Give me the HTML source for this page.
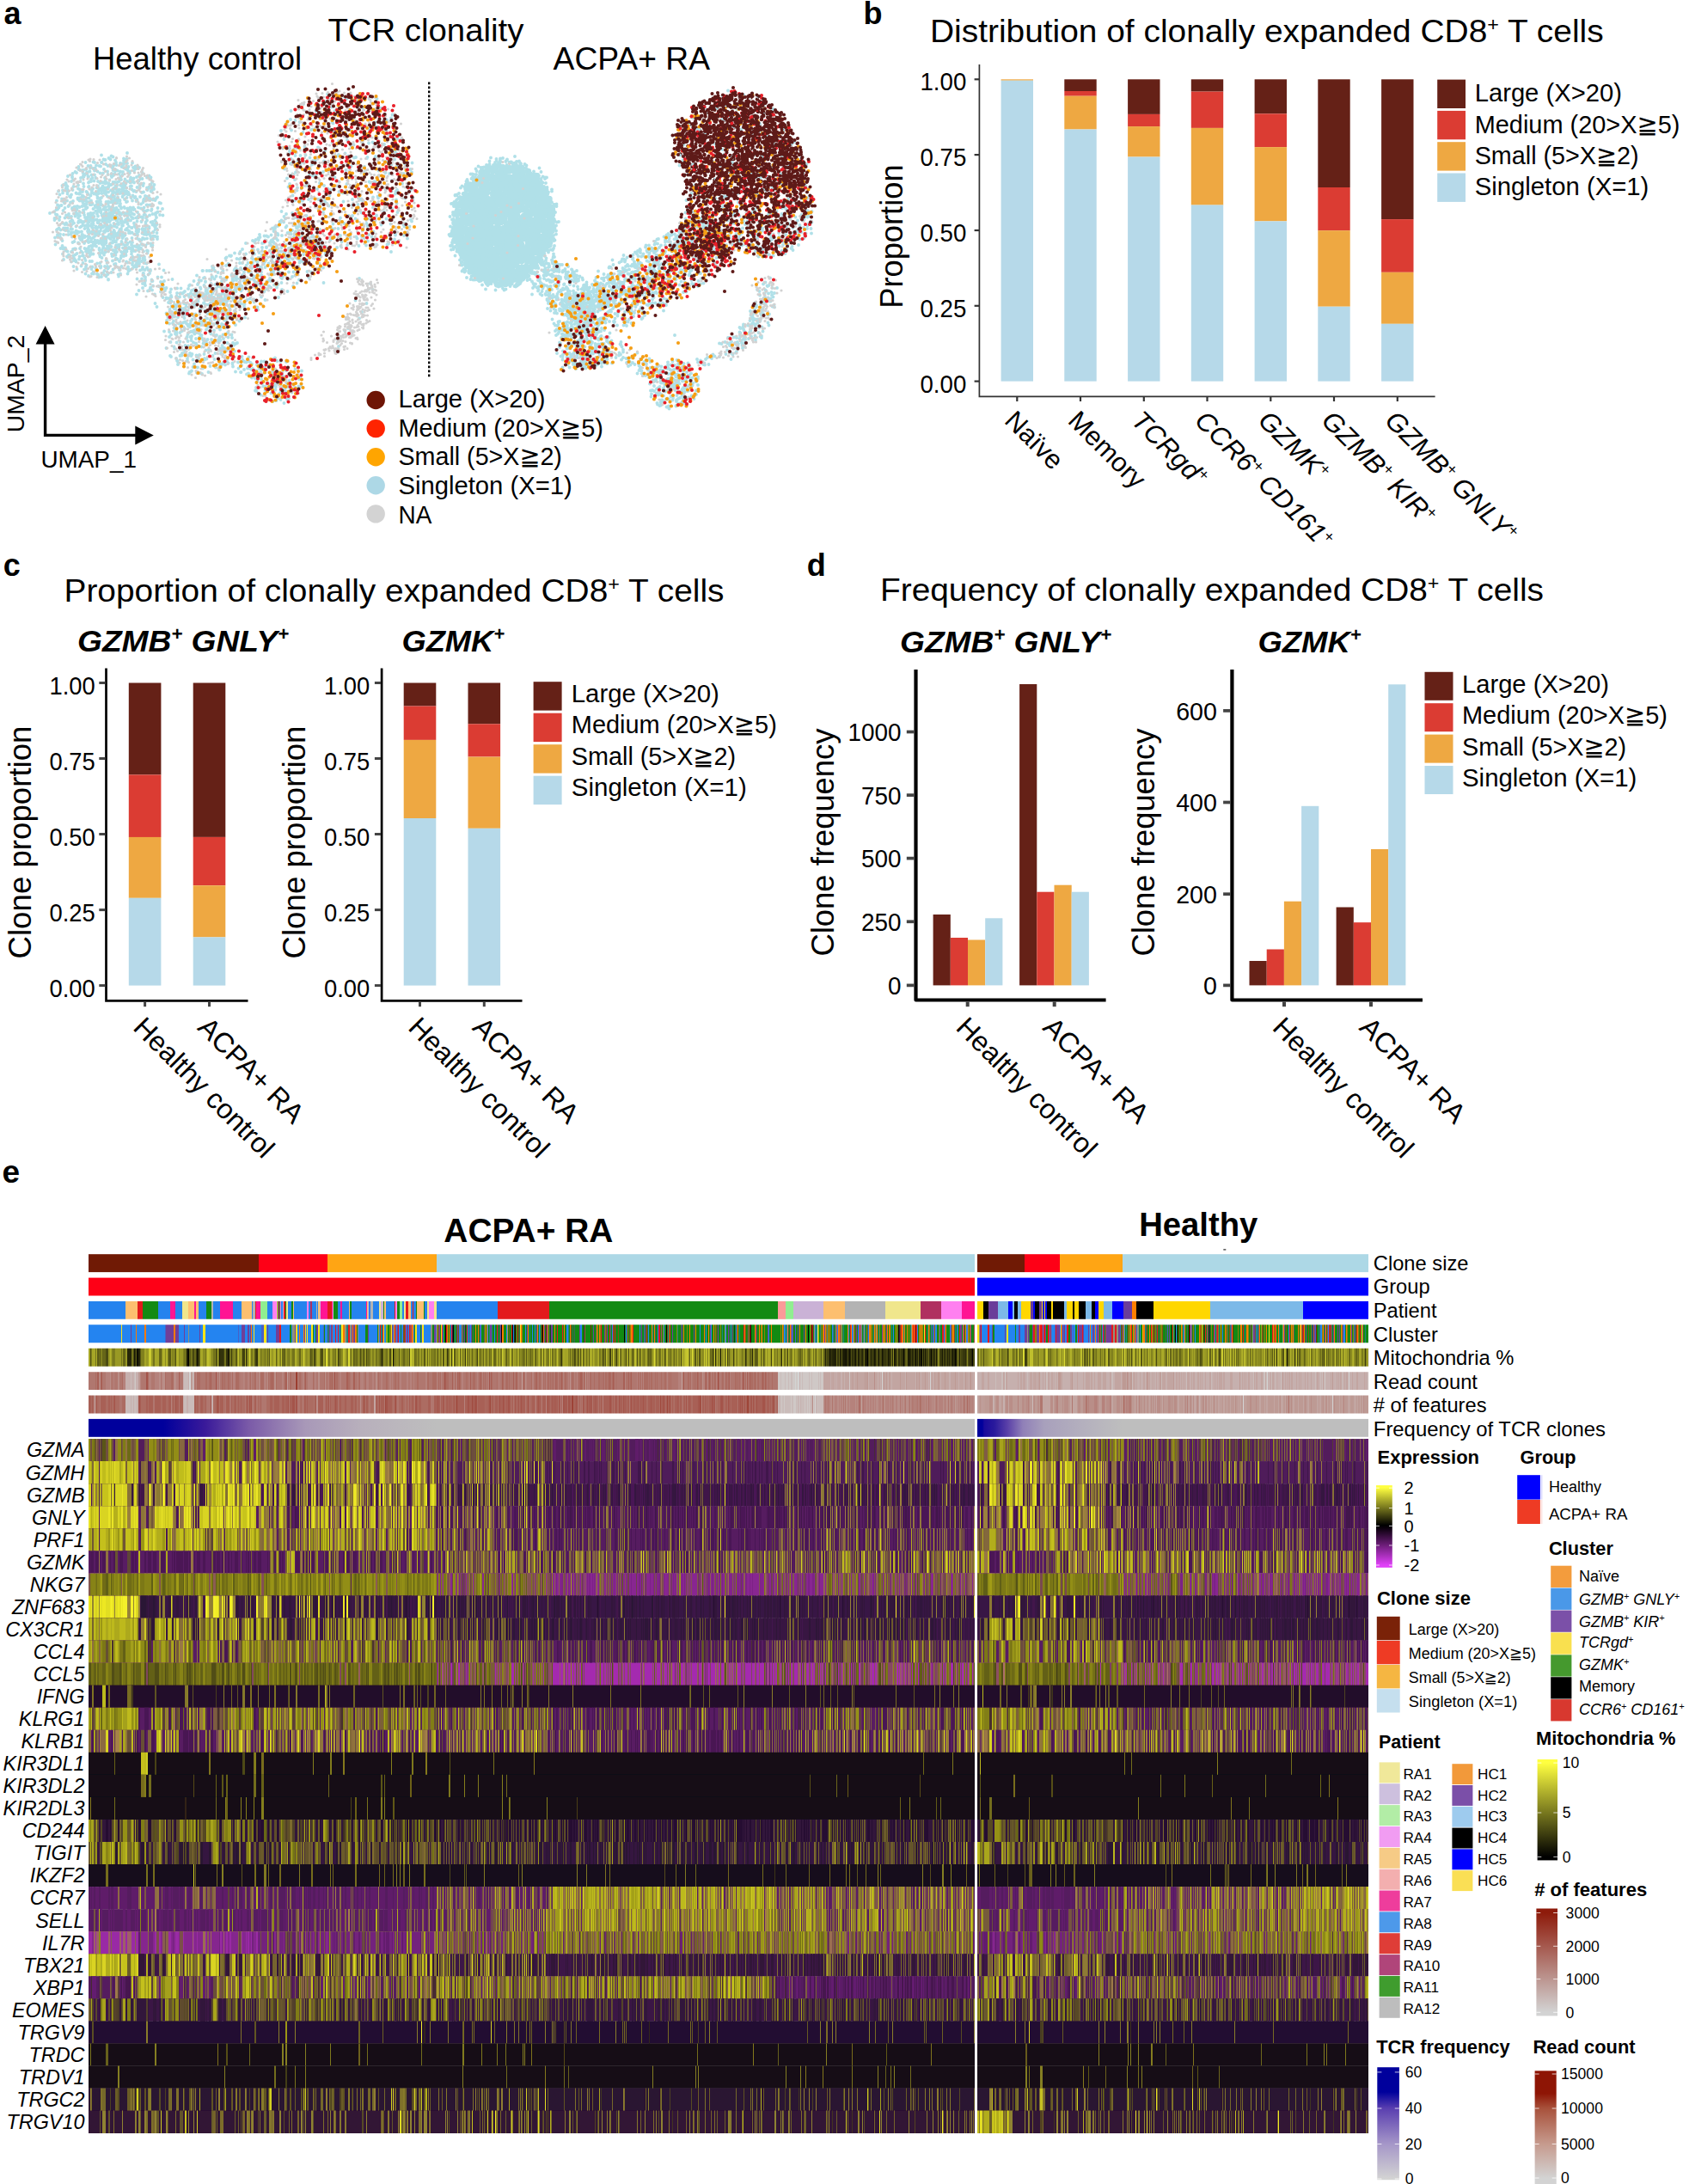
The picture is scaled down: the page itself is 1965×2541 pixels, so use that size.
<!DOCTYPE html>
<html><head><meta charset="utf-8"><title>Figure</title><style>html,body{margin:0;padding:0;background:#fff}svg{display:block}</style></head><body>
<svg width="1965" height="2541" viewBox="0 0 1965 2541" font-family="'Liberation Sans', 'DejaVu Sans', sans-serif" fill="#000">
<text x="4.5" y="28" font-size="36" font-weight="bold" textLength="20" lengthAdjust="spacingAndGlyphs">a</text>
<text x="381.4" y="48.2" font-size="36.6" textLength="228" lengthAdjust="spacingAndGlyphs">TCR clonality</text>
<text x="108" y="81.4" font-size="36.4" textLength="243" lengthAdjust="spacingAndGlyphs">Healthy control</text>
<text x="643.6" y="81.4" font-size="36.4" textLength="182.4" lengthAdjust="spacingAndGlyphs">ACPA+ RA</text>
<path d="M499.2 95.6V439" stroke="#000" stroke-width="2.4" stroke-dasharray="2.7 2.3" fill="none"/>
<path d="M52.6 398V506.4H160" stroke="#000" stroke-width="3.4" fill="none"/>
<path d="M52.6 379L41.6 400.5H63.6Z M178.8 506.4L157.3 495.4V517.4Z" fill="#000"/>
<text x="47.4" y="543.5" font-size="28" textLength="111.6" lengthAdjust="spacingAndGlyphs">UMAP_1</text>
<text transform="translate(28.4 503.3) rotate(-90)" font-size="28" textLength="113.7" lengthAdjust="spacingAndGlyphs">UMAP_2</text>
<circle cx="437.2" cy="465.5" r="10.7" fill="#6e1505"/>
<text x="463.5" y="474.2" font-size="29" textLength="171" lengthAdjust="spacingAndGlyphs">Large (X&gt;20)</text>
<circle cx="437.2" cy="498.6" r="10.7" fill="#ff2400"/>
<text x="463.5" y="507.8" font-size="29" textLength="238.5" lengthAdjust="spacingAndGlyphs">Medium (20&gt;X≧5)</text>
<circle cx="437.2" cy="531.7" r="10.7" fill="#ffa500"/>
<text x="463.5" y="541.4" font-size="29" textLength="190.4" lengthAdjust="spacingAndGlyphs">Small (5&gt;X≧2)</text>
<circle cx="437.2" cy="564.8" r="10.7" fill="#add8e6"/>
<text x="463.5" y="575" font-size="29" textLength="202.2" lengthAdjust="spacingAndGlyphs">Singleton (X=1)</text>
<circle cx="437.2" cy="597.9" r="10.7" fill="#d3d3d3"/>
<text x="463.5" y="608.6" font-size="29" textLength="38.8" lengthAdjust="spacingAndGlyphs">NA</text>
<g transform="scale(.5)" fill="none" stroke-linecap="round">
<path d="M1198 383h0m-74 17h0m10-2h0m2-8h0m7 2h0m4 5h0m10-10h0m1 14h0m8-1h0m2-11h0m6 13h0m1-10h0m9 6h0m5-6h0m5 1h0m2 5h0m8 4h0m2-11h0m8 0h0m2 9h0m13-1h0m27 32h0m-9-22h0m0 11h0m0 7h0m-8 4h0m-3-22h0m-3 10h0m-7-1h0m-3-6h0m-5 19h0m-2-20h0m-2 12h0m-6 5h0m-4-18h0m-1 9h0m-4-10h0m-1 12h0m-2 10h0m-8-18h0m-4 7h0m0 10h0m-8-8h0m0 6h0m-1-16h0m-8 0h0m0 8h0m-2 8h0m-8-17h0m-2 20h0m-1-8h0m-7 8h0m-1-12h0m-1-8h0m-7 20h0m-1-21h0m-3 8h0m-7 12h0m-1-7h0m-1-10h0m-6-2h0m-5 6h0m0 11h0m-8-9h0m0 9h0m-11 2h0m-8 1h0m-4 21h0m3-13h0m10 13h0m1-12h0m6 2h0m2 11h0m10-1h0m4-11h0m7 0h0m1 10h0m6-4h0m3-9h0m9-1h0m3 11h0m9-6h0m1 9h0m5 1h0m6-14h0m7 10h0m2-11h0m9 4h0m0 11h0m9-10h0m0 8h0m11 1h0m1-13h0m5 12h0m3-10h0m8 12h0m4-20h0m0 11h0m10-4h0m0 9h0m7-9h0m3 12h0m8-8h0m0 5h0m11 2h0m1-8h0m10 21h0m-1 16h0m-2-11h0m-9 4h0m-2-11h0m-7 7h0m-3-5h0m-9-1h0m0 6h0m-6-7h0m-2 9h0m-2 9h0m-6-1h0m-1-16h0m-5 5h0m-9 2h0m-1-9h0m-5 18h0m-3-15h0m0 4h0m-7-7h0m-3 19h0m-2-10h0m-6-6h0m0 9h0m-8-9h0m-3 6h0m-3 10h0m-5 0h0m-4-21h0m0 13h0m-8-10h0m0 12h0m0 5h0m-8-17h0m-2 8h0m-2 9h0m-9-15h0m0 16h0m-1-6h0m-8-4h0m-1-6h0m-6 14h0m-2-5h0m-1-13h0m-7 1h0m-2 18h0m-3-8h0m-7-2h0m-3-7h0m-6 11h0m-3-13h0m-2 20h0m-6-7h0m-3-9h0m-10 14h0m0 21h0m2-6h0m10-1h0m1-11h0m1 20h0m5-8h0m3 11h0m8-22h0m3 10h0m2 7h0m7-11h0m3 14h0m7-2h0m1-8h0m8 7h0m1-10h0m1-7h0m9 18h0m1-6h0m11-4h0m1 11h0m10-9h0m0 8h0m6 3h0m2-12h0m8-1h0m3 9h0m6 1h0m2-18h0m3 7h0m4 9h0m6-8h0m4 9h0m5-9h0m7-7h0m3 6h0m1 15h0m5-13h0m4 9h0m6 0h0m1-6h0m9-12h0m2 10h0m2 10h0m7-19h0m2 6h0m0 10h0m6 5h0m1-12h0m2-8h0m9 4h0m0 11h0m10-10h0m0 11h0m1 13h0m-2 6h0m-6-7h0m-1 8h0m-9 2h0m-5-10h0m-5 2h0m-4 5h0m-6-7h0m-5 10h0m-9-9h0m0 9h0m-10-2h0m-1-11h0m0 19h0m-8-16h0m-2 11h0m-6-10h0m-3 6h0m-7 2h0m-1-8h0m-7-2h0m-5 12h0m-5-2h0m-5-12h0m-6 2h0m-2 7h0m-8 4h0m-4-8h0m-10-6h0m0 10h0m-7-10h0m-2 15h0m-7-14h0m-3 14h0m-6-12h0m-3 13h0m-8-13h0m-4 8h0m-6-9h0m-2 12h0m-7-8h0m-3 5h0m-11-6h0m-2 7h0m-5 2h0m-2-9h0m-8 7h0m-2 19h0m1-6h0m1 15h0m8-15h0m0 18h0m1-10h0m7 11h0m3-20h0m1 6h0m5-5h0m3 8h0m2 11h0m5-1h0m1-12h0m2-5h0m10-1h0m0 11h0m8 7h0m1-12h0m3-9h0m7 3h0m2 11h0m8 8h0m1-8h0m1-10h0m8-2h0m1 11h0m3 5h0m4-15h0m3 8h0m3 11h0m5-9h0m2-9h0m8-2h0m0 17h0m2-8h0m8-9h0m1 8h0m1 9h0m8-20h0m4 22h0m1-10h0m4 11h0m3-23h0m1 10h0m7 4h0m3-12h0m8 13h0m0 8h0m11 0h0m1-13h0m1-7h0m6 20h0m2-11h0m1-8h0m6 5h0m2-9h0m3 23h0m9-12h0m2-11h0m5 12h0m1-8h0m1 17h0m8-12h0m1-8h0m-7 41h0m-2-10h0m-8-8h0m-3 17h0m-1-6h0m-8-2h0m-2 12h0m-6-3h0m-4-10h0m-6 3h0m0 5h0m-10 4h0m-1-15h0m-8-5h0m-6 6h0m0 11h0m-4-2h0m-5-7h0m-10 1h0m-1 8h0m-4-12h0m-2 13h0m-9 1h0m-3-11h0m-8 0h0m-1 9h0m-1-17h0m-8 18h0m-4-12h0m-7 5h0m-2 4h0m-9-6h0m0 10h0m-8-10h0m0 11h0m-2-19h0m-8 9h0m-1 6h0m-8-16h0m-3 6h0m-1 15h0m-10-11h0m0 6h0m-6-6h0m-3 6h0m-9-10h0m0 14h0m-9-4h0m-2-8h0m-6-2h0m9 23h0m6 9h0m1-13h0m2 20h0m6-9h0m1-9h0m2 20h0m8-11h0m3-9h0m1 20h0m8-10h0m3-7h0m7-2h0m1 12h0m7-4h0m4-9h0m9 4h0m2 10h0m6-5h0m3-7h0m1 16h0m8-16h0m0 8h0m7-2h0m2-6h0m7 10h0m1-9h0m3 16h0m8-17h0m3 10h0m7 6h0m2-20h0m1 12h0m6 10h0m2-19h0m1 11h0m8 0h0m3-12h0m5 10h0m3-6h0m9 0h0m1 16h0m1-6h0m7-13h0m4 7h0m6-8h0m0 10h0m2 8h0m7-8h0m4-10h0m-9 28h0m-11-4h0m0 17h0m-2-10h0m-7 3h0m-1 7h0m-8-13h0m-5 14h0m-1-21h0m-6 3h0m-1 20h0m-2-16h0m-8 16h0m-2-14h0m-7 0h0m-4 8h0m-9-15h0m0 8h0m-1 10h0m-9-8h0m0 6h0m-5-16h0m-1 9h0m-4 10h0m-5-20h0m0 11h0m-4 6h0m-9-9h0m-1 10h0m-6-2h0m-2-16h0m-2 6h0m-8-7h0m0 13h0m-1 8h0m-7-20h0m-1 11h0m-4 10h0m-6-21h0m-2 10h0m-3 6h0m-4-8h0m0 12h0m-12-12h0m0 9h0m7 14h0m11 0h0m2 9h0m10-9h0m1 10h0m5 0h0m5-14h0m6 11h0m2-7h0m9 8h0m1-9h0m7-3h0m4 14h0m6-4h0m2-10h0m9 1h0m4 12h0m7-14h0m2 12h0m7-7h0m4 7h0m6-7h0m4 7h0m8-10h0m3 12h0m5-12h0m1 13h0m9-15h0m-19 21h0m-8 4h0m-10-2h0m-9 8h0m-1-9h0m-11 12h0m-3-9h0m-5 0h0m-3 10h0m-8 0h0m-4-12h0m-7 1h0m-8-1h0m-3 8h0m-6-10h0m-12 2h0" stroke="#b0e0e8" stroke-width="15"/>
<path d="M1782 237h0m-12 1h0m-8-7h0m-10 6h0m-5-10h0m-5 3h0m-5 6h0m-11-6h0m-4-3h0m-21 4h0m-11 8h0m-1-8h0m-6-2h0m-9 4h0m-16 0h0m-38 19h0m0 11h0m8-21h0m6 10h0m4-4h0m5-8h0m1 21h0m2-5h0m4-16h0m3 12h0m4 2h0m7-11h0m4 7h0m4 10h0m6-19h0m5 7h0m7-1h0m3 16h0m9-13h0m2 13h0m8 0h0m2-21h0m4 1h0m11-2h0m3 8h0m1 10h0m7-12h0m2 15h0m5-9h0m6 5h0m4-10h0m1-8h0m6 20h0m4-12h0m9 3h0m0 11h0m10 1h0m10-3h0m19 17h0m-2 4h0m-4-7h0m-6-1h0m-12-1h0m-19 0h0m-1 6h0m-12-7h0m0 6h0m-7-6h0m-1 11h0m-14 0h0m-1-8h0m-9-5h0m-11 9h0m-6-1h0m-5-10h0m-6 1h0m0 15h0m-6-15h0m-6 11h0m-7-5h0m-1-10h0m-10 7h0m-7 11h0m-5-9h0m-6-3h0m-11 1h0m-3 8h0m-7-8h0m-12-3h0m0 19h0m-1-4h0m-8-12h0m-7 13h0m-14 9h0m0 15h0m3-5h0m6-2h0m1 10h0m9-22h0m6 15h0m5-7h0m4 14h0m4-9h0m14 2h0m5 7h0m1-19h0m1 7h0m13-7h0m8 5h0m3-4h0m2 14h0m4-16h0m0 10h0m0 10h0m9-14h0m4 10h0m9-14h0m0 15h0m2-11h0m4-5h0m1 5h0m3 14h0m8-18h0m0 9h0m14-10h0m2 5h0m0 13h0m4-9h0m2 8h0m2-16h0m10-5h0m1 14h0m14-9h0m3 9h0m11 6h0m1-17h0m5 18h0m2-6h0m2-11h0m8 17h0m3-7h0m12-9h0m7 15h0m2-19h0m0 10h0m14 22h0m-1 5h0m-4-10h0m-8 14h0m-1-9h0m-14 6h0m-1-10h0m-6 10h0m-2-7h0m-7 8h0m-4-5h0m-5-7h0m-4 13h0m-6 2h0m-3-19h0m-4 10h0m-4 1h0m-5-10h0m0 15h0m-6 3h0m-9-12h0m-3 14h0m-8-11h0m0 6h0m-14 0h0m-4-7h0m-16 2h0m-8 1h0m-4 6h0m-4-3h0m-2-3h0m-10 8h0m-3-9h0m-5-10h0m-5 18h0m-7 2h0m-10-20h0m-1 4h0m-1 10h0m-4 4h0m-5-18h0m-10 11h0m-9-2h0m0 12h0m-2-21h0m-10 15h0m-1-12h0m-3 14h0m-11-3h0m-4 23h0m4-14h0m0 23h0m10-5h0m1 3h0m7-17h0m1 19h0m5-8h0m4-10h0m0 16h0m6-16h0m12 18h0m5-12h0m2 4h0m4-9h0m7 5h0m6-3h0m6 5h0m13-1h0m0 9h0m1-21h0m8 1h0m10 12h0m21 4h0m1-17h0m7 15h0m7 0h0m13 3h0m2-17h0m5 0h0m4 9h0m18-5h0m1 13h0m10-18h0m7 4h0m0 10h0m4 9h0m7-3h0m13-19h0m5 11h0m2-4h0m0 12h0m8-16h0m1 6h0m0 12h0m12-19h0m1 17h0m4-4h0m4-6h0m13 13h0m8 18h0m-15-3h0m-1 5h0m-11-5h0m-5 7h0m-4-13h0m-1 12h0m-14 0h0m-7-6h0m-1 2h0m-2-13h0m-6 20h0m-2-15h0m-10 15h0m-3-16h0m-5 15h0m-1-22h0m0 7h0m-8-6h0m0 22h0m-1-11h0m-10 10h0m-3-10h0m-9 6h0m-7 3h0m-2-19h0m-3 10h0m-11-10h0m0 7h0m-1 13h0m-8-10h0m-1-12h0m-9 1h0m0 21h0m-1-12h0m-8-8h0m-2 16h0m-6 3h0m-10-18h0m0 20h0m-8-4h0m-5-6h0m-8-9h0m-4 12h0m-9 1h0m-5 0h0m-2-8h0m-1-9h0m-7 7h0m-9 6h0m-5 9h0m-1-19h0m-11 8h0m-6 6h0m-13 1h0m12 20h0m4-4h0m8-10h0m0 4h0m1 10h0m4-5h0m2 6h0m12 4h0m4-15h0m8 11h0m1-9h0m4 7h0m13-7h0m1 7h0m6-8h0m3 8h0m7 4h0m2-7h0m10 8h0m1-13h0m8 10h0m3-7h0m8 9h0m2-14h0m6 10h0m4-11h0m6 0h0m3 12h0m10-1h0m2-6h0m8 10h0m1-10h0m12 12h0m9-10h0m1 7h0m10-3h0m1-5h0m13-1h0m10 2h0m2 14h0m3-8h0m11-7h0m3-3h0m1 10h0m16-6h0m4-6h0m1 12h0m22-2h0m1 17h0m-3 8h0m-10-14h0m-8 19h0m-1-17h0m-1 14h0m-8 5h0m-1-18h0m-8 0h0m-3 12h0m0 6h0m-6 1h0m-5-12h0m-1-10h0m-18 22h0m-11-18h0m0 18h0m-5-19h0m0 19h0m-2-7h0m-9-1h0m-1-13h0m-6 10h0m-1 11h0m-6-18h0m-4 2h0m0 5h0m-5 11h0m-7-19h0m-2 18h0m-8-6h0m-2-10h0m-8 5h0m-3 10h0m-2-14h0m-4 8h0m-9-3h0m-2 9h0m-8-18h0m-12 19h0m-4-21h0m-3 2h0m-11 9h0m-5 12h0m-1-23h0m-15 13h0m-1-13h0m-8 13h0m-4 6h0m-12-16h0m0 6h0m-10 3h0m0 9h0m1 13h0m8 1h0m3 8h0m10-14h0m8 3h0m3 8h0m3-14h0m7 10h0m7-4h0m11-8h0m2 10h0m1 9h0m8-12h0m4 9h0m6-2h0m1-10h0m2-3h0m22 5h0m4 4h0m2 6h0m7-14h0m6 9h0m3 0h0m5 6h0m5-3h0m11-5h0m5 7h0m12-7h0m5-1h0m8 0h0m11 2h0m10-5h0m1-5h0m1 15h0m39-4h0m4 5h0m15-7h0m4-9h0" stroke="#5e1a18" stroke-width="9.2"/>
<path d="M1694 211h0m70 14h0m-34-4h0m-8 5h0m-28 7h0m-13-11h0m-804 8h0m-18 0h0m-36 3h0m-16-3h0m-6-5h0m-39-6h0m-3 17h0m-15-5h0m-67 27h0m29-16h0m29 16h0m6 2h0m9-14h0m13 13h0m9-10h0m7 9h0m27 5h0m29-12h0m9 0h0m1-1h0m39 1h0m5 1h0m724 5h0m0-1h0m27-4h0m8 11h0m19-11h0m20-4h0m8 12h0m20-6h0m23 6h0m39-11h0m1-7h0m11 5h0m10 7h0m9 24h0m-15-9h0m-5 9h0m-11-12h0m-33-2h0m-42 8h0m-2 2h0m-14 4h0m-5-1h0m-45 5h0m-24-8h0m-699-7h0m-3 8h0m-10 4h0m-4-13h0m-11 19h0m-12 0h0m-51-10h0m-25 2h0m-1 3h0m-1-6h0m-20 13h0m-2-3h0m-26-17h0m-9-2h0m-10 1h0m-26 5h0m-5 13h0m-10-4h0m-11-2h0m-9 9h0m-13 17h0m24-1h0m27 5h0m19-6h0m3-1h0m39-4h0m12 8h0m1-1h0m3 7h0m22-1h0m6-9h0m4-1h0m42 11h0m3-10h0m18-6h0m8 5h0m14 4h0m19-1h0m685-12h0m9 4h0m10 7h0m5-1h0m1 9h0m12 1h0m3-18h0m4-4h0m1 10h0m6-1h0m50 12h0m2-13h0m10 3h0m0 1h0m9 0h0m25 9h0m3-5h0m9-1h0m5 3h0m1-19h0m15 7h0m19-5h0m21 12h0m25 28h0m-5 4h0m-24 0h0m-3-7h0m-32-13h0m-44 20h0m-39 1h0m-2-23h0m-30 20h0m-5 3h0m-23-18h0m-38 7h0m-38-9h0m-632 10h0m-8-2h0m-7 0h0m0 7h0m-15-17h0m-21 16h0m-7-10h0m-5 14h0m-3-2h0m-6-13h0m-3 15h0m-15-2h0m-18-19h0m-11 3h0m-6 11h0m-3-8h0m-17 10h0m-15 4h0m-78-7h0m-33-6h0m-1 5h0m-365 32h0m376-11h0m2 12h0m0-5h0m15 2h0m1-10h0m19-3h0m31 2h0m3 2h0m13 7h0m47 5h0m14-18h0m6-2h0m71-1h0m25 16h0m3 4h0m25-2h0m637-12h0m7-5h0m6 10h0m69 12h0m15-11h0m4 11h0m71-8h0m28-4h0m19-11h0m16 0h0m7 2h0m5 7h0m30 13h0m16 24h0m-13-14h0m-44-6h0m-34 3h0m-13 0h0m-18-5h0m-41 2h0m-10 16h0m0-10h0m0-3h0m-34 0h0m-2 1h0m-9 11h0m-47 6h0m-19-6h0m-4-4h0m-7-12h0m-361 21h0m-9-1h0m-2-2h0m-2-4h0m-6 1h0m-3 7h0m-1-19h0m0 18h0m-4 1h0m-4-6h0m-2 0h0m0 2h0m-3-1h0m-5-7h0m0 1h0m-3 4h0m0-1h0m-7-7h0m-5 8h0m-1-7h0m-1 5h0m0 5h0m-2 0h0m-1 1h0m-2 3h0m-3-13h0m0 5h0m-3 7h0m0-4h0m-10-11h0m-3 15h0m0-7h0m-180 4h0m-17 2h0m-24-10h0m-7 12h0m-13-7h0m-24-12h0m-1 2h0m-18 0h0m-1 2h0m-26-2h0m-4 1h0m-14-4h0m-15 17h0m-7-20h0m-3 3h0m-31 12h0m-20-2h0m-6 1h0m-2 9h0m-5-16h0m-10-6h0m-5 18h0m-7-17h0m-1 21h0m-5-8h0m-6-13h0m-8 18h0m-2-10h0m-1 11h0m-368-2h0m-12 1h0m-1-10h0m-4 8h0m-2-7h0m-1 3h0m0-5h0m0 13h0m-4-1h0m-4-1h0m-10-2h0m-1 5h0m-1-10h0m-3 9h0m-2-17h0m-4-2h0m-2 8h0m-4-3h0m-7 14h0m-1-10h0m-1 0h0m-3-1h0m-4 7h0m-1 0h0m0-17h0m-16 17h0m-3-1h0m-18 1h0m-30 26h0m6-4h0m3 2h0m5-8h0m0-6h0m4 8h0m6 0h0m0 6h0m1-6h0m2 11h0m0 0h0m1 0h0m1-1h0m2-12h0m1-1h0m1 8h0m1 4h0m2-19h0m3 13h0m1 0h0m1-8h0m1-5h0m1 4h0m1 17h0m5-15h0m2 5h0m0 10h0m1-16h0m1 2h0m2-8h0m3 14h0m4-13h0m2 17h0m1-16h0m6 16h0m2-9h0m8 5h0m1 7h0m0-20h0m9 18h0m1-14h0m2 6h0m0-9h0m1-2h0m3 19h0m1-10h0m0 4h0m0-1h0m3-13h0m2 13h0m4 8h0m3-5h0m0-1h0m3-11h0m2 19h0m1-7h0m2-10h0m2 1h0m2 1h0m0 1h0m4-1h0m1 4h0m0-5h0m2-3h0m1 13h0m1 2h0m0 0h0m1-4h0m0 3h0m8-12h0m2 8h0m3-5h0m0-6h0m6 1h0m1 4h0m0 0h0m2-2h0m6 10h0m1 2h0m331-9h0m18 12h0m3 2h0m3-20h0m2 14h0m22-7h0m26 12h0m16-6h0m13-2h0m24-8h0m15 13h0m1-7h0m12-9h0m30 13h0m1-12h0m33 9h0m16 5h0m9 2h0m17-17h0m1 0h0m15 17h0m10 1h0m6-11h0m3 7h0m137 4h0m4 0h0m1 1h0m2 0h0m5-13h0m1 13h0m1-8h0m4-11h0m3 15h0m1 5h0m0-6h0m0-2h0m2-9h0m1 5h0m2 1h0m0 2h0m1 8h0m0-16h0m1 12h0m1 5h0m1-18h0m3 12h0m1-11h0m1 14h0m1 1h0m0-21h0m3 9h0m6 1h0m2 13h0m1-3h0m0-13h0m3 6h0m1-13h0m1 10h0m2-4h0m1 9h0m1-6h0m3-6h0m2-3h0m0 19h0m5-14h0m0-3h0m1 9h0m1 6h0m2-8h0m1 6h0m0-1h0m3-12h0m2 4h0m2 3h0m2 13h0m0-17h0m2-5h0m0 5h0m6-2h0m1 5h0m0 9h0m1-11h0m5 2h0m0 2h0m2 4h0m1-1h0m1-4h0m1 13h0m3-1h0m0-16h0m1 2h0m1 3h0m2 11h0m1-16h0m1 0h0m0 10h0m3-13h0m6 15h0m0-2h0m1-8h0m1 8h0m0-10h0m1 14h0m0-5h0m5-7h0m1 0h0m1-6h0m1 9h0m4 6h0m4 4h0m1-1h0m7-4h0m0 5h0m10 2h0m3-15h0m4 9h0m322-15h0m16-1h0m3 22h0m22-4h0m5-7h0m50-10h0m20 13h0m5-10h0m5 19h0m15-19h0m22 18h0m3-4h0m0 1h0m17-7h0m2 10h0m15-8h0m9-14h0m3 9h0m2-1h0m21 13h0m4-12h0m15-6h0m0 16h0m34 1h0m4 7h0m-48 3h0m-7 12h0m-9-17h0m-20 13h0m-3-9h0m-16 0h0m-3 18h0m-6-19h0m-2 18h0m-43-10h0m-24 11h0m-24-5h0m-3-9h0m-48 14h0m-6-13h0m-8 9h0m-331-14h0m-2 13h0m-2-10h0m0-3h0m-5 12h0m0-14h0m0 14h0m-3-3h0m0 9h0m-1-15h0m-2 6h0m-3-13h0m-1 6h0m0 14h0m-1 1h0m0-5h0m-1 1h0m-1-8h0m-3-6h0m-1 10h0m-2-2h0m-1-10h0m-2 18h0m0-15h0m-1 5h0m0-10h0m0 14h0m-6 6h0m-3-12h0m-4 10h0m0-12h0m-2 8h0m0-2h0m-1-10h0m-1 12h0m-1 1h0m-2-11h0m-2 14h0m0-10h0m-1 11h0m-1 3h0m-2-7h0m0 5h0m0-11h0m-1 2h0m0 4h0m-5-14h0m-1 9h0m-1-6h0m-1 17h0m-1-1h0m-1-5h0m-1 1h0m-2 0h0m-1-16h0m-2 22h0m0-14h0m-1 8h0m-2-2h0m-5 2h0m-1-2h0m0-4h0m0-1h0m-2 5h0m-2 8h0m-2-16h0m0-5h0m-1 8h0m-5-9h0m-1 2h0m0 0h0m0 8h0m-4-9h0m0 11h0m-3-7h0m-2 5h0m0-2h0m0 4h0m-5 10h0m-3-9h0m0-2h0m-2 6h0m-2-8h0m-3 5h0m0 8h0m-1-6h0m0-13h0m-1 14h0m-1-17h0m-2 4h0m-3 16h0m-2 3h0m-3-4h0m-2-1h0m-2-18h0m-3 7h0m0 13h0m-1-11h0m0-1h0m-4-2h0m-1 14h0m0-5h0m-2-6h0m-4-1h0m-4-6h0m-4 7h0m-5 10h0m0 2h0m0-16h0m-4 11h0m0-7h0m0 4h0m-2-9h0m-1 17h0m-1-14h0m-1 1h0m-9 6h0m-1-4h0m-2 4h0m0 7h0m-149-2h0m-5-17h0m-19 10h0m-39 3h0m-3 0h0m-8 2h0m-3-2h0m-24-8h0m-28 13h0m-18-5h0m-10-10h0m-9 3h0m-26 10h0m-15-17h0m-7 1h0m-2-2h0m-34 10h0m-12 10h0m-6-13h0m-309 15h0m-5-6h0m-3 5h0m0-16h0m-4-4h0m-5 4h0m-8 14h0m-3-11h0m-3 12h0m-1-12h0m-2 15h0m-1-23h0m-1 13h0m-5-9h0m-6 13h0m-1-10h0m-1 7h0m-1-5h0m-4 7h0m-1-11h0m-1 12h0m0-7h0m-1 5h0m-6-1h0m-3 5h0m-2-10h0m0 14h0m-2 0h0m-2-4h0m-5-9h0m-1-7h0m-1 20h0m-2-16h0m-1 7h0m-4 2h0m-1 7h0m0-6h0m-5-1h0m-3-16h0m0 19h0m-1-3h0m-3-12h0m-1 18h0m0-21h0m-1 21h0m-3-11h0m-2 10h0m0-2h0m-3-1h0m0 0h0m-3-2h0m-1 1h0m-1 2h0m0-6h0m-1-7h0m-3 11h0m-4-1h0m-2 1h0m-2 1h0m-5-4h0m-5-8h0m-4 7h0m-4-7h0m-3 3h0m0 5h0m-4 1h0m-2 2h0m0-14h0m-1 0h0m-10 0h0m-1 1h0m0-3h0m0 18h0m-1-15h0m-5 2h0m-1 8h0m-5 9h0m-12-12h0m-2-6h0m0-2h0m-2 11h0m-8-12h0m-4 21h0m0-1h0m-1-4h0m-5 4h0m-12 15h0m3 8h0m6-21h0m1 17h0m0-6h0m7-5h0m4 3h0m0 4h0m0-3h0m0 5h0m0 4h0m0-17h0m2 10h0m7 9h0m3-11h0m2-8h0m6 15h0m1 1h0m4-11h0m2 12h0m2-3h0m0-7h0m0 10h0m6 4h0m0-9h0m3-12h0m6 12h0m2 2h0m2 4h0m1-17h0m1-1h0m4 21h0m2-12h0m0 6h0m1-10h0m0 4h0m2 6h0m0-10h0m3 12h0m4-2h0m2 4h0m0-16h0m2 9h0m0 1h0m1-14h0m2 17h0m0-7h0m1-4h0m1 3h0m3-2h0m1 4h0m1 6h0m0-13h0m2-4h0m2 6h0m1 2h0m1 7h0m0-3h0m1-7h0m0 9h0m0 3h0m0-13h0m2 0h0m0 15h0m0-11h0m2-3h0m1 9h0m3-13h0m0 3h0m0 10h0m1-13h0m5 9h0m2 1h0m1 8h0m3-6h0m0 2h0m0-9h0m1-1h0m0 10h0m4-15h0m0 0h0m1 7h0m0 8h0m1 3h0m0-16h0m1 15h0m2-7h0m0 6h0m3-7h0m0-1h0m2 9h0m3-3h0m0 2h0m2-1h0m0-14h0m0 6h0m3 2h0m1-8h0m1 15h0m1 3h0m0-4h0m0-11h0m1-3h0m1 11h0m2-8h0m1 8h0m2 7h0m0-2h0m2-2h0m2 5h0m2-19h0m3-1h0m1 8h0m2 14h0m2-10h0m2-1h0m4 2h0m2-10h0m6 2h0m5 10h0m3-16h0m1 15h0m8-10h0m1 5h0m3-4h0m1-3h0m3-2h0m1 12h0m1-7h0m1 8h0m0-1h0m2-10h0m2 2h0m1 3h0m313-5h0m10 20h0m10-12h0m1-6h0m17 15h0m4-20h0m25 8h0m16-8h0m9 7h0m4 16h0m2-13h0m7-9h0m10 0h0m3 13h0m3 2h0m6 1h0m1-2h0m19-7h0m14-3h0m29 11h0m24 6h0m12-13h0m14 4h0m9 6h0m1-5h0m3-4h0m31 1h0m104 11h0m0 1h0m4-1h0m0-1h0m5-3h0m4-13h0m3-4h0m2 18h0m1-1h0m1 4h0m2-19h0m2 3h0m1 6h0m0-1h0m1-11h0m0 3h0m0 14h0m2-9h0m0 4h0m3-2h0m0 1h0m1 0h0m3 5h0m1 6h0m4-13h0m1-1h0m0-1h0m4 6h0m0-9h0m0-1h0m3 18h0m1-3h0m1-12h0m0-4h0m2 15h0m0 1h0m1-5h0m4 4h0m2-16h0m0 22h0m3-6h0m1 1h0m0-7h0m5-4h0m0 16h0m1-2h0m1-4h0m0-10h0m4-3h0m1-3h0m1 18h0m0-12h0m0 2h0m0 4h0m4 4h0m2-13h0m3 17h0m0 2h0m2-14h0m1-8h0m7 11h0m2-5h0m3-5h0m3 19h0m0-4h0m1-4h0m0-11h0m1 10h0m1-5h0m2 9h0m0-9h0m4 15h0m2-3h0m1 4h0m0 0h0m3-19h0m1 5h0m1-6h0m0 14h0m3 3h0m3-4h0m1 0h0m0-9h0m1 5h0m0-9h0m2 1h0m0-1h0m3 11h0m1 6h0m6-18h0m1 5h0m5 4h0m0-8h0m1 4h0m1-4h0m1 16h0m2-12h0m1-3h0m0 12h0m1 1h0m0-7h0m1-10h0m3 5h0m1 5h0m8 9h0m1-10h0m1 1h0m0-10h0m1 6h0m1 7h0m1-3h0m2 11h0m0-3h0m4-1h0m2-10h0m1 16h0m1-10h0m0-5h0m1 5h0m1 1h0m0-4h0m0-1h0m0 1h0m3-8h0m1 13h0m1-13h0m2 9h0m0 10h0m1-19h0m1 21h0m0-17h0m0 5h0m0-3h0m1 9h0m3 2h0m0-15h0m1 6h0m1 5h0m0 3h0m1 3h0m1-15h0m2 2h0m1-3h0m4 13h0m0-16h0m0 20h0m0-8h0m4 7h0m2 2h0m1-10h0m0-9h0m0 8h0m0-3h0m1 12h0m1-3h0m1-3h0m8-2h0m0-4h0m325 9h0m15 2h0m30-3h0m20 3h0m1 0h0m19-3h0m4-16h0m6 16h0m12 1h0m11-6h0m32 8h0m8-1h0m6 0h0m3-11h0m7 3h0m10 2h0m1-1h0m3-8h0m11 11h0m34-10h0m33-4h0m12 25h0m-2 17h0m-2-18h0m-5 21h0m0-16h0m0 0h0m-8 14h0m-6-14h0m-17 6h0m-13-5h0m-13 13h0m0-5h0m-10-1h0m-1-14h0m-2 1h0m-1 20h0m-65-21h0m-13 16h0m-2 6h0m-2-8h0m-2 7h0m-5-6h0m-8-12h0m-19-2h0m-2 4h0m-5-4h0m-3 16h0m-5-13h0m-11 2h0m-1 4h0m-6 3h0m-11-10h0m-7 5h0m-1-5h0m0 4h0m-31-5h0m-11 8h0m-302 9h0m-3 4h0m-1-3h0m-2 0h0m-5-5h0m-1-1h0m-7-7h0m0 6h0m-3-13h0m-1 14h0m0-4h0m-1 0h0m0 5h0m-1-2h0m0-6h0m-2 9h0m-1-11h0m0 13h0m-3 2h0m-1-20h0m-2 5h0m-1 10h0m-1 2h0m-5 4h0m0-15h0m0 12h0m-2-11h0m0 5h0m-2-7h0m-1 16h0m0 1h0m-3-16h0m0 13h0m-3-6h0m0-1h0m-2 10h0m-4-17h0m0 0h0m-2 0h0m0 2h0m0 10h0m0-17h0m-5 10h0m-1 6h0m-3-10h0m-1 0h0m-2-6h0m-2 14h0m0-8h0m-2 12h0m0-10h0m-1-4h0m-2 10h0m0 4h0m0-4h0m-5 0h0m-2 9h0m-1-13h0m-2 6h0m-1 1h0m0 4h0m0 0h0m0-2h0m-2-6h0m0-6h0m0 13h0m-1 0h0m0-6h0m0 1h0m-7-3h0m-3 1h0m0 5h0m0-6h0m-1 2h0m-1 1h0m-2 0h0m-2-2h0m-1-9h0m-1 6h0m-2-3h0m-1 7h0m-3 0h0m0 8h0m-1-10h0m0-1h0m0 8h0m0-14h0m0 17h0m-1-21h0m-5 9h0m0-6h0m-1 4h0m0 11h0m-1-7h0m0 2h0m-2-2h0m-4-10h0m-2 9h0m-4 5h0m0-10h0m-1 16h0m0-15h0m-2 7h0m-4-11h0m-5 10h0m-1-8h0m-5 5h0m0 0h0m-2 12h0m-3 0h0m0-22h0m-1 20h0m-2-7h0m-3 3h0m-3-9h0m0 1h0m-3 8h0m0 6h0m-1-6h0m-1 5h0m0-17h0m-4 7h0m-1 1h0m-2-11h0m-1 13h0m-1 5h0m-2-14h0m0-2h0m-3 10h0m0-12h0m-2 7h0m0 0h0m-1 0h0m-2 3h0m-1 7h0m0-13h0m0 9h0m-1 2h0m0-1h0m-2 5h0m-2 3h0m0-10h0m-1-1h0m0-6h0m-2 16h0m-1-6h0m-1 1h0m-3 4h0m-1-11h0m0 2h0m-2 1h0m0-7h0m0 12h0m-1 0h0m0-12h0m0 17h0m-3 0h0m-2-9h0m-1-1h0m-1 9h0m-5-18h0m0 12h0m0-2h0m-1-12h0m-1 16h0m0-3h0m-2-11h0m-3 13h0m0-9h0m-2 14h0m0-12h0m0 13h0m-4-6h0m-1-3h0m0 0h0m-1 9h0m-2-6h0m-4 1h0m-89-14h0m0 6h0m-19-5h0m-19 12h0m-1-8h0m-25 8h0m-5-3h0m0-1h0m-12-8h0m-1-4h0m-11 2h0m-24 8h0m-3-4h0m-2 2h0m-5-5h0m-1 16h0m-13-12h0m0 13h0m-21-8h0m-34 10h0m-4-5h0m-4-3h0m-2-5h0m-6 1h0m-2 6h0m-6-9h0m-16-3h0m-7 3h0m-13-4h0m-1 7h0m-7 4h0m0-3h0m-10-2h0m-2 1h0m-311 6h0m-3-1h0m-5-13h0m-3 3h0m-2 4h0m-5 12h0m0-13h0m-5-1h0m-2 13h0m-1-16h0m-2-1h0m-2 3h0m-1-5h0m0 19h0m-2 0h0m-3-21h0m-1 9h0m-2-2h0m-1 3h0m-1 5h0m-5 4h0m-2-17h0m-7 9h0m0-3h0m-2 4h0m-2-10h0m-2 2h0m-5 7h0m-3-7h0m-9 9h0m-1-9h0m-1 10h0m-4-6h0m-4-8h0m-1 2h0m-5 16h0m-1-7h0m0-1h0m-1 13h0m-3-15h0m-1-3h0m0-2h0m-1 13h0m-1-2h0m-2-4h0m0 7h0m-2-9h0m-1 6h0m-1-10h0m0 9h0m0-12h0m-2 16h0m-1 0h0m-2-6h0m-2-9h0m0-2h0m0 6h0m0 0h0m-1 8h0m-1-12h0m0 1h0m-1 0h0m-1 12h0m0 0h0m-3-2h0m-1 5h0m-1-17h0m-3 13h0m-10 7h0m-1 0h0m0-17h0m-2 9h0m0 4h0m-1-7h0m-1-4h0m0 5h0m-1 9h0m0-4h0m0 5h0m-2-8h0m-2-8h0m0-3h0m-2 11h0m0 7h0m-3 3h0m-1 0h0m-6-5h0m-2 2h0m-1-9h0m-1 9h0m0-3h0m0-2h0m-2 5h0m-1-6h0m-1-9h0m-5 0h0m0 8h0m-1 6h0m-1-1h0m-1-8h0m-2 0h0m-1 10h0m-1-18h0m-2 10h0m0 3h0m0 1h0m-3-5h0m-1-7h0m-4 1h0m0 6h0m-3-3h0m-1-1h0m0-2h0m-11 7h0m-5 3h0m-1 0h0m0-14h0m0 2h0m-2-2h0m-1 21h0m-5-11h0m-6-3h0m0 9h0m-1-4h0m-1-4h0m-1 3h0m-3-5h0m-1 15h0m-1 0h0m-6 1h0m-2-2h0m-2-10h0m-16 29h0m10-3h0m4 6h0m1-11h0m0 0h0m2 12h0m1-13h0m3-4h0m10 7h0m4-6h0m3 17h0m5-21h0m1 18h0m8-14h0m0 2h0m1 2h0m3 9h0m1-16h0m0 0h0m1 16h0m1 1h0m0-17h0m0 6h0m0 16h0m2-15h0m0 3h0m2-4h0m0 10h0m1-17h0m1 20h0m4-18h0m1 12h0m0 8h0m5-22h0m3 9h0m1 5h0m1 6h0m2-20h0m1 0h0m1 6h0m0-1h0m3-2h0m2 15h0m5-1h0m0 4h0m1-3h0m0-2h0m3 7h0m1-6h0m2-11h0m1 10h0m4-14h0m1 9h0m3 7h0m1-15h0m0 7h0m1 2h0m0 11h0m1-18h0m0-1h0m1-4h0m1 10h0m1 2h0m1-7h0m2 10h0m0-5h0m2 11h0m1 1h0m1 1h0m1-2h0m1-14h0m1-6h0m1 16h0m0 2h0m0-1h0m2 2h0m1-10h0m0-8h0m1 7h0m2 10h0m0-1h0m1 3h0m3-21h0m0 8h0m0 15h0m1-7h0m0 6h0m3-19h0m1 3h0m1 11h0m0 0h0m0-3h0m1-5h0m1 12h0m1-20h0m0 19h0m0-4h0m2-2h0m1 1h0m1-9h0m0 3h0m1 3h0m1-6h0m2-2h0m1 0h0m1 13h0m1-9h0m1 8h0m1-7h0m3 5h0m0 0h0m0 5h0m1 2h0m1-21h0m2 5h0m0 0h0m0-2h0m0 16h0m4-4h0m3-13h0m0 14h0m1 0h0m0-12h0m0 17h0m1-3h0m5-1h0m0 3h0m1-15h0m0 13h0m0-11h0m0 8h0m1-9h0m1 6h0m0 8h0m2-7h0m1 7h0m1-17h0m1 3h0m0 6h0m0-5h0m4 10h0m0-10h0m2-4h0m1 5h0m1 11h0m1-12h0m7 7h0m2-11h0m1 18h0m5-16h0m6 5h0m0 0h0m1 10h0m0-17h0m3 17h0m2-9h0m4-2h0m4 12h0m4-11h0m1-3h0m2 11h0m7 2h0m0-4h0m1 0h0m3-2h0m1-10h0m0 9h0m5 7h0m6-14h0m1 15h0m276-9h0m11 6h0m14-2h0m12-5h0m3 5h0m2 7h0m16-1h0m32-17h0m7 9h0m18 7h0m41 1h0m9 0h0m15-18h0m1 6h0m5 5h0m27-12h0m7 4h0m1 14h0m0 1h0m17-10h0m19-7h0m13 9h0m21 3h0m108 2h0m0-5h0m2-14h0m0 22h0m1-1h0m0-6h0m2 2h0m1-5h0m1 6h0m0 1h0m1-17h0m0 5h0m0 12h0m1-3h0m5-14h0m0-2h0m5 1h0m0 17h0m0 3h0m0-12h0m2 9h0m1-17h0m1 12h0m0-12h0m2 22h0m0-2h0m0-17h0m2 14h0m0-17h0m3 10h0m1 9h0m0-14h0m1-6h0m0 13h0m2-3h0m10 2h0m3-3h0m1 14h0m1-14h0m1-7h0m1-1h0m0 17h0m2-1h0m1-15h0m3-1h0m2 7h0m1-6h0m0 0h0m1 1h0m0 0h0m1 8h0m0 5h0m1-2h0m1-13h0m1 0h0m1 16h0m1-2h0m2-13h0m0 10h0m2-12h0m1 13h0m0-2h0m0 5h0m1 7h0m3-14h0m8-4h0m2 11h0m2-12h0m1 12h0m1-6h0m1-4h0m1 16h0m3-6h0m0 2h0m1-2h0m3-4h0m1-11h0m0 9h0m1-1h0m1-3h0m7 13h0m3-1h0m3-17h0m0 22h0m8-7h0m1-11h0m1 12h0m0 2h0m1-12h0m0-6h0m11 14h0m3-4h0m3 9h0m1 0h0m0 2h0m1-9h0m0-7h0m0 17h0m1-8h0m1-5h0m2 9h0m2 2h0m4-20h0m3 9h0m10-2h0m0 7h0m4-2h0m1-10h0m2 11h0m0 5h0m1 1h0m2-10h0m2-9h0m1 12h0m1-1h0m3-5h0m1-4h0m2 12h0m1 0h0m4-9h0m1 6h0m0 7h0m1-2h0m0-8h0m1-7h0m0 21h0m2-12h0m1 7h0m0-5h0m1-2h0m1-6h0m1 16h0m3-14h0m0 8h0m4 6h0m2-7h0m1-5h0m2 13h0m1-10h0m4-3h0m3-4h0m1 13h0m2-7h0m1 1h0m0-6h0m0 15h0m4-20h0m1-1h0m3 18h0m2-18h0m2 14h0m3-14h0m300 15h0m5-12h0m1 13h0m6-3h0m7 0h0m1 10h0m6-4h0m13-5h0m2 8h0m11-1h0m10-1h0m9 1h0m7-15h0m7 3h0m2-8h0m19 20h0m6-2h0m1-4h0m8-4h0m5 12h0m16-8h0m14-1h0m6-5h0m4-6h0m3 14h0m24 2h0m7-1h0m11-5h0m1-2h0m6 12h0m5-19h0m1 14h0m1-14h0m7-1h0m2 4h0m3 4h0m6-9h0m1 14h0m1 0h0m4-8h0m21 12h0m10-7h0m1 10h0m0-13h0m1 12h0m3-11h0m1 3h0m0 9h0m5-7h0m3-4h0m0 25h0m-2-2h0m-2 7h0m-3-2h0m-3-16h0m0 21h0m0-20h0m-8 6h0m-3 2h0m-7 11h0m-5-11h0m-3 7h0m-2-15h0m-13 4h0m-2 12h0m-11-9h0m-4-6h0m-1 18h0m-8-5h0m-22 1h0m-4-15h0m-10 15h0m-2-10h0m-8 8h0m-16-5h0m-11 2h0m-5-9h0m0 16h0m-4-7h0m-21 5h0m-5-1h0m-1 0h0m-10-6h0m-11 8h0m-6-3h0m-2 4h0m-15-4h0m-3-2h0m-1 11h0m0-18h0m-1 1h0m-5 13h0m-1-13h0m0 15h0m-2-8h0m-4-12h0m-1 0h0m0 14h0m-1-9h0m-2 17h0m0-22h0m-2 7h0m0 14h0m-1-7h0m-2-6h0m-3-5h0m-1 8h0m-3 8h0m-1-9h0m-1-9h0m-9 11h0m-3-13h0m-4 11h0m-1 3h0m-3 7h0m-1-1h0m-6 1h0m-2-16h0m0 18h0m-5 0h0m-1-3h0m-2-1h0m-287-7h0m-4 1h0m-2 8h0m-3-10h0m-1 10h0m-3-9h0m-1-10h0m-1-2h0m0 15h0m-1-3h0m0 3h0m-2-2h0m-3-6h0m-2-4h0m-1-1h0m-1 15h0m0-2h0m-4-15h0m0 10h0m-2 9h0m-1 2h0m-1-20h0m-3 21h0m0-21h0m-1 9h0m-7-10h0m-4 11h0m-2-4h0m0-5h0m-1 3h0m-2-1h0m0 9h0m-1-11h0m-5 4h0m-1 11h0m-1-12h0m-2 15h0m0-5h0m-4 1h0m0 0h0m-1-11h0m-2 16h0m-2-15h0m-2-1h0m0 10h0m-2 0h0m-2 3h0m-3 0h0m0 3h0m-1-8h0m-3 7h0m0-11h0m-1-8h0m-2 7h0m-1-3h0m-1-5h0m-3 13h0m-3 8h0m-1 0h0m-1-16h0m-3 0h0m0 13h0m-1-12h0m-3 17h0m0-18h0m-2-2h0m-1 16h0m-2 2h0m0-12h0m-2 10h0m-2-5h0m-2-3h0m0 4h0m-1 8h0m-1-5h0m-2 3h0m-2-5h0m-2 2h0m-2-15h0m-2 0h0m-1 9h0m-2-4h0m0-6h0m-3 1h0m0 0h0m-3 6h0m-1-6h0m-1 14h0m-3-13h0m-1 14h0m-1 5h0m-1-2h0m-3-14h0m0 0h0m-1-6h0m-2-1h0m0 10h0m-2-9h0m-5 6h0m-2 12h0m0-14h0m-3 12h0m-3 2h0m0-5h0m0-14h0m-1 8h0m-1 10h0m0 5h0m-1-14h0m0 12h0m-1-1h0m-2-11h0m0 10h0m-1 3h0m0-14h0m-1 12h0m-1 1h0m-2-21h0m-2 15h0m-3-5h0m-2-1h0m0 12h0m-1-13h0m-2 4h0m0-11h0m-2 6h0m0 11h0m-1-8h0m-4-3h0m0-2h0m-1 4h0m0 2h0m-1 5h0m-1-14h0m-1 14h0m-1-7h0m-2 8h0m-1 5h0m0-5h0m-1-10h0m-2 10h0m-2 2h0m-2-15h0m-4 16h0m-1-19h0m-1 10h0m-1-9h0m0 13h0m-2-7h0m0 9h0m-2-7h0m-1-7h0m0 0h0m-1 13h0m-1-2h0m0-8h0m-2 0h0m-2-3h0m0 13h0m0-2h0m-10-12h0m-1 20h0m-7-8h0m0-8h0m-3 1h0m-4 16h0m-1-23h0m-89 11h0m-2-4h0m-3 16h0m-10-7h0m-2 7h0m-2-4h0m-2-16h0m-4 11h0m-24 3h0m-10-12h0m-8 7h0m-4 7h0m-15-7h0m-15-7h0m-2 17h0m-2-6h0m-26-11h0m-8 7h0m-18 4h0m-9-13h0m0 8h0m-17 6h0m-27-4h0m-21-2h0m-4-3h0m-2-1h0m-3 7h0m-3-5h0m-3 2h0m0 3h0m-3 3h0m-10 6h0m-2-5h0m0-6h0m-1 1h0m0 9h0m-2-15h0m0-5h0m-6 0h0m0 19h0m-4-4h0m-1-13h0m-16 18h0m-3-17h0m-3-5h0m-1 13h0m-5-4h0m-3 6h0m-1-3h0m-5 10h0m-281-4h0m-1-16h0m-1 11h0m-1 9h0m-1-13h0m-1 11h0m0 3h0m-2-5h0m-3 1h0m0-7h0m-4 1h0m-9-4h0m0 13h0m0-21h0m-2 2h0m-1 14h0m0-4h0m-7-11h0m0 1h0m-3-2h0m0 11h0m0-1h0m-8-11h0m0 3h0m-2 8h0m-2-8h0m-4 19h0m-1-7h0m0 1h0m-2-12h0m-4-3h0m-2 8h0m-3 0h0m-1 14h0m-2-18h0m-1-2h0m0 14h0m-1-6h0m0-1h0m-3-3h0m-1 1h0m-2 5h0m-3 1h0m-1 7h0m-2 0h0m0-11h0m-1 5h0m-1-3h0m0-6h0m0-2h0m-1 6h0m-5 8h0m-1-13h0m0 10h0m-2-5h0m0 7h0m-1-16h0m0 5h0m-1 3h0m-1-8h0m-1-1h0m-2 22h0m-1-1h0m0-16h0m0-4h0m0-1h0m-1 22h0m0-6h0m-3-10h0m-3-4h0m-1 20h0m-1-2h0m-1-10h0m-1 1h0m0 1h0m-1-1h0m0 12h0m0-19h0m-2-4h0m-1 4h0m0 3h0m-1 1h0m0 15h0m0-11h0m-1 8h0m-1-8h0m0-10h0m0 3h0m0-2h0m0 16h0m-1-5h0m0 2h0m-2 3h0m0-9h0m-1-4h0m0-1h0m0 16h0m-1-15h0m-2-4h0m-2 9h0m0-5h0m0-6h0m-1 22h0m-3-4h0m-3-1h0m0-8h0m-1 14h0m-2-11h0m-2 2h0m-2-7h0m-2 16h0m-3-15h0m-1-8h0m-2 19h0m0-3h0m-1-4h0m-1-7h0m-1-2h0m0 13h0m-1 3h0m0 3h0m-1-21h0m-1 7h0m-1 13h0m-1-19h0m-2 11h0m-1-13h0m-1 10h0m-1 8h0m0-5h0m0-5h0m0-7h0m-1 2h0m-2 3h0m-1 2h0m-2-6h0m0 19h0m-2-9h0m-3 8h0m-1-6h0m-2-3h0m-1 12h0m-1-11h0m-1-3h0m-4 4h0m0-2h0m-1-8h0m0 11h0m-5 9h0m-5-8h0m-2 1h0m-1-6h0m-2-2h0m-1-8h0m0 20h0m-3-8h0m-2-11h0m-1 2h0m-3-3h0m-1 18h0m-2-3h0m-3-12h0m0 15h0m-5-3h0m-7-14h0m-1 7h0m-9-3h0m-2-1h0m0 4h0m5 23h0m1-1h0m1 16h0m0-1h0m0 1h0m0-4h0m3-15h0m3 14h0m1-10h0m7 11h0m0-15h0m1 3h0m3 2h0m0-5h0m1 2h0m4-2h0m2 7h0m0 8h0m6-1h0m0-12h0m1 8h0m2-8h0m0 18h0m3-10h0m5 2h0m1-6h0m2 7h0m2-5h0m3 1h0m1 11h0m1-22h0m4 10h0m1 7h0m1 5h0m0-5h0m3 5h0m2-19h0m0 17h0m7-11h0m0 12h0m0-20h0m0-2h0m1 7h0m0 6h0m0-8h0m1 6h0m1-3h0m1 15h0m3-10h0m1 0h0m2 1h0m0-13h0m0 14h0m1-13h0m1 7h0m4 13h0m0-7h0m2-13h0m1 8h0m0 0h0m0 0h0m1 9h0m0-4h0m2 0h0m0-12h0m0 10h0m1-3h0m1 6h0m0-15h0m0 14h0m3 2h0m0-5h0m3-3h0m1-6h0m4 15h0m1-17h0m2 10h0m0-1h0m2 2h0m0-2h0m2-3h0m2-4h0m2 20h0m0-14h0m1 0h0m2-9h0m1 18h0m1-14h0m4 9h0m0 6h0m2 4h0m1-8h0m1 5h0m2 2h0m0-14h0m1 2h0m1 4h0m3 7h0m1-2h0m1-18h0m1 21h0m0-1h0m1-6h0m1-1h0m3-5h0m1 0h0m0 7h0m0-10h0m0 14h0m2-10h0m1-2h0m0-4h0m2 11h0m1 6h0m3 1h0m2-6h0m1 3h0m1-12h0m2-1h0m1-2h0m3 4h0m2 2h0m0 4h0m1-4h0m3 4h0m2-12h0m1 0h0m0 11h0m5 4h0m3 1h0m1-16h0m1 8h0m1-5h0m1 12h0m1 1h0m1-10h0m1 3h0m1-5h0m8-1h0m0 10h0m1-7h0m0-4h0m3 13h0m0-7h0m1-2h0m1 9h0m1-12h0m2-5h0m1 18h0m0-6h0m2 5h0m3-6h0m0 5h0m1-16h0m0 3h0m1 13h0m2 5h0m6-9h0m1 9h0m0-9h0m4 10h0m0-16h0m4 8h0m0-9h0m1 18h0m238-5h0m11 3h0m5 0h0m4 2h0m7-4h0m3-16h0m3 7h0m3-6h0m0-4h0m1 12h0m5 4h0m1 3h0m9 1h0m9-19h0m4 13h0m2 0h0m5-3h0m1 6h0m3-9h0m4 15h0m1-7h0m2-2h0m1-3h0m2-9h0m1 13h0m1-13h0m3 14h0m8-3h0m0 9h0m3-20h0m7 2h0m1 1h0m6-1h0m3-1h0m1-2h0m2 22h0m1-4h0m3 4h0m1-19h0m3-1h0m3 1h0m7 2h0m26-5h0m6 4h0m11-1h0m0 14h0m5 2h0m16 0h0m7 3h0m14 0h0m13-1h0m2-14h0m14 10h0m7 5h0m4-12h0m38 10h0m13-4h0m0 2h0m20 1h0m5-4h0m100 2h0m2 3h0m3-6h0m1 6h0m1-11h0m1 1h0m2-3h0m1 7h0m1 5h0m2 1h0m0-18h0m3 4h0m1 15h0m4-9h0m3 5h0m3-3h0m3-3h0m1 4h0m1-16h0m0 18h0m0-18h0m1 9h0m2 5h0m3 0h0m1 8h0m3-3h0m1 2h0m1-3h0m1-12h0m0 8h0m1 2h0m2-6h0m1 9h0m3-10h0m0 8h0m1-8h0m0 14h0m1-7h0m2-10h0m1 2h0m0 8h0m1-3h0m0 6h0m2-15h0m3 2h0m2 1h0m5 16h0m2-5h0m1 3h0m0-16h0m1-5h0m0 18h0m2 4h0m1 0h0m1-5h0m3-6h0m1 4h0m2 1h0m0-2h0m1 1h0m0-12h0m0 2h0m3 6h0m2 9h0m0-15h0m2 9h0m1 4h0m5-13h0m7 10h0m1 0h0m1 4h0m2 4h0m2-3h0m2-8h0m2 8h0m0-5h0m0-2h0m3-12h0m1 22h0m1-3h0m0-2h0m2 4h0m3-10h0m0-12h0m1 18h0m3 4h0m1-19h0m4 0h0m1 11h0m0-10h0m1 18h0m1-18h0m1 15h0m1-10h0m2-2h0m2 8h0m1 0h0m0-2h0m4-11h0m1 8h0m1 7h0m2-13h0m1 3h0m1-3h0m7 17h0m3 1h0m4-11h0m1-10h0m1 14h0m3-13h0m1-2h0m2 14h0m0-7h0m1 6h0m0 7h0m0-9h0m1 11h0m1-9h0m1-4h0m1 13h0m1-21h0m0 22h0m0-13h0m1-6h0m1 13h0m3-9h0m2 4h0m2 3h0m0-13h0m1-2h0m1 10h0m1-1h0m1-6h0m0 7h0m1-1h0m1 13h0m0-2h0m2 3h0m3-7h0m0-9h0m2 12h0m2-10h0m2 2h0m2 8h0m4 3h0m2-18h0m0 6h0m3 7h0m2-12h0m2 12h0m0-9h0m1-1h0m5 13h0m4-9h0m3 6h0m0-6h0m1 1h0m1 9h0m3-14h0m1 13h0m3-17h0m3 6h0m0 8h0m251 6h0m0 0h0m6-4h0m4-3h0m2 7h0m5-4h0m1-7h0m0 6h0m7-1h0m3 6h0m4-2h0m2-11h0m2-10h0m0 13h0m5 6h0m0-6h0m7-6h0m1 4h0m1-1h0m3 10h0m4-18h0m1 9h0m1-10h0m6 2h0m0 18h0m3 1h0m1-1h0m1-8h0m3 0h0m1 4h0m1 0h0m2-17h0m1 12h0m0 5h0m1-4h0m2 3h0m0 7h0m0-11h0m2 7h0m8-16h0m1 15h0m0-4h0m1-4h0m0 4h0m1-12h0m2-2h0m1 21h0m1-11h0m0 3h0m1 3h0m4-4h0m2 7h0m0 3h0m1-22h0m0 17h0m5-13h0m0 16h0m1 0h0m1-9h0m3 12h0m2-1h0m0-12h0m3-8h0m1 4h0m0 9h0m1-11h0m0 8h0m1 7h0m1-9h0m0 12h0m2-1h0m0-6h0m3-5h0m5-2h0m10 3h0m7 11h0m1-4h0m15-2h0m8 3h0m1-11h0m2 8h0m4-13h0m11 1h0m1 0h0m4 14h0m6-2h0m5 3h0m4-6h0m3-4h0m2 9h0m3-18h0m4 23h0m3-20h0m0 6h0m16 10h0m2-19h0m1 14h0m3 8h0m16-8h0m1 9h0m15-5h0m2-18h0m4 11h0m11-9h0m1 12h0m7-4h0m4 12h0m2-7h0m0-3h0m1 1h0m1-12h0m4 11h0m5-10h0m5 13h0m3-11h0m9 0h0m1 11h0m-17 11h0m-10 3h0m-3 13h0m-6-18h0m-9 22h0m-10-5h0m-11-7h0m0 8h0m-3-14h0m-4 4h0m-2 13h0m-7-3h0m-8-14h0m-3-3h0m-2 7h0m-2-3h0m-11 4h0m-2 6h0m-15 4h0m-1-18h0m-13 21h0m0-6h0m-4 6h0m-6-1h0m-7-5h0m-1-8h0m-5 11h0m-3-12h0m-4-6h0m-1 11h0m-1-6h0m-3 11h0m-1 4h0m-4 0h0m-3-21h0m-2 17h0m-9-12h0m-5 13h0m-4-11h0m0 1h0m-3 14h0m-1-2h0m-2-11h0m-1 9h0m-1-18h0m0 5h0m-2 5h0m0 13h0m-7-6h0m0 1h0m-1-15h0m0 10h0m-1-5h0m0 11h0m-1-8h0m-4-1h0m-2 13h0m-1-10h0m-1 6h0m-2-8h0m-2 12h0m-2-4h0m-5 2h0m-6-20h0m-3 21h0m-2-13h0m-2 9h0m-1 5h0m0-13h0m0-4h0m-1 11h0m-8-9h0m-3-5h0m-4 3h0m-2 5h0m-1-4h0m-2 3h0m0-9h0m-2 18h0m0-5h0m0 1h0m-1-7h0m-2 7h0m0 6h0m-6-14h0m-3 5h0m0-8h0m-4 2h0m0 15h0m-1-10h0m0 7h0m-1-15h0m-1 5h0m-1 9h0m0-1h0m-1-6h0m-2 10h0m-1-15h0m-3 10h0m-2 0h0m-1-3h0m0 11h0m-2-11h0m-1 7h0m0-8h0m-2-7h0m-1 12h0m-1 7h0m0-3h0m-2 1h0m-1-6h0m-1-10h0m-7 13h0m0 3h0m-2-10h0m-3-8h0m-2 7h0m-6-2h0m-1 11h0m0-12h0m0 4h0m-10 8h0m-6-15h0m-2 11h0m-1-10h0m-5 5h0m-1 7h0m-13 2h0m-7 0h0m-1 4h0m-211-16h0m-1 13h0m-1-12h0m0-4h0m-4-2h0m-1 4h0m-1 7h0m0-13h0m-6 20h0m0-13h0m-1 16h0m-1-2h0m0-11h0m-2-8h0m0 11h0m0-1h0m-2 10h0m-4-22h0m-2 1h0m-1 20h0m-1-10h0m-3-7h0m-5 7h0m-1-7h0m-7 13h0m-3-4h0m-3-6h0m0-1h0m-4 13h0m-1-1h0m0-7h0m-1 4h0m-1-1h0m0-4h0m0 9h0m-1-15h0m-1 10h0m-1 4h0m-1-16h0m-1 20h0m0-22h0m-3 15h0m0-14h0m0 12h0m-1-1h0m-4-6h0m-1 17h0m-1-1h0m0 0h0m-5-5h0m0-11h0m-2 12h0m-1 2h0m-5-6h0m0 2h0m-1-16h0m-1 21h0m0-6h0m0-7h0m0 0h0m0 1h0m-1 8h0m-3-16h0m0 6h0m0 4h0m-1 12h0m0-12h0m-5-3h0m-5-3h0m0-2h0m-2 18h0m0-11h0m-1-4h0m-3 7h0m0-2h0m-2-7h0m-3 17h0m0-14h0m-1-5h0m0-1h0m0 17h0m-2-18h0m-4 11h0m-1-6h0m0-5h0m-1 11h0m0-6h0m-2-5h0m-1 19h0m-3 1h0m-2-19h0m-1 15h0m-1-6h0m0 3h0m-3-10h0m-2 4h0m0-1h0m-1 10h0m-3-7h0m-1 3h0m-1-9h0m-3 1h0m-1 0h0m0-3h0m-2 20h0m-4-19h0m0 9h0m0-8h0m-1 7h0m-2 2h0m-1-4h0m-1-4h0m-2 17h0m-1-7h0m-3-3h0m-3 2h0m-1 5h0m0 2h0m0-8h0m0-6h0m-2 17h0m-2-16h0m0 0h0m-2 8h0m-3 8h0m0-3h0m-1-18h0m-1 10h0m-1 5h0m0 5h0m-2-10h0m0 0h0m0 2h0m0-3h0m-3 12h0m-2-11h0m-1 1h0m-1 1h0m0-6h0m-2 7h0m0-8h0m-5 10h0m-1-8h0m-1-2h0m-1 10h0m-3-14h0m-1 6h0m-5 10h0m-1-1h0m-1 4h0m-1-20h0m-1 6h0m-2 0h0m-2 1h0m-3-8h0m0 7h0m-6-4h0m-3 5h0m-1-3h0m-1-6h0m-2 22h0m-1-10h0m-2-6h0m-1 17h0m-1-16h0m-1 3h0m-1 10h0m0-7h0m0 5h0m-4 2h0m-100-17h0m-20 6h0m-7 3h0m-3-7h0m-14 10h0m-3 2h0m-25 0h0m-20-8h0m-4 10h0m-5-17h0m-12 18h0m-4-17h0m-23 15h0m-13-7h0m-2 10h0m-24-15h0m-11 16h0m-1 0h0m-3-1h0m-6-11h0m-1 10h0m-5-18h0m0 13h0m-1 5h0m-1-20h0m-1 1h0m-1 7h0m-2 10h0m0-12h0m-1 5h0m0-10h0m-2 9h0m-1 8h0m-2-10h0m-1 0h0m-4 4h0m-3-5h0m-2 0h0m-2 4h0m-4 8h0m0-18h0m0-1h0m-1 18h0m-4-15h0m-2-1h0m-3 7h0m0 7h0m-7-16h0m-4 5h0m-1 17h0m0-7h0m-7-11h0m-1 6h0m-7 5h0m0-1h0m-12 4h0m-19-11h0m-2 13h0m-1-17h0m-3-1h0m-2 12h0m-2-3h0m-2-5h0m-1 15h0m-2-13h0m-1 3h0m0 7h0m-2-5h0m-8 10h0m-3-16h0m-3 6h0m-4 1h0m-5-14h0m-3 6h0m-1-4h0m-6 4h0m-2 6h0m-5-4h0m0 14h0m-16-8h0m-206-10h0m-10 1h0m-1-5h0m0 4h0m0 15h0m-3 1h0m-1-5h0m0-12h0m-7 11h0m-2-11h0m-3 16h0m-3-15h0m-3 14h0m-1-16h0m0 15h0m-3-1h0m0-9h0m-5-2h0m0 1h0m0-1h0m-1 15h0m-1 1h0m-1 1h0m-2-3h0m0-16h0m-1 20h0m-4-2h0m-4 0h0m-2-9h0m0 0h0m-1-10h0m-1 16h0m-3-7h0m-6 3h0m-1 3h0m-1-13h0m-2 1h0m0 5h0m-1 13h0m-1-4h0m-5-3h0m-1-14h0m-2 8h0m-3 7h0m-5 1h0m-2-14h0m-3 15h0m0-8h0m-2-1h0m-2-1h0m0-1h0m-1-7h0m-1 10h0m-1-3h0m0-8h0m-1 13h0m-3 9h0m-1-9h0m-1-9h0m-1 15h0m-1 0h0m0-17h0m-5 19h0m-3-8h0m0-5h0m0-4h0m-2 8h0m-1-12h0m0 16h0m0-1h0m-1-7h0m0-8h0m-2 16h0m0 7h0m0-12h0m-1 5h0m0-16h0m0 14h0m-1 4h0m0-11h0m-1-4h0m-1 13h0m-2-12h0m-1 7h0m0-3h0m-4 6h0m0-4h0m-1 1h0m-2-3h0m-3 13h0m-1-10h0m0 2h0m-2-6h0m-1 9h0m-1-5h0m-2-10h0m0 13h0m0 6h0m-3 0h0m-1-17h0m0 7h0m-1 10h0m-2-10h0m-3 12h0m-1-10h0m0-9h0m-3 5h0m-6-8h0m0 12h0m-1 2h0m-4-12h0m-1 5h0m-3-1h0m-3-4h0m-1 13h0m-2-2h0m-9-3h0m-4 2h0m-23 11h0m-1-15h0m0 12h0m-5-20h0m-11 17h0m-1-16h0m13 25h0m5 13h0m1-12h0m5-2h0m1 6h0m3 14h0m1 1h0m0-13h0m1 11h0m2-2h0m0-1h0m6-7h0m2 0h0m2-6h0m1 15h0m2-16h0m2 14h0m1-14h0m3 11h0m6 7h0m1-19h0m3 7h0m3 3h0m0 7h0m2 0h0m3-17h0m3 7h0m3 3h0m0-9h0m1 9h0m1-6h0m1-3h0m2 17h0m2-3h0m0-9h0m1 6h0m0-5h0m3-4h0m0-2h0m2 12h0m1 0h0m14-10h0m0-3h0m1 15h0m0-5h0m1 9h0m5-9h0m0-2h0m0-4h0m2-5h0m2 16h0m3-6h0m2-8h0m5 6h0m2-9h0m0 4h0m0 0h0m6 11h0m1 5h0m1-2h0m1-12h0m1 1h0m0 12h0m3-5h0m2 3h0m0-9h0m0-8h0m1 2h0m2 8h0m1-9h0m3 0h0m1-1h0m5 19h0m0 2h0m0-11h0m3 6h0m1-3h0m0-12h0m2 19h0m1-11h0m2-4h0m1 8h0m0 1h0m1 4h0m2-9h0m1-6h0m4-3h0m2 2h0m2 1h0m1-1h0m1 7h0m0 6h0m1-14h0m2 21h0m0-18h0m3 4h0m3 0h0m6 10h0m1 1h0m0-18h0m0 5h0m3 13h0m3-18h0m0 2h0m6 6h0m2 13h0m6-15h0m1 6h0m1-5h0m183 15h0m7-4h0m3 1h0m1-1h0m8-6h0m11 1h0m2-4h0m5-6h0m8 11h0m16-12h0m0 7h0m2 1h0m2 4h0m8-10h0m3 7h0m7-4h0m0-8h0m0 17h0m6 0h0m0 3h0m4-4h0m0-16h0m8 7h0m4 7h0m2 1h0m6-11h0m4-2h0m1 17h0m1-13h0m7 3h0m0 11h0m1-11h0m1-9h0m6 12h0m2-2h0m0 1h0m0 2h0m0 9h0m1-13h0m3 12h0m5-19h0m3 21h0m1-8h0m1 0h0m1-7h0m4-7h0m5 20h0m3-18h0m1 2h0m15 11h0m4-9h0m8 15h0m7-11h0m4-10h0m7 19h0m2-13h0m9 14h0m10-5h0m1-4h0m12-2h0m14-10h0m126 10h0m140-5h0m5-1h0m4 15h0m4-10h0m0-6h0m1 2h0m3-4h0m1 10h0m0-3h0m3-6h0m1 1h0m0 15h0m2-12h0m1 4h0m0 7h0m1 0h0m0 3h0m1-9h0m1 7h0m4-18h0m2 11h0m0 3h0m4 0h0m1-6h0m3 7h0m0-6h0m7 9h0m4-12h0m0 17h0m1-18h0m0-3h0m2 14h0m2 7h0m6-4h0m0-2h0m3-10h0m1 4h0m0-6h0m1-5h0m6 8h0m2-4h0m3 11h0m1-8h0m1 13h0m1-4h0m2 2h0m6-7h0m0 7h0m2 4h0m1-17h0m0 8h0m0-11h0m2 10h0m4 8h0m1-2h0m0-11h0m0 10h0m1 3h0m1-18h0m4 17h0m2-7h0m0 0h0m4-3h0m3 6h0m1 5h0m0-3h0m2-1h0m0-6h0m3-4h0m0-2h0m1 17h0m2-19h0m1 2h0m1 5h0m2 8h0m1 0h0m1-10h0m1-3h0m3 9h0m0-12h0m0 21h0m0-5h0m2-6h0m3-4h0m1 15h0m3 1h0m5-13h0m0 7h0m0-3h0m2 9h0m6-13h0m6-9h0m1 14h0m1-8h0m1-6h0m0 10h0m2-3h0m1-5h0m2 5h0m1 2h0m5-9h0m2 20h0m2-17h0m3 2h0m0-3h0m0 6h0m1 12h0m0-6h0m0-3h0m4-10h0m1-1h0m0 22h0m1-19h0m0 13h0m5 6h0m7-2h0m2-2h0m1-1h0m1 1h0m0-9h0m0-8h0m1 7h0m3 8h0m3 0h0m2-1h0m0 0h0m0 1h0m1 2h0m0-16h0m1 17h0m4-14h0m2 0h0m2 3h0m0-2h0m0 4h0m6-6h0m4 1h0m1 17h0m1-21h0m0 18h0m0-5h0m2 7h0m161-4h0m8 5h0m14-6h0m5-6h0m4 4h0m2-7h0m1 12h0m4-16h0m1 2h0m0 6h0m2 9h0m4-2h0m1-4h0m5 8h0m3-16h0m1 3h0m0-1h0m1-4h0m1 15h0m3 2h0m0-8h0m1 9h0m2-16h0m2-6h0m0 6h0m0-1h0m1 15h0m3-16h0m2-2h0m0 9h0m4-3h0m1 9h0m2-12h0m0 12h0m5-18h0m6 12h0m0-5h0m3 1h0m4 5h0m1-4h0m7 12h0m0-2h0m7-15h0m1 5h0m0 11h0m1 2h0m2 0h0m2-16h0m1 11h0m2-15h0m3 2h0m1 9h0m1 9h0m0 1h0m2-19h0m5 18h0m11-22h0m2 12h0m1-7h0m1 3h0m1-8h0m6 9h0m6-4h0m2-3h0m0 3h0m1 9h0m1-9h0m1-1h0m4 4h0m7 13h0m2-4h0m1-16h0m1 0h0m1 0h0m2 20h0m2-6h0m2-8h0m6 4h0m9-9h0m2 20h0m2-12h0m0 4h0m2 4h0m1-17h0m2 6h0m13-2h0m2 17h0m1-4h0m6 1h0m1-16h0m6 0h0m0 11h0m0-9h0m0 6h0m10-7h0m35 5h0m3 2h0m19-3h0m5 1h0m2 12h0m2-18h0m5-2h0m1 9h0m2-4h0m0-5h0m1 20h0m1-21h0m3 17h0m8-1h0m2 1h0m9 2h0m1-14h0m1 5h0m16 1h0m2-3h0m8 6h0m2-10h0m1 0h0m11-2h0m4 4h0m-144 30h0m-22-9h0m-12-3h0m-3 13h0m-20-3h0m-10-1h0m-1-2h0m-3 4h0m-7-3h0m0-2h0m-4 9h0m-1-12h0m-4-3h0m-6 18h0m-10-15h0m-12 16h0m-2-10h0m0 6h0m0-3h0m-1-10h0m-1 7h0m-1-4h0m-1-4h0m-1 1h0m-2 17h0m-1-13h0m-2-5h0m-1 18h0m-4 4h0m0-4h0m-14-4h0m-4-7h0m-6 8h0m-5-2h0m0-14h0m-6 17h0m-1-9h0m0 8h0m-1-12h0m0 13h0m-1-12h0m-1-1h0m-1-3h0m0 13h0m-1-13h0m-1 10h0m-1-11h0m0 12h0m0-5h0m-4 4h0m-1 11h0m-1-21h0m-1 15h0m-3-12h0m-3 18h0m-1-22h0m-1 22h0m-1-13h0m-5-2h0m-8 15h0m-5-9h0m-2 2h0m-1-4h0m0 12h0m-4-12h0m-2 7h0m-1 5h0m-4-1h0m0-7h0m-2-6h0m0 3h0m-2 7h0m-1-18h0m-1 2h0m-1 13h0m-2 3h0m-7 0h0m-1-1h0m-1-2h0m-4 4h0m-1-15h0m-1 4h0m-3-6h0m-3 0h0m-2 5h0m-5 3h0m-14 5h0m-2-11h0m-4 17h0m-3-1h0m-1 2h0m-95-3h0m-2-5h0m-12 1h0m-4 0h0m-4 6h0m0-6h0m-5-5h0m-2 7h0m-2-2h0m-2 5h0m-1-9h0m-1-4h0m-1 5h0m-1-3h0m-1-5h0m-6 16h0m0-3h0m-1-4h0m-1 8h0m-3-9h0m-2-12h0m0 12h0m-1-7h0m-4 12h0m-2-8h0m0 5h0m-4 1h0m-1-8h0m0 1h0m-1 4h0m-6-11h0m-1 0h0m-3 3h0m0 11h0m-3 0h0m-2-2h0m-2 7h0m-1-21h0m0 19h0m-5 1h0m0-15h0m-1 2h0m0 12h0m-5 1h0m-1-1h0m0-9h0m0 1h0m-1-1h0m-2-10h0m-1 14h0m0-4h0m0 5h0m-2-10h0m0-5h0m-5 5h0m0 16h0m-3-3h0m0 5h0m0-13h0m-1-4h0m0 14h0m0 2h0m-2-22h0m-1 8h0m-2 12h0m-1-16h0m-6 12h0m-1 4h0m0-10h0m-2-10h0m-3 5h0m-1-1h0m-1 11h0m-2 8h0m-3-19h0m0 10h0m0 4h0m-2 2h0m-2-1h0m0 0h0m-1-16h0m-1 17h0m-1-10h0m0 5h0m0 1h0m-1-4h0m-1 3h0m-1-1h0m0 7h0m-3 1h0m0-19h0m-2 4h0m-1 3h0m0 10h0m0-19h0m-1 12h0m-4-8h0m-2 4h0m-1 5h0m-1 6h0m0-13h0m0-6h0m-4 21h0m0-12h0m0 4h0m0 1h0m-6-4h0m-1-3h0m0 12h0m0-5h0m0-5h0m0 3h0m0-5h0m0 13h0m-3 1h0m0-21h0m-5 3h0m0 12h0m-3 7h0m-1-18h0m-6-2h0m-4 9h0m0 0h0m-2-10h0m-5 16h0m0-7h0m0-9h0m-1 13h0m-1 8h0m-4-12h0m-4 0h0m0-11h0m-1 16h0m0 4h0m-2-5h0m-2-11h0m0 15h0m-3-14h0m-1 5h0m-3-6h0m-1 15h0m-1-10h0m-1-4h0m-2 15h0m-1-4h0m-1-14h0m-1-1h0m0 7h0m-3-5h0m-1 20h0m-3-8h0m-1 8h0m-1-12h0m-3 2h0m-1-8h0m-2-3h0m-2 15h0m-1-8h0m-2-9h0m0 12h0m0 5h0m-3-12h0m-318 18h0m-8 0h0m-1-10h0m-5-13h0m-21 7h0m-11 3h0m-1-6h0m-4 3h0m-4 4h0m-1-7h0m-2 16h0m-4 1h0m-9-18h0m-8 5h0m0 8h0m-4-1h0m0-12h0m-16 4h0m-1 1h0m-3 0h0m-5-3h0m-1 13h0m-1-7h0m-2 7h0m-6-9h0m-1-8h0m-1 22h0m-7-10h0m-6-8h0m-2 17h0m-1-13h0m-2 5h0m-6 8h0m-2-22h0m-1 21h0m-4-21h0m-2 10h0m-2 11h0m-1-14h0m-7-4h0m-1 8h0m-2-10h0m0 14h0m-9-3h0m-4 6h0m-1 5h0m-8-11h0m-4-11h0m-2 11h0m-1-9h0m-6-1h0m-20 12h0m-5 4h0m-1-17h0m-8 12h0m-20 10h0m-3-3h0m-124-5h0m-28 8h0m-1-10h0m-4-8h0m0-1h0m0 0h0m-1 8h0m-3-12h0m0 2h0m-1 20h0m-2-14h0m-1 0h0m-4-7h0m-1 13h0m-1-6h0m-1 10h0m0-15h0m0 1h0m-2 3h0m0 9h0m-1-6h0m-1 11h0m0-8h0m-2 8h0m0-5h0m-2-9h0m-2 14h0m-3-13h0m-1 8h0m0-3h0m0-10h0m-5 1h0m-5 17h0m0 2h0m-1-12h0m-3-2h0m-11 11h0m-2-19h0m-1 22h0m-2-15h0m-5-5h0m-1 18h0m-2-20h0m-1 3h0m0 15h0m0-5h0m-3 1h0m-4-8h0m-9 15h0m-3-2h0m-1-12h0m0 4h0m-2-6h0m-1 15h0m-2-1h0m-7-20h0m-2 20h0m-1 3h0m-1-11h0m-7 1h0m-11 8h0m-1-13h0m-3 13h0m-2-13h0m-8 9h0m-1 4h0m-1-15h0m-2-5h0m-4 11h0m-4 7h0m-5-16h0m-7 6h0m-1-3h0m-3-4h0m-1 4h0m-1-5h0m0 19h0m0-20h0m-5 9h0m-18-5h0m31 22h0m17 1h0m3 10h0m1-12h0m6 17h0m7-16h0m1 11h0m3-4h0m1 4h0m5-13h0m1 4h0m2 10h0m0-1h0m3 3h0m1 5h0m6-1h0m1-7h0m3-2h0m3-5h0m1 10h0m3 3h0m2-10h0m2-8h0m0 13h0m8-4h0m4-7h0m12 12h0m1 4h0m2-4h0m0-11h0m2 9h0m17-11h0m0 11h0m2-6h0m4-3h0m5-3h0m18 4h0m5-2h0m2 9h0m1 0h0m1 6h0m2-14h0m1 17h0m7-17h0m0 11h0m3-3h0m2-8h0m0 2h0m17 15h0m9 0h0m5-16h0m77 12h0m13-11h0m1 0h0m2 17h0m2-1h0m5-16h0m6 0h0m5 0h0m1 14h0m1 0h0m1-19h0m5 5h0m3 13h0m4-9h0m6 11h0m2-21h0m3 8h0m1-2h0m20 10h0m1 2h0m5-13h0m1 11h0m0-13h0m1 19h0m1-22h0m2 18h0m2-15h0m8-3h0m2 3h0m2 13h0m3 7h0m1-14h0m2-9h0m8 9h0m6 2h0m2-11h0m3 18h0m2 1h0m8-8h0m4-3h0m3 10h0m2-9h0m0 8h0m1 0h0m22-8h0m2-1h0m2-4h0m1 6h0m1-5h0m0 9h0m9-14h0m2 8h0m4 3h0m1 10h0m4-5h0m1 3h0m14-10h0m8 11h0m3-11h0m4 8h0m4-13h0m2 0h0m22 4h0m4 14h0m5-13h0m351-2h0m1-1h0m2-2h0m1-2h0m2 7h0m2-3h0m3 16h0m5-22h0m3 7h0m1 0h0m2 13h0m0-1h0m1-19h0m0 4h0m3 10h0m1-10h0m2 10h0m0-3h0m0-9h0m3 1h0m5 16h0m2-6h0m1-6h0m2 16h0m0-4h0m2 1h0m1-16h0m0-2h0m2 11h0m2 0h0m0 5h0m0-7h0m2-6h0m5 4h0m0-5h0m3 19h0m0-14h0m0-7h0m3 3h0m6 11h0m3-12h0m1-1h0m0 8h0m1 4h0m1-12h0m3 3h0m1-6h0m1 11h0m0-4h0m14-3h0m0 18h0m1-14h0m1 6h0m1-11h0m0 17h0m1 0h0m2-4h0m3-11h0m3 4h0m0 9h0m0-6h0m2 6h0m2-2h0m1-15h0m2 10h0m2-1h0m2-3h0m1 3h0m0-10h0m1 19h0m1-13h0m0 9h0m1-13h0m1 16h0m4-2h0m1 3h0m2-11h0m2-3h0m2-1h0m1 7h0m3 1h0m2-10h0m3 14h0m2-3h0m1-5h0m0-4h0m3-2h0m0 19h0m1-14h0m0 13h0m2-14h0m1 13h0m1-6h0m0-5h0m4 10h0m0-18h0m1 7h0m2 3h0m1-2h0m0 3h0m1 0h0m2 1h0m4-1h0m1-1h0m1 3h0m4 3h0m2-7h0m3-9h0m1 18h0m1 2h0m6-15h0m4 12h0m0-12h0m1 4h0m2 0h0m1-9h0m0 7h0m1 4h0m1 4h0m0 2h0m2-10h0m2 7h0m1 0h0m1-8h0m4 10h0m3-12h0m0 10h0m1 6h0m3-2h0m1-10h0m0-3h0m4 1h0m1 13h0m0-16h0m2 4h0m3 13h0m1-1h0m1-15h0m0 4h0m3 14h0m0-1h0m5-12h0m0-1h0m1-2h0m1 1h0m0 0h0m4-5h0m0 5h0m1 15h0m0-2h0m1-6h0m3 2h0m2 5h0m0-12h0m1 12h0m1-1h0m6-17h0m0 14h0m0-2h0m1-11h0m1 7h0m1 7h0m2-2h0m1-3h0m0-4h0m0 13h0m5-5h0m1 0h0m0-11h0m7 13h0m6 4h0m32-1h0m5-15h0m13 16h0m0-9h0m7 7h0m3-5h0m3 7h0m0-8h0m7 4h0m2-5h0m12 2h0m0 4h0m0-13h0m0 15h0m5-14h0m0 3h0m2 4h0m2-6h0m1-9h0m1 2h0m1 8h0m1-7h0m1 16h0m1-15h0m1 3h0m3-2h0m3 8h0m3-10h0m1 11h0m3 9h0m2-13h0m2-1h0m0 10h0m1 3h0m3-2h0m1-7h0m1-5h0m1 0h0m4-1h0m1-6h0m1 2h0m5 18h0m3 2h0m1-3h0m8-11h0m1 0h0m1-1h0m0 14h0m2-16h0m1 14h0m0-9h0m3-5h0m1 2h0m3-4h0m5 2h0m0 10h0m3-12h0m1 18h0m0-5h0m0 3h0m1-9h0m0-4h0m3 2h0m3 4h0m2 7h0m1 1h0m0-20h0m1-1h0m0 21h0m1-20h0m3 13h0m8-10h0m4 11h0m1-7h0m3 3h0m3 0h0m2-7h0m2 3h0m3-7h0m1 0h0m5 20h0m2-15h0m9 5h0m3-6h0m0 17h0m1-2h0m6-15h0m3 6h0m3-10h0m5 1h0m1 15h0m1-15h0m1 13h0m0-5h0m2 8h0m2-12h0m2-4h0m13 10h0m6 1h0m11 5h0m10-11h0m141 17h0m16 23h0m-11 0h0m-8-6h0m-3 2h0m-1-1h0m-4-8h0m-2 0h0m0 0h0m-3 4h0m-4-11h0m-135 9h0m-5-11h0m-2 13h0m-5-7h0m-1 12h0m-7-5h0m-3 1h0m-4-2h0m-1-8h0m-6 17h0m-1-6h0m-9-6h0m-8-2h0m-4 8h0m-8-13h0m-1 9h0m-7 6h0m-3 1h0m-3-6h0m-1-12h0m-1 14h0m-2-12h0m0 0h0m-1 6h0m-1 13h0m-4-10h0m-1-1h0m-1 0h0m-1-9h0m-1 19h0m-2-1h0m0-7h0m-12 11h0m-6-1h0m-2-8h0m-3-13h0m-1 5h0m-3 6h0m-1-3h0m0 5h0m-1-14h0m-2 0h0m-2 8h0m-1 0h0m-1 6h0m-1-13h0m0 20h0m0 2h0m-1-18h0m-2-2h0m-1 6h0m-1 0h0m-4-9h0m-2 0h0m-2 7h0m-1-1h0m-1 12h0m-7-3h0m-2 2h0m-5-16h0m0 21h0m-2-4h0m-3-17h0m-1 19h0m-1-5h0m0-5h0m-1 9h0m-7 2h0m-6-16h0m-1-4h0m-2 1h0m-3 10h0m0 3h0m0-6h0m-2 6h0m0 4h0m-2-4h0m-2-6h0m-1 2h0m-1 1h0m-1 9h0m0-2h0m-2-13h0m-2 5h0m-3 4h0m0 5h0m-5-10h0m0-6h0m-1 11h0m-1-11h0m-1 9h0m-2 9h0m0-15h0m0 5h0m0 10h0m-1-11h0m-3-3h0m0 0h0m-3-2h0m0 12h0m-1-8h0m-2-10h0m-3 12h0m-4 5h0m-1 3h0m-2-15h0m-2 9h0m-3-14h0m-2 11h0m-3 11h0m0-7h0m-5 4h0m0-9h0m-1 6h0m-3-8h0m-2-3h0m-4 11h0m-2-2h0m-6 7h0m-7-7h0m0 5h0m0-10h0m-1 6h0m-1 6h0m-1 0h0m-1-4h0m-1-2h0m-1 1h0m-1 0h0m-2-13h0m0 19h0m-10-21h0m0 4h0m-1 0h0m-1 14h0m-1-13h0m-1-6h0m-4 2h0m-2 5h0m-1 0h0m0 10h0m-5-13h0m-4 10h0m0-4h0m0 4h0m-1-10h0m-1 0h0m-6 19h0m0-3h0m-1-20h0m-4 13h0m-1 1h0m-2 9h0m-6-22h0m-3 5h0m0 2h0m-1-7h0m0 13h0m-1 3h0m-1-6h0m-1 12h0m0-5h0m-5-4h0m-2 2h0m-3-10h0m-2 1h0m-2 1h0m-2 14h0m0-4h0m-1-13h0m0 15h0m0-1h0m0-11h0m-1 11h0m-3 4h0m0-20h0m-4 1h0m0 13h0m-6-2h0m0-15h0m-2 19h0m-1 4h0m-1-9h0m-2-2h0m-2-1h0m-1-11h0m0 8h0m-3 11h0m-2-15h0m-3 17h0m-3-8h0m-3 5h0m-2-6h0m-1 10h0m-2-15h0m-5-5h0m-6 2h0m-12-1h0m-3 5h0m-1-7h0m-1 9h0m0 2h0m-1-4h0m0-1h0m-3 8h0m-3 2h0m-1-4h0m0-8h0m-2 11h0m0 3h0m-1-17h0m-1 15h0m-1 1h0m-10 0h0m-3-4h0m-3-8h0m-1-5h0m-5 4h0m0 7h0m0 1h0m-2-4h0m0-3h0m-1 3h0m-2 14h0m-4-19h0m-3 7h0m0-6h0m-3 14h0m-2-6h0m-2-3h0m-4 1h0m-4-10h0m0 5h0m-5 6h0m-5-7h0m-1 7h0m-1-8h0m-1 12h0m0-14h0m-4 7h0m-1-7h0m-1 6h0m-1-8h0m-6 15h0m-7-9h0m-4-3h0m-6 0h0m-4 0h0m-6-1h0m-233 10h0m-26-12h0m-83 10h0m-57-7h0m-5 8h0m-9 7h0m-12-16h0m-14-2h0m-1 10h0m-8 4h0m-3 7h0m-6-6h0m-8-9h0m0-5h0m0 20h0m-2-21h0m-2 18h0m-1-13h0m-12 10h0m-8-1h0m-6-1h0m0-4h0m-4 2h0m-1-3h0m-1 3h0m-2 8h0m0-15h0m-2-3h0m-7 1h0m-7 7h0m0-9h0m0 12h0m-1-9h0m-7 3h0m-4 12h0m-2 2h0m-1 2h0m-1-7h0m-1-6h0m0-8h0m-3 20h0m-4-21h0m-1 4h0m-2 14h0m0 4h0m-5-17h0m-2-4h0m0 5h0m-4 14h0m-1-4h0m-7 0h0m-1 1h0m-2-14h0m-3-3h0m-1 1h0m-6 5h0m-4 13h0m-3-5h0m-1 4h0m-5 5h0m-2-9h0m-2-13h0m-8 1h0m0 10h0m-2 5h0m-2 4h0m-9-13h0m0-1h0m-2 11h0m-1-2h0m-7-11h0m-2 16h0m-3-17h0m-2 8h0m-1 2h0m-9-8h0m-9 9h0m-2 2h0m-19 6h0m-9 0h0m-11-21h0m-14 20h0m-1 1h0m-4-17h0m-2 16h0m0 0h0m0-7h0m-2 1h0m0-4h0m-2-3h0m-1 1h0m-1-2h0m-1 11h0m-4-1h0m-13-1h0m-1-11h0m-2-3h0m0 3h0m-3 15h0m-12-19h0m0 14h0m0-11h0m-1 2h0m0 3h0m-5 2h0m0 10h0m-2-21h0m-11 0h0m-67 1h0m0 1h0m66 34h0m5-9h0m21 1h0m5-4h0m5 2h0m6 10h0m14-6h0m5 13h0m5-16h0m3 17h0m0 2h0m6-1h0m3-14h0m2-7h0m0 15h0m1 3h0m12-2h0m1-7h0m6 9h0m1-8h0m1-1h0m4 1h0m1-1h0m3-2h0m1 10h0m1-12h0m7 8h0m1-14h0m1 14h0m1 4h0m4 4h0m0-12h0m2-6h0m4 9h0m1-11h0m1 13h0m0 0h0m2-9h0m1-4h0m1 2h0m2 8h0m1-6h0m0 10h0m6 2h0m1-7h0m1-11h0m3 13h0m0 4h0m2-5h0m1 7h0m0-7h0m3 5h0m2 1h0m1-18h0m0 6h0m1 14h0m0-16h0m0 9h0m2-10h0m0 19h0m2-12h0m1 10h0m1 1h0m4-2h0m1 1h0m0 3h0m2-11h0m1 8h0m1-10h0m2 12h0m0-17h0m1 15h0m5-19h0m3 21h0m1-7h0m5 2h0m1 5h0m1-1h0m2 2h0m0-11h0m1-12h0m1 9h0m5 5h0m0 5h0m1-19h0m0 21h0m0-17h0m3 19h0m0 0h0m2-2h0m0-20h0m2 0h0m3 16h0m2-16h0m1 6h0m3 14h0m3-12h0m0 12h0m1-8h0m1-9h0m0 18h0m2-17h0m2-4h0m0 5h0m11 12h0m1-14h0m0 1h0m4-5h0m1 19h0m13-13h0m2 17h0m3-16h0m24 12h0m5-16h0m2 3h0m0-2h0m7-3h0m26 19h0m8-18h0m13 4h0m188-5h0m10 1h0m263-1h0m23 2h0m20 0h0m4-2h0m61 12h0m14-8h0m1-3h0m4 10h0m4 3h0m0-9h0m8 6h0m1 2h0m2-8h0m4 9h0m1-4h0m1-3h0m0 10h0m1-9h0m0-8h0m0 22h0m1-6h0m0-1h0m4-14h0m1 19h0m2-7h0m5 5h0m4-2h0m1-5h0m1 10h0m2-15h0m5-4h0m0 3h0m2 6h0m2-10h0m1 0h0m3-1h0m2 19h0m1-7h0m0-1h0m0 9h0m3-3h0m0 5h0m1-12h0m1-7h0m0-4h0m0 19h0m3-14h0m0 9h0m2-8h0m0 7h0m2 5h0m6-13h0m1 6h0m0 11h0m0-7h0m1 4h0m0 4h0m2-10h0m1 4h0m0 3h0m0-8h0m1-2h0m0 5h0m0 2h0m0 5h0m1-4h0m3 4h0m1-21h0m1 17h0m1-5h0m1 6h0m0 2h0m2-3h0m1-3h0m2-14h0m0 21h0m0-12h0m1 10h0m0-8h0m1 10h0m1 1h0m3-19h0m0 2h0m2 13h0m0 3h0m1-10h0m1 11h0m2-23h0m2 20h0m0-16h0m0 12h0m0-5h0m0 11h0m1-2h0m1 1h0m1-2h0m0-18h0m1 17h0m2-3h0m0-7h0m1 8h0m0 5h0m0-7h0m1 2h0m2 4h0m0-14h0m0 17h0m1-2h0m2-14h0m1-7h0m0 8h0m0 2h0m1-6h0m1 13h0m0-11h0m2 10h0m2-1h0m0 4h0m1-12h0m1-6h0m1 16h0m0-17h0m1 15h0m1 8h0m1-8h0m1 0h0m1-12h0m1 0h0m1-3h0m0 22h0m1 0h0m1-1h0m1 0h0m1-14h0m0-7h0m1 12h0m1 6h0m1-3h0m0-1h0m1 8h0m0-8h0m2 7h0m1-11h0m1 3h0m0 7h0m2 3h0m1-4h0m0 1h0m1-5h0m1-11h0m0 10h0m1-4h0m0-3h0m1 6h0m0 6h0m3 0h0m1-2h0m2-15h0m1 15h0m1-1h0m1 5h0m1-16h0m0 17h0m3-16h0m3 2h0m1-4h0m2 10h0m1 5h0m2-5h0m0 1h0m3-15h0m0 13h0m1 4h0m1 2h0m1-17h0m3-2h0m1 6h0m0 6h0m3-2h0m1-5h0m3 3h0m1-4h0m2 13h0m1-3h0m2 4h0m0-6h0m0 0h0m2-6h0m0 7h0m0 4h0m3 0h0m2-8h0m4 13h0m1 1h0m0-12h0m1-6h0m1 4h0m1-7h0m2 2h0m3 12h0m2-15h0m4 19h0m1-8h0m6 1h0m3-10h0m2 5h0m2 10h0m1 2h0m1-10h0m7-9h0m2 12h0m1-1h0m2-10h0m4 7h0m2 11h0m0-9h0m5-4h0m2 3h0m9-5h0m1 1h0m1-6h0m4 5h0m2 17h0m13-12h0m23 7h0m9-9h0m7-1h0m165-5h0m5 4h0m1 9h0m9 7h0m2-11h0m1 9h0m1-17h0m2 2h0m4 16h0m1-10h0m5 12h0m2-15h0m1 7h0m3 4h0m3-9h0m0 33h0m0 0h0m-1-5h0m-4 3h0m-4-12h0m-2-2h0m0 2h0m-4-5h0m-5 14h0m-1-9h0m-2-2h0m0 7h0m-2-9h0m-1 19h0m-1-11h0m-1-6h0m-4 9h0m-10 3h0m0 3h0m-2-10h0m-4 8h0m-203-15h0m-1 13h0m-1-2h0m-7-3h0m-2 2h0m-6-2h0m-9 0h0m-7-8h0m0 8h0m-7 2h0m-3 3h0m-3-1h0m-6-12h0m-7 6h0m0 12h0m-9-7h0m-1-8h0m-3 14h0m0-2h0m-7-6h0m-2 7h0m-1 6h0m-6-5h0m-4 4h0m-2-22h0m-10 8h0m-1-2h0m-1 17h0m-3-11h0m-1-3h0m-5 4h0m-3-1h0m-1-9h0m-1 9h0m-3-7h0m0 3h0m0 11h0m-2 3h0m-2-21h0m-5 4h0m0-1h0m-2 12h0m0-12h0m0 5h0m-1-6h0m0-3h0m-3 17h0m-1-5h0m-1-11h0m0 11h0m0-5h0m-2 5h0m-1-9h0m-1-1h0m-2 0h0m-1 6h0m0-1h0m-1 16h0m0-12h0m-1 4h0m0-10h0m-1-2h0m0 10h0m0 10h0m0-11h0m0-3h0m-2 6h0m-1-11h0m0 10h0m-1 4h0m0-15h0m0 13h0m-1-14h0m0 20h0m-1-14h0m0 0h0m-1 9h0m0-14h0m-1 8h0m-1 2h0m-2 5h0m0-2h0m-1-12h0m-1 0h0m-1-3h0m-1 16h0m-1-13h0m0-2h0m-1 14h0m-1-10h0m-1 2h0m0 14h0m-1-16h0m0 17h0m0-14h0m-2 2h0m-1-9h0m-1 4h0m0 10h0m-2-15h0m0 21h0m0 0h0m-1-5h0m0-17h0m-1 17h0m0-4h0m0-5h0m0 10h0m-2-1h0m-1 1h0m-1-13h0m0 17h0m0-2h0m-1-11h0m-2 12h0m-1-12h0m0 8h0m-1-6h0m0 8h0m0 0h0m-2-18h0m0 20h0m-1-12h0m-1 10h0m-1 1h0m0-15h0m-1 8h0m0-4h0m-2 1h0m-1 6h0m-1-14h0m0 16h0m-2-14h0m0-4h0m0 4h0m-1 8h0m0-11h0m0 14h0m-1-14h0m-1-1h0m0 23h0m0-16h0m-1 7h0m-2-7h0m-2-2h0m0-4h0m-1 5h0m-1 9h0m-1-12h0m0 8h0m0-4h0m0 13h0m-1-2h0m0 0h0m-1 2h0m0-15h0m0 4h0m-1-7h0m0 0h0m0 0h0m0 1h0m-1 12h0m-1-4h0m-1-2h0m0 9h0m0 0h0m-1 3h0m-1-10h0m0 5h0m-1-13h0m0 10h0m0 8h0m-1-2h0m0-17h0m-3 21h0m-1-15h0m0 11h0m0-4h0m0-6h0m-4-7h0m-1 3h0m-1-1h0m0 7h0m-1 3h0m0 6h0m-1-1h0m-1-10h0m0-9h0m-1 0h0m0 23h0m-1-7h0m-1 0h0m0-11h0m-1-4h0m-1 16h0m0 0h0m-1 4h0m-1-8h0m-1-10h0m-1 7h0m-1 2h0m0 4h0m-1-15h0m-1 7h0m-1 3h0m-1-1h0m-2 13h0m-5-22h0m-2 0h0m-2 11h0m0 1h0m-1 3h0m-2 1h0m-1-10h0m0 16h0m0-7h0m-1 1h0m-3-8h0m0-1h0m-2 2h0m0 7h0m-5-10h0m-2 3h0m-1-6h0m-1 18h0m-1-20h0m0-2h0m-420 10h0m-26-7h0m-210-1h0m-18 17h0m-8-18h0m0 6h0m-3-5h0m-13 0h0m-6 10h0m0 11h0m-1-6h0m-6-6h0m-3-8h0m-3 8h0m-8-10h0m-4 15h0m0-13h0m-1-2h0m-8 22h0m0-9h0m-1 6h0m-3-20h0m-2 4h0m-3 6h0m-1 1h0m0 2h0m-1-2h0m0-11h0m0 2h0m-1 11h0m-1-12h0m-2 3h0m-2 0h0m0 1h0m0 1h0m-2-1h0m-2 18h0m0-12h0m-2 1h0m-1-7h0m-7 6h0m0-6h0m-1 7h0m-1 11h0m-1 0h0m-2-1h0m-3-18h0m-2 10h0m-2 4h0m-1-8h0m-1-1h0m-1-8h0m-4 12h0m-6 0h0m-2-1h0m0-9h0m-1-2h0m-2 8h0m-6 6h0m-3 8h0m-4-18h0m0-4h0m-3 2h0m-1 11h0m-2-2h0m-1-5h0m-2 1h0m0 7h0m-4-6h0m-1-9h0m-1 1h0m-3 15h0m0 4h0m-3 0h0m-7-9h0m0 6h0m-3-7h0m-2 0h0m0 12h0m-6 0h0m-1-1h0m-4-13h0m-2 8h0m-1-3h0m-1-11h0m0 10h0m-4 7h0m-1-2h0m-1 6h0m-1-10h0m-1 9h0m-6-5h0m0-12h0m-3 4h0m-1-6h0m-3 5h0m-27 10h0m-4-8h0m26 23h0m2 4h0m2 6h0m3-5h0m1-14h0m3 20h0m1-1h0m1-13h0m1 8h0m2 2h0m3 1h0m2-9h0m4-5h0m2 15h0m1-8h0m6-10h0m2 9h0m1-4h0m0 3h0m0 5h0m2-3h0m0-8h0m0 7h0m1 6h0m2 5h0m0-16h0m1 5h0m4 3h0m0-9h0m1 0h0m0 5h0m12 15h0m2-9h0m4-2h0m1 4h0m0-1h0m1-4h0m10-4h0m2-6h0m10 2h0m5 18h0m1-11h0m5-5h0m4-3h0m4 2h0m3 19h0m1-11h0m2-6h0m0 13h0m3 0h0m0-6h0m2-8h0m1 6h0m2 12h0m4-20h0m3 4h0m0 13h0m0-18h0m1 17h0m0-4h0m1-6h0m2-4h0m3 1h0m3 8h0m1 7h0m0-12h0m3 7h0m3-10h0m2 13h0m2 0h0m3 4h0m1-10h0m1 1h0m3-4h0m0-7h0m24 16h0m30-18h0m208 21h0m0-2h0m28 1h0m6-15h0m439-3h0m4 20h0m5-15h0m3-6h0m3 7h0m6-7h0m1 1h0m2-3h0m2 3h0m1 8h0m2-8h0m2 10h0m3-1h0m3 1h0m2 2h0m0-9h0m0-4h0m1 9h0m1-6h0m0 3h0m1 13h0m0-9h0m1-3h0m0 1h0m0-2h0m0 3h0m1-8h0m1 3h0m1 15h0m1-10h0m0 7h0m0-4h0m1-10h0m0 16h0m0-19h0m2 2h0m0 9h0m3-6h0m1 16h0m1-12h0m0-9h0m1 16h0m0-7h0m0-4h0m0 0h0m2 1h0m1-3h0m0 19h0m1-6h0m2-5h0m0 9h0m1-19h0m0 11h0m1 10h0m1-7h0m0 7h0m1-21h0m0 1h0m1 17h0m0-2h0m1-9h0m0 2h0m0 4h0m0-10h0m1 2h0m3-7h0m0 7h0m1-3h0m0 6h0m0 7h0m1-1h0m1-9h0m0 13h0m0-9h0m1-7h0m0-1h0m2 16h0m0-6h0m1-13h0m0 17h0m1 2h0m0-17h0m4 17h0m0-7h0m1 6h0m1 3h0m0-4h0m0-2h0m1-10h0m0 17h0m0-11h0m2-8h0m0 15h0m1-7h0m0-5h0m1-5h0m0 15h0m1-3h0m0-8h0m0 8h0m2 8h0m1-12h0m1 11h0m2 2h0m1-12h0m0-5h0m0 9h0m1-11h0m1 10h0m1-6h0m1-7h0m1 15h0m1 2h0m5-12h0m4 18h0m2-2h0m0-20h0m5 19h0m6-6h0m1 9h0m2-13h0m0 13h0m2-15h0m3 7h0m0-10h0m4-3h0m2 3h0m9 16h0m0-11h0m6 5h0m1-7h0m1-6h0m8 18h0m7 0h0m0-14h0m9 0h0m1 17h0m4-15h0m4-2h0m2 10h0m2-8h0m13-8h0m4 22h0m2-2h0m1-15h0m4 9h0m44-11h0m202 18h0m0-17h0m1 9h0m1-6h0m0 14h0m3-5h0m1-6h0m1 11h0m3-20h0m2 22h0m1-15h0m5 15h0m6-1h0m0-12h0m1-4h0m1 8h0m0-10h0m0-1h0m1 5h0m1-7h0m0 1h0m1 0h0m0 12h0m1-4h0m11 3h0m3-2h0m-1 26h0m-2-6h0m-14 10h0m-4-15h0m-3 15h0m0 2h0m-1-16h0m-1 1h0m-1 3h0m-5 4h0m-1 3h0m-3-5h0m-1-8h0m-2 7h0m-3 3h0m-1 9h0m-2-6h0m0-12h0m-4 11h0m-1 0h0m-9 1h0m-1 8h0m0-11h0m0 3h0m-1 2h0m-6 4h0m-2-2h0m-252-10h0m-8-3h0m-3 9h0m-2-11h0m-2 8h0m0-4h0m-2-3h0m-1 9h0m-15 0h0m-6-8h0m-1 1h0m-1-2h0m-10 0h0m-9 3h0m-2-3h0m-4 1h0m-1-4h0m-2 2h0m0 17h0m-2-15h0m-2 4h0m-3-4h0m-1 8h0m-1-13h0m-1 19h0m-4-8h0m-1 12h0m-5-17h0m0 12h0m-4-15h0m-3 1h0m0 5h0m0-1h0m-3 6h0m-1 0h0m-1-6h0m0-1h0m0 1h0m-2 7h0m0-4h0m-1-9h0m-1 2h0m0 12h0m-2-9h0m0 14h0m0-7h0m0-9h0m-1 18h0m-1-15h0m-2 4h0m0-2h0m-3 8h0m-1-16h0m0 20h0m-1-4h0m0-4h0m-3 9h0m-1-19h0m-1 19h0m0-11h0m0 8h0m-1-12h0m-1 11h0m0-7h0m0 9h0m0-3h0m-3-10h0m0-2h0m0 10h0m0-11h0m-1 2h0m-3-4h0m0 20h0m-2-13h0m-2 9h0m0-19h0m-2 0h0m-2 3h0m-1 14h0m0-5h0m0-7h0m-1 13h0m-3-11h0m-4 13h0m-2-7h0m0-8h0m-3 3h0m0 11h0m-3-6h0m-1-6h0m0 13h0m-3-4h0m-5 7h0m-3-19h0m-2 19h0m-1-18h0m0 6h0m-2 3h0m-2 9h0m-3-10h0m-3-4h0m-479 11h0m-253-17h0m-9 9h0m-23-10h0m0 12h0m0 5h0m-3-18h0m-3 11h0m-3-2h0m-2 7h0m-2 6h0m-1-6h0m-3-16h0m-1 17h0m-5-9h0m-11-1h0m-2-7h0m-2 16h0m-3 0h0m-1-9h0m-2 0h0m-1 15h0m-3-19h0m0 9h0m-1-13h0m-6 4h0m0 7h0m-2 1h0m-2-1h0m-1-8h0m-2 17h0m-4 1h0m-2-8h0m0 8h0m-5-11h0m-8-7h0m0 10h0m-1-4h0m-1 8h0m-4-2h0m-2-4h0m-2-2h0m-3-4h0m-1 0h0m0 16h0m-3-4h0m-1-10h0m-4 9h0m-1-5h0m-1 6h0m-4-8h0m-8 4h0m-3 6h0m-1-16h0m-1 7h0m-1-2h0m-8 1h0m-6-7h0m-6 25h0m12 1h0m0 12h0m4-5h0m9-9h0m1 7h0m2-7h0m1 10h0m0-3h0m0-3h0m8 0h0m5-4h0m10 17h0m1-2h0m0-1h0m2-6h0m4-5h0m2 11h0m2-13h0m0 15h0m1-14h0m0 10h0m5-11h0m0-2h0m1 6h0m1-6h0m0 8h0m3 11h0m1-14h0m5 1h0m2 10h0m0-9h0m4 4h0m1 0h0m1 7h0m13 3h0m6-16h0m0 0h0m2 3h0m1 13h0m6-21h0m0 11h0m6 0h0m6 6h0m0 3h0m1-1h0m1-5h0m7-4h0m1 9h0m4-10h0m6-4h0m1 11h0m0-11h0m7 5h0m1 0h0m1 7h0m262-17h0m490 1h0m2 10h0m4-3h0m2-3h0m1-3h0m5 15h0m2-8h0m0-10h0m0 9h0m2 3h0m3-1h0m0 2h0m1-11h0m0 10h0m1 4h0m1-15h0m0 16h0m2 6h0m1-18h0m1 10h0m0-4h0m0 0h0m3 2h0m0-5h0m1-4h0m1-1h0m0 4h0m2-6h0m2 13h0m0-5h0m1 10h0m8-12h0m3-3h0m1 6h0m1-10h0m3 8h0m1-1h0m2 15h0m1-10h0m0-6h0m1 5h0m0-10h0m1 21h0m1 0h0m1 0h0m0-18h0m1-2h0m0 17h0m1-3h0m4-11h0m4 5h0m1 5h0m1 6h0m2-17h0m3 6h0m1 2h0m3-3h0m1 8h0m0-16h0m1 6h0m0 9h0m0-5h0m1-6h0m1 7h0m2-9h0m1-2h0m2 18h0m2 1h0m0-14h0m0 6h0m1 0h0m2-4h0m2 12h0m1-20h0m1 4h0m0 19h0m4-6h0m0-1h0m1-13h0m1 11h0m7-14h0m6 22h0m3-6h0m1 1h0m3-10h0m151 5h0m124 6h0m4 0h0m9-1h0m5-1h0m2 2h0m7-13h0m0 15h0m1-7h0m1-6h0m7 14h0m1-20h0m0 13h0m2 1h0m1-10h0m0 17h0m8-2h0m2-14h0m2-3h0m1-3h0m1 15h0m9-2h0m1 10h0m7-17h0m4 9h0m1-1h0m2 4h0m0-4h0m3-11h0m-41 25h0m0 1h0m-1 9h0m-4-2h0m-1 6h0m-1-6h0m0-4h0m-1-2h0m-1-4h0m0-1h0m-7 7h0m-1 6h0m-1-10h0m-4 5h0m-1-3h0m-4 13h0m-5-16h0m-1 8h0m0 1h0m-2-2h0m0-4h0m-1 6h0m-5-5h0m-1 16h0m-5-19h0m-8 4h0m-5-1h0m-224 15h0m-3-7h0m-2-11h0m0 7h0m-2-2h0m-20-8h0m-1 8h0m0 1h0m-3-6h0m-2 2h0m-1-1h0m-3 17h0m-1-20h0m-1 15h0m-5-5h0m-1 9h0m0-13h0m-3 8h0m-1-8h0m-1 0h0m-3 1h0m0 0h0m-1 1h0m-4-1h0m0 1h0m-2 4h0m-3 7h0m0-8h0m-1 0h0m0 5h0m0 5h0m-1-15h0m-5 12h0m-2-16h0m-1 2h0m-1 11h0m-1-15h0m0 17h0m0-7h0m-2-4h0m0 10h0m0-17h0m-1 2h0m0 20h0m-4-17h0m-1-4h0m-6 13h0m-2-13h0m-3 9h0m0 9h0m-2-11h0m-1 1h0m-1-10h0m-1 12h0m0-11h0m-1 6h0m-1-1h0m0 11h0m-1-2h0m0-11h0m0 1h0m-1 17h0m0-10h0m-2 8h0m-1-19h0m0 21h0m-2-4h0m-1-3h0m-3-6h0m-8 1h0m-2 6h0m-1-9h0m-1 12h0m-3-2h0m-1-3h0m-2 5h0m-1 0h0m-15-12h0m-2-2h0m0 11h0m-514-2h0m-2-10h0m-234 2h0m-4 2h0m-4 3h0m-2-5h0m-3 15h0m-4-8h0m-1 8h0m-5-15h0m-3 15h0m-4-3h0m-5 1h0m0-7h0m-4 7h0m0-19h0m-2 23h0m-2-18h0m-3-5h0m-7 4h0m-10 19h0m-3-2h0m-6-16h0m-1 18h0m-1-22h0m-2 7h0m-3-1h0m0-7h0m-4 15h0m-11-4h0m-2-4h0m-6-2h0m-5-5h0m-7 13h0m-1-11h0m-6 10h0m-1 11h0m-11-20h0m0 18h0m-8-16h0m-5 14h0m-1-4h0m-8-11h0m-10 14h0m9 18h0m2 2h0m12 4h0m2 5h0m7-11h0m1-1h0m3 0h0m1-5h0m6-2h0m5 7h0m1 8h0m2-7h0m4-6h0m2 3h0m1 3h0m2-4h0m2 13h0m8-10h0m2 5h0m3 6h0m2-12h0m11-2h0m1 13h0m0-3h0m5 1h0m6-19h0m8 12h0m4 8h0m2-14h0m13 1h0m2-7h0m2 9h0m9-9h0m0 23h0m13-9h0m6-13h0m15 14h0m2-1h0m2 8h0m14-7h0m58 4h0m3-2h0m656-11h0m9 7h0m0 0h0m4 8h0m0-7h0m1-5h0m0-8h0m7 5h0m2 9h0m4-8h0m0 11h0m0-1h0m2-11h0m0 17h0m3-8h0m0-6h0m4 0h0m0 8h0m0 0h0m1-9h0m2-1h0m1 9h0m0-12h0m2-4h0m0 2h0m2-1h0m3 9h0m0 6h0m1-15h0m2 6h0m3-6h0m2 13h0m0-13h0m1 3h0m2-3h0m0 19h0m3 0h0m1-8h0m1-11h0m2 17h0m3-6h0m1 9h0m1-12h0m0-2h0m2 1h0m0 12h0m1 2h0m3-3h0m0-8h0m3 11h0m0-18h0m1 2h0m0-4h0m2 21h0m2-16h0m3 12h0m0-15h0m4 12h0m2-12h0m0 16h0m3-5h0m3-4h0m2-7h0m7-4h0m2 20h0m1 1h0m1-4h0m0-14h0m1 3h0m0 12h0m1-2h0m2 0h0m1-3h0m0 7h0m5-17h0m5 2h0m10 11h0m7-5h0m1-6h0m3 4h0m2 12h0m4-18h0m0 13h0m7 2h0m3 1h0m4-2h0m7-1h0m3-3h0m9-8h0m8 16h0m4-5h0m16 3h0m64 3h0m47-2h0m8 3h0m12-3h0m4-4h0m8-2h0m2 4h0m1-5h0m2-4h0m4 4h0m11 1h0m15-6h0m12 12h0m1-14h0m3 3h0m7-4h0m2-3h0m-65 30h0m-9 1h0m-1-4h0m-2 3h0m-4-3h0m-9-2h0m-19 10h0m-1 1h0m-1-4h0m-1 4h0m0 3h0m-1-12h0m-10 1h0m-1 6h0m-4 5h0m-6-15h0m0 0h0m-2 10h0m0 10h0m0-16h0m-1 12h0m-7 1h0m0-9h0m-4 11h0m0-11h0m-1-9h0m-4 8h0m-2 11h0m-4-4h0m-1-13h0m0 12h0m0-12h0m0 6h0m-2 9h0m-2-4h0m-7 8h0m-3 0h0m-1-9h0m-3 8h0m-3-10h0m-3 2h0m-1-1h0m-6 9h0m-1-5h0m-9 0h0m0-14h0m-5 19h0m-4-14h0m-5-5h0m-6 21h0m-2-8h0m-1 1h0m-1 3h0m-2 3h0m0-11h0m-1-5h0m-9 2h0m-5-4h0m-5 5h0m-2-8h0m-3 11h0m-4-8h0m-34 1h0m-11 1h0m-6-1h0m-7 8h0m0-8h0m-1-5h0m-3 2h0m-2-1h0m-1 5h0m-3 2h0m-3 2h0m-1-1h0m-1-1h0m-1-7h0m-2 1h0m-4 3h0m-1 3h0m0 2h0m0 4h0m-2-4h0m-1-3h0m-2-2h0m-4 4h0m-4-2h0m-1 10h0m-1-7h0m0-1h0m0-7h0m0 2h0m-1 1h0m-2 2h0m-1 9h0m-1-12h0m-2 10h0m-1-9h0m-2 8h0m0-2h0m0-11h0m-6 10h0m0-4h0m-5 0h0m-1 12h0m0-3h0m-2-7h0m-4-3h0m0 3h0m-3-8h0m-6 15h0m-2-11h0m-1 2h0m-1 2h0m-3-5h0m-9 12h0m-607 8h0m-15-4h0m-21-17h0m0 20h0m-13-21h0m-8-1h0m-17 9h0m-2 3h0m-1 2h0m-5-8h0m-2 14h0m-2-5h0m-1-14h0m-6 19h0m-1-19h0m-1 4h0m-3 10h0m0-6h0m-1 8h0m-5-8h0m-1 14h0m-5-1h0m-4-4h0m-2-11h0m-1 13h0m-2-16h0m-3 13h0m-1-16h0m-3 16h0m-3-14h0m-4-1h0m-1 18h0m-5-20h0m-1 10h0m-7 7h0m-1-14h0m-12 10h0m-1-6h0m0-2h0m-10 0h0m-3-4h0m-4 8h0m-4-5h0m-4 3h0m0 1h0m-3 3h0m-1 4h0m0-7h0m-2 13h0m-8-6h0m-13-3h0m-17 5h0m-9-17h0m-3 15h0m-6-1h0m-2-1h0m0-6h0m-3 7h0m-3 9h0m-10-23h0m-22 8h0m-1-7h0m27 28h0m1-3h0m3-1h0m14 2h0m8 1h0m4 2h0m15-4h0m63-1h0m12 1h0m1 0h0m13 5h0m4-2h0m8 10h0m8 1h0m1-16h0m2 2h0m2 21h0m3-14h0m4-7h0m2 16h0m0-12h0m3 1h0m21 1h0m3-7h0m1 2h0m4 18h0m0-1h0m1 3h0m0-21h0m2 7h0m9 9h0m4-10h0m1 2h0m3 2h0m13 10h0m2-12h0m21 8h0m2-5h0m785-8h0m10 0h0m3 5h0m6 0h0m8 4h0m3-12h0m3 6h0m2 5h0m1 9h0m1-19h0m2 2h0m1 16h0m0-20h0m4 22h0m0-6h0m3-16h0m2 0h0m3 5h0m1 10h0m1 7h0m0-10h0m0-9h0m0 11h0m2-12h0m2 17h0m3-18h0m8 17h0m3-13h0m1 11h0m5-11h0m1 8h0m0 8h0m1-19h0m4 16h0m0-14h0m3 2h0m1 2h0m0 13h0m2-9h0m0 9h0m3-15h0m2 2h0m1 13h0m0-5h0m1-8h0m0 1h0m1 8h0m2-5h0m5 10h0m2-23h0m3 22h0m1-9h0m2-1h0m1 3h0m0 7h0m1-20h0m3 8h0m3-1h0m0 6h0m4-10h0m0 15h0m3-5h0m13 2h0m0-4h0m0 19h0m-5-8h0m0 21h0m-7-17h0m-1 5h0m-2 1h0m-2 4h0m-2-5h0m-3 12h0m-2 1h0m-1-12h0m-4 3h0m-1 3h0m-2-2h0m-2 0h0m-2 3h0m-1 2h0m-1 3h0m-5-17h0m-4-2h0m0 5h0m0-6h0m-1 0h0m-1 6h0m-1 5h0m0-6h0m-1-7h0m-1 6h0m-1 14h0m-1-10h0m-1 1h0m-1-5h0m0 8h0m-3-4h0m-4-5h0m0-4h0m0 1h0m-1 6h0m0 8h0m0 1h0m-1 4h0m0-17h0m-1 14h0m-4 3h0m-2-15h0m0 0h0m-3 2h0m-1 15h0m-1-14h0m0-2h0m-3 8h0m-1 3h0m0-15h0m-5 0h0m-3 9h0m-4 3h0m-3 2h0m-6-7h0m0 12h0m-2-21h0m-1-1h0m-1 20h0m-4 1h0m-2-16h0m-811 6h0m-6 0h0m-3 10h0m-6-8h0m-7 7h0m-2-14h0m-2 8h0m-5-2h0m-3-8h0m-4 14h0m-4-4h0m-2-2h0m-3 11h0m0-20h0m-1 2h0m-6 0h0m-4 0h0m-1 7h0m-1 7h0m-1-13h0m-2 1h0m-2 4h0m0 10h0m-1-10h0m-6 5h0m-2-6h0m-1 3h0m-3-9h0m0-1h0m-5 8h0m-1 9h0m-4-9h0m-3-6h0m-13 17h0m-1-8h0m-2 7h0m13 10h0m24-4h0m4 19h0m3-12h0m5 10h0m2-8h0m2 2h0m4-11h0m2 15h0m1-16h0m3 0h0m8-2h0m3 17h0m4-2h0m7-14h0m836 10h0m1-6h0m12-2h0m3 4h0m2-6h0m2 1h0m1 3h0m3 14h0m0-13h0m2 13h0m2 3h0m1-13h0m6 8h0m3-2h0m0 2h0m4 0h0m4-7h0m4 9h0m1-5h0m8 8h0m0-3h0m1-11h0m3 8h0m2-16h0m1 2h0m1 12h0m5 9h0m0-14h0m1-5h0m0-3h0m2 14h0m3-15h0m3 16h0m2-2h0m4-1h0m7-4h0m6 7h0m5-10h0m-28 21h0m-12 0h0m-7 6h0m0-1h0m-16 7h0m-1-6h0m-5 2h0m-13-4h0m0-1h0m-1-6h0m-2 8h0m-5-3h0m-1-3h0m-868 0h0" stroke="#b0e0e8" stroke-width="7.8"/>
<path d="M763 215h0m10-20h0m12 19h0m5-2h0m955 18h0m-87-3h0m-785 0h0m-10 11h0m-1-5h0m-3-5h0m-7-2h0m-10 10h0m-2-6h0m-3-13h0m-3 7h0m-3 7h0m-1 4h0m-4-5h0m-1-6h0m-8-4h0m-1 9h0m0-13h0m-15 0h0m-5 18h0m-3-7h0m-1-3h0m-1 14h0m-1-7h0m-2-10h0m0 2h0m-6-7h0m-3 20h0m0-15h0m-5 13h0m-2-14h0m-5 12h0m-2-3h0m-5-3h0m-7 0h0m-2 12h0m-1-21h0m-8 15h0m-2-5h0m-2-3h0m-2-6h0m-7 17h0m-21 3h0m-14-5h0m-9 21h0m10 0h0m4-11h0m4-3h0m2 14h0m1-12h0m0 14h0m4 2h0m10-3h0m0 5h0m1 2h0m1-15h0m2 1h0m12-4h0m9 9h0m2 7h0m2-18h0m0 7h0m3-7h0m14 15h0m3 5h0m1-18h0m0-4h0m5 2h0m8 10h0m11-4h0m10 9h0m4-6h0m3 1h0m5 3h0m16 3h0m1-13h0m0 18h0m3-13h0m1-9h0m0 6h0m6 16h0m2-6h0m2-1h0m17 1h0m1-14h0m8 10h0m3-8h0m0-3h0m19 14h0m8-2h0m771 0h0m32-1h0m46 10h0m49 9h0m-70 3h0m-40 8h0m-15-8h0m-38 2h0m-720-12h0m-7 15h0m-2 2h0m0-1h0m-5 3h0m-2-1h0m-5-13h0m0-3h0m-6 4h0m0 10h0m-15-14h0m-1 3h0m-12 4h0m-4 11h0m-25-5h0m-7 0h0m-4-11h0m-15 3h0m0 9h0m-2 6h0m-2-2h0m-2-16h0m-5 11h0m-9 4h0m-8-8h0m-1-6h0m-11 6h0m-8 7h0m-4-4h0m-1-5h0m-4-4h0m-1 7h0m-6-1h0m-3-9h0m-1 19h0m-3-18h0m-16 9h0m-3-5h0m-2 6h0m-9-11h0m-3 18h0m0-14h0m-5 12h0m-4-8h0m-3-9h0m-37 45h0m6-17h0m1 8h0m4 4h0m0-9h0m5-5h0m4 7h0m1-7h0m2-3h0m9 16h0m8-14h0m1 7h0m14-10h0m3 12h0m6-3h0m2-9h0m5 4h0m7 5h0m6 3h0m1 3h0m2 1h0m3-11h0m1 1h0m3 14h0m6-14h0m1 7h0m6 9h0m5-9h0m0-13h0m10 21h0m20-3h0m6-11h0m4 9h0m10-7h0m3 8h0m9-15h0m3 7h0m2-6h0m2 9h0m2-7h0m3 3h0m9-8h0m3 5h0m15 4h0m0-4h0m1-5h0m12 10h0m3-1h0m9 3h0m1 6h0m3-14h0m16 2h0m2-4h0m18-2h0m900 8h0m-4 31h0m-894-7h0m-9-5h0m-6 12h0m-4 1h0m-5 4h0m-5-20h0m-5 18h0m-12 4h0m-7-3h0m-4-11h0m-12 0h0m-9 6h0m-12 1h0m-1-4h0m0 6h0m-2-10h0m-2 11h0m0-3h0m-18 4h0m-5-17h0m-1 20h0m-15-16h0m-10 15h0m-1 0h0m-3 1h0m-12-3h0m-2-2h0m-5-9h0m-20-6h0m-5 17h0m-14-3h0m-11-1h0m-8-9h0m-15 6h0m-14-1h0m-2 7h0m-12-13h0m-4 0h0m-2 3h0m-9 15h0m-3-20h0m-3 15h0m7 12h0m5 4h0m1-4h0m10 15h0m5-17h0m1 5h0m7 4h0m2-3h0m5-10h0m1 19h0m8-8h0m1 3h0m10-13h0m1 21h0m6-22h0m7 23h0m19-13h0m18-10h0m7 2h0m6 21h0m2-6h0m1-8h0m1-5h0m2 18h0m0-3h0m4-16h0m14 9h0m5 10h0m11-12h0m3 8h0m4-16h0m9 7h0m10-4h0m21 7h0m6 8h0m3-11h0m1-4h0m3 1h0m3-6h0m4 8h0m2 7h0m4 3h0m1-12h0m2 14h0m1-18h0m2 12h0m12-6h0m9 13h0m2-9h0m2 9h0m1-10h0m11 3h0m5 0h0m775-13h0m44 13h0m6 2h0m83-11h0m3 15h0m-166 16h0m-74-10h0m-420 19h0m-15-4h0m-219-8h0m-6-4h0m-7 1h0m-1 1h0m-9 13h0m-7 0h0m-6-8h0m-1-1h0m-1-7h0m0 14h0m-1 2h0m-4-8h0m-3 9h0m-1-14h0m-5-1h0m-4 15h0m-4-8h0m-9-3h0m-2-3h0m-1 7h0m-12 7h0m-16-12h0m-11 1h0m-10 12h0m-19-7h0m-4 5h0m-15-11h0m-17 4h0m-11 1h0m0 3h0m-8-16h0m-3 20h0m-3-3h0m-6 1h0m-4-9h0m-2-3h0m-2-2h0m-4 17h0m-4-6h0m-4-1h0m-9-3h0m-3 5h0m-3-2h0m0-8h0m-1 13h0m-5-8h0m-7 5h0m0 5h0m-14-10h0m0 1h0m-3 10h0m-8-9h0m-4 7h0m-2-2h0m-2-4h0m-1 8h0m-7-6h0m0-2h0m-347 0h0m-7-7h0m-5 5h0m-1-9h0m-2 13h0m-11 5h0m-11-15h0m0 1h0m-6 13h0m-10 2h0m-14-1h0m-9-10h0m-5 7h0m-9-8h0m-8-1h0m-1 5h0m-3-3h0m-14 5h0m-3 6h0m-2-1h0m-24 25h0m15-17h0m8 6h0m6-9h0m0 12h0m8-6h0m1-2h0m1 12h0m8-14h0m7 4h0m0 13h0m7-10h0m14 11h0m7-8h0m1-1h0m6 8h0m5-18h0m1-4h0m1 20h0m6-10h0m1-1h0m2 13h0m1-11h0m4 11h0m4-21h0m11 6h0m2 14h0m3-16h0m1-4h0m3 18h0m3 4h0m6-23h0m1 13h0m6 5h0m7-16h0m0-2h0m1 9h0m1 9h0m7-2h0m1 6h0m1-11h0m2-4h0m2 13h0m332-12h0m1 5h0m3 9h0m1 0h0m9-2h0m9-9h0m2 5h0m0-1h0m0 8h0m1-16h0m2 10h0m2-13h0m15 12h0m5-9h0m5-3h0m1 6h0m23-7h0m11 3h0m5 7h0m2 2h0m0 6h0m1-21h0m1 5h0m5 6h0m4 5h0m0 1h0m4 1h0m7-11h0m25 0h0m1 7h0m2-1h0m1-3h0m14 4h0m5 0h0m6 5h0m2-12h0m3 8h0m7-3h0m1 11h0m3-12h0m4 7h0m4 4h0m7 1h0m4-15h0m1-1h0m6 2h0m0 14h0m2-17h0m9 10h0m5-3h0m12 8h0m3 2h0m0-3h0m10-8h0m4 5h0m0-12h0m2 11h0m3 3h0m2-1h0m0 4h0m7-17h0m1 2h0m1-5h0m3 14h0m1-9h0m12 2h0m902 11h0m-19 14h0m-32 8h0m0-5h0m-30 10h0m-52-22h0m-603 6h0m-3 10h0m-168-17h0m-8 19h0m-2-16h0m-22 9h0m-5-3h0m-3 3h0m-11 9h0m-1-19h0m-2 4h0m0 7h0m-1 9h0m-5-21h0m-1 9h0m-7-10h0m0 20h0m-5-17h0m-2-2h0m-5 22h0m-2-3h0m-7-5h0m-14 0h0m-9-10h0m-2 12h0m-11-1h0m-1-7h0m-1-7h0m0 20h0m-8-13h0m0-8h0m-4 2h0m0 20h0m-3-19h0m-2 15h0m0-6h0m-1-3h0m-1 2h0m-3-7h0m-15 11h0m-6-5h0m-15-8h0m-10-3h0m-5 7h0m-2-7h0m-8 11h0m-3-4h0m-5-1h0m-1 9h0m-2-9h0m-15 1h0m0 13h0m-27 2h0m-1-2h0m0-12h0m-2 0h0m-4-7h0m-2 1h0m-19 11h0m-307 1h0m0 0h0m-4-3h0m-4 10h0m0-11h0m-3-4h0m-2-6h0m-6 1h0m-8 17h0m-1-17h0m-1 20h0m-2-17h0m-4 14h0m0-7h0m-3 3h0m-15 0h0m-6-11h0m-4 15h0m-4-4h0m-5-12h0m-2 17h0m-4-10h0m-3-3h0m-3 16h0m-2-13h0m-7 11h0m-8-8h0m-7-4h0m-2-5h0m-11 1h0m-1 9h0m-8-6h0m-1 16h0m-7 0h0m-14-15h0m-10 2h0m-9 5h0m-4 3h0m0-3h0m-2 2h0m-1-1h0m-3-8h0m-3 4h0m0 8h0m-12-6h0m-4-4h0m-9 12h0m-15 21h0m5-8h0m8-7h0m4 7h0m3 1h0m9 0h0m6-6h0m0 3h0m10-7h0m14 7h0m3 0h0m9 12h0m5-13h0m6-4h0m9 9h0m4-9h0m24 4h0m11 0h0m1 14h0m7-16h0m4 14h0m12-2h0m9-13h0m7 3h0m16 4h0m5-2h0m3-6h0m1 10h0m14-5h0m6 14h0m5-17h0m1-3h0m3 14h0m10-2h0m8 5h0m312-4h0m0-5h0m1-1h0m4-3h0m10 1h0m7-8h0m1 1h0m8 14h0m25 0h0m4-15h0m8 13h0m24-11h0m5-2h0m7 17h0m2-7h0m0 0h0m14 0h0m2 11h0m5-17h0m12 15h0m3-10h0m1-7h0m3 11h0m8 7h0m2-7h0m13-9h0m6 4h0m16-3h0m4 11h0m14-11h0m1 11h0m2-4h0m6 11h0m3-2h0m14-17h0m17-2h0m5 2h0m5 13h0m1 2h0m12-13h0m2 3h0m254-2h0m391 5h0m56 2h0m124-8h0m11 15h0m9-3h0m4-18h0m13 18h0m42 5h0m11-17h0m-14 21h0m-25 18h0m-6-8h0m-11-4h0m-67 8h0m-22-1h0m-8-5h0m-5-4h0m-46 8h0m-6 7h0m-13-8h0m-1-1h0m-7 9h0m-38 0h0m-402-5h0m-27 5h0m-216-6h0m-3-7h0m0-1h0m-8 15h0m-6-3h0m-4-6h0m-6-9h0m-1 17h0m-2-19h0m-12 18h0m-8-13h0m-10 11h0m-2 4h0m-2-7h0m-8-3h0m-7-12h0m-4 12h0m-5 3h0m-5 5h0m-3-12h0m-1-3h0m-4 6h0m-13 8h0m-3-8h0m-4-4h0m-8 3h0m-2-6h0m-3 9h0m-1-13h0m-7 15h0m-12-4h0m-33 10h0m-2-15h0m-12 16h0m0-18h0m0 1h0m-3 12h0m-9-6h0m-1 5h0m-3-9h0m0-3h0m-10 1h0m-1 16h0m-5-20h0m-5 1h0m-2-3h0m-1 13h0m-19 6h0m-11-14h0m-11 16h0m-1-2h0m-3-10h0m-2-8h0m-5 3h0m-1 3h0m-1 8h0m0 8h0m-4-13h0m-308 11h0m0-15h0m-3 12h0m-5-7h0m-5-1h0m-3-5h0m-2 7h0m-17 7h0m0-4h0m-5-5h0m-13-8h0m-12 4h0m-18-2h0m-6 12h0m-5 4h0m-5-13h0m-5-3h0m-7 14h0m0 1h0m-6 3h0m0-22h0m-12 20h0m-14-5h0m-6 1h0m-8-13h0m-5 5h0m-7-1h0m-19 10h0m-7 3h0m-7-17h0m-2 6h0m-1 7h0m-3-10h0m-2 4h0m-4 2h0m-7-9h0m-6 12h0m-8 23h0m4-2h0m5-9h0m14 14h0m6-3h0m18-4h0m3 7h0m1-11h0m2 4h0m9 1h0m8 4h0m48 8h0m7-9h0m0 8h0m12-13h0m0-3h0m3-6h0m9 15h0m8 7h0m8-8h0m3 8h0m6-10h0m0 10h0m21-10h0m7 7h0m7-12h0m5 7h0m8-13h0m8-1h0m3 0h0m18 12h0m285-10h0m29 16h0m1 5h0m1-14h0m10-4h0m11 16h0m8-8h0m2-2h0m2-9h0m7 20h0m4-20h0m1 0h0m6 4h0m1-3h0m11 3h0m1 13h0m1-12h0m1 13h0m1-15h0m16-2h0m0 8h0m4 7h0m0-1h0m6-17h0m4 2h0m9 11h0m8 0h0m11 10h0m5-20h0m4 10h0m2 0h0m8 5h0m2-7h0m4-2h0m9 3h0m0 10h0m23-19h0m15 7h0m6-2h0m3-4h0m0-4h0m1 17h0m0-13h0m4 5h0m0-8h0m22 19h0m4-12h0m1-4h0m2 6h0m19-5h0m1-2h0m10 5h0m4 12h0m1-16h0m0 19h0m2-12h0m119 6h0m68 4h0m13-8h0m23-11h0m430 16h0m19 2h0m57-9h0m7-3h0m34 4h0m69-2h0m56 13h0m7-11h0m0 9h0m20-7h0m1 21h0m-16 8h0m-3-8h0m-7-7h0m-12 13h0m0 6h0m-5-12h0m-6-4h0m-13 6h0m-14-13h0m-4 23h0m-13-15h0m-33 1h0m-23 13h0m-11-17h0m-25-3h0m-12 3h0m-17 6h0m-4 5h0m-6 4h0m-5-3h0m-5 5h0m-10-14h0m-27-1h0m-14 4h0m-21 2h0m-2 2h0m-361-11h0m-118 18h0m-132-17h0m-9-1h0m-12 5h0m-6 9h0m-4-3h0m-2-7h0m-5 7h0m-5 1h0m-9-3h0m-7 4h0m-6-9h0m-20 6h0m-11-6h0m-2 11h0m0-13h0m-5 5h0m0-4h0m-15 2h0m-5 13h0m0-2h0m-2-4h0m-8-3h0m-5-6h0m-2 16h0m-16-11h0m-2 10h0m0-8h0m-3 6h0m-15-1h0m-3-6h0m-2-5h0m-17 3h0m-7-10h0m-15 15h0m-3-2h0m-5-4h0m-2 1h0m-10 7h0m-4-3h0m-3-14h0m-2 0h0m-1 22h0m-5-12h0m0 4h0m-2-7h0m-1 11h0m-5-1h0m-2-18h0m-3 21h0m-1-4h0m-2-11h0m-2-1h0m-1-3h0m-1 14h0m-10 1h0m-1-16h0m0 13h0m-2 7h0m-1-16h0m-3 10h0m-5 0h0m-1-12h0m-4 0h0m-3 1h0m-5 6h0m-18 10h0m-21-7h0m-249 6h0m-7-4h0m-22 6h0m-1-21h0m-5 21h0m-4 1h0m-1-14h0m-8 14h0m-1-20h0m-4 20h0m-2-4h0m-19-10h0m-17-3h0m-14 12h0m-18 2h0m-6-4h0m-8 4h0m-2-1h0m-17-16h0m-16 8h0m-21 11h0m-14-18h0m0 20h0m-1-6h0m-4 3h0m-3-18h0m-12 11h0m-4 4h0m-2 3h0m-3 0h0m-3-16h0m0 11h0m-2-14h0m-8 35h0m9-1h0m4 3h0m10-8h0m8 12h0m0-10h0m0 0h0m14 14h0m16-1h0m23-4h0m8 0h0m2-10h0m7 3h0m5 11h0m11-4h0m17-9h0m2 8h0m1-14h0m19 16h0m1-7h0m6 1h0m6 3h0m21 2h0m6-15h0m1 19h0m11-8h0m13-8h0m1 7h0m8 2h0m14-7h0m5-7h0m246 9h0m12-4h0m11 11h0m0 4h0m0-9h0m15-2h0m9 10h0m8-2h0m12-1h0m9-8h0m5-1h0m0 8h0m2-15h0m0 14h0m0-13h0m9 5h0m0-5h0m3 22h0m9-15h0m1-7h0m0 9h0m16 9h0m3-10h0m9 7h0m4 4h0m2-15h0m10 18h0m3-8h0m2 7h0m7-4h0m1-15h0m16-2h0m1 4h0m4 12h0m5 3h0m7-13h0m4 6h0m7 10h0m7-12h0m2-7h0m7 15h0m3-9h0m2 10h0m1-18h0m2 21h0m6-16h0m19 15h0m2-6h0m12-4h0m5-6h0m13 14h0m0-5h0m3 6h0m12-21h0m1 6h0m4 6h0m1-11h0m9 4h0m13 6h0m2 4h0m3-9h0m253 15h0m372-16h0m5 11h0m8-2h0m0-5h0m5-1h0m13-2h0m22-3h0m30 20h0m5-2h0m5 2h0m9-15h0m23 0h0m50 3h0m47 5h0m23 1h0m9 6h0m25-4h0m14 0h0m-18 10h0m-29-1h0m-4 18h0m-7-15h0m-50-1h0m-6 3h0m-7-3h0m-9 8h0m-9 1h0m-5-7h0m-22-5h0m-5 12h0m-1 0h0m-1-15h0m-8 19h0m-16-1h0m-10-15h0m-10-2h0m-13 17h0m-17-10h0m-26 14h0m-8-4h0m-17-4h0m-15-4h0m-37-1h0m-316 10h0m-105-17h0m-12 13h0m-159 1h0m0-9h0m-12 6h0m-4 5h0m-8-7h0m-3-1h0m-15-4h0m-9 12h0m-3 4h0m-2-22h0m-1 23h0m-1-20h0m-1 15h0m0-2h0m-22-1h0m-7-10h0m-11 11h0m0-5h0m-5 9h0m-5-1h0m-4-16h0m-7 10h0m-15 5h0m-7-18h0m-9 14h0m-11-4h0m-1 1h0m-8 1h0m-6 5h0m-9-9h0m0-5h0m0 13h0m-7-10h0m-2-5h0m-1 21h0m-3-22h0m-4 19h0m0 0h0m-5-12h0m-1-6h0m-3 15h0m-3-6h0m0-3h0m-2 8h0m-2 4h0m-3-4h0m0-12h0m-3 9h0m0-6h0m-2 8h0m-2 2h0m-1-2h0m-6 5h0m0-3h0m-6-8h0m-1 14h0m-2-18h0m-7-3h0m0 19h0m-5-20h0m-2 15h0m-9-4h0m-9 7h0m-1-1h0m-6 1h0m-3-3h0m-2-15h0m-2 23h0m-1-21h0m-11 17h0m-6-12h0m0 3h0m-19 3h0m-6 1h0m-3 8h0m-16-8h0m-220-1h0m-1-10h0m-3 3h0m-6 8h0m-2-1h0m-5 10h0m-3-5h0m-5-2h0m-5-6h0m-7 6h0m-3-13h0m-8 4h0m-12-2h0m-4 7h0m-10 4h0m-4-15h0m-4 0h0m-6 22h0m-13-8h0m-10-12h0m-9-1h0m-37 7h0m-7 2h0m-4 11h0m-4-7h0m-2 0h0m-7-12h0m-31 0h0m-2 2h0m-1-2h0m-6-2h0m0 11h0m0 1h0m-3-2h0m-4-2h0m19 30h0m1-5h0m0 10h0m6-16h0m6 18h0m3 0h0m2-3h0m3-8h0m1 1h0m6-7h0m11 7h0m15 7h0m1-4h0m3 7h0m13-16h0m11 7h0m16-7h0m7 3h0m6-4h0m7 12h0m12-13h0m1 2h0m11 9h0m1-13h0m3-1h0m12 22h0m8 0h0m0 0h0m3-17h0m0 16h0m3 0h0m5-12h0m5 9h0m3-8h0m0-6h0m2 13h0m7-4h0m7 8h0m7-16h0m0-6h0m171 4h0m32 10h0m9 1h0m2 3h0m12-7h0m6 9h0m4-14h0m10 3h0m8-1h0m8 5h0m2 6h0m1-7h0m4 11h0m3-14h0m1 12h0m3 1h0m4-4h0m11-2h0m1-3h0m1-11h0m1 7h0m9-1h0m3 15h0m3-5h0m7-13h0m1 6h0m1 10h0m2-4h0m1-15h0m6 15h0m12 4h0m3-9h0m0 1h0m5-13h0m2 4h0m3 7h0m14-9h0m3 9h0m1-6h0m1 11h0m10-15h0m2 6h0m6 4h0m1-8h0m1 3h0m1 16h0m3-13h0m4-5h0m0-4h0m1 3h0m6-2h0m6 14h0m2 0h0m26-15h0m15 4h0m136-4h0m234 12h0m88 7h0m258-16h0m60 14h0m21-11h0m5 16h0m28-20h0m18 21h0m10-17h0m6 16h0m9-15h0m25-1h0m13-3h0m23 0h0m18 16h0m15 1h0m5-4h0m-114 26h0m-1-7h0m-88 11h0m-48-6h0m-240-6h0m-222 7h0m-324-1h0m-2-11h0m-11-3h0m-3-1h0m-11 5h0m-22-6h0m-1 21h0m-4-19h0m-2-2h0m-7 2h0m-17 21h0m-4-2h0m0-7h0m-2-5h0m-5 2h0m-5 6h0m-1 6h0m-2-1h0m-7-6h0m-2-5h0m-4 1h0m-1-7h0m-2 2h0m-14-2h0m-2 4h0m-3 2h0m0 5h0m-19 5h0m-8 0h0m0-9h0m-2 7h0m-7-15h0m-3 0h0m-5 1h0m-2 6h0m-3-11h0m-12 12h0m0 7h0m-11-13h0m-13 0h0m-8 13h0m-2-2h0m-1 6h0m-7-3h0m-12-2h0m-14-15h0m-135 8h0m-4 0h0m-9 1h0m-10 7h0m-8-13h0m-5-1h0m-9 7h0m-2-2h0m-8 3h0m-2 5h0m-3-12h0m-1 2h0m-8 14h0m-3 1h0m-2-2h0m-3 0h0m-2-17h0m0 14h0m-11 1h0m-5-8h0m-3 0h0m-1-9h0m-1-1h0m-11 8h0m-5 10h0m-8 0h0m-2-4h0m-11 6h0m-11-7h0m-8-9h0m-1 11h0m-8-4h0m-4 9h0m-10-20h0m-2 8h0m-3-5h0m-18 2h0m27 24h0m19 3h0m11-2h0m3-6h0m4 19h0m3-1h0m8-11h0m5-6h0m1 19h0m10-10h0m6 5h0m1 0h0m3-16h0m3 8h0m5 3h0m10-1h0m3-10h0m13 4h0m1 12h0m6-16h0m6 1h0m14 1h0m10 1h0m2 7h0m13 6h0m13-1h0m3-9h0m13-4h0m10-1h0m14 10h0m8-1h0m71 11h0m28-6h0m1-11h0m8 4h0m13 5h0m1-3h0m4-8h0m1 9h0m8-7h0m12 8h0m0 7h0m3 0h0m1-2h0m1 0h0m7-3h0m4-9h0m1 6h0m2-8h0m0 18h0m3 0h0m7-6h0m4 5h0m1 1h0m3-21h0m2 4h0m2-4h0m3 7h0m15 2h0m6-5h0m5-2h0m13 11h0m3 3h0m2-2h0m12 0h0m13 0h0m13 6h0m22-2h0m2-7h0m4 5h0m23 2h0m2-12h0m4 12h0m0 1h0m7-10h0m7-9h0m2 1h0m6 4h0m2 0h0m358 18h0m146-14h0m9-5h0m15 0h0m13-3h0m6 19h0m130-19h0m6 12h0m19-4h0m4 7h0m29 0h0m4-15h0m19 21h0m275 1h0m8-3h0m17 8h0m-2 19h0m-4-9h0m0-2h0m-3 10h0m0-6h0m0-6h0m-3-2h0m-2 3h0m-1-11h0m-11 9h0m-1 14h0m-5-21h0m-5 20h0m-4-13h0m-1 14h0m-3-5h0m0 2h0m-10-4h0m-118-10h0m-23-5h0m-4 16h0m-53-16h0m-30 8h0m-7 8h0m-16 5h0m-21-16h0m-39 5h0m-24-8h0m-12 14h0m-6 2h0m-57-8h0m-169-11h0m-292 10h0m-2-7h0m-4 16h0m-1-5h0m-6 4h0m0 4h0m-2-7h0m-1-7h0m0 5h0m-1 9h0m0-13h0m-5 13h0m-1-10h0m-1 5h0m-3-5h0m-7-5h0m0 9h0m-2-4h0m-1-9h0m-1 4h0m-2 7h0m-3-1h0m-1-9h0m-1 2h0m-1 2h0m-2-7h0m-110 1h0m-19 3h0m-19 5h0m-7-9h0m-8 10h0m-23-3h0m-14 14h0m-6 0h0m-3-7h0m-2-9h0m-2 16h0m-6 0h0m-5-16h0m-1 12h0m-8-9h0m-6-9h0m-6 20h0m-3 1h0m-2 1h0m0-10h0m-2-11h0m-4 13h0m0-6h0m-3 8h0m0-11h0m-1-2h0m-1 18h0m-7 1h0m0 0h0m-4-17h0m-2 8h0m-1-5h0m-1 3h0m-7 11h0m-5-10h0m-8 2h0m-8-14h0m0 22h0m-4-2h0m-1-13h0m0-3h0m-2-1h0m-4 18h0m0-21h0m-1 19h0m-4-8h0m-6-2h0m-7 14h0m-4-8h0m-1 7h0m-3-9h0m0-9h0m-3-3h0m-7 21h0m-2-22h0m-2 19h0m-13-10h0m-8 14h0m-8-7h0m-33-4h0m-7 10h0m-15-19h0m-16 19h0m-4-2h0m-3-3h0m-2-17h0m-2 18h0m-8 0h0m-3-14h0m-4 9h0m-14-8h0m-6 1h0m-1 0h0m-4 0h0m-1 1h0m-6 7h0m16 15h0m6 13h0m8-13h0m7 7h0m4 2h0m3 3h0m12-17h0m2 8h0m0 6h0m0 3h0m2-8h0m3-2h0m2 6h0m2 0h0m23-13h0m1 19h0m1 1h0m0 2h0m4 1h0m5-11h0m13 3h0m2 0h0m8 7h0m3-5h0m8-6h0m1 8h0m6 3h0m2-10h0m1 10h0m1-15h0m5 2h0m0 1h0m1 3h0m2-3h0m1 12h0m5 0h0m0-4h0m2-1h0m7-2h0m0 4h0m7 4h0m0-3h0m2-15h0m5 18h0m1-10h0m2-4h0m0-4h0m0 2h0m3 13h0m3-8h0m3 8h0m2-2h0m1-15h0m1 2h0m3 1h0m6 9h0m1-2h0m1-1h0m1 4h0m2 0h0m3-4h0m0 3h0m1-7h0m1 4h0m2-7h0m7 10h0m1 3h0m5 1h0m5 1h0m3-2h0m15 0h0m6-5h0m4 6h0m21-5h0m6 2h0m1-6h0m4-9h0m9 3h0m16 15h0m1 1h0m11-8h0m7-6h0m0-3h0m1 8h0m163 0h0m4-5h0m0 7h0m1 7h0m2-7h0m2 0h0m0 4h0m3 1h0m2-9h0m0 11h0m4-14h0m1 8h0m1 4h0m2 4h0m2-16h0m1 13h0m0-3h0m1-13h0m0 14h0m0-12h0m0 9h0m2 1h0m1-9h0m1 17h0m0-20h0m1 0h0m0 1h0m5 4h0m0-8h0m4 20h0m3-16h0m0 4h0m4 2h0m1-8h0m3 2h0m0 0h0m1 10h0m403 8h0m51-5h0m28-5h0m2 10h0m33-7h0m6-10h0m29 11h0m106 1h0m229-13h0m1 9h0m4 0h0m6-11h0m3 9h0m0 11h0m0-12h0m1 4h0m2 1h0m3-9h0m3 16h0m22-12h0m10-6h0m-16 32h0m0 7h0m-4-16h0m-1 12h0m-4-11h0m0 11h0m-8 2h0m-2 5h0m0 0h0m-3-7h0m0-12h0m-1 10h0m-2-13h0m-1 19h0m-2-19h0m-1 11h0m-1-8h0m-3-3h0m-10 6h0m-219 9h0m-90 7h0m-18-9h0m-28 8h0m-11 2h0m-1-17h0m-26 12h0m-19 2h0m-7 2h0m-5-10h0m-12-6h0m-20 6h0m-3-11h0m-19 19h0m-408-18h0m-3 20h0m-3-11h0m-3 4h0m-8 5h0m-1-18h0m0 0h0m-3 18h0m-3-18h0m-1 9h0m0-10h0m-1 0h0m-2 12h0m0-1h0m-2 1h0m0-3h0m-3 8h0m-2 1h0m-1-16h0m0 18h0m0-10h0m0-7h0m-2 13h0m-1 4h0m-1-1h0m-1 1h0m0-1h0m-1-3h0m-8 1h0m-1-4h0m-4 7h0m-4-11h0m-192-8h0m-12 11h0m-15-7h0m-1 10h0m-4-13h0m-1-3h0m-18 3h0m-11 17h0m-1-14h0m-4 8h0m-1-8h0m0 7h0m-2 2h0m0-1h0m-3 8h0m0-8h0m-2 0h0m-10-9h0m-6 10h0m-1 1h0m-1-16h0m-1 12h0m-3-10h0m-11 19h0m0-17h0m-4 2h0m0-2h0m-1 1h0m0 4h0m-1 0h0m-1-6h0m-3 12h0m-3-8h0m-4 9h0m-3-6h0m-2 4h0m-1-12h0m-1 12h0m0 3h0m-1-4h0m0 2h0m-3 6h0m-1-19h0m-2 1h0m-5 12h0m0-12h0m-1 15h0m-5 1h0m-1 2h0m-14-17h0m-4 2h0m-1 13h0m-3-9h0m-1 8h0m-4-3h0m-2-1h0m-2-2h0m-1 6h0m-3-10h0m-3 1h0m-1 13h0m-1-21h0m-3 6h0m-1-3h0m-1 3h0m-6 4h0m0-1h0m-5 7h0m0-4h0m-10-6h0m-8-7h0m0 8h0m-6 10h0m-8-15h0m7 36h0m4-10h0m2 5h0m1-6h0m3 17h0m1-12h0m3 3h0m3 3h0m0 0h0m6-12h0m2 9h0m4-8h0m3 7h0m2 6h0m5-10h0m9-5h0m2 8h0m9 0h0m4 6h0m0 2h0m1 4h0m11-10h0m13 4h0m4-13h0m3 0h0m5 17h0m2-11h0m3 7h0m4-14h0m4 10h0m3 0h0m0 11h0m2-5h0m4-12h0m0 1h0m6 0h0m3 14h0m2-14h0m1 2h0m0 13h0m4-19h0m0-2h0m7-1h0m1 8h0m0-7h0m10 2h0m3 2h0m3 16h0m6-20h0m1 22h0m18-2h0m227-3h0m1 5h0m3-3h0m1-3h0m0-6h0m2 12h0m1-2h0m0-1h0m3-10h0m1 1h0m1 1h0m5-12h0m1 13h0m4 1h0m2-8h0m0 6h0m1-2h0m1 6h0m0-15h0m0 8h0m0 5h0m1 0h0m1 0h0m1 9h0m0-23h0m0 13h0m5-8h0m2 5h0m1 8h0m1-2h0m1-16h0m1 12h0m0 5h0m3-11h0m1-4h0m0 12h0m6-11h0m0 11h0m4-13h0m512 7h0m107-6h0m7 9h0m260 10h0m2-11h0m1 2h0m2-4h0m1-3h0m1 2h0m1-2h0m6 2h0m0 4h0m3-7h0m1 11h0m4 7h0m2-16h0m1 17h0m0-22h0m2 18h0m3-6h0m1 2h0m1 3h0m0-16h0m4 1h0m2 17h0m4-15h0m1 15h0m3 3h0m-11 4h0m-1 17h0m-4 1h0m-5-4h0m-2-12h0m0-5h0m-3 13h0m-4 6h0m-1-17h0m-10 17h0m0-5h0m-3 5h0m-2-4h0m0 7h0m-4-13h0m-7 6h0m0 1h0m0-5h0m-368-2h0m-37-8h0m-469 2h0m-4 2h0m-3-4h0m-1 7h0m-6 2h0m0 2h0m-1 8h0m0-3h0m-2 1h0m0 0h0m-1-7h0m-3-6h0m-2 3h0m-1 15h0m-1-16h0m0 1h0m-1 8h0m-1-16h0m-1 13h0m-2 4h0m-2-13h0m-3 14h0m-4-11h0m-1-7h0m0 1h0m-2 13h0m0 2h0m-1-2h0m0-1h0m-2 10h0m0-4h0m0 0h0m0-4h0m-1 6h0m0-17h0m-2 6h0m0 6h0m-2 0h0m0-9h0m-1 2h0m0 10h0m-3-9h0m-3 1h0m0 0h0m0 5h0m-3 7h0m-8-7h0m-2 4h0m0-5h0m-4 3h0m-1 5h0m-234-23h0m-9 5h0m-19 12h0m-16-6h0m-3 8h0m-7-9h0m0-1h0m0 4h0m-5-10h0m-8 8h0m-8-4h0m-3 6h0m-5 10h0m-11-9h0m-2-14h0m-2 14h0m-16 8h0m-1-20h0m0 0h0m-7 17h0m-7-5h0m-1 5h0m-1-14h0m-7 3h0m-1 11h0m-1-1h0m-1-18h0m0 5h0m-4 9h0m-2-3h0m-9-11h0m-2 23h0m-8 24h0m1-9h0m14 6h0m2 1h0m1-19h0m6 17h0m3-4h0m2 1h0m3 2h0m4-5h0m1-13h0m7 1h0m3 19h0m5-14h0m3-1h0m16-1h0m5 0h0m3-1h0m3 0h0m0-2h0m9 19h0m11-18h0m9 10h0m2-7h0m3 11h0m16 0h0m9-1h0m6-13h0m2 9h0m8-7h0m4 1h0m1 18h0m201-11h0m4 8h0m1-16h0m18 10h0m9 7h0m0-1h0m1 1h0m3-10h0m1-3h0m0 4h0m1 10h0m1-8h0m1 6h0m0-16h0m2 10h0m1-11h0m0 0h0m2 17h0m1-3h0m1-3h0m4 3h0m0-6h0m0 6h0m4-12h0m1-5h0m0 8h0m0 8h0m1-1h0m0-5h0m1 4h0m5-3h0m1-3h0m1 9h0m0-11h0m1 0h0m1 0h0m1-1h0m0-4h0m0 7h0m0 9h0m1-7h0m0 5h0m0-12h0m2 11h0m1-7h0m0 7h0m1-1h0m0-12h0m0 4h0m3 7h0m0-9h0m0 1h0m4 15h0m3-1h0m1 3h0m0-20h0m446 5h0m72-3h0m10 18h0m47-4h0m27-17h0m259 20h0m7 3h0m14-9h0m7-4h0m1 13h0m0 0h0m3-8h0m2-2h0m1 0h0m3-1h0m1-1h0m3 6h0m4-7h0m6 1h0m0 6h0m1-9h0m0 11h0m4-12h0m1 13h0m3-15h0m1 13h0m6-1h0m7-10h0m2 4h0m-11 17h0m-6 0h0m-2-4h0m-16 17h0m-2-5h0m-4 0h0m0 11h0m-7-22h0m-5 20h0m-1-10h0m0 4h0m-1-4h0m0-1h0m-2 8h0m-4-12h0m0 12h0m-5-1h0m-1 0h0m0-1h0m-11-12h0m-1 12h0m-2-3h0m-6 2h0m-1-11h0m-217 18h0m-94 0h0m0-8h0m-26-1h0m-4 2h0m-522-7h0m0-1h0m-4-1h0m-7 13h0m-4-16h0m-1 11h0m-2 1h0m0 6h0m-1-6h0m-2-14h0m0 0h0m-3 6h0m-2-6h0m-1 10h0m-1-10h0m-2 2h0m-1-1h0m0 18h0m-2-16h0m0 15h0m-1-13h0m-1 1h0m-2 15h0m-1-3h0m-2 1h0m-1 3h0m0 0h0m-2-23h0m0 3h0m-1 14h0m0 0h0m-1-4h0m-3 5h0m-3-3h0m-3 4h0m-4-14h0m-3 16h0m-3 2h0m-1-1h0m-1-22h0m-1 2h0m-217 20h0m-1-13h0m-6 13h0m-9 0h0m-9-16h0m-2 7h0m-4-13h0m-3 12h0m0-8h0m-6 1h0m-1-2h0m0 4h0m-5 4h0m-1-6h0m-2 12h0m-8-5h0m-2-11h0m-2 15h0m-11-13h0m-11 9h0m-3 1h0m-4-3h0m-6 11h0m-12-17h0m-2 18h0m-2-8h0m0 5h0m-5-10h0m-2-9h0m0 10h0m-6 10h0m-10-7h0m-6-9h0m-5 14h0m16 9h0m5 15h0m3-17h0m6 20h0m6 2h0m6-17h0m3-4h0m0 6h0m4 4h0m18 11h0m1-9h0m6 3h0m3-6h0m10-9h0m7 12h0m2-9h0m0-2h0m6-2h0m3 13h0m12-8h0m1 1h0m1-7h0m7 0h0m1 9h0m2 5h0m5 3h0m1 1h0m1-6h0m0 9h0m5-2h0m8-17h0m8 13h0m33 7h0m8-5h0m137 4h0m0-4h0m9-7h0m9 0h0m0-4h0m4 3h0m9-3h0m0 7h0m11-13h0m13 2h0m1 4h0m2 1h0m5-3h0m2-4h0m533 19h0m13-2h0m2-5h0m3-11h0m7 16h0m15-9h0m18 13h0m11-19h0m4 12h0m28 2h0m1-13h0m6 2h0m4 4h0m25-4h0m24-3h0m6 17h0m156-10h0m6 6h0m3-1h0m1-4h0m13 7h0m5-3h0m1-8h0m3 4h0m1-3h0m0-5h0m5 14h0m4-13h0m8 9h0m2-6h0m9 0h0m0 8h0m8-8h0m3 8h0m-79 15h0m-3-4h0m-2 3h0m0-3h0m-7 9h0m-39 4h0m-8 7h0m-49-10h0m-21 8h0m-5-7h0m-9-7h0m0 11h0m-36-9h0m-797 12h0m-5 4h0m-16-5h0m-4-2h0m-15-11h0m-45 8h0m-31-12h0m-16 6h0m-20-5h0m-2 15h0m-13-14h0m-5 1h0m-5 1h0m-12-2h0m-5 15h0m-12 5h0m-3-10h0m-14-10h0m-2 12h0m-5-14h0m-3 6h0m-11-3h0m28 28h0m9 7h0m4-10h0m1-5h0m6 3h0m5 5h0m6 2h0m13-7h0m1 2h0m100 7h0m18-6h0m22-5h0m5 12h0m4 6h0m14-17h0m4 1h0m8 20h0m0-5h0m28-13h0m801 6h0m44-9h0m23 11h0m3-13h0m9 22h0m27 14h0m-26-4h0m-6 10h0m-14 1h0m-7 2h0m-15 1h0m-1 1h0m-2-22h0m-9-1h0m-832 23h0m-5-13h0m-19-9h0m0 0h0m-12 11h0m0-12h0m-1 19h0m-1-7h0m-3-5h0m-12-2h0m-9 0h0m-21 8h0m-6-5h0m-3 6h0m15 19h0m6 1h0m5 7h0m31-2h0m17-5h0m8-10h0m16 3h0m839 15h0m4-10h0m54-2h0m2 17h0m7-9h0m-2 16h0m-18-2h0m-39 1h0" stroke="#d2d2d2" stroke-width="6.4"/>
<path d="M1751 221h0m-23 5h0m-838 11h0m-15-13h0m-26 8h0m-6-5h0m-1-3h0m-4-6h0m-2 16h0m-11 0h0m-7-6h0m-1 10h0m-21-3h0m-6-11h0m-5 2h0m-3-5h0m-66 7h0m-14 22h0m33-6h0m20 11h0m8 3h0m24-13h0m2 9h0m1 2h0m4 6h0m21-6h0m14-14h0m6 1h0m14 5h0m4 1h0m15-8h0m0 14h0m1 1h0m1 5h0m15-3h0m767 5h0m35-11h0m22-7h0m10 9h0m4-10h0m8 7h0m1 9h0m47-7h0m10 10h0m0-4h0m0 4h0m31 14h0m-57 5h0m-15-7h0m-13 4h0m-4-13h0m-5 14h0m-1-1h0m-13-13h0m-35 3h0m-18-3h0m-7 18h0m-17 0h0m-11-14h0m-9 1h0m-5-1h0m-13 10h0m-699 5h0m-29-9h0m-5 2h0m-8 1h0m-11-4h0m-1 4h0m-23 2h0m-14-9h0m-20-3h0m-10-3h0m-4 14h0m-11-10h0m-8-3h0m-8 8h0m-17 8h0m-6-14h0m-22 7h0m-32 7h0m-4 7h0m41 1h0m8 5h0m18 7h0m22-15h0m2 17h0m28 1h0m5-3h0m2 6h0m11 0h0m4-19h0m13 16h0m23-15h0m12 7h0m5 12h0m8-8h0m1-8h0m10 14h0m5-4h0m8 4h0m5 3h0m19-17h0m2 10h0m661-2h0m2 1h0m21-10h0m1 6h0m12-7h0m13 3h0m52 12h0m14-8h0m30-11h0m11 22h0m7-16h0m2 8h0m1 5h0m5-16h0m9 11h0m16 8h0m46-2h0m12-2h0m2-10h0m6 27h0m-6 12h0m-21-23h0m-30 21h0m-21-6h0m-43-11h0m-9 17h0m-3-14h0m-2 2h0m-14 13h0m-15-10h0m-3-3h0m-73 3h0m-16-7h0m-9 4h0m-656 7h0m-23-2h0m-21-9h0m-24-5h0m-8 13h0m-23-9h0m-6-2h0m-23 16h0m0 0h0m-7 4h0m-4-17h0m-2-5h0m-1 1h0m-6 7h0m-70-8h0m-9 17h0m-28 14h0m18 8h0m5 2h0m5-16h0m4 7h0m59 14h0m16-4h0m6-3h0m43-7h0m25 5h0m23 7h0m38 0h0m1-14h0m5-2h0m7 7h0m6-9h0m12 13h0m7-6h0m3 2h0m2 12h0m621-1h0m2-4h0m13-11h0m3 8h0m14-10h0m49 13h0m6-6h0m33-1h0m34-8h0m46 4h0m10 0h0m39 6h0m3-10h0m5 2h0m18 13h0m13-13h0m4 40h0m-6-10h0m-4 4h0m-14-4h0m-1-6h0m-1 5h0m-26 1h0m-14-11h0m-18 13h0m-9 0h0m-3 10h0m-8-5h0m-2-2h0m-1 1h0m-64-10h0m-22-2h0m-7 14h0m-3-17h0m-64 11h0m-649-1h0m-19-10h0m-23 19h0m-8-4h0m-5 6h0m-9-4h0m-48 0h0m0-2h0m-21-1h0m-1 3h0m-20-15h0m-12 1h0m-8 8h0m-29-8h0m-10 2h0m-40 14h0m-35 9h0m4-4h0m25-2h0m1 3h0m16 7h0m8 1h0m7-3h0m21-1h0m19 5h0m6-2h0m7-6h0m11-2h0m12 4h0m19 12h0m0 1h0m6 0h0m28 3h0m0-15h0m27 2h0m11 4h0m35-6h0m11-1h0m1-5h0m12 11h0m12 9h0m645-14h0m4 9h0m24-15h0m7 13h0m1-4h0m7-6h0m33 8h0m2 6h0m9-14h0m5 5h0m4 3h0m5-1h0m2 8h0m14-11h0m3 1h0m7-3h0m7 6h0m2 7h0m4-3h0m5-13h0m1 11h0m21 2h0m30-16h0m9 5h0m44 2h0m19-2h0m10 9h0m-11 25h0m-49 0h0m-11-7h0m-41 7h0m-8 6h0m-41-16h0m-1 7h0m-16 4h0m-3-16h0m-13 5h0m-12 8h0m0 2h0m-34 4h0m-17-11h0m-515 3h0m-157 7h0m-6-16h0m-5 4h0m-1-5h0m-9 19h0m-1-20h0m-36 18h0m-2-15h0m-4-2h0m-9 9h0m-2-4h0m-33 4h0m-11 12h0m-20-17h0m-17 3h0m-48 12h0m-39-8h0m-34 14h0m2 11h0m4 0h0m21-8h0m17 6h0m24-9h0m31-2h0m4 0h0m10 22h0m8-8h0m8-11h0m4 12h0m21-12h0m8 20h0m15-22h0m6 8h0m6 6h0m2-12h0m7 1h0m11 18h0m46-4h0m40-4h0m643-10h0m4 5h0m1 1h0m3 2h0m2 5h0m12-14h0m5 0h0m24 18h0m14-7h0m21 5h0m2-18h0m39 14h0m13 8h0m0-2h0m16-4h0m5 0h0m12-10h0m26 1h0m4-5h0m13 1h0m5 0h0m5 5h0m0 11h0m27-18h0m15 7h0m9 27h0m-5 4h0m-6 1h0m-4-13h0m-3 9h0m-1-13h0m0 8h0m-4-4h0m-38 7h0m-19 2h0m-16-12h0m-13 17h0m-6 0h0m-4 5h0m-12-23h0m-5 2h0m-2 6h0m-16-5h0m-10 19h0m-34-4h0m-12-3h0m0-5h0m-24 3h0m-1-9h0m-5-2h0m-6 11h0m-5-11h0m-4 19h0m-7 2h0m-19-10h0m-661 8h0m-26-8h0m-22-5h0m-7 7h0m-2 3h0m-2-6h0m-18 3h0m-19 4h0m-1-3h0m-73 5h0m-6-2h0m-7-13h0m-4 0h0m-28 1h0m-29-3h0m-8 9h0m-3 18h0m3 8h0m3 5h0m2-2h0m41-7h0m2-10h0m10 5h0m16 12h0m30-12h0m4 15h0m21-6h0m5-11h0m3-1h0m48 4h0m0-7h0m53 23h0m23-23h0m661 20h0m0-9h0m3 9h0m2-2h0m15-9h0m3 8h0m3 3h0m7-5h0m17 2h0m3-10h0m14 6h0m0-5h0m17 6h0m12-13h0m21 3h0m1 18h0m6-5h0m6 5h0m5 0h0m13-16h0m2 5h0m22-3h0m2 15h0m8-6h0m4-15h0m6 1h0m25 13h0m11 5h0m14-20h0m5 5h0m1 2h0m8 10h0m7-2h0m6-2h0m-81 19h0m-11 2h0m-22-10h0m-2 19h0m-45-13h0m0 7h0m-13 1h0m-22 6h0m-5-13h0m-3-4h0m-6 14h0m-3 1h0m-16-18h0m-11 2h0m-3 1h0m-17 18h0m-2-19h0m-1 16h0m-4-17h0m-4 19h0m-3-13h0m0 10h0m-2-5h0m-8-2h0m-5-1h0m-3 6h0m-9 0h0m-677-13h0m-27 2h0m-10 14h0m-2-5h0m-2-10h0m-5 17h0m-10-16h0m-3 0h0m-9 14h0m-10-8h0m-10 4h0m-14 4h0m-2 4h0m-9-11h0m-8 4h0m-28-3h0m-2-13h0m-4 11h0m-30 12h0m-2-20h0m-5 12h0m-6 8h0m-6-1h0m-2-5h0m-9-6h0m-8 6h0m-36 2h0m-382-16h0m-95 43h0m503-15h0m15 11h0m4 0h0m19-11h0m10-2h0m13 18h0m1-19h0m23 0h0m7-4h0m4 8h0m30 5h0m9 6h0m4-2h0m29 3h0m0-14h0m21 6h0m22 11h0m24-16h0m4-7h0m13 1h0m5 15h0m9-3h0m5-11h0m17-2h0m632 10h0m3 6h0m6 7h0m1-6h0m6 2h0m11 0h0m2-10h0m0 2h0m3 4h0m10 4h0m1-11h0m0 7h0m2-7h0m3 6h0m10-10h0m3 13h0m9-14h0m2 9h0m3 1h0m7 2h0m14-5h0m2 11h0m7-8h0m15-5h0m4 7h0m7-3h0m20-1h0m7 1h0m5-2h0m10 4h0m32-10h0m3-2h0m9 2h0m23 18h0m23-2h0m13-14h0m-43 32h0m-2-6h0m-13 4h0m-2-10h0m-33 3h0m-25 0h0m-2 13h0m-19-9h0m-25-1h0m-16-7h0m-2 20h0m-7-21h0m-1 10h0m-1 4h0m-4 4h0m-2 3h0m-1-21h0m-7 4h0m-15 16h0m-3-13h0m0 2h0m-2 5h0m-3-3h0m-1-4h0m-4 5h0m-1-7h0m-4 15h0m-4 1h0m-6-13h0m-3-2h0m-11 15h0m-7-3h0m-1-5h0m0 7h0m-1-1h0m-3-14h0m-6 15h0m-1-2h0m-1-1h0m-5 6h0m-3-1h0m-32-21h0m-630 12h0m-22-12h0m-2-1h0m-5 23h0m-41-12h0m-42-7h0m-5 4h0m-26-8h0m-3 2h0m-41 8h0m-3-1h0m-3 5h0m-1-2h0m-1 0h0m-2 1h0m0 7h0m-3-3h0m-5-7h0m-6-10h0m-3 9h0m-7 11h0m-9-2h0m-5 2h0m-1-16h0m-17 2h0m-4 15h0m-26 2h0m-285 19h0m234-10h0m28 10h0m3-8h0m17-7h0m8 4h0m9 11h0m8-1h0m1 2h0m12 1h0m5-12h0m13-2h0m1 9h0m6 3h0m2-12h0m7 2h0m8 3h0m0 6h0m2-6h0m5 12h0m0-10h0m1-10h0m7-3h0m1 19h0m1-3h0m8-3h0m2 3h0m2-8h0m2 5h0m1-7h0m3 0h0m2 0h0m6 1h0m22-2h0m83-3h0m641 20h0m7-19h0m15-1h0m10 17h0m7-3h0m2-7h0m13-4h0m7 3h0m4 12h0m3-12h0m3 6h0m3 6h0m5 0h0m6-20h0m4 5h0m2 0h0m9-4h0m5 16h0m9-12h0m10 3h0m7 5h0m6 10h0m3-9h0m6-13h0m8 15h0m3 0h0m11 0h0m1-10h0m3 16h0m0 0h0m2-20h0m2 20h0m1-3h0m5-5h0m1-5h0m1 8h0m8-7h0m11-10h0m13 6h0m15 5h0m5 1h0m4-12h0m21 12h0m5 4h0m6 5h0m24-9h0m27-9h0m-125 30h0m-19 8h0m-25-13h0m-8 4h0m-1 0h0m-10 13h0m0-15h0m-8-4h0m-1 16h0m-9 4h0m-3-8h0m-2 6h0m-15-9h0m-1 11h0m-4-6h0m-9-6h0m-4-10h0m-3 13h0m-4-5h0m-2-6h0m-2 14h0m-5 2h0m-3-2h0m-2 6h0m-3-7h0m-12 8h0m-33-7h0m-19 2h0m-10-13h0m-144-3h0m-21 14h0m-26-7h0m-520-1h0m-11 3h0m-2 4h0m-1-10h0m-2 6h0m-2 4h0m-9 4h0m-3-15h0m-5 6h0m0 2h0m-10 8h0m-17-6h0m-16-14h0m-12 22h0m-8-9h0m-6 0h0m-7-5h0m-6 7h0m-4 8h0m-1-2h0m-6-1h0m-10-2h0m-12 0h0m-10-12h0m-9-3h0m-8 0h0m-12 8h0m-67 2h0m-291 16h0m302 16h0m47-18h0m4 3h0m19 16h0m1-5h0m16 4h0m15-18h0m2 12h0m31-1h0m1-13h0m24 1h0m3 12h0m5-12h0m34 11h0m12-10h0m42 5h0m543 10h0m64 2h0m31-8h0m3 10h0m11-2h0m41-4h0m12-5h0m7 8h0m9-6h0m10 0h0m12 8h0m1-7h0m0 9h0m7-15h0m3 11h0m5-4h0m4-15h0m8 18h0m2-2h0m2 3h0m10-14h0m3 9h0m10 8h0m3-12h0m6 7h0m5-11h0m25 8h0m16-7h0m2-3h0m1 12h0m120 22h0m-2-13h0m-120-1h0m-11 16h0m-24 7h0m-8-12h0m-3 9h0m-20-7h0m-3-12h0m-4 20h0m-9-14h0m0 2h0m-5 5h0m-7-5h0m0 0h0m-1 13h0m-1-5h0m-7 6h0m-3-22h0m-1 12h0m-9-1h0m-3-9h0m-7 10h0m-21 1h0m-4-12h0m-1 7h0m-2 13h0m-5-1h0m-18-16h0m-24-4h0m-17 1h0m-32 11h0m-4 2h0m-90 3h0m-1-16h0m-33 16h0m-548-9h0m-28 12h0m-41-8h0m-22-4h0m-3 4h0m-15-9h0m-6 18h0m-4-6h0m-13-7h0m-4-4h0m-6 6h0m-20 3h0m-10 0h0m-1 6h0m-2-9h0m-25 2h0m-134 1h0m-2 11h0m89 14h0m26-9h0m41 16h0m10-13h0m15-8h0m4 21h0m19-21h0m1 9h0m31-10h0m667 2h0m28 12h0m19 8h0m28 1h0m1 0h0m1-11h0m0 6h0m13 5h0m26-5h0m1-12h0m1 5h0m7-11h0m12 6h0m16 12h0m2-13h0m11 2h0m12 7h0m2 1h0m5 3h0m0-17h0m0 4h0m13 10h0m4 7h0m3-15h0m13-5h0m8 18h0m2-10h0m12-10h0m16 16h0m1-7h0m1-1h0m0-2h0m0-2h0m3-4h0m2 2h0m8 0h0m1 9h0m7 0h0m1 11h0m3-21h0m15 1h0m5 12h0m4 7h0m18-21h0m177 25h0m-13 18h0m-17 0h0m-212-4h0m-3 3h0m-23 3h0m-15-12h0m-2-6h0m-9 2h0m-10 5h0m-1-5h0m-7 10h0m-15-9h0m-8-5h0m-5 11h0m-2 3h0m-5 2h0m-12-3h0m-16-5h0m-3 13h0m-4-18h0m-3 1h0m-46-2h0m-7 16h0m-9-2h0m-41-1h0m-7-11h0m-2 12h0m-2-6h0m-474 5h0m-195 1h0m-7-6h0m-14 8h0m-10-11h0m-4 15h0m-9-17h0m-22 0h0m0-2h0m-7 12h0m-18 5h0m-2-9h0m-7 10h0m-7-12h0m-3-4h0m-5 6h0m-6 4h0m-74 1h0m-4-11h0m-12 11h0m-13 18h0m19-3h0m38 3h0m11 3h0m32-3h0m4 0h0m8 8h0m4-18h0m5 2h0m9 18h0m6-20h0m6 9h0m13 7h0m2 1h0m1-7h0m89-1h0m162 6h0m510-5h0m13-7h0m4 3h0m3 3h0m2 6h0m7 3h0m1-11h0m1 12h0m14-3h0m6-10h0m3 15h0m5-7h0m11 2h0m6 5h0m21-1h0m8-7h0m7 0h0m3 3h0m27-4h0m3 8h0m10-17h0m5 6h0m18-5h0m9 4h0m12-1h0m253-2h0m5-3h0m21 7h0m-312 22h0m-1 5h0m-20-7h0m-45 13h0m-7-12h0m-12 1h0m-8 14h0m-40 1h0m-1-2h0m-28-6h0m-2-6h0m-8 11h0m-692-12h0m-66-1h0m-11 9h0m-12 2h0m-11-2h0m-23-7h0m-2-1h0m-6 5h0m-4-11h0m-13 7h0m0 0h0m-2 14h0m-4-16h0m-7 7h0m-27 1h0m-11 6h0m-23-14h0m75 17h0m1 20h0m61-10h0m783 12h0m5 1h0m1-23h0m3 21h0m3-16h0m2 17h0m6 1h0m13-20h0m13 0h0m26 2h0m19 16h0m46-19h0m19 15h0m272-9h0m-32 27h0m-126-5h0m-110 12h0m-35 2h0m-8-4h0m-4-11h0m-5 15h0m-10 1h0m-4-12h0m-24 9h0m-5-1h0m-2-13h0m-3 2h0m-12 14h0m0-7h0m-15 7h0m-3 3h0m-1-20h0m-7 11h0m-3 4h0m-11-5h0m-774 8h0m-11-3h0m-31-18h0m-4 5h0m-15 5h0m-18 4h0m-6 3h0m-14 0h0m-12 18h0m39 10h0m53-18h0m7 13h0m12-6h0m0-2h0m34 12h0m54 0h0m37 3h0m652-15h0m13 14h0m19-15h0m3 0h0m2 2h0m4-1h0m0-2h0m9 15h0m1-20h0m18 21h0m2-6h0m11 4h0m2-15h0m9 4h0m7 1h0m44 7h0m8-4h0m2 4h0m4-7h0m15 10h0m4-6h0m8 8h0m0-10h0m1 11h0m59-3h0m15 3h0m74-9h0m1-1h0m-49 30h0m-12-5h0m-1 6h0m-9-14h0m-3 10h0m-51-9h0m-2 12h0m-6 2h0m0 2h0m-3-8h0m-1-15h0m-11 17h0m-9-9h0m-11-6h0m0 2h0m-23-2h0m-37 1h0m-13 1h0m-34 1h0m-6 12h0m-3-3h0m-5-7h0m-26 10h0m-2-2h0m-14-11h0m-7-3h0m-10 19h0m-621-17h0m0 8h0m-16-11h0m-10 20h0m-24-5h0m0 4h0m0-10h0m-6 0h0m-15 11h0m-6-4h0m-7-4h0m-17-2h0m-23-8h0m-1 10h0m-47 2h0m-3-13h0m-7 8h0m-5 2h0m-21 3h0m-1-1h0m-5-1h0m-5-11h0m-13 13h0m-25-8h0m0 7h0m33 15h0m119 7h0m4 0h0m8-4h0m2 1h0m3-7h0m4 11h0m15-9h0m2 14h0m3 2h0m6-6h0m0-10h0m4 6h0m2 14h0m6-9h0m2-9h0m2-3h0m5 5h0m1 14h0m2-18h0m0 10h0m1 8h0m8-1h0m1-3h0m16-16h0m4 18h0m2-7h0m1-10h0m7 7h0m3 5h0m0-14h0m8 19h0m797-14h0m9 2h0m4 7h0m7-4h0m0 1h0m1-8h0m9 7h0m33 9h0m1-3h0m1-10h0m4-3h0m12 7h0m1 5h0m11-7h0m24 1h0m3 9h0m1-11h0m1 15h0m4 24h0m0-4h0m-17-3h0m-1-9h0m-7 13h0m-3-18h0m-19 12h0m-2-3h0m-13-9h0m-2 21h0m-6-12h0m-4-4h0m0 1h0m0-1h0m-846 8h0m-4-9h0m-13-1h0m0 12h0m-5-10h0m-4 11h0m-7 6h0m-1-18h0m-6 7h0m-4-2h0m-8-5h0m-19-2h0m0 16h0m-8-7h0m-4 11h0m-4-7h0m-5-16h0m-16 2h0m19 26h0m11 14h0m6 4h0m5-18h0m1 6h0m2 9h0m1-10h0m6-2h0m0 2h0m9 3h0m2-6h0m11-3h0m16 10h0m2-9h0m0 0h0m834 13h0m2-4h0m17-4h0m11 7h0m4-15h0m3 22h0m7-15h0m19-5h0m6 18h0m16 0h0m6-9h0m2-3h0m2-4h0m-20 28h0m-11-3h0m-1 1h0m-1-2h0m-7 2h0m-15 2h0" stroke="#f59e14" stroke-width="8.2"/>
<path d="M1702 213h0m7-1h0m63 16h0m0-6h0m-52-4h0m-14 1h0m-19 10h0m-2-6h0m-13 8h0m-7-4h0m-1 4h0m-784 8h0m-24-21h0m-6 8h0m-6-8h0m-4 6h0m0 10h0m-12-7h0m-3 8h0m-8-11h0m-7 1h0m-8 9h0m-6 3h0m-7-6h0m-6-1h0m-10-1h0m-2 7h0m-9-9h0m-10 8h0m-65 20h0m15-5h0m16-6h0m5-4h0m14 1h0m12 4h0m16 4h0m19 7h0m4-14h0m4 19h0m10 2h0m5-1h0m6 0h0m4-21h0m2 17h0m5-11h0m30 15h0m14 0h0m12-16h0m1 13h0m10-6h0m4-3h0m1 6h0m17 1h0m3-11h0m694 4h0m6 5h0m23-6h0m20-1h0m10-5h0m57 20h0m35-7h0m5-14h0m5-2h0m1 0h0m16 9h0m32 29h0m-20-11h0m-3 0h0m-16 14h0m-32-2h0m0-7h0m-3 2h0m-6-9h0m-3 17h0m-2-17h0m-15 9h0m-8-10h0m-9 23h0m-11-17h0m-1-5h0m-13 5h0m-10-4h0m-16 20h0m-43-15h0m-717-2h0m-9 1h0m-9-2h0m-11 9h0m-25 1h0m-1-10h0m0 19h0m-33 0h0m-10-15h0m-4 10h0m-4 0h0m-2 3h0m-7-21h0m-7 1h0m-7 2h0m-12 7h0m-11 13h0m-8-20h0m-28 4h0m-41 24h0m51 16h0m3-15h0m1 14h0m5-22h0m47 19h0m9-7h0m11-8h0m1 2h0m2 2h0m2 3h0m5 12h0m18-15h0m3 13h0m3-20h0m3 17h0m8-16h0m3-1h0m2 18h0m8-13h0m0 12h0m13 1h0m2-3h0m3-7h0m13 7h0m2-7h0m2 6h0m5-3h0m8-6h0m3-1h0m1 17h0m4-15h0m4 14h0m7-12h0m668 2h0m14-6h0m7 15h0m5-5h0m14 4h0m24-2h0m2-4h0m2 0h0m27-2h0m6-3h0m5 14h0m14-9h0m7 9h0m1 1h0m7 0h0m11-1h0m26-21h0m7 8h0m21 13h0m24-2h0m3-13h0m21 8h0m5-6h0m-9 33h0m-8-1h0m-4 2h0m0-2h0m-37-14h0m-11-1h0m-1-1h0m-2 14h0m-6-6h0m-5 10h0m-42-18h0m-9 11h0m-1-10h0m-12 19h0m-2-8h0m-16-11h0m-1 17h0m-30 3h0m-16-18h0m-14 11h0m-11-8h0m-668 9h0m-7-11h0m-4 16h0m-2 0h0m-5-14h0m-4-1h0m-29 11h0m-20-13h0m-5 2h0m-7-1h0m-4 3h0m-13 8h0m-20 3h0m-37-3h0m-2-11h0m-1 0h0m-23-2h0m-2 18h0m-4-3h0m-14-17h0m0 4h0m-38 11h0m-25-12h0m-16 21h0m17 5h0m14 15h0m7-17h0m7 2h0m15 10h0m5-4h0m13 2h0m4 3h0m5-3h0m41-13h0m27 2h0m28 3h0m19 9h0m0 5h0m32-17h0m21 3h0m10-6h0m7 0h0m1 7h0m8 16h0m16-6h0m642-2h0m19-13h0m10 5h0m30 0h0m8 14h0m3-14h0m2 7h0m45-8h0m34 14h0m3-20h0m0 14h0m6 6h0m44-16h0m14 5h0m9-3h0m3 7h0m15-13h0m10 10h0m9-1h0m30 31h0m-17-2h0m-13 3h0m-16-15h0m-5 4h0m-43-4h0m-6 3h0m-54 13h0m0-1h0m-9-12h0m-4-2h0m-27-3h0m-20 23h0m-8-22h0m-29 14h0m-20-9h0m-17 4h0m-643-6h0m-2 5h0m-1-8h0m-18 0h0m-2 3h0m-3-4h0m-19 15h0m-4-6h0m-12-9h0m0 3h0m-82 6h0m-1-3h0m-1 9h0m-11 3h0m-38 4h0m-43-6h0m-10-6h0m0 4h0m-31-3h0m19 16h0m21 4h0m24 11h0m19-15h0m13-3h0m3 12h0m6-3h0m16-2h0m2 8h0m9 5h0m8-15h0m21 0h0m57 5h0m8-6h0m0 5h0m10-3h0m16 15h0m23-10h0m641 12h0m4-19h0m13 18h0m9-19h0m0 8h0m6-7h0m22 0h0m27 11h0m33-3h0m4 4h0m12-14h0m4 5h0m1 3h0m5 6h0m20-5h0m2-6h0m31 9h0m2 3h0m20-10h0m6 16h0m9-12h0m4-2h0m29-6h0m15-1h0m9 21h0m-35 21h0m-12-16h0m-4 7h0m-12-2h0m-1 2h0m-13-4h0m-8 3h0m0 4h0m-10-13h0m-18 20h0m-23-1h0m-2-16h0m-6 4h0m-20 1h0m-31 10h0m-4 1h0m-1-18h0m-2 5h0m-45-2h0m-11-2h0m-20 17h0m-662-9h0m-4-1h0m-60 11h0m-3 0h0m-49-16h0m-37 8h0m-9-4h0m-25-8h0m-29 4h0m-18 17h0m-1-4h0m-19-14h0m-5 27h0m4-6h0m22 20h0m3-3h0m10 4h0m11-10h0m3-1h0m13 9h0m16-5h0m0-7h0m2 4h0m5 5h0m29-5h0m21 3h0m5 4h0m13-12h0m51 2h0m22-1h0m2 4h0m24 9h0m17-16h0m17 7h0m654-6h0m2 0h0m10 10h0m6-5h0m3-4h0m30-3h0m8 1h0m45 9h0m3-11h0m3 4h0m7 8h0m5-5h0m0 13h0m9-9h0m19-13h0m0 21h0m24-11h0m10 7h0m2-18h0m13 13h0m7-3h0m8 3h0m12-1h0m4 10h0m0-20h0m7 4h0m16-1h0m19 27h0m-4-6h0m-2 4h0m-2 9h0m-11-3h0m-15 10h0m-17-12h0m-8 13h0m-3-2h0m-6-12h0m-8 3h0m-4 2h0m-6-2h0m-2 11h0m-1-19h0m-19 15h0m-5-1h0m-8-16h0m-6 8h0m-1 6h0m-11 2h0m-7-2h0m-2-3h0m-1 10h0m-10-4h0m-3-17h0m0 9h0m-8-3h0m-1 7h0m-18 7h0m-4-9h0m-17 1h0m-1-3h0m-6 6h0m-14 6h0m-6-9h0m-3 3h0m-2-2h0m-27-11h0m-20 17h0m-631 2h0m-15-12h0m0-10h0m-6 17h0m-39-18h0m-4 22h0m0-22h0m-2 23h0m-18-5h0m-21 1h0m-24 0h0m-17-18h0m-33 21h0m-63-5h0m-24-11h0m-18 0h0m-17 3h0m15 33h0m13-14h0m7 6h0m8-1h0m1-2h0m28 11h0m1-4h0m101 2h0m5 6h0m0-15h0m18 10h0m4-9h0m15 14h0m17 0h0m8-11h0m9-9h0m679 14h0m23-4h0m3-3h0m6-5h0m10 16h0m6-7h0m10 2h0m7 4h0m16 4h0m10 0h0m7-23h0m1 6h0m18 14h0m20-1h0m5-5h0m17 3h0m24-8h0m11 14h0m15-3h0m6-18h0m20-1h0m2 5h0m3 17h0m3-23h0m1 7h0m8-7h0m31 42h0m-10 0h0m-47-12h0m-2 17h0m-3 0h0m-1-18h0m-18 14h0m-4 3h0m-4-10h0m-3 11h0m-1-1h0m-12-12h0m-19-3h0m-11-1h0m-4 1h0m-29 12h0m-17 0h0m-17-17h0m-17 12h0m-11-4h0m-1 5h0m0 2h0m-2-16h0m-24 18h0m-23-18h0m-3 22h0m-730-19h0m-52 6h0m-12-10h0m-86 6h0m-4-1h0m-9 2h0m-15-7h0m2 39h0m29-1h0m3-9h0m18 8h0m7-4h0m15 7h0m4-5h0m14 6h0m16-15h0m29 1h0m4 12h0m3-13h0m15 13h0m11-11h0m14-2h0m18 20h0m2 0h0m13-8h0m664-6h0m25-8h0m3 18h0m2-10h0m7-5h0m5 4h0m1 1h0m5 10h0m1-2h0m2-5h0m2 4h0m4 6h0m20 1h0m4-2h0m3-16h0m2 15h0m2 3h0m9-1h0m10-2h0m25-15h0m2 19h0m3-15h0m44 9h0m14 5h0m4 1h0m8-10h0m10 0h0m5-6h0m4 14h0m13-12h0m2-8h0m6 22h0m1-18h0m16 8h0m8 9h0m4-6h0m12-6h0m11 6h0m1 5h0m-7 7h0m-15-2h0m-8 0h0m-4 7h0m-3-2h0m-5-5h0m-14 6h0m-6 5h0m-17 8h0m-11-15h0m-42 12h0m-2-11h0m-3 5h0m-1 2h0m-24-13h0m-2 18h0m-3-14h0m-20-3h0m-1 6h0m-3-6h0m-5 12h0m-8 5h0m-3-4h0m-1 3h0m0-2h0m0-12h0m-3 11h0m-1-4h0m-2-3h0m-4 3h0m-2-1h0m0 12h0m-5-5h0m-2-5h0m-2-9h0m-3 8h0m-2-1h0m-8-2h0m-4-8h0m-10 10h0m-9-8h0m-5 13h0m-2-2h0m-2 10h0m-10-21h0m-4 18h0m-654-1h0m-6-8h0m-12 1h0m-21-9h0m-16 2h0m-23-4h0m-13 8h0m-73 14h0m-7-21h0m-6 21h0m-24-2h0m-5-8h0m-9 10h0m-4-7h0m-8-13h0m-13 2h0m-2-3h0m-1 21h0m-2-16h0m-7-1h0m-22 12h0m-42-8h0m-29 11h0m34 16h0m15-2h0m20 11h0m8-16h0m21 8h0m1 3h0m0-9h0m8-6h0m22 16h0m3-6h0m2-12h0m5 7h0m2-5h0m6 11h0m2-9h0m4 12h0m3 1h0m63-15h0m19 8h0m75-10h0m617 22h0m25-15h0m8-7h0m1 21h0m9 1h0m10-2h0m12-13h0m3 16h0m6-14h0m1 5h0m2 5h0m0-17h0m0 21h0m1-8h0m12-5h0m6 2h0m0-9h0m15 12h0m2 3h0m3-16h0m2 21h0m0-4h0m1-3h0m3-12h0m4 4h0m4-3h0m2 13h0m8 1h0m10-7h0m1-10h0m1 5h0m1-1h0m11 17h0m2-2h0m0-9h0m5 9h0m7-4h0m9-14h0m40 6h0m4-7h0m17 5h0m10 4h0m7 10h0m4-18h0m8 20h0m1-21h0m6 2h0m11 8h0m10 0h0m7-4h0m-133 34h0m-4-11h0m-4 2h0m-2-7h0m-8 14h0m-1 1h0m-8-7h0m-5 11h0m-5-5h0m-9-14h0m-20 4h0m-3-6h0m-6 19h0m-2 0h0m-5-15h0m-8 5h0m-6-7h0m-6 21h0m-1-11h0m-29-12h0m-3 19h0m-4-13h0m-3-1h0m-7 5h0m-19-6h0m-26 17h0m-747-7h0m-15-11h0m-28 2h0m-5-2h0m-22 8h0m-2 5h0m-19 3h0m-1-4h0m-4 5h0m-14-11h0m-32-9h0m-20 20h0m-22 5h0m28 3h0m5 2h0m7 16h0m30-21h0m13 15h0m86-6h0m511 10h0m200-2h0m29-2h0m15-14h0m6 3h0m34 11h0m6 1h0m2 4h0m4-21h0m7 15h0m9-11h0m5 8h0m3-10h0m1-2h0m2 2h0m15 18h0m66-15h0m2 10h0m143 12h0m-28 0h0m-152 11h0m-11-14h0m-14 15h0m-24 0h0m-3 3h0m-5-11h0m-8 12h0m-1-6h0m-7-2h0m-5-7h0m0-4h0m-1 8h0m-16-3h0m-2 11h0m-2 6h0m-21-18h0m-1 5h0m-32 0h0m-16 12h0m-1-2h0m-151-11h0m-686 13h0m-6-10h0m-1-6h0m-16 10h0m-60 1h0m-12 13h0m9 0h0m9 5h0m15 11h0m26-7h0m61-11h0m718 14h0m64 6h0m13-3h0m1-8h0m32 5h0m5 0h0m5-17h0m12 7h0m2 2h0m5-5h0m6-4h0m5 3h0m31 4h0m4 10h0m0-11h0m14 1h0m19 0h0m21-2h0m4 13h0m185 11h0m-240 10h0m-28 4h0m-6-15h0m-26 1h0m-23 13h0m-114 4h0m-841 0h0m-62-19h0m-49 39h0m21-6h0m20-2h0m64 6h0m19-4h0m18-2h0m19 5h0m40-13h0m146 12h0m619-7h0m16 10h0m2-6h0m30 0h0m30-7h0m10 18h0m20-3h0m18-3h0m-112 21h0m-24-9h0m-824 6h0m-49 21h0m334 1h0m530-6h0m12 12h0m17-2h0m8 0h0m5 6h0m28-2h0m287 4h0m35-13h0m-277 27h0m-32-2h0m-30 7h0m-36-12h0m-9 19h0m-9 1h0m-853 14h0m48-3h0m1-7h0m4 16h0m2-5h0m13-13h0m0 17h0m1-4h0m14-8h0m19 9h0m43 7h0m6 0h0m99-4h0m576-15h0m7 17h0m34-14h0m1 13h0m11 1h0m1-17h0m13 17h0m5-18h0m16 7h0m21 1h0m208 17h0m-2 15h0m-19 1h0m-6 2h0m-1-11h0m-7 6h0m-11-13h0m-2 19h0m-7-6h0m-11-5h0m-17 4h0m-26 6h0m-137-19h0m-10 13h0m-57-14h0m-624 14h0m-5-10h0m-21 15h0m-4-3h0m-1-2h0m-3 1h0m-6-1h0m-1-5h0m-17 2h0m-17-3h0m-1 11h0m-9-7h0m-1-2h0m-10-9h0m-8 20h0m-9-10h0m-58-11h0m66 32h0m2-3h0m9 11h0m2-10h0m6 2h0m22 1h0m5 9h0m2 2h0m3-13h0m0 14h0m1-19h0m5 14h0m9-11h0m2 10h0m10-4h0m21 5h0m13-8h0m814-6h0m15 9h0m7-2h0m6-9h0m0 19h0m1 1h0m6 2h0m38-7h0m12-3h0m10 31h0m-16-12h0m-17 7h0m-16 4h0m-1-16h0m-4-3h0m-1 9h0m-21 10h0m-20-18h0m-822 20h0m-7-2h0m-10-7h0m0-8h0m-21 14h0m-1-17h0m-20 4h0m0 4h0m-4 7h0m-7-12h0m-1 14h0m-13-15h0m-7 11h0m15 30h0m3 2h0m2-6h0m0 2h0m9 1h0m5-19h0m23 3h0m5 9h0m2-8h0m6 19h0m0-13h0m13 2h0m8-9h0m832 6h0m34-8h0m19 0h0m4 0h0m13 21h0m2-4h0m10 4h0m0-5h0m-8 11h0m-20 2h0m-31-5h0" stroke="#e8202a" stroke-width="8.2"/>
<path d="M740 208h0m17-1h0m23 4h0m2-1h0m29-3h0m11-5h0m884 2h0m5 11h0m69 16h0m-3 7h0m0-7h0m-1-1h0m0 8h0m-9-2h0m-1-12h0m-5-3h0m-10 3h0m-1-7h0m-5 5h0m-1 0h0m0 15h0m-2 1h0m-1-14h0m-2 11h0m-5-9h0m-5 1h0m-2 1h0m0-9h0m-1 19h0m-1-18h0m-2 18h0m0-2h0m0-4h0m-1-8h0m-1 12h0m0-12h0m0-4h0m-9 1h0m0 11h0m-1-10h0m-2 14h0m-1-17h0m-3-2h0m-2 8h0m0 4h0m-1 2h0m-1-10h0m-1 7h0m-1-6h0m-2 12h0m-3-8h0m-1 4h0m-1 9h0m-1-15h0m-1 11h0m-3-6h0m-1 7h0m-3-1h0m-1-14h0m0 17h0m-7-8h0m-2-1h0m-1 8h0m-1-14h0m-1-7h0m0 9h0m-3 2h0m-2 2h0m0 10h0m-1-14h0m-4 10h0m-1-6h0m-2-11h0m-1 14h0m0 0h0m-4 0h0m-1 4h0m-12-1h0m-4 2h0m-7 2h0m-754-2h0m-8-12h0m-4-1h0m-14 5h0m-10-3h0m0 11h0m-4-11h0m-1 13h0m0-14h0m-1-2h0m0 1h0m-13 11h0m-3-8h0m0 10h0m-4-11h0m-1-6h0m-7 5h0m-8-3h0m-1 13h0m-2-4h0m-7-2h0m-10-5h0m-2-8h0m-1 20h0m-6-15h0m-1 1h0m-4 15h0m0-1h0m-8 3h0m-6-11h0m-1 0h0m-5 6h0m-22 3h0m-1-8h0m-24 19h0m19 13h0m4-16h0m19 11h0m1-4h0m2-6h0m0-2h0m1 8h0m1 10h0m11-20h0m3 12h0m3 8h0m1-15h0m0 14h0m0-4h0m3 3h0m2-4h0m2-15h0m1 22h0m8-16h0m10 14h0m4-9h0m5-2h0m7-9h0m5 3h0m0 3h0m4-2h0m1 15h0m6-19h0m8 20h0m4-20h0m1 8h0m2-5h0m3 12h0m5-8h0m13 2h0m3-3h0m0 12h0m1-6h0m2-6h0m2 4h0m11 11h0m3-3h0m3-8h0m733 9h0m0-6h0m2 1h0m0-8h0m6 7h0m0 7h0m6-16h0m3 5h0m1-9h0m1 8h0m0 10h0m2-1h0m0-16h0m3 10h0m1 5h0m2 4h0m2 1h0m7-6h0m2 7h0m2-1h0m3-15h0m2 16h0m1-9h0m0-7h0m3 6h0m0-5h0m2 8h0m6-9h0m5 11h0m0-15h0m1 2h0m2 10h0m0 5h0m3-19h0m1 4h0m0-1h0m2-3h0m1 10h0m0 5h0m0-12h0m2-3h0m3 17h0m1-18h0m3 3h0m0 17h0m3-17h0m2 5h0m1-3h0m1 17h0m4-3h0m1 4h0m1-14h0m4-8h0m1 9h0m1-1h0m8 4h0m3-13h0m1 11h0m3 2h0m0 10h0m0-9h0m3 7h0m0-11h0m2 4h0m1-10h0m2-2h0m0 15h0m0 6h0m0-5h0m1-3h0m3-15h0m1 6h0m1 12h0m0-17h0m3 19h0m4 3h0m1-2h0m2-18h0m0 14h0m1 3h0m1-2h0m0-18h0m4 16h0m6-5h0m2 3h0m2-5h0m5-5h0m0 18h0m1-7h0m1-9h0m0-2h0m1 2h0m0 11h0m3-17h0m2 13h0m1-13h0m5 19h0m2-12h0m2-2h0m0 18h0m3-12h0m0 9h0m3-16h0m8 12h0m2 5h0m2 0h0m10 1h0m16 24h0m-8-10h0m-2-9h0m-3 20h0m-1-9h0m-1 8h0m-1-9h0m-2-9h0m-2-4h0m-1 11h0m-2 2h0m-1 3h0m-2-1h0m-1-4h0m-4 12h0m-1-9h0m-3 5h0m-1-6h0m-2 8h0m-3-16h0m-1 10h0m-1-3h0m0-12h0m-2 10h0m0 8h0m-2-7h0m-1-2h0m-1-8h0m-3 18h0m-3 2h0m-2-15h0m-1-3h0m-11 19h0m-2-13h0m-1-2h0m-1 11h0m0-8h0m-1 13h0m0-4h0m-3-13h0m0-1h0m0 2h0m-4 15h0m-2-7h0m-1 0h0m-1 7h0m-6-4h0m-1-16h0m-2 7h0m-3 7h0m-2-9h0m-2 13h0m0-19h0m-1 12h0m-2-4h0m-1-4h0m0-4h0m-4 13h0m0 4h0m-1 3h0m-4-15h0m-2 12h0m0 5h0m-2-21h0m-1 6h0m-1 6h0m0 0h0m-1 9h0m0-23h0m-2 20h0m-1-5h0m-5 0h0m-1-15h0m-1 1h0m-1 8h0m-1-7h0m-4 12h0m-2-12h0m-2-2h0m0 18h0m-1-17h0m-2 7h0m-1 3h0m-1 2h0m0-9h0m-2 7h0m-5 10h0m0-19h0m0 18h0m-1-14h0m-1-1h0m-1 18h0m-2-5h0m-5-12h0m0-3h0m-2 0h0m-1 12h0m0-8h0m-2 13h0m-1-16h0m-2-1h0m0 8h0m-3-7h0m-1 9h0m-2-10h0m-1 7h0m-2-7h0m0 5h0m-2-4h0m-1 6h0m-1 4h0m-1 2h0m-4 3h0m-4-18h0m-3 15h0m-1 2h0m-4-13h0m-5 8h0m-2-2h0m-5 1h0m-2 0h0m-21 9h0m-7-4h0m-4-5h0m-2 8h0m-7-4h0m-653-8h0m-4 4h0m-1-7h0m-1 18h0m-8-7h0m-16-3h0m0-11h0m-2 18h0m-7 2h0m-3-9h0m-1 5h0m0-15h0m-2 17h0m-2-19h0m-5 5h0m0 2h0m-3 14h0m-1-21h0m-10 6h0m-9 2h0m-5-7h0m-3-2h0m-2 14h0m-3-11h0m-2-1h0m-5 18h0m-2-18h0m-4 6h0m-1 14h0m0-15h0m-1-2h0m-4 3h0m0-3h0m-1 7h0m-1-5h0m-3 7h0m-1-5h0m0-8h0m-6 9h0m0-2h0m0-4h0m-2 16h0m-1-20h0m-5 8h0m-1 7h0m-1-4h0m-3 7h0m-2-15h0m-7 14h0m-4-15h0m-4 10h0m-2-1h0m-15-2h0m0-7h0m-2 15h0m-1-13h0m-1-4h0m-7 3h0m-6 4h0m-4-3h0m0 18h0m-3-17h0m-1 5h0m-8-10h0m-5 12h0m0-12h0m-12 23h0m-11-18h0m-5 1h0m-4 1h0m-6 15h0m4 8h0m20 5h0m31-4h0m3 8h0m10-6h0m7 4h0m6-13h0m1 16h0m0-10h0m7 8h0m8 7h0m6-10h0m4 7h0m1-8h0m2 3h0m6 9h0m6-14h0m1 3h0m5 3h0m8-13h0m6-1h0m7 11h0m1-9h0m1 1h0m10 8h0m3 11h0m1-3h0m12-16h0m3 4h0m7-5h0m5 8h0m5 12h0m10-14h0m4-8h0m4 12h0m6-4h0m12-8h0m1 5h0m4 14h0m2-9h0m653-8h0m1 5h0m3-2h0m6 18h0m3-2h0m1-3h0m0-3h0m3 1h0m0-15h0m0 5h0m0 10h0m0-2h0m2-10h0m2 4h0m7 12h0m2-3h0m7 2h0m0-11h0m0 1h0m0-9h0m1 3h0m2 7h0m0 12h0m1-22h0m2 23h0m8 0h0m4-19h0m0-1h0m1 16h0m2-13h0m4 5h0m0-7h0m1 2h0m1 12h0m4-17h0m1 5h0m0 7h0m1-3h0m1 10h0m1-8h0m0 0h0m3 4h0m1-9h0m0-1h0m1 6h0m1 8h0m1-13h0m2 2h0m4 7h0m2-7h0m1 6h0m1 7h0m0-4h0m1-3h0m4-2h0m0-1h0m2 11h0m2-3h0m3-8h0m4 10h0m0-18h0m2 2h0m0 8h0m1 2h0m1-6h0m1-7h0m2 9h0m1-3h0m1 12h0m2-21h0m2 5h0m3 7h0m1-4h0m2 12h0m2 1h0m0-8h0m5 9h0m1-17h0m3 18h0m2-1h0m2-14h0m1 8h0m1-8h0m0 4h0m1 10h0m7-3h0m5-11h0m1 15h0m0-21h0m2 5h0m1-7h0m4 22h0m0-8h0m1 1h0m0-8h0m0-2h0m1 9h0m3 0h0m1 1h0m3-14h0m1 20h0m0-1h0m0-10h0m5 9h0m1-2h0m3 3h0m0-9h0m1 0h0m2 10h0m1-7h0m0 0h0m0-10h0m1 3h0m1 1h0m1 9h0m0-14h0m4 11h0m3-4h0m4 13h0m1-10h0m1-1h0m1-4h0m2 8h0m0-10h0m0 9h0m3 2h0m2 5h0m1-15h0m0-6h0m3 12h0m0-5h0m2-2h0m1 13h0m4-10h0m1-6h0m2-1h0m0 11h0m2 6h0m3 4h0m1-11h0m0-6h0m3 13h0m4 3h0m3-15h0m1 14h0m0-19h0m3 11h0m0-7h0m0 1h0m1 14h0m0-1h0m6-17h0m2 5h0m3 7h0m2 7h0m2 0h0m0-19h0m4 13h0m2-1h0m2 7h0m2 1h0m11 11h0m0 11h0m-1 1h0m-6-8h0m-6 5h0m-1-7h0m-1 4h0m-1-5h0m-1 8h0m-1-11h0m-2 9h0m-3-11h0m-4-5h0m-1 20h0m0-17h0m0 12h0m-1-9h0m-5 5h0m-4 6h0m-1 1h0m-1 0h0m0 4h0m0-17h0m-1 15h0m-8-12h0m-2-6h0m-2 3h0m-2-6h0m-2 7h0m0 10h0m-2 6h0m-1-5h0m0-4h0m-1-6h0m-4 4h0m-1-6h0m-2 9h0m-2 5h0m-2-6h0m0-3h0m-4-6h0m0 16h0m-1 1h0m-1-5h0m-2-9h0m-8 6h0m0 0h0m-2-13h0m-1 17h0m-3-9h0m-5 12h0m0-1h0m-1-16h0m-2 13h0m-1-10h0m0 5h0m-1 9h0m0 2h0m-1-18h0m0 8h0m-5 8h0m0-18h0m-2 17h0m-2-7h0m-2-6h0m-1-7h0m0 20h0m-2-14h0m0 1h0m-5 16h0m-1 0h0m-1-6h0m-1-1h0m-2-16h0m-5 4h0m-1-3h0m-1-1h0m0 23h0m-1-22h0m-2 8h0m-1-1h0m0 10h0m-1-3h0m-2 1h0m0-12h0m-6 8h0m0 1h0m-4 2h0m-1 3h0m-2 4h0m-2 1h0m-1-17h0m0 1h0m-2 13h0m-1-1h0m0 4h0m0-14h0m-1 10h0m-1-11h0m-1 5h0m-4-4h0m-1-9h0m-1 19h0m-1-14h0m-3 15h0m0-7h0m0-1h0m0 1h0m-2-10h0m-1 11h0m0-5h0m-2 14h0m-3-9h0m-1-11h0m-1 18h0m-2-2h0m0-16h0m0 13h0m-1 5h0m-6-10h0m-1-1h0m0-4h0m-2 12h0m0-2h0m-1-10h0m-4 8h0m-1-8h0m-2 16h0m-1-15h0m-2 16h0m-1-1h0m-3-14h0m-2-4h0m-2 8h0m-1 4h0m-1-6h0m-1-6h0m-1-1h0m0-1h0m0 15h0m-1 4h0m-2-11h0m-2 3h0m0-3h0m-1-7h0m-2 6h0m0 1h0m-1 9h0m-2-3h0m-4-4h0m0 5h0m-2 6h0m-1-23h0m-1 2h0m-1 6h0m-1-1h0m0-1h0m-4 10h0m-1-14h0m-2 9h0m-2-7h0m-1-1h0m0 1h0m-6 12h0m-1 2h0m-2-2h0m-1-11h0m0 13h0m0-3h0m-3-4h0m-1-2h0m-1 5h0m0-3h0m0 9h0m0-12h0m-1 4h0m0-2h0m-1-9h0m-4 2h0m-3-3h0m-1 20h0m-1-9h0m-1 1h0m-1-9h0m0-3h0m-5 2h0m-2 18h0m0-6h0m-5-11h0m-627 12h0m0 4h0m-8-18h0m-14 0h0m0 11h0m-3 10h0m-11-11h0m0 2h0m-7-6h0m-15 13h0m-5-10h0m-2 12h0m-16-18h0m-7 6h0m-2-10h0m-9 10h0m-9-10h0m-15 23h0m-7-18h0m-4-4h0m-10 15h0m-1-13h0m-3-2h0m-1 20h0m-2-19h0m-11 2h0m-21 12h0m-1-4h0m-3-2h0m-16-2h0m-8 7h0m-1 7h0m-17-3h0m-37-13h0m-15-4h0m-3 1h0m-3 29h0m16 1h0m42 4h0m4-2h0m10 4h0m13 1h0m10-2h0m8 6h0m3-10h0m15 9h0m6-16h0m6 11h0m13-14h0m41 9h0m7-8h0m8 5h0m3 10h0m2-1h0m10-2h0m13-8h0m15 6h0m2 6h0m0-9h0m0 10h0m6-8h0m6 3h0m2 3h0m4-12h0m5-3h0m4 9h0m1-5h0m12 4h0m0 5h0m13-7h0m615 15h0m3-12h0m7-3h0m0 5h0m3-11h0m0 5h0m3 0h0m4-3h0m1 6h0m3 4h0m1 2h0m3-4h0m1 4h0m3-3h0m1 10h0m0-9h0m2 8h0m4 1h0m1-8h0m3 0h0m0-14h0m2 4h0m3 6h0m0 2h0m4 8h0m1-14h0m3 9h0m1 6h0m3-7h0m1 6h0m2-17h0m1 9h0m2 1h0m4 3h0m7-13h0m0 5h0m1 6h0m1 1h0m1-5h0m0-5h0m4-1h0m1-4h0m0 1h0m2 10h0m2-2h0m7 6h0m3 2h0m2-1h0m0-2h0m1-14h0m0 5h0m1 6h0m0 9h0m2-11h0m4-4h0m1 18h0m0-14h0m4-7h0m3 0h0m2 1h0m3 10h0m0-9h0m3 15h0m1-12h0m0-6h0m5 5h0m2-5h0m4-1h0m2 3h0m1 9h0m4 10h0m2-3h0m2-16h0m1 11h0m0-12h0m1 2h0m3 2h0m0 9h0m1-2h0m7-3h0m0 9h0m2 4h0m5-16h0m1 16h0m0-12h0m3 6h0m0-1h0m0 6h0m1-6h0m1 0h0m1-5h0m0-6h0m3 11h0m1 1h0m2 4h0m2-20h0m3 4h0m3 15h0m1-6h0m3 7h0m1 1h0m2-16h0m0 12h0m1 5h0m0 0h0m3-22h0m1 20h0m4-13h0m5 15h0m2-2h0m3-11h0m0 10h0m0-19h0m1 7h0m0 5h0m1-7h0m5 2h0m1-8h0m0 23h0m2-3h0m0-11h0m0 2h0m2 4h0m3-11h0m2 15h0m0-6h0m1 5h0m0-13h0m1 11h0m3-4h0m1 7h0m1-16h0m1-3h0m3 2h0m5 17h0m0-13h0m1 17h0m1-21h0m1 12h0m1 9h0m1-4h0m2-5h0m0-7h0m1-4h0m0 15h0m0-11h0m0-6h0m4 22h0m2-5h0m0-10h0m2 10h0m2-13h0m1 5h0m1 3h0m0 0h0m1 10h0m2-21h0m4 12h0m0-4h0m0 0h0m1-1h0m0 12h0m3-5h0m1-3h0m0-2h0m1 1h0m4 9h0m0-10h0m1-3h0m2 12h0m0-8h0m0-2h0m7 13h0m1-16h0m1 6h0m1 10h0m0-5h0m17 17h0m-10 8h0m-4-13h0m-1 2h0m0 12h0m-3-5h0m-2 4h0m-1-19h0m-4 17h0m-2 4h0m-1-16h0m-2 2h0m0 16h0m-1-8h0m-1-12h0m-1 0h0m-4 18h0m-1-11h0m-2-10h0m-1 19h0m-2-13h0m-6-5h0m-1 20h0m0 0h0m-3-8h0m-1-7h0m-3 12h0m0-9h0m0-9h0m0 21h0m-2-8h0m-1 3h0m-3-7h0m-1 14h0m-3-23h0m-2 10h0m-1 13h0m-1-4h0m0 1h0m-1-9h0m-1 4h0m-5-6h0m0 8h0m0-13h0m-7 9h0m-7 9h0m-2-11h0m0-7h0m-4-1h0m-1 6h0m-4 1h0m0 1h0m-2 8h0m-1-3h0m-4-4h0m-1-5h0m-1 4h0m-2 7h0m-1-6h0m-4-10h0m0 12h0m-2 6h0m-2-4h0m-2 1h0m-3-17h0m-1 2h0m-1 19h0m-1-13h0m-1 12h0m-3-16h0m-2-3h0m-2-1h0m-1 4h0m-2 12h0m-1-3h0m0-6h0m-2 13h0m-1-5h0m-2-11h0m-1 5h0m-1 8h0m0-7h0m0 8h0m-1-12h0m-2 9h0m-1-9h0m-2 12h0m-2 2h0m-3-9h0m-1-8h0m0 2h0m-3 4h0m-2 11h0m-7-15h0m-2 1h0m-4 5h0m-2 10h0m-3-8h0m-2 5h0m-1-3h0m0-1h0m-2 8h0m-1 1h0m-3-19h0m-2-2h0m-1 20h0m-1-6h0m0-3h0m-3 1h0m-2-7h0m0 16h0m-2-18h0m-2 14h0m0 1h0m0-19h0m-2 4h0m0 18h0m-1-10h0m-1-7h0m-1 0h0m-1-4h0m-2 1h0m-3 19h0m-1 0h0m-6-4h0m0-10h0m-1 6h0m-5 6h0m0 1h0m-1-18h0m-1 10h0m0-6h0m-1 2h0m-2-1h0m0 3h0m-8 6h0m-5-13h0m-3 3h0m-3-2h0m-6 4h0m0-5h0m-5 8h0m-2 3h0m0-9h0m-1-1h0m-1 3h0m-1-6h0m-1 4h0m-2 1h0m-1-2h0m-1 1h0m-1 14h0m-2-11h0m0 13h0m0-12h0m-2-3h0m0 14h0m-1-17h0m-3-4h0m-3 18h0m-2 4h0m-1-18h0m-9 12h0m-3-16h0m-5 15h0m-5-9h0m-3-5h0m-617 18h0m-7-1h0m-1-12h0m-1 6h0m-1-6h0m-1-1h0m-4 4h0m0-9h0m-6 1h0m-2 20h0m-2-19h0m-7 0h0m-7-1h0m0 10h0m-1 8h0m-2-3h0m-1 5h0m0-3h0m-23-15h0m-9 19h0m-2-3h0m0-8h0m0 8h0m-11 3h0m-38-2h0m-5-17h0m-2 12h0m-2-10h0m-16 1h0m-18 9h0m-2 2h0m0-3h0m-1-8h0m-6 17h0m-13-19h0m0 14h0m-10-17h0m-14 18h0m-6-1h0m-30 0h0m-2-7h0m-12 6h0m-12-17h0m-7 16h0m0 5h0m-4-10h0m-7-10h0m38 24h0m8 4h0m11 7h0m5-8h0m5 13h0m8 2h0m14-17h0m3 17h0m27-3h0m2 7h0m5-4h0m8-9h0m6-4h0m6-4h0m6 19h0m4-20h0m26 11h0m1-6h0m3-4h0m1 11h0m13 8h0m10-19h0m3 6h0m5-1h0m12 3h0m24-5h0m4 14h0m4-11h0m8 4h0m6-7h0m1 1h0m2-5h0m2 8h0m14-8h0m1 19h0m639-19h0m1 2h0m1 2h0m0 18h0m3 0h0m2-20h0m0 2h0m3 0h0m2-3h0m1 21h0m0-10h0m5 10h0m3-6h0m9-12h0m0-5h0m2 5h0m2 14h0m4-2h0m0-6h0m3-8h0m0 9h0m1-6h0m1 13h0m2-19h0m1 15h0m1-13h0m2 6h0m1-5h0m1 16h0m0-9h0m8 1h0m1 4h0m8 3h0m1-6h0m0-4h0m0-7h0m4 3h0m0 18h0m1-17h0m6-3h0m1 3h0m0 15h0m3-10h0m1 0h0m4 10h0m1 3h0m1-14h0m1 7h0m3 5h0m0-16h0m1 14h0m0 2h0m1-17h0m4-1h0m1 16h0m2-19h0m1 12h0m2-9h0m4 1h0m1 5h0m1 5h0m1-8h0m1 11h0m5-9h0m1-8h0m2 7h0m2 11h0m4-13h0m1 14h0m6-16h0m2 15h0m3-12h0m1 17h0m1-21h0m1 20h0m0-7h0m1-7h0m4 2h0m1-6h0m2 4h0m1 12h0m0-2h0m1 2h0m3-19h0m3 10h0m1 3h0m0-8h0m4 7h0m1 10h0m1-11h0m0 8h0m1-12h0m2-2h0m3 7h0m5-11h0m2 11h0m3 10h0m1-1h0m2-2h0m4-15h0m0 11h0m0-6h0m2 9h0m0 3h0m2-16h0m5-5h0m4 10h0m0-7h0m1 3h0m3 4h0m1 2h0m4 10h0m0-10h0m1-10h0m0-3h0m0 7h0m2 10h0m3 6h0m2-17h0m2-1h0m2 10h0m11 3h0m0-18h0m1 19h0m1-3h0m0 2h0m0 3h0m3-15h0m4 0h0m3 12h0m0-12h0m1 9h0m3-12h0m1 6h0m2 12h0m3-4h0m0-1h0m2-16h0m2 14h0m3-1h0m4-1h0m0 7h0m6-10h0m1 4h0m1 10h0m0-16h0m2 10h0m0-5h0m1 7h0m6-17h0m2 2h0m3 13h0m2 15h0m-1 1h0m0 3h0m-1 3h0m-1 1h0m-1-16h0m-3 7h0m-3 14h0m-2-19h0m0 4h0m-1 9h0m0-15h0m-1 23h0m-1-16h0m-2-2h0m0 12h0m-1-8h0m-1-1h0m-1 15h0m-2-1h0m0 0h0m-1-7h0m-2-7h0m0-8h0m-3 5h0m-1 18h0m-2-7h0m-1-3h0m-1-9h0m-3 0h0m-2-3h0m-1 8h0m0 9h0m-1-15h0m-1 14h0m0-17h0m-1 5h0m-1-3h0m0 14h0m0 2h0m0 5h0m-2-10h0m-1-12h0m-2 9h0m-1 3h0m0-9h0m-1 5h0m-1-9h0m0 20h0m-3-12h0m0-4h0m-1 10h0m-1 9h0m0-1h0m-1-14h0m0-7h0m-1 9h0m-1-2h0m-6 7h0m0-14h0m-1 8h0m-1 9h0m-7 2h0m0-1h0m-2-9h0m-3 11h0m0-8h0m-2-10h0m-2 15h0m-1 4h0m-4-9h0m-1-9h0m0 18h0m0-12h0m-3 2h0m-1-4h0m-3 8h0m-6 5h0m-1-18h0m-7 20h0m-1-1h0m-3-22h0m-1 10h0m0 10h0m-3-20h0m-3 3h0m0 19h0m-5-8h0m-1-8h0m0 14h0m-3 3h0m-1-22h0m-1 4h0m-1 10h0m0-3h0m-2-12h0m-2 19h0m0-7h0m-1-5h0m-4 12h0m0-19h0m-4 1h0m0 12h0m-1 6h0m-1-5h0m-5 0h0m-1-3h0m-2-2h0m-1 7h0m-3-13h0m-3 0h0m-3-1h0m-1 9h0m-2-4h0m-4-4h0m-3 5h0m0-1h0m-3 5h0m-3 7h0m-4-17h0m-1 8h0m-3-6h0m-3 9h0m0-2h0m0 6h0m-1-5h0m0-11h0m-7 0h0m-3 21h0m-3-19h0m-1 15h0m-2-11h0m0 11h0m-3-7h0m-5 6h0m-2-16h0m-2 1h0m-1 0h0m-3-1h0m-2 6h0m-6 5h0m-4-1h0m-2 0h0m-4 1h0m-1-4h0m-2 5h0m-1 1h0m-2-9h0m-2 16h0m-1-16h0m-1 7h0m-4 11h0m0-19h0m-2-1h0m0 19h0m-2-15h0m-2-5h0m-2 11h0m0-3h0m-1 0h0m0-6h0m-2 7h0m-7 6h0m-2 3h0m-4-6h0m0-3h0m0 10h0m-3-7h0m-3-13h0m-631 16h0m-8-17h0m-2 19h0m-10-11h0m-12-4h0m0 0h0m-2 6h0m-5 10h0m-10-6h0m-22-5h0m-6 7h0m-4 4h0m-14-14h0m-18-2h0m-3 6h0m-5 9h0m0-12h0m-6-1h0m-18-5h0m-11 3h0m-34 17h0m-3-13h0m-33-3h0m-17-1h0m-5 1h0m0 12h0m-37-15h0m42 40h0m2-9h0m0-7h0m10 3h0m29 15h0m9-4h0m9-7h0m13-7h0m13 14h0m11-1h0m5-10h0m3-4h0m4 18h0m0-7h0m9 9h0m19-4h0m21-10h0m4-7h0m10 4h0m12 1h0m12 1h0m14 11h0m8 5h0m10-4h0m3-15h0m4 11h0m5-9h0m633 14h0m4-5h0m2 1h0m2-10h0m8 18h0m1-15h0m2-8h0m8 20h0m3-13h0m0-4h0m6 14h0m2-7h0m3-3h0m2 5h0m3 10h0m1-16h0m2-2h0m3 4h0m1-3h0m3 18h0m0-1h0m1-7h0m4-11h0m2-1h0m1 18h0m1-5h0m1-5h0m2-1h0m1-8h0m1-2h0m2 19h0m1 3h0m1-6h0m4-4h0m0-10h0m0 17h0m2-7h0m3 8h0m2-14h0m0 11h0m1 0h0m2-4h0m1 1h0m7-6h0m0 9h0m0-17h0m0 9h0m1-5h0m1-1h0m0-2h0m2 0h0m0 16h0m0-7h0m1 4h0m2-13h0m0 1h0m1 19h0m1-7h0m0-3h0m1 8h0m2-4h0m1 6h0m3-3h0m1-8h0m6 2h0m1 7h0m0 2h0m0-16h0m1 14h0m1-7h0m0-6h0m2 10h0m4-1h0m1-6h0m0-1h0m4-8h0m1 3h0m8 11h0m2-14h0m1 22h0m0-6h0m3-8h0m1 4h0m4 0h0m0 9h0m1 1h0m1-8h0m3-10h0m1 7h0m1-3h0m0 11h0m1-3h0m3-1h0m5-7h0m0 7h0m0-6h0m2-1h0m1-4h0m4-4h0m3 12h0m4-2h0m1 6h0m5-13h0m3 17h0m0-1h0m2-10h0m1 1h0m1 13h0m1-19h0m2 14h0m5 1h0m8 1h0m0-18h0m2-1h0m1 6h0m5 7h0m1 9h0m2-13h0m9 3h0m0-13h0m2 16h0m1-3h0m1-6h0m2 6h0m1-1h0m0 1h0m3 10h0m0-9h0m5-10h0m2 17h0m0-20h0m2 1h0m4-2h0m1 14h0m1-7h0m1-1h0m0 3h0m1 12h0m1-19h0m2 14h0m10 3h0m0-10h0m2 0h0m0 4h0m5-3h0m9 5h0m7 8h0m0-20h0m11 44h0m-6 0h0m-3-12h0m-2 4h0m-1 1h0m-1 2h0m-5-2h0m-1-1h0m-2 5h0m0 0h0m-4-19h0m-2 22h0m-1-1h0m-1-1h0m-1-4h0m-1-17h0m0 4h0m-6 17h0m0-7h0m0 6h0m-4-18h0m-2 15h0m-1-9h0m-3 2h0m-3-4h0m-6 8h0m-1-13h0m0 16h0m-2-1h0m-4 0h0m-1-3h0m-6-2h0m-3 5h0m-11 5h0m0-6h0m-4-13h0m-1 19h0m-2-10h0m-1-4h0m0 9h0m-1-2h0m-1-7h0m-1 7h0m0 6h0m-5-6h0m-1-6h0m-11 13h0m-2-3h0m-1-15h0m-10 0h0m-3 13h0m-2-2h0m0-14h0m-1 6h0m-1 7h0m-3 0h0m0 3h0m-3-2h0m-1 0h0m-1 8h0m-1-16h0m-1 5h0m-1-11h0m-3 21h0m-2 1h0m-1-18h0m-3 18h0m-11 1h0m-1-19h0m0 1h0m-2 6h0m-1-4h0m-5 6h0m0 4h0m-8-11h0m-4-5h0m-3 5h0m-4-6h0m-4 17h0m-3-17h0m-3 19h0m-1 4h0m0-17h0m-4 1h0m-2 16h0m-7-14h0m-2-7h0m-4 4h0m-2 8h0m-3 1h0m0 6h0m-3-7h0m-4 0h0m-1-5h0m-1-4h0m0 18h0m-1-14h0m-9-7h0m-5 9h0m-1-10h0m-2 15h0m-1 3h0m0 0h0m0-4h0m-4-10h0m-1-5h0m0 13h0m-4-11h0m-3 18h0m-3 3h0m-1 0h0m0-12h0m0-9h0m0 1h0m-1 4h0m-1 4h0m-2 3h0m-2 3h0m-5-13h0m-1 18h0m-7-15h0m-1 12h0m-4-11h0m-643-5h0m-15 0h0m-33 15h0m-9 1h0m-5-12h0m-1 11h0m-15 3h0m-5 1h0m-21-16h0m-11 17h0m-1-4h0m-20 2h0m-12 1h0m-38-6h0m-20-14h0m0 18h0m-6-9h0m-12 11h0m-20-22h0m-7 1h0m0 20h0m-8-16h0m-20 7h0m2 32h0m33-12h0m6 2h0m69 2h0m38-2h0m31 3h0m0 7h0m4 3h0m11-15h0m17 10h0m3-2h0m14-13h0m28 14h0m0 3h0m11-4h0m3-12h0m5 18h0m631-3h0m12-18h0m2 8h0m2 4h0m4 0h0m0-10h0m0 13h0m1-5h0m0 3h0m3-9h0m2-4h0m1 20h0m3 1h0m5 1h0m12-15h0m2 1h0m0 6h0m1 1h0m5-9h0m3 14h0m1-9h0m1-1h0m0-6h0m8 2h0m0 0h0m4 14h0m7-19h0m0 12h0m1-6h0m6-5h0m1 8h0m1-11h0m0 8h0m4 0h0m3 15h0m5 0h0m0 0h0m0-11h0m0 8h0m0-11h0m3 8h0m2-11h0m1 3h0m4-8h0m3 8h0m1 8h0m0 5h0m9-11h0m2 11h0m3-13h0m0 2h0m2 7h0m8-13h0m3-3h0m6 4h0m4 2h0m1-7h0m4 20h0m4-3h0m6-12h0m4 8h0m4 8h0m3-20h0m1 17h0m2-1h0m1-9h0m5 12h0m15-15h0m3 7h0m2 0h0m0-3h0m7 2h0m1-9h0m0 18h0m2-13h0m3 8h0m2 5h0m2 0h0m1 2h0m11-23h0m2 0h0m2 20h0m1-3h0m7-6h0m4 5h0m2-1h0m2-2h0m2-8h0m3 3h0m2 4h0m2-7h0m0-1h0m3 2h0m11-1h0m1-2h0m2 7h0m2 13h0m1-23h0m2 12h0m0 5h0m1-3h0m1-10h0m1 12h0m6-16h0m7 25h0m-2 12h0m-16-12h0m-3 1h0m-1 5h0m-15 8h0m-6 8h0m0-11h0m0 4h0m-4 4h0m-4-20h0m-5 17h0m0-1h0m-4-8h0m-1-4h0m-1-2h0m-1 6h0m0 14h0m-5-17h0m-1 9h0m-1-7h0m-1-2h0m-6 15h0m-1-10h0m-3 3h0m-1-13h0m-1 9h0m-6 8h0m-3-4h0m-6-12h0m-1 19h0m0-19h0m0 10h0m-3 1h0m-2 0h0m-1-12h0m0 14h0m-1-11h0m-2 0h0m-3 12h0m-3-2h0m-1-9h0m-4 7h0m-1 0h0m0 7h0m-5 4h0m-3-19h0m-6 10h0m-2-1h0m0-7h0m-1-4h0m-4 19h0m-1-17h0m-3 10h0m-4-11h0m0 13h0m-1 0h0m-7-14h0m-13 17h0m-4-8h0m-7 1h0m-4-1h0m-1-3h0m-1 7h0m-7-11h0m-4 4h0m-3-1h0m-2 15h0m0 0h0m-2-8h0m-1-9h0m-3-1h0m-1 5h0m0 4h0m-1-4h0m-1-3h0m-1 11h0m-5 1h0m-5-9h0m-2 12h0m-3-5h0m-3-5h0m-2 2h0m-3-3h0m0 13h0m-9-8h0m-1-10h0m-4 0h0m-1 7h0m-1-11h0m-1 10h0m-1 1h0m-8 1h0m-1 0h0m-6 1h0m-1-1h0m-3-3h0m0-7h0m-3 18h0m-1-15h0m-10 11h0m-3 5h0m-2-10h0m-2 10h0m-8-2h0m-1-18h0m-2 22h0m-638-5h0m-6-13h0m-6 9h0m-3 0h0m-15-13h0m-4 7h0m-3 0h0m-17 6h0m-3-14h0m-23 8h0m-3 11h0m-1 1h0m-45-15h0m-4 8h0m-1 1h0m-3-14h0m-26 10h0m-7-3h0m-24-2h0m-1 11h0m-20 7h0m-2-3h0m0-8h0m-9 11h0m-20-22h0m5 38h0m2-11h0m8 4h0m1 11h0m4-5h0m19-1h0m0-8h0m118 1h0m11 9h0m41 4h0m10-7h0m15 5h0m14 2h0m616-8h0m19-8h0m0 20h0m3-22h0m0 18h0m1-14h0m3-4h0m1 8h0m7 8h0m9 0h0m1-11h0m7-2h0m1 11h0m8 0h0m0-3h0m7 8h0m0-15h0m1 17h0m2-11h0m0 7h0m10-15h0m1 19h0m1-18h0m1 19h0m3-7h0m1-1h0m1-8h0m1 0h0m0-6h0m6 7h0m1-3h0m0 1h0m0 16h0m2-21h0m1 9h0m1 10h0m0-8h0m1 11h0m1-4h0m4-19h0m4 8h0m0-7h0m0 1h0m12 11h0m0-5h0m1 4h0m0-1h0m0 5h0m1 7h0m2-16h0m4-7h0m3 8h0m0 1h0m1 0h0m2-2h0m3-4h0m10 19h0m1-17h0m6 0h0m4 6h0m15-8h0m2 17h0m1-8h0m4-10h0m3 11h0m3 3h0m1-15h0m1 19h0m1 3h0m1-13h0m10 9h0m0-14h0m1 12h0m1-17h0m0 5h0m1-5h0m15 0h0m1 1h0m0 3h0m1 4h0m4 8h0m6-8h0m16-8h0m9 6h0m1 16h0m1-10h0m1-3h0m6 1h0m2-3h0m4-1h0m4 8h0m1 9h0m9-11h0m10-7h0m3-2h0m-7 23h0m-6 4h0m-1 8h0m-6-1h0m-1 0h0m-7-7h0m-2 15h0m-2-15h0m-1 5h0m-14-1h0m-3-3h0m-6 4h0m0-2h0m-1 8h0m-4-17h0m-5 16h0m-7 6h0m0-13h0m-2 5h0m-1-9h0m-2 1h0m-1 7h0m-1-10h0m-2 15h0m-2-2h0m0-6h0m-1 12h0m-1-2h0m-11-5h0m-3-3h0m-6-6h0m-7 3h0m-1-3h0m-5 12h0m-13-16h0m-5 4h0m-1 10h0m-7-1h0m-2-8h0m-1 13h0m-1-2h0m0 1h0m-6-10h0m-8 2h0m-4-8h0m-2 0h0m-6-3h0m-2 19h0m-4 4h0m-2-15h0m-1-4h0m-4 19h0m-1-5h0m-1-6h0m0-3h0m-2-4h0m-2-2h0m-7 6h0m-4 10h0m-1 2h0m-1-4h0m-1-16h0m-3 0h0m0 8h0m-2 4h0m-1 0h0m-2 1h0m-2 5h0m-4-9h0m-1 10h0m0-11h0m-3 3h0m-1 11h0m-3-11h0m-1-3h0m0 14h0m-1-17h0m0 13h0m-6-15h0m-2 19h0m-1-14h0m-1 9h0m0-8h0m-6 9h0m-2-2h0m0-15h0m0 19h0m-1-3h0m-1-15h0m-10 0h0m0 19h0m-1 0h0m-2-19h0m-6 14h0m0 0h0m-1-5h0m-2-3h0m-11 1h0m-8 9h0m-2 3h0m-8-3h0m-650-15h0m-17 4h0m-4 0h0m-20-2h0m-1 11h0m-5 2h0m-46-5h0m-23-9h0m-8 2h0m-35 6h0m-5 10h0m-1-18h0m-3 9h0m-6-6h0m-12 2h0m-10-2h0m-3-7h0m-4 8h0m-32 5h0m-86 23h0m48 8h0m2-13h0m32 11h0m9-13h0m17 5h0m2 7h0m34-13h0m2-5h0m12 1h0m2 5h0m12 12h0m2-7h0m3-7h0m0 4h0m0-6h0m2-2h0m5 19h0m0-5h0m695 6h0m96-16h0m1 0h0m11 13h0m4-3h0m12-13h0m2 0h0m3 12h0m0-5h0m4 1h0m2-6h0m0 17h0m0 3h0m5-10h0m1-3h0m1-10h0m0 1h0m1 1h0m0 15h0m3-6h0m1-9h0m6 17h0m0-1h0m0-6h0m0-12h0m0 19h0m3-3h0m0-6h0m3 1h0m1 2h0m1 7h0m1 1h0m1 2h0m1-7h0m1-6h0m1 2h0m5-10h0m6-1h0m4 16h0m1-12h0m0-2h0m2 3h0m3-2h0m1 8h0m5-1h0m2 1h0m2 1h0m3 0h0m2-1h0m2 2h0m3 8h0m2-7h0m0 7h0m2-1h0m1-13h0m4 5h0m0-13h0m0 15h0m3-12h0m0 7h0m1 7h0m1-12h0m1 14h0m2-10h0m2 8h0m2-10h0m2-5h0m5 10h0m18-11h0m17 5h0m11-5h0m4 0h0m2 14h0m4-15h0m3 2h0m4 4h0m2 1h0m2-4h0m2 8h0m7 9h0m5-9h0m0-6h0m0-4h0m5 2h0m9 0h0m9 0h0m0-3h0m1 8h0m2 2h0m3 6h0m7 0h0m7-9h0m1-2h0m2 2h0m-119 21h0m-2 9h0m-8 3h0m-2-16h0m-13 18h0m-3-17h0m-1 15h0m-1-10h0m-1 8h0m-19-7h0m-10 11h0m-5 1h0m-3-1h0m-2-4h0m-2-10h0m-1 2h0m-2 13h0m0-9h0m0-2h0m-2 1h0m-6-9h0m-3 22h0m0-14h0m-12 14h0m-7-4h0m0 0h0m-1 4h0m-10-9h0m-3 0h0m-1 3h0m-5-4h0m-2-4h0m-1 10h0m-10-3h0m-7 7h0m-1-15h0m-5 15h0m-1-21h0m-11 9h0m-3 5h0m-8-14h0m-9-1h0m-4 19h0m-5-15h0m-222 16h0m-528-19h0m-2 18h0m-43-3h0m-4-4h0m-7-4h0m-3 6h0m-1-12h0m-17 20h0m-10-5h0m-13 4h0m-11-9h0m-9-11h0m-5 15h0m-37-12h0m-7 13h0m-30-16h0m-35 16h0m-27 0h0m-156-9h0m200 28h0m0-5h0m11 14h0m6-1h0m2-19h0m15 15h0m10-10h0m9-2h0m43-2h0m0 11h0m10-1h0m36-3h0m23 8h0m11-5h0m6-9h0m701-3h0m35 20h0m16-4h0m30-8h0m3 4h0m7 7h0m1-5h0m15-14h0m2 22h0m10-13h0m3-4h0m21 13h0m16-3h0m8-15h0m9 19h0m5-2h0m5-14h0m4-1h0m0 7h0m1-1h0m11 15h0m4-17h0m2-3h0m2 3h0m6 9h0m13 4h0m6-13h0m1-6h0m1 4h0m3-1h0m31 5h0m-62 21h0m-17 11h0m-11-14h0m-1 17h0m-14-6h0m-1 9h0m-7-22h0m-3 17h0m-23 5h0m-4-3h0m-3-4h0m-13 7h0m-8-5h0m-3-6h0m-1 2h0m-13-5h0m-3-2h0m-3 12h0m-18-17h0m-4 20h0m-6-20h0m-24 3h0m-35 16h0m-102-12h0m-532-2h0m-93-1h0m-32-5h0m-26 12h0m-8-7h0m-26-2h0m-14 14h0m-12 4h0m-4-12h0m-7 14h0m-56-9h0m-10-1h0m-17 4h0m-33 11h0m7 13h0m32-17h0m32 6h0m15 5h0m9 10h0m12-5h0m3 2h0m17-6h0m4-3h0m15-7h0m7 5h0m31 14h0m15-14h0m173 15h0m517-6h0m60-11h0m10 10h0m11-4h0m7 6h0m13-15h0m27-1h0m8 16h0m4-7h0m0 5h0m2-2h0m1 2h0m5-6h0m2-6h0m5 19h0m9-15h0m1 6h0m9 3h0m20-5h0m4-11h0m18 19h0m5-10h0m7 3h0m2 9h0m111-15h0m85 25h0m-16 4h0m-2 4h0m-200-10h0m-16-3h0m-3 13h0m-3-1h0m-13 2h0m-23 5h0m-30-1h0m-3 0h0m-4-9h0m-4-10h0m-46 18h0m-66-9h0m-745-7h0m-40 14h0m-6-5h0m-51 11h0m-10-7h0m-1 6h0m-21-5h0m-9-4h0m-13 6h0m-30 14h0m2-8h0m8 8h0m15 5h0m25-10h0m1 16h0m11-15h0m5-3h0m34 18h0m19 0h0m4 2h0m6-7h0m16 6h0m8-21h0m2 10h0m812 7h0m68-4h0m8-12h0m39 6h0m26 7h0m232-9h0m20 9h0m18 9h0m-28 16h0m-9 6h0m-331-7h0m-39 8h0m-14-21h0m-7 22h0m-9-9h0m-10 3h0m-818 0h0m-1-10h0m-23 0h0m-15 10h0m-2 9h0m135 0h0m161 8h0m1 9h0m524 3h0m19-22h0m6 10h0m2 7h0m2-2h0m11-8h0m1 1h0m2 9h0m16-13h0m334 5h0m55-9h0m-22 30h0m-19 13h0m-304 4h0m-4-7h0m-65-3h0m0-8h0m-8 0h0m-13 2h0m-20 4h0m-8 11h0m-679-14h0m-78 5h0m-16-8h0m-19 15h0m-69-3h0m-16 0h0m90 26h0m146 3h0m132-20h0m552 21h0m6-19h0m16-4h0m6 9h0m7 4h0m20-10h0m12 11h0m7-1h0m286-11h0m-291 24h0m-15 3h0m-9 6h0m0 5h0m-5-4h0m-5-8h0m-18 15h0m-4-9h0m0 0h0m-2-3h0m-5 1h0m0 4h0m-28-3h0m-5 14h0m-641-8h0m-44-1h0m-6-11h0m-13 7h0m-1 3h0m-148-13h0m142 36h0m8-2h0m29 5h0m7-15h0m3 12h0m12 7h0m14-13h0m3 3h0m862 5h0m12-10h0m39 4h0m18 14h0m-47 21h0m-6-8h0m-10 10h0m-849-4h0m-18 4h0m-20 0h0m-11-20h0m-14 12h0m-7 5h0m-23 10h0m42 7h0m950 1h0" stroke="#5e1a18" stroke-width="8.2"/>
</g>
<text x="1004.6" y="27.6" font-size="36" font-weight="bold" textLength="22" lengthAdjust="spacingAndGlyphs">b</text>
<text x="1082" y="49.2" font-size="36.3" textLength="783.6" lengthAdjust="spacingAndGlyphs">Distribution of clonally expanded CD8<tspan dy="-13.1" font-size="21.8">+</tspan><tspan dy="13.1"> T cells</tspan></text>
<rect x="1164.6" y="92.3" width="37.4" height="1.4" fill="#eea842"/>
<rect x="1164.6" y="93.7" width="37.4" height="349.9" fill="#b6d9e9"/>
<rect x="1238.3" y="92.3" width="37.4" height="13.7" fill="#652117"/>
<rect x="1238.3" y="106" width="37.4" height="5.7" fill="#db3c33"/>
<rect x="1238.3" y="111.7" width="37.4" height="38.8" fill="#eea842"/>
<rect x="1238.3" y="150.6" width="37.4" height="293" fill="#b6d9e9"/>
<rect x="1312.1" y="92.3" width="37.4" height="40.6" fill="#652117"/>
<rect x="1312.1" y="132.9" width="37.4" height="14.3" fill="#db3c33"/>
<rect x="1312.1" y="147.1" width="37.4" height="35.4" fill="#eea842"/>
<rect x="1312.1" y="182.6" width="37.4" height="261" fill="#b6d9e9"/>
<rect x="1385.8" y="92.3" width="37.4" height="14.3" fill="#652117"/>
<rect x="1385.8" y="106.6" width="37.4" height="42.3" fill="#db3c33"/>
<rect x="1385.8" y="148.9" width="37.4" height="89.7" fill="#eea842"/>
<rect x="1385.8" y="238.5" width="37.4" height="205.1" fill="#b6d9e9"/>
<rect x="1459.6" y="92.3" width="37.4" height="40" fill="#652117"/>
<rect x="1459.6" y="132.3" width="37.4" height="38.8" fill="#db3c33"/>
<rect x="1459.6" y="171.1" width="37.4" height="86.3" fill="#eea842"/>
<rect x="1459.6" y="257.4" width="37.4" height="186.2" fill="#b6d9e9"/>
<rect x="1533.3" y="92.3" width="37.4" height="125.7" fill="#652117"/>
<rect x="1533.3" y="218" width="37.4" height="50.3" fill="#db3c33"/>
<rect x="1533.3" y="268.2" width="37.4" height="88.5" fill="#eea842"/>
<rect x="1533.3" y="356.8" width="37.4" height="86.8" fill="#b6d9e9"/>
<rect x="1607.1" y="92.3" width="37.4" height="162.8" fill="#652117"/>
<rect x="1607.1" y="255.1" width="37.4" height="61.7" fill="#db3c33"/>
<rect x="1607.1" y="316.8" width="37.4" height="60" fill="#eea842"/>
<rect x="1607.1" y="376.8" width="37.4" height="66.8" fill="#b6d9e9"/>
<path d="M1139.4 75V461.4H1669.6" stroke="#333" stroke-width="1.7" fill="none"/>
<path d="M1133.6 443.6L1139.4 443.6" stroke="#333" stroke-width="2.2"/>
<text x="1070.5" y="456.5" font-size="29.6" textLength="53.8" lengthAdjust="spacingAndGlyphs">0.00</text>
<path d="M1133.6 355.8L1139.4 355.8" stroke="#333" stroke-width="2.2"/>
<text x="1070.5" y="368.7" font-size="29.6" textLength="53.8" lengthAdjust="spacingAndGlyphs">0.25</text>
<path d="M1133.6 268L1139.4 268" stroke="#333" stroke-width="2.2"/>
<text x="1070.5" y="280.9" font-size="29.6" textLength="53.8" lengthAdjust="spacingAndGlyphs">0.50</text>
<path d="M1133.6 180.1L1139.4 180.1" stroke="#333" stroke-width="2.2"/>
<text x="1070.5" y="193" font-size="29.6" textLength="53.8" lengthAdjust="spacingAndGlyphs">0.75</text>
<path d="M1133.6 92.3L1139.4 92.3" stroke="#333" stroke-width="2.2"/>
<text x="1070.5" y="105.2" font-size="29.6" textLength="53.8" lengthAdjust="spacingAndGlyphs">1.00</text>
<path d="M1183.3 461.4L1183.3 467" stroke="#333" stroke-width="2.2"/>
<text transform="translate(1167.3 491) rotate(45)" font-size="31">Naïve</text>
<path d="M1257 461.4L1257 467" stroke="#333" stroke-width="2.2"/>
<text transform="translate(1241 491) rotate(45)" font-size="31">Memory</text>
<path d="M1330.8 461.4L1330.8 467" stroke="#333" stroke-width="2.2"/>
<text transform="translate(1314.8 491) rotate(45)" font-size="31" font-style="italic">TCRgd<tspan dy="-11.2" font-size="18.6">+</tspan></text>
<path d="M1404.5 461.4L1404.5 467" stroke="#333" stroke-width="2.2"/>
<text transform="translate(1388.5 491) rotate(45)" font-size="31" font-style="italic">CCR6<tspan dy="-11.2" font-size="18.6">+</tspan><tspan dy="11.2"> CD161</tspan><tspan dy="-11.2" font-size="18.6">+</tspan></text>
<path d="M1478.3 461.4L1478.3 467" stroke="#333" stroke-width="2.2"/>
<text transform="translate(1462.3 491) rotate(45)" font-size="31" font-style="italic">GZMK<tspan dy="-11.2" font-size="18.6">+</tspan></text>
<path d="M1552 461.4L1552 467" stroke="#333" stroke-width="2.2"/>
<text transform="translate(1536 491) rotate(45)" font-size="31" font-style="italic">GZMB<tspan dy="-11.2" font-size="18.6">+</tspan><tspan dy="11.2"> KIR</tspan><tspan dy="-11.2" font-size="18.6">+</tspan></text>
<path d="M1625.8 461.4L1625.8 467" stroke="#333" stroke-width="2.2"/>
<text transform="translate(1609.8 491) rotate(45)" font-size="31" font-style="italic">GZMB<tspan dy="-11.2" font-size="18.6">+</tspan><tspan dy="11.2"> GNLY</tspan><tspan dy="-11.2" font-size="18.6">+</tspan></text>
<text transform="translate(1050 358.8) rotate(-90)" font-size="36" textLength="167.4" lengthAdjust="spacingAndGlyphs">Proportion</text>
<rect x="1672.2" y="92.6" width="32.8" height="33.4" fill="#652117"/>
<text x="1715.7" y="118.2" font-size="29" textLength="171.2" lengthAdjust="spacingAndGlyphs">Large (X&gt;20)</text>
<rect x="1672.2" y="128.9" width="32.8" height="33.4" fill="#db3c33"/>
<text x="1715.7" y="154.5" font-size="29" textLength="238.7" lengthAdjust="spacingAndGlyphs">Medium (20&gt;X≧5)</text>
<rect x="1672.2" y="165.2" width="32.8" height="33.4" fill="#eea842"/>
<text x="1715.7" y="190.8" font-size="29" textLength="191" lengthAdjust="spacingAndGlyphs">Small (5&gt;X≧2)</text>
<rect x="1672.2" y="201.5" width="32.8" height="33.4" fill="#b6d9e9"/>
<text x="1715.7" y="227.1" font-size="29" textLength="202.6" lengthAdjust="spacingAndGlyphs">Singleton (X=1)</text>
<text x="3.8" y="670" font-size="36" font-weight="bold" textLength="20" lengthAdjust="spacingAndGlyphs">c</text>
<text x="74.5" y="699.8" font-size="36.3" textLength="768" lengthAdjust="spacingAndGlyphs">Proportion of clonally expanded CD8<tspan dy="-13.1" font-size="21.8">+</tspan><tspan dy="13.1"> T cells</tspan></text>
<text x="90" y="758" font-size="35.5" font-weight="bold" font-style="italic" textLength="246" lengthAdjust="spacingAndGlyphs">GZMB<tspan dy="-12.8" font-size="21.3">+</tspan><tspan dy="12.8"> GNLY</tspan><tspan dy="-12.8" font-size="21.3">+</tspan></text>
<text x="467.5" y="758" font-size="35.5" font-weight="bold" font-style="italic" textLength="119.5" lengthAdjust="spacingAndGlyphs">GZMK<tspan dy="-12.8" font-size="21.3">+</tspan></text>
<rect x="149.8" y="794.5" width="37.6" height="106.9" fill="#652117"/>
<rect x="149.8" y="901.4" width="37.6" height="72.6" fill="#db3c33"/>
<rect x="149.8" y="973.9" width="37.6" height="70.9" fill="#eea842"/>
<rect x="149.8" y="1044.8" width="37.6" height="101.8" fill="#b6d9e9"/>
<rect x="224.7" y="794.5" width="37.6" height="179.4" fill="#652117"/>
<rect x="224.7" y="973.9" width="37.6" height="56.2" fill="#db3c33"/>
<rect x="224.7" y="1030.2" width="37.6" height="60.2" fill="#eea842"/>
<rect x="224.7" y="1090.4" width="37.6" height="56.2" fill="#b6d9e9"/>
<path d="M123.5 777.5V1164.4H288.5" stroke="#000" stroke-width="2.7" fill="none"/>
<path d="M115.3 1146.6L122.4 1146.6" stroke="#444" stroke-width="3"/>
<text x="57.5" y="1159.7" font-size="29.6" textLength="53.2" lengthAdjust="spacingAndGlyphs">0.00</text>
<path d="M115.3 1058.6L122.4 1058.6" stroke="#444" stroke-width="3"/>
<text x="57.5" y="1071.7" font-size="29.6" textLength="53.2" lengthAdjust="spacingAndGlyphs">0.25</text>
<path d="M115.3 970.5L122.4 970.5" stroke="#444" stroke-width="3"/>
<text x="57.5" y="983.6" font-size="29.6" textLength="53.2" lengthAdjust="spacingAndGlyphs">0.50</text>
<path d="M115.3 882.5L122.4 882.5" stroke="#444" stroke-width="3"/>
<text x="57.5" y="895.6" font-size="29.6" textLength="53.2" lengthAdjust="spacingAndGlyphs">0.75</text>
<path d="M115.3 794.5L122.4 794.5" stroke="#444" stroke-width="3"/>
<text x="57.5" y="807.6" font-size="29.6" textLength="53.2" lengthAdjust="spacingAndGlyphs">1.00</text>
<path d="M168.6 1165.6L168.6 1171.2" stroke="#444" stroke-width="3"/>
<text transform="translate(153.6 1197) rotate(45)" font-size="32.3">Healthy control</text>
<path d="M243.5 1165.6L243.5 1171.2" stroke="#444" stroke-width="3"/>
<text transform="translate(228.5 1197) rotate(45)" font-size="32.3">ACPA+ RA</text>
<text transform="translate(35.5 1115.5) rotate(-90)" font-size="36" textLength="271" lengthAdjust="spacingAndGlyphs">Clone proportion</text>
<rect x="469.7" y="794.5" width="37.6" height="27" fill="#652117"/>
<rect x="469.7" y="821.5" width="37.6" height="39.4" fill="#db3c33"/>
<rect x="469.7" y="860.9" width="37.6" height="91.1" fill="#eea842"/>
<rect x="469.7" y="952" width="37.6" height="194.6" fill="#b6d9e9"/>
<rect x="544.5" y="794.5" width="37.6" height="47.8" fill="#652117"/>
<rect x="544.5" y="842.3" width="37.6" height="38.2" fill="#db3c33"/>
<rect x="544.5" y="880.6" width="37.6" height="83.2" fill="#eea842"/>
<rect x="544.5" y="963.8" width="37.6" height="182.8" fill="#b6d9e9"/>
<path d="M444.1 777.5V1164.4H607.5" stroke="#000" stroke-width="2.7" fill="none"/>
<path d="M435.9 1146.6L443 1146.6" stroke="#444" stroke-width="3"/>
<text x="377" y="1159.7" font-size="29.6" textLength="53.2" lengthAdjust="spacingAndGlyphs">0.00</text>
<path d="M435.9 1058.6L443 1058.6" stroke="#444" stroke-width="3"/>
<text x="377" y="1071.7" font-size="29.6" textLength="53.2" lengthAdjust="spacingAndGlyphs">0.25</text>
<path d="M435.9 970.5L443 970.5" stroke="#444" stroke-width="3"/>
<text x="377" y="983.6" font-size="29.6" textLength="53.2" lengthAdjust="spacingAndGlyphs">0.50</text>
<path d="M435.9 882.5L443 882.5" stroke="#444" stroke-width="3"/>
<text x="377" y="895.6" font-size="29.6" textLength="53.2" lengthAdjust="spacingAndGlyphs">0.75</text>
<path d="M435.9 794.5L443 794.5" stroke="#444" stroke-width="3"/>
<text x="377" y="807.6" font-size="29.6" textLength="53.2" lengthAdjust="spacingAndGlyphs">1.00</text>
<path d="M488.5 1165.6L488.5 1171.2" stroke="#444" stroke-width="3"/>
<text transform="translate(473.5 1197) rotate(45)" font-size="32.3">Healthy control</text>
<path d="M563.3 1165.6L563.3 1171.2" stroke="#444" stroke-width="3"/>
<text transform="translate(548.3 1197) rotate(45)" font-size="32.3">ACPA+ RA</text>
<text transform="translate(354.8 1115.5) rotate(-90)" font-size="36" textLength="271" lengthAdjust="spacingAndGlyphs">Clone proportion</text>
<rect x="620.6" y="793.2" width="33" height="33.4" fill="#652117"/>
<text x="664.8" y="816.5" font-size="29" textLength="172" lengthAdjust="spacingAndGlyphs">Large (X&gt;20)</text>
<rect x="620.6" y="829.7" width="33" height="33.4" fill="#db3c33"/>
<text x="664.8" y="853" font-size="29" textLength="239" lengthAdjust="spacingAndGlyphs">Medium (20&gt;X≧5)</text>
<rect x="620.6" y="866.2" width="33" height="33.4" fill="#eea842"/>
<text x="664.8" y="889.5" font-size="29" textLength="191.3" lengthAdjust="spacingAndGlyphs">Small (5&gt;X≧2)</text>
<rect x="620.6" y="902.7" width="33" height="33.4" fill="#b6d9e9"/>
<text x="664.8" y="926" font-size="29" textLength="204" lengthAdjust="spacingAndGlyphs">Singleton (X=1)</text>
<text x="938.8" y="670.4" font-size="36" font-weight="bold" textLength="22" lengthAdjust="spacingAndGlyphs">d</text>
<text x="1024" y="699" font-size="36.3" textLength="772" lengthAdjust="spacingAndGlyphs">Frequency of clonally expanded CD8<tspan dy="-13.1" font-size="21.8">+</tspan><tspan dy="13.1"> T cells</tspan></text>
<text x="1047" y="758.6" font-size="35.5" font-weight="bold" font-style="italic" textLength="246" lengthAdjust="spacingAndGlyphs">GZMB<tspan dy="-12.8" font-size="21.3">+</tspan><tspan dy="12.8"> GNLY</tspan><tspan dy="-12.8" font-size="21.3">+</tspan></text>
<text x="1463.5" y="758.6" font-size="35.5" font-weight="bold" font-style="italic" textLength="120" lengthAdjust="spacingAndGlyphs">GZMK<tspan dy="-12.8" font-size="21.3">+</tspan></text>
<rect x="1085.6" y="1064" width="20.2" height="82.4" fill="#652117"/>
<rect x="1105.8" y="1091" width="20.2" height="55.4" fill="#db3c33"/>
<rect x="1126" y="1093.5" width="20.2" height="52.9" fill="#eea842"/>
<rect x="1146.2" y="1068.3" width="20.2" height="78.1" fill="#b6d9e9"/>
<rect x="1186.1" y="796" width="20.2" height="350.4" fill="#652117"/>
<rect x="1206.3" y="1037.7" width="20.2" height="108.7" fill="#db3c33"/>
<rect x="1226.5" y="1029.7" width="20.2" height="116.7" fill="#eea842"/>
<rect x="1246.7" y="1037.7" width="20.2" height="108.7" fill="#b6d9e9"/>
<path d="M1065.5 779V1163.5H1286.6" stroke="#000" stroke-width="4.2" stroke-linejoin="round" fill="none"/>
<path d="M1054.8 1146.4L1063.5 1146.4" stroke="#444" stroke-width="3.7"/>
<text x="1048.6" y="1157.2" font-size="30.2" text-anchor="end" textLength="15.5" lengthAdjust="spacingAndGlyphs">0</text>
<path d="M1054.8 1072.3L1063.5 1072.3" stroke="#444" stroke-width="3.7"/>
<text x="1048.6" y="1083.1" font-size="30.2" text-anchor="end" textLength="46.5" lengthAdjust="spacingAndGlyphs">250</text>
<path d="M1054.8 998.6L1063.5 998.6" stroke="#444" stroke-width="3.7"/>
<text x="1048.6" y="1009.4" font-size="30.2" text-anchor="end" textLength="46.5" lengthAdjust="spacingAndGlyphs">500</text>
<path d="M1054.8 925.1L1063.5 925.1" stroke="#444" stroke-width="3.7"/>
<text x="1048.6" y="935.9" font-size="30.2" text-anchor="end" textLength="46.5" lengthAdjust="spacingAndGlyphs">750</text>
<path d="M1054.8 851.5L1063.5 851.5" stroke="#444" stroke-width="3.7"/>
<text x="1048.6" y="862.3" font-size="30.2" text-anchor="end" textLength="62" lengthAdjust="spacingAndGlyphs">1000</text>
<path d="M1125.7 1165.5L1125.7 1171.2" stroke="#444" stroke-width="4"/>
<text transform="translate(1110.7 1197) rotate(45)" font-size="32.3">Healthy control</text>
<path d="M1226.7 1165.5L1226.7 1171.2" stroke="#444" stroke-width="4"/>
<text transform="translate(1211.7 1197) rotate(45)" font-size="32.3">ACPA+ RA</text>
<text transform="translate(970 1112.5) rotate(-90)" font-size="36" textLength="265" lengthAdjust="spacingAndGlyphs">Clone frequency</text>
<rect x="1453.5" y="1118" width="20.2" height="28.4" fill="#652117"/>
<rect x="1473.7" y="1104.5" width="20.2" height="41.9" fill="#db3c33"/>
<rect x="1493.9" y="1048.7" width="20.2" height="97.7" fill="#eea842"/>
<rect x="1514.1" y="937.8" width="20.2" height="208.6" fill="#b6d9e9"/>
<rect x="1554.6" y="1055.5" width="20.2" height="90.9" fill="#652117"/>
<rect x="1574.8" y="1073.2" width="20.2" height="73.2" fill="#db3c33"/>
<rect x="1595" y="988" width="20.2" height="158.4" fill="#eea842"/>
<rect x="1615.2" y="796.3" width="20.2" height="350.1" fill="#b6d9e9"/>
<path d="M1433.4 779V1163.5H1655" stroke="#000" stroke-width="4.2" stroke-linejoin="round" fill="none"/>
<path d="M1423.1 1146.4L1431.4 1146.4" stroke="#444" stroke-width="3.7"/>
<text x="1415.9" y="1157.2" font-size="30.2" text-anchor="end" textLength="15.9" lengthAdjust="spacingAndGlyphs">0</text>
<path d="M1423.1 1040.2L1431.4 1040.2" stroke="#444" stroke-width="3.7"/>
<text x="1415.9" y="1051" font-size="30.2" text-anchor="end" textLength="47.7" lengthAdjust="spacingAndGlyphs">200</text>
<path d="M1423.1 933.5L1431.4 933.5" stroke="#444" stroke-width="3.7"/>
<text x="1415.9" y="944.3" font-size="30.2" text-anchor="end" textLength="47.7" lengthAdjust="spacingAndGlyphs">400</text>
<path d="M1423.1 826.9L1431.4 826.9" stroke="#444" stroke-width="3.7"/>
<text x="1415.9" y="837.7" font-size="30.2" text-anchor="end" textLength="47.7" lengthAdjust="spacingAndGlyphs">600</text>
<path d="M1494 1165.5L1494 1171.2" stroke="#444" stroke-width="4"/>
<text transform="translate(1479 1197) rotate(45)" font-size="32.3">Healthy control</text>
<path d="M1595 1165.5L1595 1171.2" stroke="#444" stroke-width="4"/>
<text transform="translate(1580 1197) rotate(45)" font-size="32.3">ACPA+ RA</text>
<text transform="translate(1342.6 1112.5) rotate(-90)" font-size="36" textLength="265" lengthAdjust="spacingAndGlyphs">Clone frequency</text>
<rect x="1657.5" y="781.8" width="33" height="33" fill="#652117"/>
<text x="1701" y="805.8" font-size="29" textLength="171" lengthAdjust="spacingAndGlyphs">Large (X&gt;20)</text>
<rect x="1657.5" y="818.2" width="33" height="33" fill="#db3c33"/>
<text x="1701" y="842.2" font-size="29" textLength="239" lengthAdjust="spacingAndGlyphs">Medium (20&gt;X≧5)</text>
<rect x="1657.5" y="854.6" width="33" height="33" fill="#eea842"/>
<text x="1701" y="878.6" font-size="29" textLength="191.2" lengthAdjust="spacingAndGlyphs">Small (5&gt;X≧2)</text>
<rect x="1657.5" y="891" width="33" height="33" fill="#b6d9e9"/>
<text x="1701" y="915" font-size="29" textLength="203.4" lengthAdjust="spacingAndGlyphs">Singleton (X=1)</text>
<text x="2.6" y="1375.7" font-size="36" font-weight="bold" textLength="20.6" lengthAdjust="spacingAndGlyphs">e</text>
<text x="516.3" y="1445.1" font-size="38.3" font-weight="bold" textLength="197.1" lengthAdjust="spacingAndGlyphs">ACPA+ RA</text>
<text x="1325.2" y="1437.8" font-size="38.3" font-weight="bold" textLength="138.1" lengthAdjust="spacingAndGlyphs">Healthy</text>
<rect x="1423.3" y="1453.2" width="3" height="1.4" fill="#444"/>
<defs><filter id="hb" filterUnits="userSpaceOnUse" x="100" y="1400" width="1500" height="1100"><feGaussianBlur stdDeviation="0.45 0.001"/></filter><clipPath id="hc"><rect x="103" y="1450" width="1031" height="1040"/><rect x="1137" y="1450" width="455" height="1040"/></clipPath></defs>
<g clip-path="url(#hc)">
<rect x="103" y="1459.2" width="198" height="20.9" fill="#701a05"/>
<rect x="301" y="1459.2" width="80" height="20.9" fill="#fe0016"/>
<rect x="381" y="1459.2" width="127" height="20.9" fill="#ffa514"/>
<rect x="508" y="1459.2" width="626" height="20.9" fill="#add8e6"/>
<rect x="1137" y="1459.2" width="55" height="20.9" fill="#701a05"/>
<rect x="1192" y="1459.2" width="41" height="20.9" fill="#fe0016"/>
<rect x="1233" y="1459.2" width="73" height="20.9" fill="#ffa514"/>
<rect x="1306" y="1459.2" width="286" height="20.9" fill="#add8e6"/>
<rect x="103" y="1486.6" width="1031" height="20.9" fill="#fe0016"/>
<rect x="1137" y="1486.6" width="455" height="20.9" fill="#0000fe"/>
<g stroke-width="20.9" fill="none"><path d="M103 1524.4h476" stroke="#2583ee" stroke-dasharray="43 38 14 6 8 19 9 8 8 15 10 12 1 17 6 10 2 6 4 3 15 2 2 2 5 1 1 23 3 2 8 3 17 3 2 3 7 8 10 9 2 8 2 1 3 10 3 11 71 9999"/><path d="M146 1524.4h837" stroke="#fdbf6f" stroke-dasharray="14 59 7 2 3 50 12 29 1 18 1 28 2 34 1 20 1 19 2 26 3 7 8 465 25 9999"/><path d="M160 1524.4h479" stroke="#e31a1c" stroke-dasharray="6 131 1 32 2 49 5 73 1 12 3 5 1 98 60 9999"/><path d="M166 1524.4h739" stroke="#138a13" stroke-dasharray="18 56 6 77 1 1 1 6 1 6 2 47 5 14 2 37 1 15 3 19 1 8 1 145 266 9999"/><path d="M198 1524.4h936" stroke="#ff1493" stroke-dasharray="6 22 2 28 15 27 5 21 1 48 8 5 1 9 2 28 1 692 15 9999"/><path d="M212 1524.4h859" stroke="#f0e68c" stroke-dasharray="7 114 2 106 2 27 2 25 2 6 3 522 41 9999"/><path d="M246 1524.4h784" stroke="#b3b3b3" stroke-dasharray="2 46 3 71 1 62 3 549 47 9999"/><path d="M303 1524.4h620" stroke="#90ee90" stroke-dasharray="8 154 3 446 9 9999"/><path d="M317 1524.4h802" stroke="#ff80f0" stroke-dasharray="5 4 1 30 2 101 2 37 6 590 24 9999"/><path d="M329 1524.4h629" stroke="#cab2d6" stroke-dasharray="1 42 1 14 1 40 1 14 3 477 35 9999"/><path d="M361 1524.4h734" stroke="#b03060" stroke-dasharray="2 708 24 9999"/><path d="M905 1524.4h9" stroke="#fb9a99"/><path d="M1137 1524.4h271" stroke="#ffd700" stroke-dasharray="7 44 11 13 1 2 1 7 2 16 7 2 5 23 6 58 66 9999"/><path d="M1144 1524.4h198" stroke="#000" stroke-dasharray="6 30 4 20 5 9 5 2 13 10 2 5 8 7 4 48 20 9999"/><path d="M1150 1524.4h167" stroke="#6a3d9a" stroke-dasharray="11 38 3 7 3 95 10 9999"/><path d="M1161 1524.4h355" stroke="#7cb9e8" stroke-dasharray="12 5 2 4 4 50 3 22 7 14 10 114 108 9999"/><path d="M1173 1524.4h419" stroke="#00f" stroke-dasharray="5 24 2 9 2 1 2 56 4 16 13 209 76 9999"/><path d="M1317 1524.4h5" stroke="#ff7f00"/></g>
<g stroke-width="20.9" fill="none"><path d="M103 1551.8h1462" stroke="#2484f0" stroke-dasharray="38 1 10 1 5 1 9 2 22 16 6 1 4 1 12 1 3 3 38 1 3 4 3 2 1 2 2 1 8 6 1 1 9 6 10 2 1 6 2 1 4 3 1 1 4 3 2 5 4 2 3 3 1 2 3 1 2 1 1 22 8 4 10 2 1 5 2 8 1 3 1 2 2 1 2 3 1 2 1 5 1 3 4 4 8 6 1 7 1 8 1 9 3 7 1 2 1 11 1 7 1 7 1 13 1 7 1 13 1 7 1 2 1 4 1 31 2 14 2 35 1 15 1 15 1 9 1 10 1 6 1 41 1 6 1 5 1 16 1 5 1 5 1 37 1 17 2 1 1 5 1 26 1 1 1 17 1 5 1 12 1 3 2 5 1 11 1 28 1 27 1 17 1 2 2 8 1 6 1 7 1 10 2 16 7 2 3 3 12 1 1 2 8 1 3 2 5 21 1 7 1 1 4 6 1 2 1 2 2 6 1 1 2 2 1 7 5 1 1 1 2 2 1 1 1 6 1 25 1 13 1 3 1 41 1 8 1 7 1 4 1 22 1 8 1 38 1 1 1 35 1 36 2 7 1 17 2 9999"/><path d="M141 1551.8h1444" stroke="#fce418" stroke-dasharray="1 94 3 56 1 11 3 34 2 9 1 1 1 4 2 6 2 25 2 47 1 8 1 27 2 6 2 20 1 91 1 345 1 123 1 61 2 32 2 61 1 164 1 76 1 36 1 70 1 9999"/><path d="M152 1551.8h1425" stroke="#703f98" stroke-dasharray="1 40 9 2 4 6 1 17 1 48 4 3 2 1 1 19 1 9 4 18 1 10 1 13 2 13 1 1 1 23 1 1 2 15 1 27 1 5 1 10 2 30 2 4 1 20 1 5 1 1 1 7 1 9 1 11 2 10 1 30 1 10 1 8 1 2 1 4 2 31 1 15 1 12 1 2 1 39 1 3 1 31 1 10 1 13 1 18 1 8 1 11 1 4 1 40 1 28 1 5 1 6 1 23 1 36 1 2 1 1 1 24 1 4 1 54 1 19 1 10 2 10 1 10 1 13 1 14 1 15 2 5 3 1 1 4 1 4 3 7 1 12 4 4 2 6 2 8 4 1 1 5 1 4 2 3 2 6 1 2 6 8 2 57 1 71 1 25 2 34 1 24 1 9 1 11 1 9 1 4 1 1 1 3 1 9 1 3 1 9999"/><path d="M158 1551.8h1422" stroke="#fb7901" stroke-dasharray="1 9 2 32 2 88 1 55 1 4 1 45 2 9 1 2 2 43 1 20 2 27 1 11 1 1 1 30 1 2 1 7 1 1 1 17 2 20 1 7 1 10 1 6 1 4 1 7 1 10 1 6 1 30 1 2 1 36 2 22 1 2 1 33 1 6 1 6 1 9 1 4 1 5 1 27 1 7 1 11 1 4 1 2 1 10 1 12 1 5 1 2 1 10 1 6 1 5 1 13 2 1 1 2 1 1 1 9 2 9 1 3 1 2 1 6 1 10 2 4 1 2 1 6 1 1 1 2 1 1 2 6 1 6 2 1 1 2 1 5 1 1 1 6 1 1 1 7 1 19 1 7 2 13 1 2 1 1 1 80 1 58 1 5 1 32 1 7 1 2 1 11 2 5 1 2 1 23 1 9 1 3 1 16 1 1 1 22 1 4 1 7 1 9 2 5 2 13 1 7 1 7 1 2 1 2 1 5 1 8 1 1 1 5 1 1 1 4 1 21 1 2 1 9 1 7 1 5 1 4 1 7 1 9999"/><path d="M192 1551.8h1339" stroke="#4860c6" stroke-dasharray="1 84 1 26 3 69 1 113 1 55 1 378 1 157 1 9 1 133 1 20 1 54 1 54 1 171 1 9999"/><path d="M219 1551.8h1274" stroke="#90927b" stroke-dasharray="1 120 3 58 2 4 2 7 1 84 2 340 1 103 1 24 1 6 1 22 1 2 1 13 1 40 1 59 1 18 1 55 1 99 2 2 2 19 1 2 2 132 1 34 1 9999"/><path d="M325 1551.8h1258" stroke="#e4181e" stroke-dasharray="2 63 1 2 1 11 2 35 1 2 1 17 1 7 1 4 1 37 1 4 1 5 1 17 1 34 1 16 1 6 1 45 1 5 1 44 1 9 1 3 1 1 1 20 1 15 1 13 2 11 1 85 1 6 1 72 1 43 1 58 1 13 1 1 1 1 1 9 1 19 2 18 1 4 1 19 1 7 2 51 2 6 3 1 2 3 2 1 1 5 1 6 1 5 2 11 1 4 1 23 1 9 2 2 2 6 1 10 1 4 1 17 1 2 1 3 1 37 1 17 1 9 1 3 1 29 1 33 1 2 1 16 1 15 1 29 1 1 1 29 1 3 1 9999"/><path d="M337 1551.8h1255" stroke="#128a12" stroke-dasharray="2 25 1 2 1 9 1 37 1 9 3 11 1 11 2 13 1 15 1 6 1 13 2 4 1 2 1 3 2 3 1 1 1 4 1 1 1 8 1 2 1 6 1 1 2 1 2 1 1 2 3 2 1 2 1 4 2 1 2 2 1 5 3 2 1 1 2 6 1 1 1 4 3 1 1 2 1 1 2 1 2 1 1 2 1 2 1 4 1 3 1 4 2 1 2 1 5 1 1 1 2 3 1 2 1 1 1 1 5 3 2 2 6 1 2 1 2 3 1 3 3 4 2 2 1 2 1 1 3 1 6 1 1 3 1 5 7 1 1 1 2 2 1 1 1 1 3 2 1 2 2 3 1 1 1 2 2 5 2 1 4 2 3 2 1 1 3 1 2 1 4 1 1 1 4 1 4 1 1 1 2 1 1 2 2 1 1 2 1 1 2 1 1 1 2 2 2 2 1 1 1 1 1 1 1 3 1 1 4 3 2 1 1 2 4 3 2 1 1 2 2 1 3 2 2 1 10 1 1 4 1 3 1 4 2 1 2 1 1 1 4 1 1 1 2 1 2 3 1 2 1 3 1 2 1 7 1 1 2 3 1 8 1 1 4 2 1 5 1 2 1 5 1 3 1 7 1 5 1 2 2 4 1 2 1 2 1 1 1 1 2 1 1 9 2 1 1 1 1 9 1 5 1 2 2 3 1 1 1 5 2 2 2 5 4 7 1 2 1 3 1 2 1 4 1 2 3 22 2 24 1 16 3 16 2 24 2 6 2 26 1 1 1 3 1 18 1 4 1 1 1 5 1 7 1 1 2 6 2 1 1 2 1 1 1 3 1 1 1 3 3 1 1 1 1 1 2 3 1 2 1 2 2 5 2 1 1 4 1 1 1 1 4 3 1 2 1 1 1 4 1 1 2 2 1 4 1 1 1 1 2 4 1 5 5 1 2 2 1 1 1 1 1 3 1 2 1 5 1 3 1 3 1 1 1 1 2 1 3 5 2 2 3 3 1 1 2 2 1 4 4 1 1 6 1 1 2 1 2 7 2 6 1 2 1 6 1 2 3 1 1 1 1 5 1 2 3 2 1 3 1 3 1 1 1 2 2 1 3 9999"/><path d="M381 1551.8h1155" stroke="#3c6654" stroke-dasharray="1 168 1 12 1 15 1 1 1 22 1 34 1 26 1 1 1 24 1 35 1 32 1 29 1 55 1 31 1 36 1 52 1 38 1 187 1 135 1 11 1 2 1 7 1 24 1 23 1 22 1 25 1 50 1 21 1 7 1 9999"/><path d="M382 1551.8h1207" stroke="#1e847e" stroke-dasharray="1 12 2 6 2 38 2 84 1 15 1 23 1 2 1 43 1 11 1 32 1 48 1 38 1 9 1 17 1 10 1 51 1 19 1 93 1 7 1 6 1 11 1 22 1 1 1 9 1 5 1 14 1 13 1 7 1 19 1 31 1 2 1 191 1 3 1 21 1 32 1 10 1 41 1 12 1 16 1 39 1 45 1 14 1 25 1 12 1 9999"/><path d="M386 1551.8h1200" stroke="#af4853" stroke-dasharray="1 72 2 16 2 31 1 169 1 88 1 100 1 8 1 40 1 52 1 3 1 121 1 33 1 144 1 1 1 5 1 99 1 17 1 10 1 98 1 13 1 15 1 40 1 9999"/><path d="M440 1551.8h151" stroke="#b4905a" stroke-dasharray="1 149 1 9999"/><path d="M449 1551.8h1019" stroke="#8ab418" stroke-dasharray="2 501 1 514 1 9999"/><path d="M453 1551.8h1128" stroke="#8a840c" stroke-dasharray="2 82 1 62 1 6 1 87 1 2 1 5 1 25 1 2 1 37 1 6 1 8 1 11 1 32 1 5 1 46 1 3 1 18 1 2 1 43 1 5 1 16 1 29 1 4 2 3 1 4 1 4 1 15 1 12 1 11 1 1 1 1 1 7 1 5 1 4 1 14 1 96 2 107 2 4 1 24 1 5 2 19 1 3 1 12 1 20 1 7 1 9 1 12 1 11 1 18 1 10 1 20 1 21 1 12 1 22 1 5 1 6 1 5 1 9999"/><path d="M469 1551.8h1079" stroke="#785418" stroke-dasharray="2 60 1 1 1 58 1 71 1 40 1 13 1 12 1 43 1 56 1 23 1 9 1 127 1 51 1 62 1 201 1 21 1 17 1 43 1 33 1 24 1 4 1 3 1 3 2 26 1 18 1 6 1 24 1 9999"/><path d="M518 1551.8h883" stroke="#000" stroke-dasharray="1 8 1 55 1 12 1 2 1 31 1 94 1 48 1 97 1 66 1 3 1 100 1 317 1 3 1 2 1 12 1 16 1 9999"/><path d="M526 1551.8h882" stroke="#361e4e" stroke-dasharray="1 519 1 360 1 9999"/><path d="M541 1551.8h866" stroke="#0c480c" stroke-dasharray="1 56 1 41 1 38 1 174 1 551 1 9999"/><path d="M630 1551.8h902" stroke="#782706" stroke-dasharray="1 4 1 51 1 377 1 368 1 96 1 9999"/><path d="M1329 1551.8h1" stroke="#fcae0c"/><path d="M1426 1551.8h1" stroke="#7e720c"/><path d="M1526 1551.8h1" stroke="#124278"/></g>
<g stroke-width="20.9" fill="none"><path d="M103 1579.2h1481" stroke="#a6a627" stroke-dasharray="2 2 4 18 1 38 2 10 5 48 3 4 1 35 1 3 1 4 1 5 1 3 1 4 1 16 2 25 2 8 1 3 1 9 4 4 1 4 1 2 3 4 2 8 2 21 1 64 1 5 2 3 1 16 1 6 1 1 1 6 1 13 1 2 1 12 1 8 1 13 1 7 1 8 1 22 1 6 1 21 1 9 1 5 1 12 1 2 1 3 1 1 1 2 1 3 1 10 1 11 1 5 2 2 1 12 1 12 2 1 1 6 1 12 1 3 1 4 1 2 2 16 1 3 1 8 1 32 2 5 1 17 1 10 1 4 1 2 1 8 1 10 1 2 1 1 1 8 1 8 1 1 1 3 1 199 3 4 1 16 3 18 1 12 1 21 2 3 2 39 1 31 2 12 1 11 2 1 1 4 1 8 1 2 1 14 1 6 1 9 1 1 1 10 1 4 1 3 1 2 1 16 1 2 1 11 1 4 1 3 1 4 2 8 1 1 1 6 1 26 1 9 1 4 1 1 2 5 1 2 1 9 1 16 1 3 1 3 1 4 1 1 1 7 3 9999"/><path d="M105 1579.2h1407" stroke="#4c4c12" stroke-dasharray="1 17 3 29 1 48 1 20 1 70 2 63 1 11 3 43 1 6 1 26 2 21 1 152 1 36 1 61 1 2 1 81 1 15 1 43 1 89 1 15 1 10 1 2 1 30 1 3 1 18 1 36 1 5 1 6 1 2 1 5 1 12 1 1 1 2 1 7 1 11 1 171 1 11 1 16 1 16 1 33 1 21 2 62 1 10 1 15 1 1 1 9999"/><path d="M106 1579.2h1486" stroke="#80801e" stroke-dasharray="1 10 2 11 2 1 1 30 4 27 1 4 1 1 2 9 1 57 2 20 2 12 3 15 2 7 2 47 1 19 2 12 2 2 2 10 2 5 1 6 2 10 2 6 2 2 1 1 2 24 1 1 4 3 1 4 1 24 1 5 1 12 2 7 1 3 1 9 1 10 2 2 1 12 1 1 1 3 1 3 1 5 1 12 1 2 1 2 1 6 1 10 1 2 1 5 1 11 1 9 1 5 2 2 1 13 1 4 1 4 2 20 3 12 1 17 1 1 1 1 1 3 2 26 1 15 1 3 1 6 1 2 1 6 1 2 1 5 1 2 1 5 1 1 1 2 2 40 1 4 1 7 1 6 1 3 1 4 1 5 1 123 1 1 1 10 1 33 1 15 2 12 2 10 3 1 1 7 2 6 2 18 2 12 1 7 2 10 2 10 1 20 1 7 1 2 1 7 2 4 2 5 1 17 1 6 1 7 1 14 1 2 1 1 1 7 1 3 1 2 2 3 2 10 1 3 1 8 1 12 1 2 1 9 1 5 1 5 1 8 1 3 1 5 1 4 2 28 1 2 2 11 1 7 1 6 1 2 1 15 2 6 1 17 1 5 1 6 1 1 1 3 1 9999"/><path d="M111 1579.2h1479" stroke="#73731b" stroke-dasharray="1 3 1 16 1 8 1 11 2 23 2 34 3 5 2 15 1 8 3 10 2 4 2 1 1 10 1 10 1 43 1 3 3 29 1 5 1 3 1 6 2 4 2 16 2 5 1 6 1 1 2 6 2 2 1 7 2 32 2 5 1 14 2 5 1 30 1 2 1 4 1 1 2 10 1 5 1 10 2 4 1 12 1 2 1 2 1 8 1 2 1 3 1 12 1 1 1 7 1 4 1 11 1 17 1 12 1 2 1 5 1 5 1 27 1 15 1 1 1 1 2 5 1 2 2 5 1 2 1 6 1 16 2 8 1 3 1 11 1 7 1 7 1 20 1 6 1 8 1 8 1 14 1 3 1 3 2 21 1 4 1 5 1 8 2 2 1 77 1 6 1 92 2 18 1 7 2 6 1 11 2 2 1 24 2 3 2 28 2 8 1 3 2 10 1 28 1 43 1 12 1 2 2 2 1 14 2 7 1 32 1 28 1 17 1 5 1 12 1 43 2 2 1 10 2 5 1 5 1 11 1 3 2 3 1 4 1 9999"/><path d="M112 1579.2h1479" stroke="#b2b22a" stroke-dasharray="1 15 1 60 3 1 2 10 3 35 2 57 1 11 2 3 2 22 1 135 3 16 1 37 1 15 1 25 1 2 1 3 1 11 1 4 1 24 1 2 2 2 1 21 1 3 1 16 1 8 1 1 1 1 1 4 1 11 1 6 1 17 1 10 1 7 1 20 1 2 1 17 1 2 1 2 1 3 1 30 1 7 1 12 1 26 1 1 1 8 1 1 1 21 1 5 1 14 1 5 1 194 1 19 3 12 1 41 1 10 1 17 2 13 1 5 1 2 2 12 1 13 2 19 1 6 1 7 1 8 1 4 1 3 1 1 1 4 1 1 1 55 1 28 1 2 1 7 1 14 1 9 1 1 1 2 2 1 1 5 1 5 1 30 1 9 1 17 1 15 1 13 1 9999"/><path d="M113 1579.2h1426" stroke="#595915" stroke-dasharray="2 1 1 41 1 4 1 32 3 21 2 32 1 19 2 37 1 7 1 9 1 35 1 26 1 13 1 6 1 48 1 28 2 14 1 18 2 5 1 13 1 39 1 19 1 2 1 9 1 29 1 16 1 5 1 9 1 18 1 3 1 13 1 18 1 12 1 1 1 22 1 88 1 12 1 3 1 2 1 12 1 28 1 10 1 19 1 14 1 20 1 3 1 9 1 3 1 37 1 1 1 7 1 4 1 4 1 14 1 25 1 2 1 8 1 1 1 132 2 2 1 1 1 3 2 16 2 20 1 22 1 34 1 27 1 9 1 6 1 18 1 6 1 33 1 5 1 11 1 5 1 39 1 9999"/><path d="M119 1579.2h1441" stroke="#666618" stroke-dasharray="4 20 3 39 3 38 2 4 1 18 1 35 1 15 1 7 1 16 3 17 2 12 2 2 1 20 1 23 2 15 1 13 1 15 1 10 2 11 1 3 1 10 1 18 1 4 2 36 1 2 1 6 1 4 3 19 1 20 1 14 1 9 1 69 1 2 1 19 2 29 1 20 1 21 1 4 1 11 1 1 1 1 1 17 1 71 1 7 1 2 1 1 1 15 1 23 1 31 1 14 1 33 1 58 1 1 1 46 1 15 1 3 2 38 1 57 1 3 1 28 1 7 1 5 1 22 1 21 2 19 1 4 1 9 1 1 1 12 1 14 1 18 1 55 1 3 2 6 1 17 1 1 1 9 1 3 1 9999"/><path d="M126 1579.2h1461" stroke="#999924" stroke-dasharray="2 6 7 1 1 3 2 22 3 3 2 21 1 9 4 32 1 42 2 11 1 8 1 11 2 8 2 3 2 11 3 2 1 8 1 12 1 10 1 18 1 8 1 14 2 2 2 9 1 4 2 2 1 9 2 18 1 5 2 14 1 2 2 6 1 11 1 6 1 22 1 3 1 2 2 18 1 10 3 10 1 1 1 14 1 18 1 1 1 23 1 2 1 47 2 8 1 5 1 11 1 25 1 25 1 1 1 3 1 11 2 12 1 2 1 1 1 8 3 7 2 8 1 5 1 9 2 2 1 5 1 8 2 7 1 11 1 10 1 12 1 192 1 5 2 12 2 16 1 24 1 3 4 11 1 8 2 7 2 3 1 30 1 1 1 4 1 8 2 6 1 8 1 2 1 6 1 14 1 38 1 8 1 15 3 9 1 1 1 10 3 12 1 1 1 18 1 10 1 10 1 3 1 13 1 2 1 4 1 18 1 4 1 14 1 11 1 3 1 1 1 1 1 16 1 9999"/><path d="M148 1579.2h975" stroke="#262609" stroke-dasharray="5 8 2 92 1 416 1 28 1 8 1 121 1 42 1 33 1 56 1 1 2 1 1 8 1 6 1 1 1 2 1 7 1 1 2 2 1 9 1 1 1 2 2 6 1 4 1 3 1 6 1 4 1 5 1 1 2 1 2 4 1 2 1 10 1 3 1 1 1 11 1 2 1 1 1 2 1 2 1 9 1 1 1 9999"/><path d="M156 1579.2h1342" stroke="#1a1a06" stroke-dasharray="1 60 2 46 2 571 1 121 1 4 1 4 1 1 1 4 1 3 3 10 2 11 2 5 1 2 1 8 2 5 1 6 2 22 2 3 1 1 1 2 1 14 1 6 1 11 1 7 1 10 1 1 1 367 1 9999"/><path d="M157 1579.2h1350" stroke="#33330c" stroke-dasharray="1 72 2 20 1 3 4 3 2 21 1 11 2 65 1 57 1 96 1 20 1 111 1 25 1 37 1 149 1 11 1 78 1 5 1 2 1 6 2 2 1 6 2 4 1 20 1 22 1 10 1 1 1 3 1 13 1 9 1 5 1 10 1 1 1 2 1 10 1 13 1 6 1 354 1 20 1 9999"/><path d="M159 1579.2h954" stroke="#0d0d03" stroke-dasharray="2 68 1 227 1 526 1 3 1 9 1 52 1 5 1 19 1 1 1 31 2 9999"/><path d="M173 1579.2h1392" stroke="#cccc30" stroke-dasharray="3 77 1 202 1 20 2 63 1 41 1 8 1 45 1 80 1 77 1 20 1 11 1 125 1 259 2 89 1 102 1 9 2 101 1 39 1 9999"/><path d="M188 1579.2h1381" stroke="#8c8c21" stroke-dasharray="1 3 1 8 1 6 1 27 3 7 2 25 1 4 2 24 3 5 1 3 1 22 1 6 2 8 2 1 2 36 2 11 1 14 1 13 1 21 3 8 1 2 1 11 2 30 1 11 2 6 2 4 1 2 1 12 1 15 1 1 1 10 1 14 2 8 1 4 1 4 1 9 1 8 2 8 1 2 1 1 1 2 1 4 1 6 1 3 1 4 1 5 1 16 1 11 2 22 1 2 1 1 1 22 2 8 1 37 1 1 1 19 1 8 1 6 1 5 1 6 1 22 1 10 1 3 1 7 1 2 1 2 1 7 1 12 1 9 2 85 1 52 1 47 1 4 4 21 1 24 1 1 1 4 4 17 2 1 1 1 1 10 2 6 1 3 2 1 3 11 1 4 1 2 1 1 1 12 2 8 2 4 1 6 1 2 1 2 1 9 1 1 1 7 2 2 1 1 1 19 1 11 1 2 1 4 1 1 1 1 1 3 1 4 1 35 1 3 1 6 1 3 1 1 1 7 1 2 3 3 1 5 2 2 1 10 1 12 1 3 1 7 2 6 1 2 1 6 1 3 1 6 1 3 1 3 1 3 1 11 1 9999"/><path d="M219 1579.2h913" stroke="#000" stroke-dasharray="1 789 1 62 1 10 1 47 1 9999"/><path d="M224 1579.2h1365" stroke="#40400f" stroke-dasharray="1 3 1 31 1 8 1 12 3 108 1 49 3 69 1 9 1 29 1 112 1 75 1 28 1 18 1 15 1 37 1 6 1 43 1 18 1 45 1 33 1 2 1 4 1 5 1 2 1 5 1 3 1 1 1 4 3 3 1 5 2 5 1 10 1 14 1 10 1 7 1 6 1 1 1 1 1 12 1 14 1 38 1 19 3 161 1 183 1 29 1 6 1 10 1 9999"/><path d="M241 1579.2h1334" stroke="#bfbf2d" stroke-dasharray="2 34 1 46 1 2 1 71 2 8 1 104 1 8 1 10 1 21 1 16 1 47 1 19 1 6 1 9 1 46 1 7 1 24 2 25 1 10 1 11 1 8 1 9 1 16 1 66 1 6 1 1 1 9 1 23 1 263 4 31 1 23 2 28 2 30 1 6 1 2 1 19 1 13 1 42 1 17 1 6 1 2 1 2 1 9 1 46 1 13 1 44 1 20 1 9999"/><path d="M290 1579.2h1093" stroke="#d9d933" stroke-dasharray="1 62 1 25 2 24 2 354 1 59 1 23 1 308 1 29 1 5 2 46 1 66 1 76 1 9999"/><path d="M527 1579.2h279" stroke="#e6e636" stroke-dasharray="1 152 1 119 1 4 1 9999"/></g>
<g stroke-width="20.9" fill="none"><path d="M103 1606.6h802" stroke="#b0776f" stroke-dasharray="8 1 1 6 4 6 3 1 4 2 3 22 6 6 4 7 1 5 6 10 4 13 2 5 6 2 2 3 5 1 1 1 1 1 2 2 1 1 3 2 2 9 2 1 1 3 3 2 1 2 3 4 1 9 1 2 1 8 6 2 1 4 1 3 4 3 2 2 2 4 2 7 1 2 2 2 5 2 3 8 1 2 2 2 6 4 2 1 1 2 3 7 2 4 4 2 2 2 1 1 2 2 4 2 2 2 1 1 2 2 2 1 1 2 6 2 2 2 2 1 3 2 8 4 4 6 1 1 1 2 2 6 4 1 1 2 1 5 1 2 3 1 1 2 1 1 2 3 2 1 2 5 1 1 3 2 1 2 5 2 1 1 2 2 1 4 1 1 4 1 2 2 1 1 3 6 5 3 1 3 2 2 1 3 1 2 1 2 1 1 1 1 1 7 1 4 1 2 2 1 1 3 1 2 2 1 1 5 2 4 1 3 3 1 4 2 1 3 2 2 1 4 1 5 8 3 1 1 1 1 1 2 6 2 2 9 1 1 1 2 3 1 1 1 4 1 3 2 1 1 1 1 1 1 8 7 4 2 1 2 2 1 1 1 1 2 2 1 1 5 1 6 2 3 1 3 2 3 1 2 1 3 5 2 1 1 1 1 1 1 1 2 1 3 2 4 1 6 3 3 1 2 2 1 3 1 6 9999"/><path d="M111 1606.6h788" stroke="#ac6c62" stroke-dasharray="1 30 1 29 1 19 1 6 3 27 4 6 2 2 2 13 2 1 1 3 2 3 1 3 4 13 1 4 2 5 4 5 1 1 2 1 2 2 1 9 1 5 2 9 2 4 1 9 1 12 1 5 5 3 2 12 2 10 2 6 1 14 1 8 2 8 2 2 1 21 2 10 2 4 5 2 1 1 1 3 1 2 3 7 1 3 1 1 1 6 1 1 1 5 3 6 2 1 1 1 1 7 1 5 1 6 1 2 3 1 1 8 1 6 3 7 1 3 2 3 2 3 1 1 1 2 2 1 1 1 1 1 1 2 2 1 1 1 1 1 1 2 2 8 1 5 2 2 1 4 1 3 2 3 1 4 2 1 1 4 2 1 2 1 1 1 1 3 1 12 1 3 1 8 1 2 1 1 1 1 5 1 1 1 2 3 1 1 1 4 1 3 2 3 1 1 1 13 1 5 2 1 1 3 1 1 1 2 1 2 1 4 1 3 1 1 1 1 1 2 2 7 2 2 2 1 1 7 2 1 1 1 1 4 1 1 1 5 3 1 3 1 2 3 1 1 1 2 1 2 1 3 1 9999"/><path d="M113 1606.6h778" stroke="#a86056" stroke-dasharray="2 2 2 89 1 36 1 70 1 15 2 21 1 47 2 6 2 105 1 7 1 5 1 1 1 12 1 10 1 12 1 12 1 12 1 2 1 23 1 21 1 6 1 11 1 9 2 3 1 20 1 7 1 3 2 10 2 4 1 2 1 60 1 15 1 9 1 3 1 10 1 11 1 20 1 2 1 14 1 2 1 9999"/><path d="M115 1606.6h766" stroke="#b5827c" stroke-dasharray="1 7 5 4 1 10 3 17 1 9 3 4 5 3 1 16 3 20 1 24 1 15 1 1 3 6 1 1 3 3 2 2 1 5 2 2 1 4 3 18 2 6 1 6 1 8 2 4 6 2 2 14 1 5 1 6 2 12 1 6 1 2 4 3 3 4 2 8 2 8 2 1 1 8 2 6 2 2 2 2 1 13 2 11 1 4 1 14 1 2 1 5 2 6 1 9 1 5 1 6 1 10 1 1 1 5 1 15 1 8 1 6 2 9 2 3 1 9 1 3 1 5 1 5 1 2 1 3 1 2 1 11 1 1 1 14 1 14 1 11 1 13 1 4 1 1 1 27 1 12 4 11 1 13 2 3 1 3 1 5 1 3 1 4 1 6 1 12 1 5 1 11 1 9999"/><path d="M116 1606.6h1219" stroke="#b98e88" stroke-dasharray="1 11 1 8 2 46 2 2 3 10 3 50 1 45 1 9 1 7 2 49 2 6 1 58 2 172 1 51 1 153 1 199 1 293 1 22 1 9999"/><path d="M146 1606.6h1446" stroke="#c6b0ae" stroke-dasharray="6 1 3 2 3 52 1 5 1 5 1 704 1 35 1 4 1 1 1 4 2 2 1 10 1 16 1 10 1 2 1 8 1 3 1 15 1 11 1 5 1 8 1 5 1 7 1 9 2 9 1 5 1 5 1 4 1 4 5 3 4 2 7 1 6 7 12 1 2 2 1 3 2 1 2 3 1 4 1 3 3 1 2 5 2 2 1 3 2 5 9 3 5 1 6 1 2 5 1 2 2 1 3 4 2 4 4 4 2 7 1 16 1 1 3 1 3 2 2 4 2 1 1 1 2 1 2 8 2 8 2 2 1 2 1 1 1 1 1 1 1 4 2 1 1 2 3 2 1 1 1 1 3 1 4 3 2 1 1 1 1 1 1 4 1 2 6 3 8 1 2 1 1 1 1 1 2 2 4 2 1 2 4 2 1 5 3 4 2 2 4 1 1 1 2 1 1 1 1 2 1 2 4 1 2 1 1 1 4 1 2 1 3 1 4 1 1 2 2 1 1 2 1 1 6 1 1 1 4 1 1 1 1 3 2 1 1 2 1 1 3 1 4 2 7 1 1 2 1 9999"/><path d="M152 1606.6h1439" stroke="#cabcba" stroke-dasharray="1 3 1 57 5 5 1 683 1 4 1 3 1 2 2 11 1 7 1 2 1 7 1 1 1 203 1 6 2 28 1 21 2 8 1 65 2 22 1 33 1 28 1 28 1 48 1 11 1 2 1 5 1 4 1 5 1 39 1 5 1 1 1 22 1 28 1 9999"/><path d="M157 1606.6h1385" stroke="#cfc8c6" stroke-dasharray="1 747 3 1 4 1 3 1 2 2 3 1 2 3 2 1 7 1 2 1 7 1 1 1 3 30 1 180 1 301 1 69 1 9999"/><path d="M161 1606.6h1390" stroke="#bd9a94" stroke-dasharray="2 59 2 110 1 346 1 310 1 4 1 8 1 1 2 18 1 2 1 2 1 12 1 6 1 11 1 2 1 6 1 10 1 3 2 6 1 11 1 11 1 4 2 3 1 75 1 21 3 13 1 58 4 2 1 2 2 33 1 14 1 76 1 49 1 57 1 9999"/><path d="M170 1606.6h695" stroke="#a4544a" stroke-dasharray="2 79 1 265 1 51 1 265 1 28 1 9999"/><path d="M220 1606.6h1350" stroke="#d3d3d3" stroke-dasharray="2 703 1 2 2 96 1 55 1 391 1 94 1 9999"/><path d="M344 1606.6h2" stroke="#9b3e30"/><path d="M389 1606.6h1" stroke="#9f493d"/><path d="M607 1606.6h983" stroke="#c2a5a1" stroke-dasharray="1 185 1 164 8 1 4 1 1 1 4 2 2 1 5 1 3 2 3 1 8 1 1 3 6 1 3 1 2 1 1 1 1 1 2 1 1 2 2 1 9 1 5 2 10 2 2 1 1 1 4 1 3 1 1 1 3 2 3 2 1 1 4 1 4 2 5 1 3 1 5 1 1 1 3 3 2 10 3 4 2 16 2 1 2 12 1 2 2 1 3 5 3 1 4 1 2 4 1 2 1 2 2 2 2 1 1 1 1 5 2 9 2 6 1 6 1 2 5 1 2 2 1 3 4 2 4 4 2 4 7 1 1 4 1 2 2 3 3 1 1 3 1 3 2 3 3 2 1 1 1 2 1 2 2 2 4 2 7 3 2 1 2 1 1 1 1 1 1 2 3 2 1 1 2 3 2 1 1 1 1 3 1 4 2 3 1 1 1 1 1 1 4 1 2 6 3 11 1 1 1 1 1 2 2 5 1 1 2 4 2 3 1 5 1 1 2 3 1 9 1 1 1 1 2 1 2 4 1 2 1 1 1 4 1 2 1 3 1 6 2 5 1 8 1 6 1 1 1 1 2 3 1 1 2 5 1 4 2 7 1 1 1 9999"/></g>
<g stroke-width="20.9" fill="none"><path d="M103 1634h802" stroke="#a86056" stroke-dasharray="3 1 2 8 6 3 2 1 1 2 1 30 1 6 2 1 5 2 7 2 4 3 3 2 1 3 3 1 4 13 2 1 1 3 3 3 1 11 2 1 1 1 4 3 4 2 1 7 1 2 1 10 1 4 2 5 1 10 3 2 6 3 3 1 3 2 3 14 2 1 1 8 2 2 6 3 2 3 1 4 1 1 2 2 2 4 2 5 3 2 2 11 2 9 2 4 4 4 5 11 2 7 1 2 2 4 1 1 3 8 3 4 4 1 2 1 1 2 1 2 3 3 1 1 3 2 8 1 3 2 3 1 1 1 1 3 8 1 1 1 2 3 2 2 3 1 1 1 3 3 3 2 1 2 1 4 1 3 1 1 4 2 2 2 1 1 3 2 2 1 2 2 4 1 1 1 2 1 2 3 3 1 1 2 1 3 1 1 1 3 2 3 2 1 1 2 1 4 1 2 1 1 2 1 1 2 3 2 1 1 1 1 2 1 7 2 1 1 1 3 1 3 3 2 3 1 2 1 1 1 1 2 4 2 4 1 3 2 3 1 4 1 4 2 2 2 1 1 1 1 2 3 1 6 1 1 2 2 2 5 2 2 6 1 1 1 1 1 2 1 2 1 1 1 3 2 1 5 1 4 1 2 2 2 2 1 7 2 1 1 1 1 1 3 1 3 2 3 1 1 1 1 6 3 1 1 3 1 1 1 1 5 1 9999"/><path d="M106 1634h1202" stroke="#ac6c62" stroke-dasharray="1 6 3 7 3 2 1 1 2 2 5 3 4 18 6 2 1 14 2 4 3 4 1 1 2 24 1 1 2 4 3 9 3 4 1 5 1 8 3 1 3 1 2 1 4 1 1 1 2 10 2 8 4 3 2 6 3 3 1 11 1 5 3 1 1 2 1 1 7 13 1 2 1 3 4 5 1 2 4 2 5 3 2 3 3 2 2 1 2 2 1 2 4 4 2 1 1 13 2 3 1 2 3 2 2 1 3 2 2 2 1 4 1 3 8 16 1 2 2 3 1 1 1 1 1 3 1 24 1 8 1 1 1 4 1 2 2 3 1 7 1 6 2 2 1 1 1 1 1 1 1 7 1 5 1 3 1 6 1 10 1 3 1 4 1 10 1 6 1 4 1 3 1 3 2 12 1 3 1 13 1 1 2 2 2 4 1 4 1 6 1 6 1 8 2 8 1 4 1 6 1 5 2 1 3 1 1 2 1 2 1 3 1 1 2 3 2 13 1 2 1 1 1 8 3 1 1 4 2 2 1 3 1 14 1 1 1 3 1 3 1 2 1 12 1 3 1 1 1 3 1 1 1 123 1 42 1 54 1 181 1 9999"/><path d="M109 1634h1478" stroke="#b98e88" stroke-dasharray="2 257 2 49 1 525 1 12 1 7 2 1 2 3 2 1 1 2 1 1 1 1 2 2 1 6 1 1 1 10 1 2 1 2 1 2 1 1 3 3 1 2 2 5 1 1 1 2 2 2 3 1 1 1 2 2 3 2 1 4 1 11 1 1 1 5 1 1 2 3 1 5 2 1 3 1 2 3 1 2 3 1 1 2 1 3 1 5 1 2 2 7 1 1 1 7 4 4 3 8 3 1 4 11 3 1 3 1 1 4 2 3 2 13 3 2 2 7 1 1 5 11 3 3 3 2 1 1 6 5 1 6 1 1 4 8 4 1 1 1 1 2 1 2 1 3 1 5 1 4 1 3 1 2 1 4 1 2 1 1 1 1 4 3 1 5 3 1 1 2 3 9 2 4 2 2 1 3 2 5 2 1 2 8 1 24 1 16 2 5 1 27 1 6 1 1 1 3 1 15 1 6 1 13 1 3 1 8 1 9 2 22 1 9999"/><path d="M111 1634h1389" stroke="#b0776f" stroke-dasharray="1 4 1 22 3 36 2 28 1 23 1 7 5 15 1 1 1 4 2 16 1 7 3 2 2 2 1 1 6 26 1 9 3 16 1 10 2 5 1 9 1 21 1 4 1 8 2 16 1 10 1 3 2 7 1 3 1 6 1 18 4 7 1 84 1 13 1 18 1 42 1 1 1 1 1 11 1 6 1 35 1 61 1 21 1 15 1 25 1 43 1 57 1 2 1 4 1 12 1 1 1 14 1 5 1 31 1 1 1 8 1 5 1 4 1 2 1 1 1 1 1 1 1 3 1 5 1 2 1 8 1 9 1 3 1 2 1 14 2 5 1 81 3 34 1 15 2 48 1 1 1 183 1 9999"/><path d="M112 1634h889" stroke="#a4544a" stroke-dasharray="1 20 1 27 2 41 1 40 1 27 1 13 1 2 1 1 1 42 1 4 3 1 2 36 1 7 1 50 1 7 2 8 2 22 2 24 1 5 1 7 1 20 2 5 1 2 1 14 1 11 1 3 2 4 2 6 1 3 1 2 1 8 1 10 1 10 1 5 1 1 1 5 1 3 2 1 1 2 2 2 1 4 1 7 1 4 1 2 1 1 1 4 1 15 2 5 1 3 1 4 1 8 1 2 1 4 1 5 1 8 1 13 2 13 1 1 1 9 1 2 1 10 1 15 2 1 1 6 3 6 1 11 1 1 1 1 1 2 1 7 1 1 1 3 1 6 3 9 2 99 1 9999"/><path d="M146 1634h1056" stroke="#cabcba" stroke-dasharray="6 1 2 1 3 55 3 2 7 679 1 1 2 1 2 1 7 1 2 3 3 3 4 1 2 1 1 1 2 3 1 2 8 243 1 9999"/><path d="M152 1634h1244" stroke="#c6b0ae" stroke-dasharray="1 2 1 3 2 52 1 3 2 27 2 658 1 22 1 1 1 12 1 4 1 192 1 12 2 10 2 226 1 9999"/><path d="M199 1634h1183" stroke="#b5827c" stroke-dasharray="1 152 1 187 1 75 1 6 1 11 1 16 1 1 1 46 1 257 1 1 2 1 2 5 3 2 1 1 2 6 2 1 6 1 1 2 1 3 1 1 3 1 2 1 2 1 2 1 1 3 3 1 1 3 5 4 1 2 2 5 1 2 1 4 1 2 1 1 1 3 1 1 2 2 4 3 1 1 3 1 1 2 1 1 1 1 5 10 2 1 1 4 1 1 2 1 1 3 1 1 2 2 2 52 1 11 1 32 2 35 1 6 4 5 3 6 2 15 1 1 2 2 1 10 1 55 1 9999"/><path d="M253 1634h617" stroke="#9f493d" stroke-dasharray="1 169 1 24 1 100 1 3 1 16 1 197 1 7 1 2 1 89 1 9999"/><path d="M435 1634h1151" stroke="#c2a5a1" stroke-dasharray="2 700 2 5 1 17 3 8 1 39 9 3 1 19 2 1 5 26 1 13 2 25 1 2 1 9 1 3 1 5 1 1 1 6 1 17 2 5 1 5 1 3 1 1 3 4 1 4 1 2 1 3 1 1 1 3 1 2 2 1 1 2 2 2 1 3 1 4 1 3 1 1 2 3 1 1 1 15 2 4 1 1 2 7 1 4 1 2 3 2 1 8 2 4 1 5 1 4 2 9 2 1 2 3 1 3 1 3 1 9 1 2 1 6 3 4 3 1 1 2 1 2 1 9999"/><path d="M531 1634h340" stroke="#9b3e30" stroke-dasharray="1 282 1 55 1 9999"/><path d="M666 1634h1" stroke="#973224"/><path d="M909 1634h38" stroke="#cfc8c6" stroke-dasharray="1 2 1 7 1 2 3 4 1 5 1 2 1 1 1 4 1 9999"/><path d="M948 1634h603" stroke="#d3d3d3" stroke-dasharray="1 497 1 103 1 9999"/><path d="M1001 1634h591" stroke="#bd9a94" stroke-dasharray="2 108 1 27 2 4 6 6 2 6 2 2 1 8 6 1 4 3 1 5 3 3 3 2 1 16 1 4 5 1 1 5 2 8 1 3 3 17 1 2 2 4 1 8 4 4 1 1 1 11 3 1 1 2 1 1 1 1 3 1 1 2 2 1 1 1 2 8 2 2 5 3 1 1 2 3 1 2 5 3 1 1 1 3 1 7 1 2 2 6 3 1 1 1 1 1 1 1 2 2 1 1 2 2 2 1 3 1 4 2 2 1 1 2 2 2 1 1 4 2 5 1 3 2 4 1 1 2 7 1 4 1 1 4 2 2 1 2 2 1 1 2 4 1 5 1 1 1 2 2 2 1 6 2 1 2 2 2 2 2 3 1 1 1 1 1 5 1 2 3 4 3 4 3 1 1 2 1 2 2 5 9999"/></g>
<defs><linearGradient id="ta" gradientUnits="userSpaceOnUse" x1="103" x2="1134" y1="0" y2="0"><stop offset="0.0000" stop-color="#00009c"/><stop offset="0.0844" stop-color="#00009c"/><stop offset="0.1319" stop-color="#3a1a9a"/><stop offset="0.1804" stop-color="#7a5aa8"/><stop offset="0.2444" stop-color="#a898b8"/><stop offset="0.3084" stop-color="#b8b0bc"/><stop offset="0.3928" stop-color="#bebebe"/><stop offset="1.0000" stop-color="#bebebe"/></linearGradient><linearGradient id="th" gradientUnits="userSpaceOnUse" x1="1137" x2="1592" y1="0" y2="0"><stop offset="0.0000" stop-color="#00009c"/><stop offset="0.0132" stop-color="#00009c"/><stop offset="0.0176" stop-color="#1a0a9c"/><stop offset="0.0440" stop-color="#2a1a9c"/><stop offset="0.0769" stop-color="#5a40a8"/><stop offset="0.1165" stop-color="#9080b8"/><stop offset="0.1714" stop-color="#a8a0bc"/><stop offset="0.2703" stop-color="#b4b0be"/><stop offset="0.3714" stop-color="#bebebe"/><stop offset="1.0000" stop-color="#bebebe"/></linearGradient></defs>
<rect x="103" y="1650.9" width="1031" height="20.9" fill="url(#ta)"/>
<rect x="1137" y="1650.9" width="455" height="20.9" fill="url(#th)"/>
<g filter="url(#hb)">
<rect x="103" y="1674.1" width="1031" height="26.4" fill="#521c5c"/>
<rect x="1137" y="1674.1" width="455" height="26.4" fill="#521c5c"/>
<g stroke-width="26.4" fill="none"><path d="M103 1687.3h1468" stroke="#928d18" stroke-dasharray="2 21 2 9 4 17 3 12 5 2 2 5 1 8 3 3 6 21 1 9 1 1 2 5 6 17 2 20 2 7 1 43 3 7 1 22 2 1 1 6 1 4 1 16 2 16 2 4 2 4 1 3 1 12 1 4 1 2 1 5 1 6 2 1 3 4 1 7 1 15 1 3 1 5 1 4 1 3 1 13 1 7 1 5 1 8 1 32 1 7 1 13 1 1 1 216 1 45 1 23 1 73 1 16 1 5 1 21 1 31 1 7 1 1 1 34 1 5 1 24 1 1 2 5 2 16 3 1 1 21 2 11 1 3 4 2 1 19 1 1 1 8 1 15 2 10 3 3 1 19 2 1 3 5 1 17 1 3 1 4 1 3 1 14 1 5 2 14 1 49 1 50 1 88 1 9999"/><path d="M105 1687.3h1472" stroke="#704f3f" stroke-dasharray="2 6 2 8 3 4 2 21 3 12 2 38 1 11 2 34 2 15 1 8 3 16 1 2 3 4 1 2 3 8 2 41 2 14 1 18 2 12 2 5 1 1 1 1 1 20 2 2 2 4 2 40 2 2 2 3 1 7 1 2 1 8 1 8 1 9 1 3 1 33 1 3 1 1 1 7 1 1 1 1 2 8 1 7 1 5 2 2 1 1 2 2 1 2 1 12 1 8 1 42 1 14 2 6 1 17 1 31 1 30 2 19 1 14 1 18 1 26 1 4 1 2 1 3 1 2 2 8 1 4 1 8 1 1 1 2 1 31 1 1 1 8 1 10 1 17 1 10 1 1 1 5 1 4 1 8 1 6 1 1 3 5 1 33 1 6 1 11 1 12 1 6 1 40 1 7 1 15 4 24 1 7 1 35 2 12 1 27 1 3 1 10 1 10 1 9 1 3 1 26 1 40 1 2 1 14 1 1 1 19 2 7 1 1 1 1 1 1 1 9 1 19 1 2 1 12 1 8 2 23 1 4 1 16 1 9999"/><path d="M107 1687.3h1405" stroke="#7f7b18" stroke-dasharray="2 20 1 13 3 32 2 12 1 2 1 4 1 24 1 17 2 22 2 1 1 3 2 1 3 1 1 28 1 10 1 14 3 5 2 9 1 20 1 4 1 1 1 1 1 15 2 5 1 4 3 5 2 19 1 12 1 8 1 2 4 2 2 18 2 12 1 55 1 3 1 4 1 12 1 8 1 5 1 12 1 17 1 66 1 13 1 77 1 26 1 86 1 5 1 51 1 1 1 13 1 10 1 15 1 20 1 35 2 22 1 9 1 4 2 10 1 23 2 2 1 2 1 17 1 11 1 3 3 8 1 5 1 5 1 19 1 12 1 16 2 29 1 4 2 2 2 2 2 27 1 6 1 13 1 20 1 1 1 18 1 10 1 2 1 43 1 2 1 1 1 13 1 46 1 9999"/><path d="M109 1687.3h1378" stroke="#6d6a18" stroke-dasharray="2 37 4 47 1 1 1 25 1 32 1 19 1 10 1 8 1 11 1 14 1 29 1 1 2 27 1 54 2 12 1 23 1 3 1 1 2 14 2 24 1 8 1 25 1 1 1 40 1 4 1 371 2 11 1 107 1 18 1 34 3 13 3 12 3 21 2 3 2 6 1 1 2 53 2 76 1 37 1 4 1 47 1 32 1 9999"/><path d="M111 1687.3h1451" stroke="#64443b" stroke-dasharray="1 29 1 43 2 1 4 34 1 3 2 55 1 47 1 4 3 19 2 29 1 16 1 9 1 2 1 13 2 17 1 59 1 25 1 1 1 3 1 1 1 1 1 5 2 11 1 3 1 4 1 2 1 5 1 14 1 12 1 4 1 2 1 1 2 8 1 29 1 27 1 9 1 3 1 59 1 1 1 4 1 18 1 2 1 27 1 19 1 5 1 3 1 43 1 21 1 26 1 5 1 2 1 17 1 4 1 11 1 7 1 19 1 1 1 11 1 1 1 10 1 19 1 1 2 3 2 18 1 37 1 97 2 10 2 3 1 11 1 12 1 29 1 13 1 9 1 12 1 3 1 7 1 2 1 15 1 11 1 5 1 17 1 8 1 3 1 6 1 6 1 14 1 5 1 11 1 3 1 24 1 27 1 36 1 9999"/><path d="M112 1687.3h1129" stroke="#917240" stroke-dasharray="1 21 3 9 2 74 2 31 1 2 2 47 3 67 1 208 1 1 1 82 1 116 1 15 1 124 1 181 1 2 1 13 1 58 2 37 1 12 2 9999"/><path d="M116 1687.3h1467" stroke="#805c44" stroke-dasharray="1 65 3 8 2 38 3 77 1 3 2 31 2 13 1 20 1 52 2 6 1 52 1 7 1 59 1 29 1 122 1 56 1 37 1 1 1 15 1 9 1 5 1 77 1 32 1 5 2 4 1 3 1 5 1 106 1 7 1 22 1 5 1 1 1 15 4 79 1 28 2 8 1 51 1 56 1 16 1 27 1 41 1 18 1 2 1 2 1 8 1 2 1 13 1 7 1 9 1 49 1 9999"/><path d="M117 1687.3h1458" stroke="#573b36" stroke-dasharray="2 144 2 21 1 45 2 20 1 11 1 23 1 85 1 13 1 21 1 13 2 17 1 27 1 8 1 12 1 224 1 14 1 2 1 3 1 73 1 113 1 73 1 79 1 69 1 140 2 5 1 26 1 2 1 3 1 1 1 7 1 4 1 9 1 4 1 68 1 2 1 11 1 7 1 15 1 9999"/><path d="M119 1687.3h1148" stroke="#5a5712" stroke-dasharray="4 123 2 21 1 52 2 25 1 101 2 426 1 324 2 16 1 43 1 9999"/><path d="M128 1687.3h1374" stroke="#a7a31b" stroke-dasharray="1 90 1 20 1 4 1 8 1 10 2 25 1 5 2 19 2 10 1 29 1 5 1 5 3 40 1 14 2 53 1 32 1 36 1 27 1 7 1 83 1 114 1 347 1 11 4 8 4 18 2 9 1 5 2 19 2 12 1 3 2 10 1 14 1 28 2 105 1 18 1 77 1 9999"/><path d="M132 1687.3h1460" stroke="#5f1e69" stroke-dasharray="1 39 1 59 1 3 3 56 3 26 1 18 1 8 1 169 1 13 2 24 1 7 1 8 1 10 1 5 1 47 3 11 1 2 1 4 1 2 1 2 1 1 1 5 2 4 1 1 1 1 1 6 1 2 4 14 1 1 1 3 2 3 1 2 1 6 4 1 3 4 1 3 2 1 1 2 1 8 1 4 1 7 3 3 1 4 1 26 2 5 1 4 1 2 1 4 1 6 1 8 1 1 1 3 2 2 1 3 1 1 1 3 1 4 1 1 1 7 1 1 1 2 1 1 1 3 1 11 1 1 1 13 1 4 1 1 1 2 1 4 1 3 1 15 1 8 1 12 1 1 1 1 1 2 1 3 1 7 1 21 1 6 1 6 2 10 1 5 1 5 1 5 1 10 2 6 1 1 1 8 1 2 2 2 1 9 1 9 1 27 1 11 1 11 2 23 2 52 2 15 1 10 2 18 2 2 1 11 1 3 1 5 1 6 1 6 2 30 1 2 1 3 1 2 1 2 1 8 1 2 1 17 2 7 1 1 1 5 1 27 1 7 1 1 1 9 1 5 1 2 1 4 1 4 2 3 1 9 1 1 1 5 1 7 1 11 2 11 2 7 1 9 1 5 3 9999"/><path d="M142 1687.3h1419" stroke="#795d3a" stroke-dasharray="1 13 2 12 2 42 1 13 1 47 1 26 1 54 1 11 2 19 2 32 1 1 1 67 2 2 1 20 1 10 1 8 1 10 1 3 1 1 1 7 1 11 2 18 1 13 1 4 1 1 1 2 1 34 2 15 1 3 1 15 1 32 1 4 1 36 1 10 1 28 1 86 1 76 1 9 1 3 1 9 1 1 1 40 1 17 1 24 1 4 3 9 1 171 2 6 1 13 2 4 2 56 1 1 1 7 1 1 2 6 1 4 1 16 1 8 2 3 1 12 1 133 1 9999"/><path d="M152 1687.3h1435" stroke="#87683f" stroke-dasharray="1 56 5 76 1 37 3 33 1 34 2 45 1 88 1 72 1 101 1 70 1 20 1 46 1 24 1 37 1 6 1 28 1 8 1 1 1 5 1 42 1 25 1 83 1 53 1 76 2 56 1 20 1 17 1 16 1 15 1 17 1 93 1 2 1 17 1 23 1 18 1 1 1 28 1 9999"/><path d="M224 1687.3h1340" stroke="#6a5134" stroke-dasharray="1 162 1 9 2 6 2 26 2 36 1 69 1 5 1 13 1 52 1 26 1 168 1 51 1 15 1 12 1 28 1 14 1 15 1 50 1 28 1 8 1 4 1 45 1 24 1 38 2 52 1 45 2 2 1 14 1 47 1 108 1 44 1 49 1 35 2 9999"/><path d="M339 1687.3h1105" stroke="#4a2c38" stroke-dasharray="1 69 1 9 1 214 1 3 1 1 1 124 1 58 1 186 1 5 1 6 1 35 1 17 1 2 1 135 2 16 1 87 1 24 1 7 1 53 1 31 2 9999"/></g>
<rect x="103" y="1700.1" width="1031" height="26.4" fill="#501b5a"/>
<rect x="1137" y="1700.1" width="455" height="26.4" fill="#501b5a"/>
<g stroke-width="26.4" fill="none"><path d="M103 1713.3h1246" stroke="#c0bd1e" stroke-dasharray="3 5 4 1 1 2 4 3 2 1 1 2 1 8 2 5 5 3 1 1 3 27 1 6 1 12 6 1 2 24 2 5 4 2 1 1 4 14 2 9 1 14 1 55 1 13 2 4 1 2 2 4 1 4 1 6 2 6 2 8 1 11 1 3 2 13 2 11 3 9 1 9 1 34 1 39 1 74 1 333 1 18 1 156 1 16 1 25 3 15 2 12 1 17 1 6 4 2 1 1 2 8 1 9 2 6 1 70 1 9999"/><path d="M106 1713.3h1358" stroke="#aba71d" stroke-dasharray="1 32 2 41 3 7 3 10 3 25 6 38 1 8 1 3 1 2 3 11 3 3 1 50 1 8 3 49 1 57 3 3 1 29 1 64 1 2 1 383 1 51 1 130 1 19 1 3 1 2 1 55 1 185 1 39 1 9999"/><path d="M107 1713.3h1406" stroke="#7f6934" stroke-dasharray="2 113 2 19 2 132 1 15 1 26 1 54 1 31 1 20 1 13 1 22 1 8 1 41 1 12 1 172 1 1 1 6 1 111 1 3 1 67 1 5 1 55 1 14 1 2 1 41 1 51 1 37 2 12 1 33 2 9 1 93 1 28 1 35 1 6 1 79 1 9999"/><path d="M109 1713.3h1356" stroke="#d3ce22" stroke-dasharray="2 6 2 4 3 2 1 1 2 2 5 4 3 7 2 2 1 42 1 1 3 9 1 2 5 8 2 7 2 11 2 11 2 3 1 27 2 4 3 3 1 3 2 9 3 3 1 16 1 8 1 1 2 1 2 1 1 15 1 6 1 5 1 4 2 2 2 11 1 2 1 13 2 7 3 19 1 1 1 5 1 20 2 8 2 5 1 35 1 7 1 4 1 9 1 42 2 12 1 454 1 23 1 5 1 27 2 4 4 2 3 1 2 14 2 2 3 4 2 3 3 2 1 11 2 4 3 10 2 1 2 5 1 11 2 20 1 5 2 3 1 4 1 20 1 19 1 18 1 86 1 5 1 27 1 9999"/><path d="M133 1713.3h1149" stroke="#e9e425" stroke-dasharray="1 55 3 53 3 14 3 6 2 9 3 6 1 4 2 32 1 22 1 24 1 66 1 12 1 4 1 5 2 8 2 1 1 3 3 121 1 10 1 20 1 408 1 105 1 40 3 34 1 3 2 22 2 16 1 9999"/><path d="M146 1713.3h1340" stroke="#795f36" stroke-dasharray="2 80 1 63 1 124 2 112 1 15 3 3 1 23 1 146 1 110 1 113 1 12 1 28 1 21 1 10 1 34 1 22 1 19 1 19 1 39 1 65 1 42 2 2 1 38 1 11 1 54 1 26 1 34 1 41 1 9999"/><path d="M155 1713.3h1357" stroke="#8e7739" stroke-dasharray="1 12 2 15 2 42 1 153 1 3 1 3 2 2 2 14 2 28 1 13 1 34 1 10 2 14 1 11 1 15 1 14 1 28 1 8 1 34 1 39 1 36 1 40 1 38 1 31 1 15 1 6 1 65 1 54 1 18 1 1 1 5 1 44 1 24 1 60 1 88 1 3 2 126 1 10 1 21 1 22 1 35 1 61 1 11 1 9999"/><path d="M163 1713.3h1428" stroke="#41184b" stroke-dasharray="1 8 1 51 1 2 1 121 1 2 1 86 2 36 2 19 1 13 1 31 1 26 1 10 1 8 1 27 1 3 2 11 1 2 1 1 1 3 1 7 2 5 1 5 1 2 1 1 1 7 2 3 2 5 2 1 1 2 1 1 1 6 1 5 3 2 1 2 1 4 1 1 1 14 4 3 2 7 1 4 1 6 1 11 2 5 1 1 1 2 1 11 1 1 1 10 1 1 1 1 1 7 1 8 1 5 1 5 1 8 1 5 1 2 1 1 1 2 1 2 2 3 1 2 1 4 3 3 1 3 1 2 1 12 1 2 1 3 2 6 1 3 1 10 1 5 1 7 1 2 1 4 1 27 2 4 2 5 1 4 1 6 1 10 2 6 1 1 1 12 1 1 1 1 1 3 1 3 2 3 1 3 1 16 1 2 1 6 1 8 2 4 1 6 1 3 1 18 2 22 1 16 2 5 1 33 2 58 2 8 2 16 1 3 1 3 1 3 1 3 1 2 1 2 2 14 1 4 1 9 2 2 1 2 1 10 1 9 1 6 1 1 1 1 1 2 1 2 1 3 1 6 1 12 1 9 1 4 1 18 1 5 1 10 1 5 1 7 1 9 1 4 1 10 1 10 1 9 2 4 1 1 1 3 1 1 1 7 2 13 1 9999"/><path d="M164 1713.3h1393" stroke="#84673e" stroke-dasharray="4 2 2 4 2 103 1 21 1 13 2 47 1 22 1 23 2 11 1 1 1 24 2 1 1 56 1 24 1 28 1 15 1 2 1 7 1 57 1 11 1 197 1 80 1 85 1 195 1 27 1 25 1 7 2 14 1 14 1 76 1 30 1 2 1 53 1 72 1 9999"/><path d="M178 1713.3h1347" stroke="#a38246" stroke-dasharray="2 155 1 1 2 45 1 23 1 1 1 40 2 65 1 38 1 21 1 153 1 18 1 47 1 42 1 102 1 30 1 16 1 30 1 4 1 39 1 189 1 19 1 4 2 64 1 14 1 53 1 27 1 61 1 13 1 9999"/><path d="M196 1713.3h1378" stroke="#5c4037" stroke-dasharray="3 236 2 127 1 204 1 803 1 9999"/><path d="M199 1713.3h1064" stroke="#705636" stroke-dasharray="1 229 2 74 2 83 1 1 1 11 1 13 1 13 1 34 1 150 1 46 1 32 1 77 1 277 1 6 2 9999"/><path d="M201 1713.3h1255" stroke="#9b8437" stroke-dasharray="1 65 2 52 1 45 1 97 1 1 2 31 1 105 1 210 1 156 1 53 1 49 1 135 2 154 1 73 1 10 1 9999"/><path d="M255 1713.3h1306" stroke="#8d703e" stroke-dasharray="1 4 1 8 1 6 1 10 1 14 1 8 2 11 1 11 1 17 1 27 1 3 1 22 1 11 2 34 1 37 2 25 2 3 1 23 1 11 1 4 1 11 1 4 1 44 1 25 1 50 1 11 1 2 1 7 1 15 1 41 1 9 1 27 1 2 1 4 1 9 1 74 1 2 1 32 1 2 1 8 1 4 1 2 1 7 1 5 1 19 1 22 1 6 1 2 1 4 1 19 1 48 1 62 2 14 2 9 1 12 2 17 1 18 2 34 4 15 1 55 1 29 1 6 1 18 1 17 1 48 1 33 1 24 1 9 1 9999"/><path d="M261 1713.3h1327" stroke="#987a40" stroke-dasharray="1 26 2 29 2 1 2 4 2 4 1 9 2 77 2 23 3 40 2 48 1 1 1 8 1 8 1 4 1 6 1 33 1 101 1 21 1 36 1 87 1 59 1 1 1 147 1 61 1 15 1 14 3 31 2 27 1 74 2 7 1 4 1 22 1 2 1 2 1 13 1 3 1 6 1 1 1 12 1 2 1 4 1 8 1 6 1 33 1 6 1 14 1 65 1 3 1 6 1 20 1 28 1 9999"/></g>
<rect x="103" y="1726.2" width="1031" height="26.4" fill="#3f184a"/>
<rect x="1137" y="1726.2" width="455" height="26.4" fill="#3f184a"/>
<g stroke-width="26.4" fill="none"><path d="M103 1739.4h1181" stroke="#d8d424" stroke-dasharray="3 10 1 9 2 2 2 2 8 1 5 8 3 14 3 11 1 12 1 4 3 1 5 3 5 29 1 2 1 1 2 3 1 5 3 7 1 4 3 1 1 8 3 4 1 4 3 9 2 9 1 17 1 4 1 3 1 4 2 1 1 15 1 6 1 27 1 2 1 21 1 3 1 15 1 4 1 5 1 10 2 1 1 14 2 13 1 6 1 45 1 37 1 18 1 4 1 369 1 99 1 60 1 11 1 10 5 12 2 12 1 4 1 4 2 5 2 14 2 32 1 9999"/><path d="M106 1739.4h1486" stroke="#4a1854" stroke-dasharray="1 56 1 63 1 76 3 15 2 15 1 6 2 11 2 12 3 7 1 42 1 4 2 10 2 28 2 2 2 19 2 8 2 1 1 13 1 4 1 1 1 15 1 8 1 24 1 7 1 2 1 2 1 8 1 38 1 1 1 2 2 4 1 9 2 2 1 10 1 4 2 7 1 3 1 6 2 6 1 1 1 9 1 2 2 4 4 7 1 1 1 1 1 7 1 2 1 3 1 1 1 4 1 5 1 2 1 6 1 2 1 8 1 6 3 3 1 17 1 9 1 4 1 1 1 5 1 1 1 3 1 1 1 3 1 2 1 8 3 3 1 4 1 2 1 15 1 9 1 12 3 2 1 2 1 1 1 4 1 18 1 3 1 1 1 2 1 3 1 2 1 11 1 1 1 11 1 3 1 3 1 2 2 2 2 3 2 9 2 1 1 22 1 8 1 5 1 12 2 4 1 2 1 3 1 6 1 1 1 1 1 21 3 3 2 52 1 15 1 17 2 3 1 6 2 3 1 2 2 15 1 11 1 3 1 2 2 17 1 16 1 5 2 14 2 7 1 6 1 1 1 4 1 12 1 12 1 2 1 12 1 9 1 2 2 1 1 3 1 3 1 1 3 3 1 8 1 5 2 2 1 3 2 1 1 1 1 2 1 1 1 5 1 5 1 1 1 1 1 10 1 3 1 3 1 5 1 1 2 2 1 9 2 7 2 2 1 3 1 9 1 3 1 3 1 4 1 6 1 1 1 1 1 1 1 3 3 9999"/><path d="M107 1739.4h1456" stroke="#9d823e" stroke-dasharray="2 71 2 63 1 68 3 50 1 2 2 7 2 34 1 7 1 1 1 43 2 39 1 18 1 47 1 75 1 146 1 112 1 1 1 3 1 35 1 91 2 110 3 30 1 24 2 6 1 31 2 15 1 38 1 22 1 13 1 14 1 1 1 10 1 107 1 75 1 9999"/><path d="M109 1739.4h1196" stroke="#c7c31f" stroke-dasharray="2 8 7 75 1 13 2 12 1 11 2 3 2 4 2 1 1 14 1 16 1 3 1 8 1 12 1 11 2 1 2 1 1 46 1 11 1 36 1 20 1 32 1 5 2 4 2 10 2 31 1 10 1 30 1 415 1 157 3 1 1 12 3 1 3 23 1 8 3 24 1 21 1 7 1 13 1 3 1 18 1 9999"/><path d="M111 1739.4h1402" stroke="#8c7a30" stroke-dasharray="1 40 1 2 1 26 5 12 1 14 1 47 1 81 2 9 2 32 1 9 2 8 1 69 2 4 1 5 2 54 1 35 1 1 1 11 1 14 1 109 1 81 1 90 1 93 1 46 1 44 1 14 1 81 1 14 2 33 1 26 2 4 2 28 2 112 1 106 1 9999"/><path d="M112 1739.4h1413" stroke="#92793a" stroke-dasharray="1 55 4 4 2 17 4 23 2 56 2 28 1 10 1 71 2 8 2 3 1 11 3 28 2 2 1 1 1 24 1 24 1 6 1 4 1 19 1 5 1 13 1 4 1 2 1 6 1 17 1 10 1 25 1 17 1 8 1 52 1 17 1 2 1 28 1 9 1 152 1 5 1 19 1 13 1 18 1 5 1 21 1 22 1 24 1 1 1 45 1 78 1 37 1 18 2 26 2 26 2 19 1 7 1 30 1 49 1 5 1 7 1 21 1 2 1 53 1 23 1 9999"/><path d="M113 1739.4h1231" stroke="#b0ac1e" stroke-dasharray="2 17 1 92 1 22 3 7 2 41 1 25 1 48 1 8 1 11 2 6 2 64 1 28 1 133 1 642 1 17 2 46 1 9999"/><path d="M117 1739.4h1452" stroke="#887138" stroke-dasharray="2 29 4 7 2 69 2 80 1 24 2 11 2 2 1 52 1 109 1 42 2 25 1 39 1 49 1 9 1 36 1 159 1 71 1 8 1 5 2 87 1 9 1 69 1 24 2 31 3 74 1 3 1 37 1 38 1 3 1 22 1 48 1 14 1 55 1 47 1 16 1 9999"/><path d="M128 1739.4h1133" stroke="#ebe525" stroke-dasharray="1 13 1 46 3 12 1 21 1 12 1 20 1 4 2 4 2 3 1 8 1 2 2 2 1 5 2 66 1 15 1 28 4 20 2 5 1 3 1 6 2 12 2 26 2 6 2 50 1 54 1 232 1 179 1 127 3 3 1 23 3 20 2 29 1 2 1 21 1 9999"/><path d="M129 1739.4h1327" stroke="#766230" stroke-dasharray="1 194 1 39 1 21 1 4 2 36 2 18 2 7 3 2 1 60 1 3 1 14 1 22 1 46 1 56 1 127 1 16 1 100 1 49 1 8 1 58 1 144 2 33 2 31 1 5 1 9 2 38 1 10 1 22 1 1 1 12 1 102 1 9999"/><path d="M133 1739.4h1454" stroke="#36153f" stroke-dasharray="1 19 2 6 2 15 2 53 3 99 1 4 3 6 1 34 1 2 1 51 1 35 1 21 1 29 1 5 1 1 1 4 2 8 2 2 1 7 2 8 1 3 1 1 1 2 1 2 1 6 1 3 1 13 1 1 1 2 2 5 1 14 1 3 1 1 2 1 1 6 1 5 1 5 1 7 1 2 1 7 2 5 1 4 2 5 1 1 1 3 1 1 1 1 1 6 2 10 1 1 1 4 2 8 1 1 1 1 3 1 1 1 1 6 1 1 2 9 1 3 5 1 1 4 1 2 1 5 1 2 1 4 2 1 1 4 1 6 1 5 1 2 1 2 1 6 1 3 1 1 1 3 1 1 1 1 1 3 1 3 2 5 2 1 1 4 2 6 1 4 1 4 1 2 1 2 2 1 1 2 1 9 1 7 1 3 2 2 1 5 2 1 1 3 1 8 1 1 1 5 1 6 1 8 1 2 1 4 1 6 3 2 1 1 1 1 1 8 1 3 1 7 1 2 1 3 1 3 1 3 1 7 3 1 1 2 1 3 1 2 1 3 1 1 1 4 1 2 1 4 1 1 2 1 1 8 1 7 1 2 1 2 1 5 1 1 3 3 2 1 1 1 1 1 1 7 2 24 2 117 1 2 2 10 2 2 1 4 2 13 1 9 1 2 1 1 2 17 1 11 1 3 1 4 1 1 1 4 1 4 2 4 1 1 1 11 1 3 1 1 2 2 1 4 1 1 1 10 1 7 3 8 1 2 1 4 1 1 1 1 1 10 1 5 1 3 1 4 1 6 1 2 1 1 1 4 2 21 4 2 2 2 2 3 1 1 3 1 1 7 1 3 2 1 1 1 1 4 1 5 1 9999"/><path d="M192 1739.4h1329" stroke="#7f6638" stroke-dasharray="1 35 1 44 3 27 1 129 2 29 1 25 1 40 1 24 1 11 1 248 1 140 1 34 1 151 4 90 2 83 1 3 1 191 1 9999"/><path d="M208 1739.4h1380" stroke="#948531" stroke-dasharray="1 34 2 48 2 37 2 113 1 125 1 5 1 9 1 35 1 292 1 38 1 55 1 182 1 161 1 3 1 163 1 60 1 9999"/><path d="M263 1739.4h1288" stroke="#826e31" stroke-dasharray="2 13 2 97 1 17 2 13 1 6 2 9 1 11 1 24 1 23 1 32 1 42 1 28 1 9 1 25 1 8 1 57 1 9 1 193 1 61 1 31 1 28 1 57 1 16 1 16 1 102 2 33 1 16 2 5 1 69 1 68 1 65 1 43 1 22 1 9999"/><path d="M518 1739.4h756" stroke="#6a5630" stroke-dasharray="1 33 1 33 1 239 1 11 1 158 1 44 1 180 2 20 2 26 1 9999"/></g>
<rect x="103" y="1752.2" width="1031" height="26.4" fill="#4b1856"/>
<rect x="1137" y="1752.2" width="455" height="26.4" fill="#4b1856"/>
<g stroke-width="26.4" fill="none"><path d="M103 1765.4h1171" stroke="#e9e425" stroke-dasharray="2 21 2 2 2 9 2 13 1 1 1 29 1 19 1 5 1 2 2 1 2 31 1 2 2 3 1 3 2 2 1 1 2 3 1 11 2 63 1 1 1 8 1 20 1 17 2 6 2 54 2 10 3 34 1 38 1 584 1 49 3 40 1 4 1 10 2 18 2 2 1 9999"/><path d="M105 1765.4h1239" stroke="#c8c41f" stroke-dasharray="1 1 2 2 1 27 2 41 3 7 1 2 1 23 1 12 4 9 1 2 3 4 1 11 2 4 3 1 1 2 1 1 5 9 2 6 3 18 2 1 2 1 1 34 1 3 2 1 3 2 1 2 1 6 1 1 1 8 2 19 1 4 1 1 1 3 4 7 1 4 1 9 2 5 1 7 1 10 2 1 3 4 2 5 1 2 2 17 1 20 1 25 1 17 1 22 1 20 1 522 1 19 1 10 2 6 2 26 1 19 2 12 2 46 1 39 1 9999"/><path d="M106 1765.4h1178" stroke="#b5b01e" stroke-dasharray="1 22 1 2 5 6 3 105 1 38 2 27 2 27 1 10 2 15 1 28 2 39 1 715 1 54 2 52 2 10 1 9999"/><path d="M109 1765.4h1297" stroke="#d9d424" stroke-dasharray="2 1 3 1 10 2 1 8 2 7 2 4 4 1 1 1 2 19 2 3 3 1 3 1 2 1 5 14 2 9 1 9 7 3 2 4 1 1 1 3 2 3 2 16 1 5 1 4 4 31 1 34 2 1 1 13 2 16 2 14 2 2 3 15 2 11 1 6 1 5 1 28 1 41 1 79 1 360 1 201 3 20 3 1 2 12 1 10 1 7 1 31 1 9 1 3 1 36 1 86 1 9999"/><path d="M115 1765.4h1472" stroke="#571e61" stroke-dasharray="1 45 3 6 2 126 3 21 2 6 1 9 3 6 1 37 1 1 1 49 1 33 2 2 2 30 1 20 1 3 2 1 1 4 1 3 1 15 1 4 1 4 1 2 2 2 1 1 1 6 1 3 2 1 3 3 1 4 1 4 1 2 1 5 1 2 1 4 1 3 2 2 1 4 1 1 1 3 2 8 3 7 1 4 1 6 1 2 1 4 3 10 2 7 2 2 1 2 1 1 4 5 3 4 1 1 2 1 2 9 1 4 1 1 1 1 3 2 2 4 1 1 1 1 1 1 1 1 1 5 1 2 1 2 1 1 1 2 1 1 1 3 1 1 1 1 1 2 1 5 1 7 2 1 1 2 3 2 1 3 1 1 1 4 3 1 1 6 1 2 1 1 1 6 1 1 2 1 2 5 1 6 6 18 1 3 1 5 1 3 2 3 1 1 1 1 2 1 2 1 1 3 1 2 3 1 1 18 1 2 1 5 1 1 1 17 1 1 3 1 2 1 1 6 1 4 3 8 1 15 1 11 1 6 2 13 1 6 1 6 1 3 1 1 1 7 1 12 2 3 3 2 2 4 2 4 1 21 2 2 2 24 1 1 1 11 1 56 1 20 2 2 2 12 4 4 1 5 1 7 1 2 1 1 1 7 2 2 1 1 2 1 2 2 1 18 1 3 1 12 3 1 1 3 1 3 2 3 1 3 3 3 1 9 1 1 2 1 1 2 1 7 1 6 1 1 1 1 1 4 2 6 2 3 1 2 1 4 3 3 2 2 1 1 1 1 1 3 1 4 2 4 1 4 1 3 1 4 1 3 1 5 1 3 2 1 1 6 1 2 1 1 1 4 1 2 1 4 1 9 1 2 1 1 1 3 2 1 1 9999"/><path d="M148 1765.4h1413" stroke="#9a803e" stroke-dasharray="4 110 1 39 1 7 1 1 1 11 1 29 1 36 2 1 1 14 2 12 2 34 2 15 1 12 1 28 2 43 1 16 1 22 1 1 1 19 1 8 1 17 1 44 1 7 1 114 1 19 1 120 1 4 1 1 1 69 1 23 1 7 1 47 1 14 1 10 5 10 3 52 2 6 1 14 1 23 2 38 2 32 1 24 1 20 1 110 1 67 1 9999"/><path d="M164 1765.4h1337" stroke="#8d7539" stroke-dasharray="4 5 3 26 2 20 1 18 2 25 1 7 2 27 3 1 1 44 1 36 1 21 1 24 1 8 2 20 1 10 1 45 1 20 1 4 1 5 1 12 1 12 1 2 1 27 2 87 2 22 1 2 1 14 1 17 1 13 1 17 1 13 1 4 2 2 1 4 1 8 1 2 1 17 1 71 1 20 1 27 1 15 1 3 1 11 1 3 1 10 1 9 1 24 1 39 1 5 1 49 2 16 1 15 1 11 1 4 1 6 1 20 1 39 1 20 2 12 1 14 1 14 1 14 1 2 1 6 1 3 1 8 1 26 1 22 1 10 1 1 1 59 1 9999"/><path d="M168 1765.4h1408" stroke="#977840" stroke-dasharray="2 144 2 51 3 14 1 22 1 37 1 20 1 56 1 28 1 3 1 9 1 3 1 14 1 107 1 17 1 56 1 44 1 29 1 57 1 21 1 47 1 51 1 23 1 130 1 28 2 1 3 50 2 10 1 38 1 30 1 2 1 106 1 106 1 12 1 9999"/><path d="M172 1765.4h1418" stroke="#42184b" stroke-dasharray="1 54 1 111 1 3 1 13 1 155 1 6 1 15 1 13 2 5 1 46 1 3 1 7 1 28 1 5 1 2 1 5 1 2 2 3 1 2 1 18 1 23 1 26 2 8 2 9 2 9 1 5 1 2 1 6 1 6 1 2 1 10 1 4 2 34 1 5 1 3 1 6 1 2 1 3 1 1 1 2 1 13 1 7 1 1 1 1 1 5 1 2 1 5 1 5 1 2 1 1 1 2 1 9 1 5 1 5 1 5 3 4 1 8 1 4 1 9 1 4 1 6 1 3 3 4 1 9 1 3 1 7 2 4 1 4 1 2 2 2 1 25 1 5 2 2 1 7 1 2 1 4 1 2 1 4 1 1 2 9 1 10 1 25 2 13 2 20 2 19 1 5 2 20 1 14 1 7 1 7 1 1 1 6 2 15 1 5 1 4 2 2 1 5 1 1 2 17 1 16 1 1 1 1 2 3 2 2 1 11 1 1 1 6 1 17 1 2 1 7 1 2 1 1 1 3 1 4 2 6 1 6 1 10 1 9 1 4 1 7 2 1 1 7 1 7 1 4 1 1 1 1 1 4 1 6 1 2 1 9 1 8 1 8 5 1 1 8 1 7 1 9999"/><path d="M176 1765.4h1051" stroke="#725638" stroke-dasharray="2 143 1 209 1 27 1 24 1 22 1 118 1 189 1 69 1 4 1 90 1 143 1 9999"/><path d="M178 1765.4h1378" stroke="#8c6e40" stroke-dasharray="2 29 4 119 2 43 1 123 2 24 1 1 1 9 1 7 1 17 1 2 1 5 1 19 1 18 1 12 1 15 1 310 1 42 1 46 1 5 1 13 1 7 1 85 1 14 1 11 1 11 1 42 2 4 2 7 1 24 1 35 1 7 1 35 1 48 1 100 1 45 1 9999"/><path d="M201 1765.4h1283" stroke="#a17d48" stroke-dasharray="1 101 1 82 1 76 1 48 1 70 1 86 1 312 1 252 1 130 1 115 1 9999"/><path d="M204 1765.4h1327" stroke="#83693b" stroke-dasharray="1 145 2 64 1 26 2 6 4 14 2 24 2 20 1 23 1 22 1 112 1 24 1 21 1 44 1 5 1 60 1 17 1 64 1 38 1 28 1 108 1 54 3 143 2 38 1 4 1 52 1 47 1 68 1 11 1 5 1 9999"/><path d="M213 1765.4h1213" stroke="#a48443" stroke-dasharray="1 8 2 5 1 71 1 127 2 10 1 33 1 15 2 4 1 12 1 27 1 6 1 2 1 22 1 58 1 91 1 155 1 39 1 70 1 38 1 3 2 2 1 44 1 29 1 51 2 58 2 22 1 12 1 17 1 6 1 13 2 11 1 70 1 4 1 36 1 9999"/><path d="M317 1765.4h1129" stroke="#7a6334" stroke-dasharray="2 18 2 43 1 82 1 39 2 149 1 86 1 178 1 118 1 68 1 5 1 54 1 47 2 36 3 5 1 60 1 35 1 82 1 9999"/></g>
<rect x="103" y="1778.3" width="1031" height="26.4" fill="#571e61"/>
<rect x="1137" y="1778.3" width="455" height="26.4" fill="#571e61"/>
<g stroke-width="26.4" fill="none"><path d="M103 1791.5h1328" stroke="#b2ad1e" stroke-dasharray="2 1 1 2 4 3 1 6 3 8 3 15 3 4 2 15 2 4 7 16 4 6 2 2 1 6 1 24 1 1 1 8 1 2 2 2 1 1 2 7 1 7 2 2 1 2 1 4 1 6 3 4 3 11 2 14 2 2 1 5 1 10 1 1 1 2 2 13 1 4 1 6 4 2 2 2 1 12 1 14 2 4 2 10 2 2 2 4 1 8 1 9 1 17 1 2 2 5 1 5 1 11 1 9 1 20 1 8 2 17 1 38 1 37 1 300 1 30 1 10 1 52 1 25 1 56 1 7 7 16 1 9 1 8 2 6 1 12 2 5 2 3 1 20 1 6 1 18 1 19 2 9 2 8 1 108 1 6 1 9999"/><path d="M105 1791.5h1264" stroke="#9a9619" stroke-dasharray="1 20 2 4 1 4 2 3 1 12 1 8 4 21 3 4 3 14 1 14 1 7 3 13 1 2 1 7 2 2 2 8 1 18 2 3 1 29 1 21 1 8 2 9 3 1 1 1 3 33 1 31 2 15 1 25 1 2 2 6 2 10 1 58 1 55 1 97 1 270 1 73 1 86 1 74 1 7 2 18 2 105 1 9999"/><path d="M107 1791.5h1480" stroke="#6f5736" stroke-dasharray="2 34 3 99 1 30 1 47 1 15 3 3 2 57 2 18 1 7 2 77 1 8 1 10 1 160 1 4 1 6 1 59 1 20 1 15 1 42 1 55 1 66 1 39 2 44 1 86 1 31 1 45 2 48 4 2 1 41 2 9 1 24 1 2 1 22 1 19 1 63 1 21 1 63 1 25 1 10 1 9999"/><path d="M113 1791.5h1369" stroke="#c4c01e" stroke-dasharray="2 2 6 5 2 9 3 4 6 6 1 14 3 4 2 10 1 2 1 13 4 4 2 1 2 3 1 4 2 1 3 4 1 7 3 7 2 10 1 2 3 17 2 3 2 59 2 15 1 1 1 5 1 1 1 6 2 16 2 6 1 7 1 18 1 8 1 5 1 4 3 12 1 1 2 1 1 2 1 5 2 32 1 33 1 67 1 148 1 9 1 26 1 144 1 224 2 9 3 1 2 3 2 7 1 6 3 9 2 2 2 19 1 2 2 12 1 1 1 103 1 97 1 9999"/><path d="M115 1791.5h1477" stroke="#4a1854" stroke-dasharray="1 47 1 29 2 29 1 14 1 21 1 72 1 4 1 18 1 13 1 10 1 25 1 52 1 10 2 2 2 28 1 6 2 8 1 5 1 2 2 2 1 1 1 1 2 1 1 16 2 3 1 9 1 4 1 4 1 4 1 3 2 1 4 4 1 7 1 7 2 13 1 3 1 4 2 2 2 1 1 5 1 12 1 2 2 6 1 4 1 3 1 2 1 8 1 3 1 6 3 2 1 2 1 1 1 1 3 2 1 1 1 4 1 5 1 1 2 3 3 1 1 2 2 1 3 1 1 6 1 3 1 3 3 4 2 1 1 3 2 4 1 7 1 4 3 2 1 1 1 3 1 1 4 1 1 3 2 1 1 1 2 1 1 3 3 8 1 2 2 1 1 1 4 1 1 5 1 4 1 2 1 1 2 2 1 1 1 7 1 2 1 15 1 2 1 1 2 5 2 2 3 3 1 1 2 5 1 1 1 1 2 9 1 3 1 1 1 1 1 1 1 10 1 3 1 6 2 3 2 5 1 2 3 2 1 1 1 4 1 4 1 1 1 5 1 1 1 1 1 1 1 4 1 1 1 2 2 16 1 1 2 3 1 7 1 2 1 10 1 1 1 2 1 5 1 8 1 2 1 3 2 47 1 2 3 8 1 16 1 3 1 17 2 15 1 27 1 12 2 16 2 1 1 4 2 6 1 1 1 6 1 3 1 2 2 1 1 3 2 1 1 2 1 2 1 3 1 3 2 2 1 4 1 4 1 6 2 4 1 1 2 1 2 6 1 3 1 2 2 1 1 1 1 5 1 3 1 3 1 3 1 2 1 2 3 2 1 2 2 4 2 3 1 1 3 1 2 4 2 3 2 1 1 3 1 1 1 2 1 1 2 2 2 7 1 2 3 15 1 1 3 1 1 1 2 1 1 3 1 3 2 1 1 6 1 4 3 2 1 2 3 4 1 3 1 1 1 1 1 1 1 4 5 9999"/><path d="M130 1791.5h1216" stroke="#d9d424" stroke-dasharray="2 1 1 22 2 10 4 6 2 19 1 22 2 3 1 1 1 51 1 3 1 5 1 90 1 34 2 26 1 25 1 7 2 86 1 21 1 17 1 19 1 210 1 185 1 108 1 37 1 23 1 63 1 21 1 2 1 58 1 1 1 9999"/><path d="M172 1791.5h1413" stroke="#8b6b40" stroke-dasharray="1 83 2 2 1 17 2 10 1 21 1 8 1 28 3 35 2 18 1 7 1 6 1 27 2 3 1 41 1 10 1 8 2 2 1 22 1 2 1 11 1 4 1 63 1 3 1 43 1 115 1 26 1 5 1 82 1 6 1 5 1 5 1 20 1 5 1 22 1 1 2 4 1 26 1 9 1 54 1 19 2 17 1 3 1 67 1 7 1 19 2 10 2 12 2 38 1 1 1 118 1 17 1 89 1 3 1 67 1 9999"/><path d="M200 1791.5h1374" stroke="#83673c" stroke-dasharray="1 1 2 98 1 1 3 3 2 98 1 74 1 5 2 33 2 8 1 15 1 29 1 5 1 19 1 3 1 4 1 7 1 9 1 20 2 2 1 23 1 4 1 29 1 11 1 19 1 5 1 64 1 12 1 83 1 43 1 58 1 2 1 3 2 3 1 13 1 15 1 9 1 35 1 26 2 3 1 2 6 8 3 13 3 49 1 40 1 18 2 22 1 17 1 18 1 1 1 7 1 7 1 9 1 9 1 18 1 13 1 18 1 49 1 8 1 6 1 25 1 24 1 4 1 12 1 9999"/><path d="M201 1791.5h1346" stroke="#97714b" stroke-dasharray="1 111 1 185 1 56 1 56 1 190 1 357 1 2 2 82 2 73 1 48 1 172 1 9999"/><path d="M204 1791.5h1347" stroke="#997b41" stroke-dasharray="1 122 1 9 2 17 1 11 2 25 2 24 2 6 2 8 1 95 1 11 1 26 1 17 1 1 1 102 1 100 1 19 1 72 1 31 1 37 1 8 1 5 1 40 1 26 1 2 1 190 1 6 2 35 1 12 2 9 1 30 1 13 1 5 1 13 1 22 1 88 1 11 1 4 1 49 1 9999"/><path d="M214 1791.5h1348" stroke="#7a5d3b" stroke-dasharray="1 39 1 31 1 30 2 6 2 30 1 3 1 4 1 46 2 25 1 18 2 4 1 57 1 19 1 11 1 2 1 12 1 5 1 5 1 13 1 12 1 23 1 8 1 23 1 2 1 2 1 4 1 8 1 22 1 10 2 7 1 47 1 28 1 110 1 10 2 1 1 25 1 24 1 3 1 1 1 8 1 11 1 7 1 30 1 12 1 4 1 14 1 28 1 7 1 20 1 3 1 18 2 20 2 9 1 13 3 24 1 19 2 8 1 10 1 18 2 13 1 13 1 8 1 24 1 1 1 39 1 3 1 48 1 30 1 5 1 10 1 20 1 12 1 23 1 9999"/><path d="M232 1791.5h1348" stroke="#8e743b" stroke-dasharray="1 10 2 37 3 18 1 51 1 35 2 33 1 1 1 2 2 10 2 42 2 8 1 7 2 10 1 33 1 18 1 14 1 7 1 25 1 19 1 45 1 21 1 1 1 14 1 75 1 65 1 39 1 1 1 1 1 24 1 5 1 24 1 15 1 10 1 38 1 36 1 2 1 4 1 12 1 2 1 2 1 19 1 87 3 67 1 55 1 34 1 9 1 12 1 43 1 4 1 5 1 65 1 1 1 67 1 9999"/><path d="M241 1791.5h1194" stroke="#5d4436" stroke-dasharray="2 3 2 221 2 132 1 294 1 240 1 113 1 32 1 14 2 79 1 6 1 44 1 9999"/><path d="M287 1791.5h1228" stroke="#6a4c3b" stroke-dasharray="1 76 1 36 2 366 1 64 1 77 1 114 1 77 1 12 1 115 1 20 2 23 1 39 1 49 1 16 1 10 1 25 1 48 1 34 1 5 1 9999"/><path d="M319 1791.5h1217" stroke="#a28242" stroke-dasharray="2 11 2 141 1 55 1 17 1 68 1 393 1 38 1 49 1 77 2 47 1 149 1 117 1 16 1 21 1 9999"/></g>
<rect x="103" y="1804.3" width="1031" height="26.4" fill="#4c1955"/>
<rect x="1137" y="1804.3" width="455" height="26.4" fill="#4c1955"/>
<g stroke-width="26.4" fill="none"><path d="M103 1817.5h1485" stroke="#591e63" stroke-dasharray="2 4 2 6 2 7 2 1 3 5 2 4 5 4 1 3 1 2 2 2 5 2 2 4 2 4 3 7 1 2 5 1 1 2 1 8 1 5 1 5 1 1 2 4 3 3 6 6 1 4 2 3 1 1 2 2 2 1 3 4 3 2 4 1 1 2 1 2 2 3 2 4 7 1 1 14 1 2 2 11 1 15 2 9 6 2 1 16 4 11 1 4 2 2 2 3 2 7 2 10 3 5 2 9 1 2 4 1 1 6 2 1 3 2 2 4 4 3 1 2 2 5 3 2 2 5 1 22 1 23 1 3 1 5 1 4 1 1 1 12 1 3 1 22 1 4 1 8 1 5 1 11 2 1 1 25 1 4 1 1 1 9 1 4 1 3 2 1 1 2 1 2 1 1 1 2 1 6 1 6 1 13 1 1 1 1 1 2 1 1 1 17 1 1 1 4 1 3 1 2 1 8 1 3 1 1 2 6 1 3 1 2 1 1 1 10 1 3 1 4 1 5 1 4 1 1 1 5 1 10 1 8 2 3 1 3 1 3 1 4 1 8 1 2 1 3 1 1 1 16 1 5 1 6 1 3 1 5 1 9 1 35 1 12 1 4 1 18 3 2 1 2 1 10 1 4 1 16 1 4 1 1 1 8 1 9 1 43 2 3 1 2 2 5 1 2 3 4 2 1 4 1 2 4 1 1 3 1 2 6 3 1 2 7 2 28 1 13 1 15 1 36 3 2 1 7 1 3 2 1 1 7 1 11 1 17 1 17 1 27 1 3 1 8 1 5 2 11 1 1 1 1 1 14 1 1 1 20 1 1 1 20 2 4 1 3 1 7 1 5 2 3 1 6 1 8 1 7 1 5 1 6 1 9999"/><path d="M115 1817.5h1465" stroke="#987645" stroke-dasharray="1 106 2 113 2 11 2 57 1 18 1 89 1 29 1 22 1 6 1 33 1 34 1 53 1 70 1 6 1 21 2 5 1 8 1 9 1 13 1 2 1 15 1 11 1 17 1 21 1 12 1 1 1 37 1 5 1 20 1 4 1 116 1 30 4 20 1 19 1 23 1 13 1 26 1 22 1 36 1 98 1 45 1 81 1 17 1 19 1 9999"/><path d="M123 1817.5h1445" stroke="#8f713f" stroke-dasharray="3 59 2 37 1 159 1 6 3 23 2 4 1 39 1 13 2 26 2 25 1 1 1 3 1 15 1 2 1 1 1 3 1 3 1 2 1 35 1 18 1 11 1 19 1 11 1 1 1 19 1 16 1 8 1 2 1 24 1 5 1 17 1 20 1 23 1 32 1 1 2 2 1 1 1 8 1 3 1 1 1 8 1 1 1 34 1 19 1 12 1 22 1 4 1 5 1 19 1 2 1 8 1 20 1 16 1 8 1 5 1 15 1 24 1 60 1 26 1 11 1 35 2 10 2 2 4 17 1 36 1 3 1 15 1 11 4 4 1 3 1 9 1 18 1 4 1 34 1 41 1 12 2 3 1 4 1 10 1 15 1 8 1 17 1 3 1 6 1 2 1 1 1 9999"/><path d="M134 1817.5h1448" stroke="#695233" stroke-dasharray="3 180 2 120 1 89 1 35 1 82 1 7 1 41 1 57 1 31 1 24 1 2 1 25 1 42 1 11 1 1 1 47 1 46 1 18 1 61 1 19 1 126 1 5 1 10 2 6 1 107 2 11 1 8 1 16 1 24 1 11 1 1 1 8 1 8 1 42 1 81 1 4 1 9999"/><path d="M148 1817.5h1437" stroke="#5f4437" stroke-dasharray="4 172 1 61 1 53 1 18 2 30 2 42 1 19 1 45 1 31 1 15 1 68 1 12 1 151 1 22 1 71 1 50 1 14 1 7 1 23 1 6 1 311 1 25 1 54 1 5 1 1 1 68 1 30 1 9999"/><path d="M161 1817.5h1403" stroke="#beba1e" stroke-dasharray="2 153 1 17 1 5 3 18 1 21 1 5 1 11 2 73 1 8 1 44 1 41 1 9 1 10 1 4 1 22 1 6 1 13 1 8 1 18 1 6 1 8 1 10 1 7 1 74 1 53 1 39 1 35 1 18 1 26 1 2 1 20 2 20 1 36 2 4 1 14 1 2 2 31 1 7 1 7 1 24 2 2 1 1 1 5 2 16 2 74 2 31 1 10 2 4 2 10 1 5 1 3 3 12 1 1 1 3 1 28 1 3 1 10 1 17 2 20 1 1 1 3 1 3 1 19 1 1 1 19 1 8 1 3 2 4 1 21 1 21 1 7 1 19 1 9999"/><path d="M193 1817.5h1391" stroke="#aca71e" stroke-dasharray="2 127 2 12 1 89 1 29 1 87 1 4 1 12 1 13 1 13 1 1 1 3 2 2 1 13 1 1 1 5 1 49 1 20 1 27 1 51 1 4 1 15 1 12 1 14 1 22 1 5 2 3 1 16 1 93 1 18 1 1 1 15 1 5 1 14 1 9 1 30 1 13 1 5 1 4 1 1 1 8 1 5 1 24 1 8 1 1 1 34 2 48 4 3 1 31 1 10 1 6 1 10 2 32 1 15 1 14 1 7 1 5 1 35 1 14 1 20 1 5 1 6 3 37 1 21 1 5 1 7 1 11 1 33 1 9999"/><path d="M246 1817.5h1289" stroke="#765e36" stroke-dasharray="2 32 1 11 1 39 2 21 1 31 1 33 2 6 2 18 2 7 1 16 1 14 1 6 1 25 1 4 1 37 1 1 1 5 1 107 2 15 1 2 1 35 1 1 1 20 1 71 1 12 1 15 1 12 1 6 1 10 1 4 1 14 1 4 1 25 2 20 1 32 1 17 1 53 1 2 1 6 1 3 1 3 1 29 1 105 1 7 1 37 2 37 1 76 1 19 1 7 1 13 1 10 1 32 1 54 1 5 1 9999"/><path d="M260 1817.5h1293" stroke="#a18343" stroke-dasharray="1 238 1 39 1 75 1 60 1 224 1 18 1 34 1 93 1 80 1 118 2 22 1 30 1 44 1 61 1 5 1 29 1 7 1 14 1 81 1 9999"/><path d="M314 1817.5h1272" stroke="#84693b" stroke-dasharray="2 5 1 27 1 4 1 86 1 9 2 12 1 23 1 24 1 9 1 11 1 3 1 2 1 2 1 4 1 8 1 24 1 19 1 1 2 9 3 6 1 6 1 6 1 10 1 1 1 7 2 10 2 2 1 5 2 9 2 3 1 5 1 3 1 1 1 20 1 1 1 3 1 2 1 1 1 4 1 4 1 12 1 18 1 17 1 13 1 6 1 3 2 32 1 2 1 2 1 7 1 6 1 19 1 2 3 5 1 15 1 1 1 7 1 1 1 6 2 17 1 9 1 2 1 4 1 1 1 8 1 9 1 3 1 11 1 5 1 38 1 35 1 1 1 12 1 1 1 4 1 4 1 30 2 8 1 19 2 53 1 6 2 12 2 4 1 13 2 4 2 9 1 2 1 3 1 12 1 2 1 12 1 1 1 13 1 12 2 20 1 10 1 5 1 7 1 16 1 33 1 19 2 5 1 2 1 4 1 10 2 13 1 7 1 8 2 15 1 3 2 7 1 7 1 9999"/><path d="M335 1817.5h1239" stroke="#999518" stroke-dasharray="1 22 1 9 2 143 1 12 1 105 1 2 1 89 1 26 1 38 1 5 1 37 1 59 1 99 1 61 1 9 1 56 1 3 1 49 1 86 1 25 2 31 1 20 1 4 1 28 1 28 1 86 1 6 1 15 1 53 2 9999"/><path d="M339 1817.5h1232" stroke="#d2ce22" stroke-dasharray="1 122 1 35 1 21 2 20 1 45 1 134 1 22 1 1 1 27 1 112 1 13 1 28 1 51 1 20 1 13 1 6 1 1 1 49 2 20 2 13 1 5 1 129 2 13 1 13 1 3 2 15 2 9 1 21 1 11 1 17 1 16 2 6 1 10 1 22 1 12 1 8 1 65 1 2 1 4 1 12 1 21 1 15 1 9999"/><path d="M366 1817.5h1221" stroke="#75563d" stroke-dasharray="1 10 1 130 2 43 1 2 1 4 1 2 1 10 1 1 1 13 1 10 1 1 1 19 1 11 1 1 1 25 1 1 2 11 1 31 1 41 1 6 1 4 1 2 1 2 1 5 1 32 1 20 1 6 1 72 1 64 1 13 1 40 3 7 1 69 1 5 1 11 1 74 2 13 2 14 1 24 1 13 1 33 1 18 1 38 1 8 1 26 1 3 1 34 1 7 1 3 1 17 1 54 1 55 1 3 1 9999"/><path d="M367 1817.5h1205" stroke="#7f5e40" stroke-dasharray="1 14 1 24 1 29 2 34 2 44 1 5 1 21 1 35 1 5 1 4 2 54 1 22 1 15 2 38 2 27 1 11 1 12 1 36 1 3 1 32 2 17 1 9 1 4 1 2 1 31 1 7 1 2 1 1 1 12 1 9 1 12 1 35 1 8 1 67 1 1 1 7 2 6 1 18 1 5 1 85 2 109 1 38 1 20 1 1 2 24 1 17 1 4 1 38 1 24 1 2 1 5 1 29 1 13 1 14 1 9999"/><path d="M964 1817.5h501" stroke="#828118" stroke-dasharray="1 20 1 153 1 324 1 9999"/></g>
<rect x="103" y="1830.4" width="1031" height="26.4" fill="#882691"/>
<rect x="1137" y="1830.4" width="455" height="26.4" fill="#882691"/>
<g stroke-width="26.4" fill="none"><path d="M103 1843.6h1485" stroke="#82564f" stroke-dasharray="2 36 1 43 2 56 2 204 2 69 1 50 1 5 2 30 1 4 1 1 1 2 1 1 1 3 1 7 1 21 1 14 2 25 1 1 1 9 1 17 1 43 1 7 1 8 1 13 1 8 1 8 1 14 1 7 1 8 1 30 1 24 2 2 1 5 1 3 2 48 2 9 1 7 1 1 1 31 1 8 1 10 1 3 1 1 1 27 1 7 1 12 1 9 1 8 1 2 1 3 1 185 1 3 1 55 1 13 1 1 1 8 1 1 1 4 1 1 1 13 1 62 1 9 1 3 1 9 1 18 2 47 1 1 1 5 1 3 1 9999"/><path d="M105 1843.6h1466" stroke="#7b7818" stroke-dasharray="1 5 1 18 3 6 2 2 3 7 2 8 5 20 1 7 3 23 3 2 1 1 1 3 3 16 3 6 2 10 4 5 4 1 1 2 1 4 1 11 3 2 2 13 1 11 1 3 1 2 3 3 1 11 1 1 1 3 3 3 2 16 1 25 1 12 2 4 1 13 2 1 1 7 1 6 1 3 1 1 2 6 1 1 2 2 2 2 3 13 1 1 1 4 1 27 1 8 1 1 1 16 1 7 1 1 2 7 1 8 1 7 1 7 1 88 1 130 1 5 1 11 1 32 1 59 1 24 1 33 1 14 2 15 1 40 1 23 1 3 1 1 1 9 1 20 2 13 1 1 4 2 5 2 1 1 4 1 2 6 3 2 1 14 2 5 2 7 2 1 1 1 1 7 1 4 2 8 8 6 1 2 1 5 1 7 2 5 2 2 2 4 2 29 2 34 1 1 1 12 1 7 1 8 1 31 1 50 1 6 1 12 2 8 1 58 1 9999"/><path d="M106 1843.6h1350" stroke="#878318" stroke-dasharray="5 2 3 10 2 6 3 19 3 9 8 6 3 2 1 5 2 4 2 14 2 23 3 22 5 8 3 5 1 11 2 22 3 3 2 5 2 12 1 5 1 2 1 6 1 1 1 13 1 3 1 2 1 8 2 22 2 3 1 13 1 1 1 3 3 2 2 4 2 3 2 2 1 9 1 5 1 10 2 4 1 7 1 8 1 11 1 20 1 10 1 2 1 2 1 3 1 1 1 3 1 14 2 4 1 2 1 5 1 1 1 15 1 1 2 6 1 7 1 55 1 220 1 42 1 4 1 13 1 7 1 2 1 4 1 7 1 23 1 2 1 37 2 4 1 9 1 52 2 13 3 13 1 2 1 4 1 5 1 8 2 3 3 5 1 6 1 7 1 5 1 5 1 14 3 12 2 46 1 6 1 5 1 14 1 10 1 13 2 11 1 5 1 38 2 12 1 18 1 9999"/><path d="M112 1843.6h1342" stroke="#6f6c18" stroke-dasharray="1 6 4 25 5 2 1 3 2 31 1 2 1 6 3 3 5 4 2 27 2 10 3 2 2 35 1 1 1 16 3 9 1 5 2 11 2 4 2 28 2 1 1 5 2 10 1 1 1 1 2 4 2 5 2 15 1 31 2 11 1 13 1 16 1 34 1 1 1 34 1 17 1 65 1 236 1 24 1 28 3 15 1 2 1 40 1 12 1 23 1 73 2 2 1 16 1 22 1 15 1 3 1 20 1 15 1 4 2 15 3 4 1 8 2 3 1 5 2 6 4 5 1 10 1 10 1 16 1 1 1 6 1 16 1 10 1 51 1 4 1 13 1 1 1 9999"/><path d="M116 1843.6h1422" stroke="#928e18" stroke-dasharray="1 11 1 4 1 3 2 41 2 19 1 18 2 6 1 3 1 3 3 17 2 19 1 3 1 10 1 3 2 13 1 2 2 1 2 11 1 22 2 4 2 1 2 15 2 1 1 8 3 5 8 8 1 3 1 8 5 2 2 6 2 10 1 3 2 4 1 1 4 1 1 6 2 2 2 4 2 7 1 2 4 5 1 8 1 7 1 1 1 2 1 23 1 12 1 17 1 13 1 30 1 157 1 113 1 91 1 60 1 14 1 28 1 47 2 20 1 13 2 22 1 9 2 24 3 11 1 9 2 8 2 10 2 12 1 48 1 32 1 60 1 88 1 9999"/><path d="M117 1843.6h1466" stroke="#a19c19" stroke-dasharray="2 23 1 3 2 13 2 15 2 25 3 6 1 4 1 10 2 7 1 5 1 24 1 22 2 8 1 12 1 8 2 5 3 5 3 1 2 22 2 3 3 8 1 5 1 19 1 12 1 3 1 17 1 59 2 51 2 34 1 69 1 126 1 179 1 15 1 72 1 90 3 42 1 5 2 27 2 4 1 35 1 29 1 2 1 13 1 46 1 11 1 14 1 40 1 27 1 118 1 9999"/><path d="M123 1843.6h1324" stroke="#605e12" stroke-dasharray="3 3 1 46 2 11 3 21 1 12 1 24 1 3 1 15 2 15 2 1 1 9 1 76 1 34 2 1 1 64 1 82 1 2 1 37 1 6 1 111 1 297 1 68 1 1 1 50 5 14 2 25 2 3 1 8 2 10 3 6 1 3 2 40 2 2 1 87 1 36 1 45 1 9999"/><path d="M225 1843.6h1364" stroke="#794a50" stroke-dasharray="1 295 1 19 1 6 1 16 1 7 1 1 1 7 1 4 1 15 1 15 1 18 1 16 2 44 1 7 1 1 1 9 1 7 1 17 1 12 1 1 1 4 1 1 1 27 1 15 1 7 1 9 1 21 1 38 1 4 1 16 1 12 1 34 1 37 1 1 1 29 1 14 1 6 1 3 1 8 1 5 1 2 1 10 1 1 1 6 2 16 1 9 1 84 3 21 1 4 2 25 1 42 1 7 1 1 1 3 1 3 1 12 1 1 1 6 1 1 1 4 1 1 1 12 1 6 1 48 1 1 1 13 1 23 1 5 2 12 1 2 1 4 1 4 1 23 1 10 1 2 1 2 1 9 1 3 1 4 1 2 1 9 1 14 1 9999"/><path d="M248 1843.6h1344" stroke="#8c5b53" stroke-dasharray="3 186 2 75 1 8 1 9 1 9 1 7 1 51 1 7 1 1 1 8 1 6 1 8 1 6 1 4 1 9 1 6 1 11 1 1 1 18 2 3 1 13 1 1 1 56 1 8 1 12 1 25 1 38 2 24 1 9 1 11 1 18 1 26 1 1 1 14 1 1 1 1 1 5 1 7 1 14 1 9 3 15 2 8 1 18 1 25 1 2 2 5 2 9 2 12 2 1 1 154 2 41 1 12 1 4 1 1 1 8 1 18 1 16 1 1 2 12 1 8 1 6 1 33 2 10 1 4 1 9 1 27 1 13 1 1 1 16 1 36 1 1 1 4 1 9999"/><path d="M304 1843.6h1259" stroke="#844f57" stroke-dasharray="3 76 1 77 1 46 1 13 1 8 1 3 1 62 1 16 1 1 1 12 1 45 1 16 1 23 1 86 1 13 1 12 1 14 1 69 1 13 1 46 1 17 1 10 1 4 1 1 1 3 1 10 1 15 1 17 1 17 1 8 1 14 1 7 1 188 2 4 1 6 1 20 1 1 1 6 1 16 1 30 1 28 1 4 1 18 1 4 1 5 1 4 1 41 2 4 1 10 1 1 1 34 1 4 1 9999"/><path d="M310 1843.6h1099" stroke="#555312" stroke-dasharray="1 50 1 176 1 92 1 185 1 249 1 114 2 178 1 45 1 9999"/><path d="M408 1843.6h1084" stroke="#6e3b54" stroke-dasharray="1 131 1 38 1 140 1 141 1 34 1 50 1 19 1 15 1 13 1 32 1 21 1 10 1 13 1 20 1 24 1 245 1 30 1 89 1 9999"/><path d="M509 1843.6h1082" stroke="#7b2486" stroke-dasharray="1 24 1 4 1 41 1 41 1 17 1 5 1 3 1 1 2 6 1 1 1 2 1 1 2 8 1 4 1 1 2 2 1 1 1 14 1 4 1 2 1 3 1 4 1 5 1 4 1 8 2 5 1 5 1 3 1 3 1 1 2 4 1 4 1 5 1 1 1 7 1 2 1 4 1 11 1 9 3 2 2 4 1 2 1 2 1 7 1 1 1 6 1 1 1 1 1 1 2 2 2 3 1 2 1 8 1 1 1 7 1 4 1 7 1 6 1 6 1 5 1 1 1 1 1 1 1 2 1 3 2 3 2 5 2 21 1 12 1 18 1 8 1 1 1 33 1 1 1 6 1 3 1 28 1 226 1 3 1 10 1 1 1 8 1 11 1 13 3 15 1 10 2 6 1 1 2 10 1 8 1 7 1 5 1 20 1 1 1 1 1 5 1 1 1 17 2 5 1 7 1 2 1 1 2 1 1 9 1 1 1 5 2 1 3 21 1 2 1 1 1 4 1 12 2 9999"/><path d="M526 1843.6h1036" stroke="#6d414b" stroke-dasharray="1 9 1 7 1 2 1 20 1 11 1 47 1 8 1 2 1 36 1 53 1 8 1 5 1 4 1 29 1 30 1 92 2 30 1 64 1 32 1 7 1 25 1 12 1 33 1 118 1 42 1 81 1 46 1 9 1 1 1 14 1 3 1 3 1 14 1 92 1 10 1 9999"/><path d="M545 1843.6h1009" stroke="#9a6658" stroke-dasharray="1 7 1 36 1 45 1 57 1 54 1 19 1 46 1 30 1 42 1 60 1 6 1 10 1 40 1 19 1 11 1 7 1 22 1 44 1 10 1 2 2 150 1 49 1 47 1 22 1 33 1 22 1 1 1 17 1 1 2 8 1 17 1 19 1 15 1 4 1 9999"/></g>
<rect x="103" y="1856.4" width="1031" height="26.4" fill="#391844"/>
<rect x="1137" y="1856.4" width="455" height="26.4" fill="#391844"/>
<g stroke-width="26.4" fill="none"><path d="M103 1869.6h1148" stroke="#ede824" stroke-dasharray="2 1 1 9 1 2 4 5 1 1 2 5 2 3 1 96 1 11 1 1 1 13 2 41 1 42 1 45 2 641 1 171 2 11 1 21 2 9999"/><path d="M105 1869.6h1029" stroke="#d6d124" stroke-dasharray="1 5 2 19 1 26 2 38 1 54 1 15 1 54 2 160 2 644 1 9999"/><path d="M107 1869.6h1062" stroke="#928430" stroke-dasharray="2 6 1 39 1 57 1 16 2 14 2 39 1 3 1 22 2 5 1 59 1 109 4 50 1 37 1 20 1 118 1 239 1 56 2 10 1 87 1 2 1 43 2 9999"/><path d="M109 1869.6h1118" stroke="#e2de24" stroke-dasharray="2 2 2 2 2 4 5 6 3 2 2 17 1 82 2 15 2 47 3 49 2 9 2 16 1 97 1 697 1 41 1 9999"/><path d="M129 1869.6h1107" stroke="#f4f02a" stroke-dasharray="1 11 1 1 5 4 3 1 2 74 1 7 1 7 3 1 1 8 1 7 1 28 2 48 1 8 1 45 2 98 2 338 1 337 1 3 2 48 1 9999"/><path d="M133 1869.6h1426" stroke="#978337" stroke-dasharray="1 14 4 9 2 80 2 11 2 5 2 6 3 11 1 14 1 1 1 9 2 30 2 8 1 27 1 38 2 77 1 26 1 15 1 5 1 29 1 45 1 33 1 20 1 157 1 87 1 1 1 60 1 3 1 95 1 120 3 3 1 5 1 38 2 4 1 36 1 46 1 15 1 34 1 121 1 6 1 14 1 11 1 9999"/><path d="M164 1869.6h1415" stroke="#291234" stroke-dasharray="6 8 2 96 1 78 1 8 1 2 1 9 1 77 1 16 1 3 1 21 2 17 1 14 1 1 1 19 1 35 1 29 1 5 1 18 1 49 1 29 2 8 2 7 1 13 2 55 1 14 1 17 1 3 1 47 1 6 1 22 1 43 1 5 1 32 1 19 1 6 1 5 1 8 1 14 1 1 1 25 1 1 1 16 1 205 1 6 1 8 1 1 1 27 1 52 1 4 1 9 1 80 1 2 1 1 1 45 1 8 1 9999"/><path d="M170 1869.6h1420" stroke="#32123b" stroke-dasharray="2 1 5 2 2 5 1 8 3 2 1 3 3 9 2 1 2 5 1 1 1 32 1 11 2 1 1 3 1 4 1 1 2 3 2 21 3 3 2 6 2 4 3 4 1 8 1 3 1 1 1 6 2 1 2 9 2 2 1 1 3 2 1 3 1 2 2 2 2 2 2 1 1 8 3 5 1 1 1 9 2 2 1 6 1 2 4 1 2 1 3 7 3 1 2 10 1 9 2 8 3 5 1 1 1 4 2 6 1 1 1 2 1 2 4 1 2 3 2 2 2 1 1 2 1 1 2 3 1 2 2 1 1 2 1 5 1 1 3 16 1 2 2 4 4 1 1 2 1 1 2 2 1 1 1 5 1 3 1 1 1 7 1 2 4 2 1 6 2 1 2 3 2 2 1 2 1 3 1 4 2 1 1 6 1 1 1 7 1 6 2 1 1 5 1 8 1 2 1 1 1 3 1 1 1 7 1 14 1 1 2 2 2 1 1 5 2 2 4 1 1 1 1 5 1 1 1 5 2 5 1 7 1 6 2 2 1 1 3 6 1 3 1 1 2 2 1 2 3 1 2 2 1 2 1 4 1 2 1 3 1 1 1 3 1 1 1 4 2 1 3 1 2 4 1 1 2 2 1 3 2 1 1 4 2 2 1 2 1 1 1 3 1 1 1 9 1 5 1 5 1 1 4 4 1 3 1 9 2 2 2 1 1 2 1 8 1 1 2 1 1 6 1 1 1 1 1 8 1 2 2 5 5 8 1 4 2 2 2 1 1 2 1 3 2 6 1 1 1 1 1 1 1 4 2 7 2 6 2 2 1 3 1 4 1 4 2 2 1 1 1 1 2 1 1 6 1 15 2 5 1 2 2 2 1 3 2 3 3 6 6 14 3 11 1 14 1 4 6 1 1 6 2 2 2 4 1 2 1 10 3 1 1 15 2 2 1 1 1 1 1 2 1 1 3 3 1 1 1 3 1 1 2 6 1 7 2 2 2 2 1 2 3 2 1 3 1 1 2 2 1 3 1 4 2 3 1 8 3 1 1 3 1 3 2 1 1 1 1 1 1 1 3 2 1 2 2 1 2 3 3 1 1 3 1 4 2 1 1 1 3 1 2 4 1 4 2 1 3 1 1 1 2 2 1 4 1 2 1 1 3 1 1 2 1 1 2 2 2 1 2 1 1 4 2 1 1 2 1 4 2 1 1 2 4 3 1 1 1 1 2 4 1 2 1 3 3 3 2 7 1 3 1 1 7 2 1 3 1 2 4 9999"/><path d="M185 1869.6h1370" stroke="#8c7833" stroke-dasharray="2 58 1 58 3 20 1 107 2 8 1 43 1 41 1 20 1 7 1 4 1 308 1 83 1 92 1 7 1 91 3 121 1 2 1 181 1 93 1 9999"/><path d="M189 1869.6h1373" stroke="#907e32" stroke-dasharray="3 8 1 18 1 35 1 55 1 117 2 227 1 259 2 55 1 71 1 49 1 11 1 8 1 109 1 48 1 17 2 90 1 17 1 155 1 9999"/><path d="M215 1869.6h1348" stroke="#43184c" stroke-dasharray="2 8 1 10 3 133 1 11 1 24 1 5 1 17 2 7 1 4 1 1 2 13 1 1 1 10 2 2 1 42 1 45 1 14 1 5 1 2 1 1 1 9 1 8 1 19 1 3 2 24 2 3 1 2 1 3 1 4 1 15 1 18 2 5 1 35 1 16 1 29 1 34 1 20 1 53 1 23 1 11 1 2 1 12 1 29 1 17 2 15 1 6 1 14 1 5 1 2 1 17 1 1 1 28 1 9 1 72 1 3 3 13 2 10 2 6 1 9 1 25 1 8 1 39 1 2 1 33 1 3 1 10 1 1 1 2 2 8 1 7 1 37 1 4 1 2 1 34 1 8 1 2 1 15 1 10 1 20 1 23 1 9999"/><path d="M233 1869.6h1125" stroke="#8e7e2c" stroke-dasharray="3 184 1 519 1 158 1 133 1 123 1 9999"/><path d="M260 1869.6h965" stroke="#806b31" stroke-dasharray="1 40 1 48 2 26 1 34 2 185 1 121 1 500 2 9999"/><path d="M303 1869.6h1014" stroke="#83752d" stroke-dasharray="1 58 2 82 1 16 1 54 1 3 2 49 1 63 1 358 1 34 1 52 1 110 1 29 1 90 1 9999"/><path d="M416 1869.6h1016" stroke="#897234" stroke-dasharray="1 50 2 329 1 383 2 247 1 9999"/></g>
<rect x="103" y="1882.5" width="1031" height="26.4" fill="#391642"/>
<rect x="1137" y="1882.5" width="455" height="26.4" fill="#391642"/>
<g stroke-width="26.4" fill="none"><path d="M103 1895.7h1140" stroke="#ada91e" stroke-dasharray="2 6 1 1 2 8 3 3 1 3 6 7 6 1 2 27 3 10 1 3 1 2 2 11 2 3 2 17 2 4 1 10 2 4 1 4 2 2 2 19 3 3 2 2 1 4 3 4 2 15 1 27 2 1 3 1 1 14 1 3 1 2 1 5 1 4 2 2 2 6 2 6 1 5 1 5 2 2 2 10 1 24 1 6 2 2 2 2 2 4 2 60 1 70 1 528 3 1 3 1 2 8 2 6 3 37 1 4 1 7 1 6 2 9999"/><path d="M105 1895.7h1174" stroke="#bdb91e" stroke-dasharray="2 2 2 5 1 2 4 3 3 1 3 6 7 11 1 30 1 7 3 14 1 32 2 29 1 7 1 15 1 26 2 26 1 8 1 16 1 7 1 25 1 3 1 12 2 13 1 12 1 24 1 8 2 6 2 82 1 583 1 3 3 7 2 46 1 33 1 10 1 9999"/><path d="M107 1895.7h1481" stroke="#76632f" stroke-dasharray="2 61 2 57 1 13 2 7 1 8 1 28 1 20 1 95 1 16 1 3 1 16 1 5 4 9 1 16 1 15 1 20 1 2 1 7 1 17 1 46 1 15 1 1 1 17 1 28 1 53 1 84 1 15 1 23 1 10 1 78 1 39 1 17 1 6 1 7 1 25 1 6 1 27 1 1 1 53 1 43 1 7 1 30 1 37 2 14 2 4 2 11 2 1 1 3 1 57 1 3 1 23 2 110 1 70 1 36 1 9999"/><path d="M112 1895.7h1162" stroke="#9b9718" stroke-dasharray="1 4 2 36 1 3 2 19 2 5 1 1 3 49 2 12 1 14 1 42 1 13 1 42 2 4 1 65 1 12 1 45 2 40 1 87 1 519 3 30 1 11 1 40 1 11 2 22 1 9999"/><path d="M115 1895.7h1243" stroke="#856d37" stroke-dasharray="1 93 4 6 1 49 1 49 2 22 1 9 1 24 1 14 1 49 2 62 1 14 1 5 1 40 1 3 2 5 1 113 1 3 1 10 1 47 1 10 2 8 1 183 1 2 1 52 1 62 1 232 1 42 1 9999"/><path d="M152 1895.7h1061" stroke="#cfcb21" stroke-dasharray="1 3 1 1 1 9 2 15 2 5 1 12 3 24 1 18 1 6 2 14 2 10 1 1 2 10 1 104 2 59 1 4 1 682 1 3 1 13 1 37 3 9999"/><path d="M164 1895.7h1109" stroke="#927d35" stroke-dasharray="4 97 2 6 1 166 1 266 1 18 1 116 1 75 1 76 1 274 2 9999"/><path d="M173 1895.7h1306" stroke="#534329" stroke-dasharray="3 128 3 210 1 45 1 303 1 103 1 43 1 182 3 37 1 72 1 166 1 9999"/><path d="M176 1895.7h1413" stroke="#2e1238" stroke-dasharray="4 20 1 23 1 1 1 1 1 25 1 40 1 21 2 18 3 49 1 11 2 34 3 33 2 10 1 25 1 11 1 6 1 2 1 1 1 26 1 1 1 11 1 1 2 2 1 5 2 2 1 4 2 4 1 1 2 9 1 1 2 1 2 1 1 3 1 4 1 8 3 8 1 4 1 4 3 6 1 1 3 5 1 8 1 4 1 3 1 5 1 1 1 1 2 4 1 4 1 1 1 3 2 2 1 1 1 6 1 5 1 1 1 1 4 1 1 2 1 4 2 11 1 3 1 4 1 1 1 4 1 2 1 7 1 2 2 2 3 3 1 2 1 4 1 3 1 2 3 1 1 1 1 1 1 7 2 1 1 1 1 2 1 1 1 4 2 4 1 1 1 4 1 1 2 2 1 6 1 3 1 10 1 3 1 13 1 8 1 10 2 6 2 1 1 2 1 1 1 9 1 2 1 1 1 4 1 2 1 7 1 10 2 1 1 2 2 3 1 10 2 2 1 7 1 1 2 3 2 1 2 1 1 1 1 1 1 2 1 2 1 4 1 4 1 5 1 10 3 2 1 12 1 1 1 3 1 3 1 2 2 1 1 10 1 13 2 5 2 38 1 14 2 25 2 10 2 20 1 19 1 5 2 6 4 18 2 4 1 5 1 4 1 13 2 7 1 3 2 5 1 4 1 2 1 5 1 2 1 14 1 1 1 4 1 1 2 2 1 5 1 8 3 1 1 13 1 1 1 4 1 3 1 4 1 1 1 1 1 1 1 1 1 1 2 3 1 3 1 6 1 1 3 1 1 1 2 1 3 4 1 1 1 3 1 2 1 3 1 1 2 1 1 2 3 1 1 3 1 4 1 3 1 7 2 8 1 4 3 4 1 5 1 1 1 1 1 9999"/><path d="M204 1895.7h1358" stroke="#67552c" stroke-dasharray="1 12 2 17 3 85 3 17 2 2 1 1 2 2 1 31 1 28 1 25 1 17 2 1 2 5 2 18 2 9 1 18 1 16 1 4 1 10 1 7 1 4 4 22 1 12 1 8 1 11 1 3 1 8 1 128 1 49 1 2 1 5 1 42 1 12 1 33 1 1 1 4 1 34 1 2 1 61 2 12 1 4 1 27 1 3 1 21 1 43 1 24 2 25 4 10 3 5 3 5 4 9 1 9 2 32 1 17 2 60 1 23 1 21 1 2 1 9 1 18 1 17 1 105 1 9999"/><path d="M208 1895.7h1302" stroke="#7d6c2d" stroke-dasharray="1 24 3 12 3 31 3 18 1 17 1 10 2 63 2 28 1 30 1 46 2 20 1 21 1 4 1 28 3 64 1 154 1 116 1 66 1 18 1 38 1 57 1 39 4 41 2 36 1 18 1 5 1 6 1 34 2 6 1 15 1 17 1 9 1 12 1 27 1 8 1 58 1 52 1 9999"/><path d="M214 1895.7h1311" stroke="#706129" stroke-dasharray="1 7 2 57 1 9 1 18 1 46 1 26 1 24 1 47 1 7 1 73 1 457 1 34 1 5 1 12 1 7 1 35 1 3 1 16 1 52 1 27 1 19 2 35 1 4 1 3 2 4 2 12 1 20 1 21 1 21 1 52 1 20 1 99 1 1 1 9999"/><path d="M227 1895.7h1217" stroke="#745b35" stroke-dasharray="1 35 2 22 1 107 2 16 2 2 2 63 1 8 2 17 1 27 1 117 1 352 1 3 1 43 1 169 1 29 2 184 1 9999"/><path d="M280 1895.7h1289" stroke="#43184d" stroke-dasharray="1 74 1 5 1 5 3 17 1 68 1 20 2 45 1 1 1 5 1 20 1 3 1 1 1 10 1 4 1 32 1 25 1 4 1 5 1 8 1 11 1 6 1 5 1 6 1 8 1 6 1 15 1 41 1 16 1 1 1 29 1 8 1 39 1 12 1 26 1 32 1 1 1 41 1 3 1 5 1 8 1 9 1 40 1 8 2 12 1 6 1 14 1 3 1 3 1 9 1 12 1 5 1 11 1 136 1 28 1 12 1 16 1 19 1 70 1 3 1 32 1 16 1 2 1 18 1 60 1 4 1 9999"/><path d="M379 1895.7h1000" stroke="#877531" stroke-dasharray="2 27 1 14 1 5 2 15 1 20 2 43 1 3 1 14 1 268 1 64 1 97 1 10 1 3 1 8 1 92 1 121 2 174 1 9999"/></g>
<rect x="103" y="1908.5" width="1031" height="26.4" fill="#591e63"/>
<rect x="1137" y="1908.5" width="455" height="26.4" fill="#591e63"/>
<g stroke-width="26.4" fill="none"><path d="M103 1921.7h1407" stroke="#a4a01b" stroke-dasharray="3 5 2 19 1 4 2 13 3 8 1 24 4 3 1 3 2 3 1 3 1 42 2 16 1 12 3 2 3 3 2 24 2 16 2 18 2 14 4 6 1 1 1 2 2 1 2 4 2 8 1 3 2 7 1 6 1 1 2 24 1 8 1 30 2 8 2 22 1 19 1 4 1 14 1 2 1 37 1 20 1 41 1 95 1 86 1 187 1 15 1 5 1 6 1 59 1 8 1 35 1 3 2 1 2 9 1 1 3 5 3 7 3 4 2 1 1 7 2 3 2 4 2 4 2 13 2 8 1 28 1 64 1 6 1 11 1 10 1 33 1 1 1 72 1 9999"/><path d="M106 1921.7h1376" stroke="#beb91f" stroke-dasharray="1 22 1 4 3 20 1 3 2 38 1 11 1 3 2 21 1 4 3 7 1 11 2 17 1 13 1 1 1 13 1 18 1 10 2 8 1 56 2 10 2 18 1 7 2 2 1 3 1 14 1 9 3 43 1 13 1 17 1 41 1 183 1 52 1 69 1 50 1 31 1 66 2 16 1 21 1 50 1 10 2 82 2 8 2 2 2 8 1 1 1 5 1 19 4 26 1 7 1 3 1 8 1 26 1 68 1 1 1 12 1 17 1 9999"/><path d="M107 1921.7h1445" stroke="#8d6e41" stroke-dasharray="2 7 1 68 2 42 1 30 1 10 2 48 1 2 1 36 1 22 1 30 1 103 1 11 1 9 1 11 1 38 2 23 1 36 1 5 1 73 1 11 1 29 1 2 1 47 1 16 1 19 1 28 1 7 1 81 1 1 1 1 1 16 1 5 1 8 1 10 1 9 1 1 1 19 1 32 1 1 3 137 1 45 1 29 1 1 1 14 1 30 1 4 1 7 1 34 1 17 1 3 1 27 1 25 1 8 1 2 1 37 1 15 1 9999"/><path d="M109 1921.7h1429" stroke="#8e8b18" stroke-dasharray="2 2 2 2 2 9 1 4 1 12 6 3 1 2 3 3 4 2 2 6 2 2 3 2 1 4 1 21 1 7 2 8 4 3 1 3 2 3 3 34 1 10 2 12 1 16 1 2 1 13 2 7 1 16 2 7 2 1 1 16 2 4 2 21 1 18 1 10 3 5 1 8 1 6 1 17 1 9 1 5 2 18 1 18 1 10 2 19 1 16 1 158 1 194 1 8 1 55 1 8 1 6 1 69 1 41 3 3 1 9 2 5 1 4 3 2 1 8 3 42 1 15 1 10 1 11 1 1 1 11 2 27 1 13 1 27 1 5 1 11 2 19 1 53 1 17 1 24 1 2 1 1 1 33 1 9999"/><path d="M115 1921.7h1469" stroke="#7f623b" stroke-dasharray="1 99 2 24 2 15 2 18 2 10 1 13 3 6 3 9 2 1 2 4 1 4 1 19 2 4 1 2 2 25 2 26 1 15 1 1 1 4 1 44 2 19 1 10 1 23 1 3 2 3 1 14 1 1 2 14 1 17 1 6 1 4 1 17 1 39 1 17 1 2 1 11 1 12 1 7 2 18 1 18 1 29 1 1 1 32 1 2 1 3 1 3 1 5 1 9 1 19 1 8 1 6 1 4 1 12 1 15 1 2 1 11 1 1 1 3 1 1 1 3 1 1 1 1 1 10 1 6 2 5 1 2 1 9 1 6 1 4 1 40 1 17 1 1 1 7 1 28 1 4 1 20 2 4 1 19 2 4 1 3 1 30 2 47 1 1 2 12 2 3 1 3 1 3 1 4 2 4 4 9 1 9 1 28 1 4 1 5 1 7 2 16 3 35 1 9 1 7 1 10 1 7 1 2 1 25 1 4 1 20 1 17 1 10 1 16 1 24 1 9999"/><path d="M119 1921.7h1452" stroke="#7b7718" stroke-dasharray="4 3 2 11 4 13 1 23 2 11 2 24 1 16 3 53 1 5 2 1 1 20 2 7 1 22 1 7 2 13 1 8 1 44 2 4 2 4 2 34 2 22 2 177 1 301 1 4 1 7 1 69 1 34 1 42 4 9 1 16 3 24 2 10 2 15 2 78 1 14 1 108 1 9 1 68 1 55 1 9999"/><path d="M123 1921.7h1441" stroke="#655031" stroke-dasharray="3 139 2 40 3 2 1 19 2 6 3 12 1 47 2 12 2 32 2 45 1 46 1 2 1 16 1 4 1 8 1 6 1 16 1 9 1 20 1 22 1 49 1 28 1 12 1 11 1 6 1 19 1 29 1 3 1 24 1 130 1 79 1 9 1 19 1 112 1 11 1 71 1 24 1 29 1 3 1 6 1 2 1 68 2 26 1 12 1 6 1 88 1 2 1 9999"/><path d="M130 1921.7h1403" stroke="#4a322f" stroke-dasharray="2 41 3 245 2 1 1 8 2 91 1 71 1 144 1 130 1 58 1 46 1 94 1 51 1 99 1 8 1 34 2 46 1 154 1 20 1 36 1 9999"/><path d="M143 1921.7h1276" stroke="#646115" stroke-dasharray="3 22 2 50 2 59 1 9 1 86 1 104 2 4 1 3 2 18 1 46 1 30 1 225 1 147 2 119 1 68 2 127 1 12 2 119 1 9999"/><path d="M172 1921.7h1420" stroke="#491853" stroke-dasharray="1 83 2 3 4 5 1 3 2 96 1 20 1 16 1 29 1 21 1 10 2 2 2 32 1 3 1 8 2 4 1 2 1 4 1 18 1 3 2 12 1 1 1 3 1 20 1 2 1 2 1 6 1 7 1 3 1 13 1 6 2 1 1 10 1 3 1 2 1 4 1 3 1 1 1 2 1 2 3 3 1 6 2 3 1 1 1 1 1 2 1 3 1 1 2 6 2 2 1 5 1 1 3 1 1 3 1 2 1 1 1 1 1 4 1 1 2 4 1 1 1 3 1 3 1 1 1 2 2 7 1 2 2 3 1 3 1 2 1 2 1 2 1 1 1 1 1 4 1 5 1 4 1 1 1 1 1 1 1 2 3 6 1 2 1 2 2 1 1 1 1 8 2 2 1 2 3 1 2 3 2 2 3 8 1 5 1 2 2 2 1 2 1 4 2 2 1 2 1 2 1 3 1 1 1 1 2 5 1 6 1 1 1 1 1 13 1 2 1 3 1 1 1 10 1 1 1 2 1 3 1 6 1 2 1 6 1 10 1 1 1 5 1 11 1 2 1 2 1 1 1 5 1 21 1 1 1 3 1 2 3 9 1 1 1 1 1 5 1 16 2 6 1 85 1 15 4 16 2 44 2 12 1 2 1 4 1 2 2 1 1 1 2 2 2 5 1 6 1 3 1 25 1 5 1 2 1 2 1 19 1 3 1 3 1 15 1 2 1 1 1 5 1 1 1 10 1 3 1 7 3 12 1 15 1 1 1 4 3 2 1 1 1 4 2 2 1 2 1 1 1 1 1 3 1 3 1 6 1 2 1 8 1 2 2 9 1 1 1 2 2 1 1 1 3 9999"/><path d="M196 1921.7h1380" stroke="#75573b" stroke-dasharray="3 6 3 16 1 48 1 6 1 22 1 13 2 17 1 6 1 6 2 12 1 16 1 12 1 40 2 5 1 22 1 6 1 12 1 15 2 17 1 1 1 27 1 27 1 5 2 13 1 25 1 7 1 4 2 3 1 32 1 25 1 18 1 40 1 35 2 65 1 12 1 27 1 64 1 14 1 11 1 23 1 1 1 1 1 4 1 1 1 4 1 13 1 17 1 5 1 1 1 1 1 24 1 4 1 8 1 1 1 3 1 2 2 32 1 27 2 30 1 5 1 4 1 34 1 49 1 3 1 44 1 4 1 33 2 5 1 2 1 5 1 3 1 10 1 1 1 3 1 17 1 14 1 7 1 8 1 5 1 24 1 19 1 2 1 2 1 10 1 13 1 9999"/><path d="M202 1921.7h1351" stroke="#573b38" stroke-dasharray="2 107 1 36 1 59 1 47 1 64 1 17 1 84 1 15 1 15 1 65 1 7 1 60 1 13 1 14 1 5 1 141 1 48 1 16 1 77 1 2 1 76 1 124 1 5 1 34 1 16 1 12 1 43 1 29 1 20 1 68 1 9999"/><path d="M209 1921.7h1369" stroke="#974" stroke-dasharray="4 153 1 49 1 64 1 15 1 16 1 13 1 83 1 46 1 33 1 210 1 2 1 11 1 8 1 8 1 10 1 135 1 214 2 89 1 14 1 23 1 23 1 50 1 62 1 9 1 9999"/><path d="M253 1921.7h1305" stroke="#6d4e3c" stroke-dasharray="1 23 1 71 1 69 1 29 2 16 2 2 1 46 1 44 1 4 1 7 1 3 1 19 1 15 1 4 1 7 1 12 1 21 1 31 1 8 1 3 1 2 1 6 1 93 1 127 1 9 1 41 2 30 1 11 1 13 1 39 1 9 1 16 1 5 1 24 2 36 3 29 2 27 1 40 2 21 1 33 1 10 1 2 1 8 1 17 1 7 1 46 1 4 1 24 1 17 1 57 1 8 1 9999"/><path d="M295 1921.7h1108" stroke="#63453b" stroke-dasharray="1 94 1 10 2 60 1 5 2 28 1 8 1 18 1 7 1 7 1 46 1 3 1 2 1 20 1 11 1 37 1 2 1 144 1 14 1 78 1 7 1 4 1 38 1 13 1 59 1 22 1 81 1 79 1 92 1 56 1 6 1 14 1 8 1 9999"/></g>
<rect x="103" y="1934.6" width="1031" height="26.4" fill="#a42baf"/>
<rect x="1137" y="1934.6" width="455" height="26.4" fill="#a42baf"/>
<g stroke-width="26.4" fill="none"><path d="M103 1947.8h1355" stroke="#646114" stroke-dasharray="2 4 3 1 2 4 4 10 6 2 1 4 2 8 1 1 6 9 7 8 1 4 3 5 3 9 1 5 1 2 2 3 1 5 3 3 1 11 1 3 1 7 2 4 1 7 3 10 1 5 2 2 1 20 1 3 2 5 2 16 2 3 1 1 2 3 2 3 1 5 3 1 1 4 1 1 2 2 2 1 3 5 2 6 2 6 1 4 3 1 1 2 1 5 8 4 2 2 2 4 1 3 2 10 4 2 2 12 2 6 1 5 2 12 1 3 1 4 2 39 1 34 1 2 1 6 1 1 1 17 1 7 1 118 1 17 1 10 1 53 1 44 1 20 1 1 1 19 1 18 1 37 1 6 1 1 1 23 1 3 1 35 2 10 1 1 1 4 1 14 1 19 1 28 6 4 2 14 4 3 1 13 1 11 2 1 2 4 6 3 3 1 1 4 2 8 2 4 2 8 2 4 3 9 1 1 1 4 1 3 5 20 2 1 1 16 1 2 1 4 1 5 1 20 1 12 2 8 1 9 1 51 1 5 1 9999"/><path d="M105 1947.8h1482" stroke="#514d12" stroke-dasharray="1 24 3 6 2 14 1 12 2 2 1 7 5 7 1 11 1 12 2 1 2 4 1 19 5 7 3 4 2 9 1 5 3 7 1 18 1 18 1 6 2 4 3 8 1 11 1 1 2 2 1 3 1 1 1 4 1 6 1 14 2 3 1 15 1 1 1 18 2 2 2 5 1 2 2 1 1 1 1 16 2 1 3 12 2 8 1 42 1 4 1 3 2 41 1 5 1 23 1 75 1 104 1 25 1 69 1 50 2 5 1 2 1 9 1 23 1 14 2 5 1 39 1 1 1 36 1 23 1 23 2 6 2 3 1 14 4 4 2 26 1 6 3 2 1 5 2 12 1 20 1 3 1 39 1 5 1 37 2 17 1 48 1 1 1 17 1 12 1 17 1 32 1 71 1 9999"/><path d="M106 1947.8h1465" stroke="#757118" stroke-dasharray="3 6 4 7 4 13 3 6 3 2 1 27 3 1 3 4 4 5 4 5 3 7 1 3 4 8 6 6 3 1 2 9 2 4 3 5 1 3 1 2 2 1 1 3 1 2 2 1 3 3 4 3 3 2 2 3 1 2 3 4 2 4 3 6 1 2 1 3 1 2 3 3 1 4 2 7 3 4 1 10 2 12 4 1 1 2 1 3 1 1 1 15 2 10 2 1 1 6 1 3 2 10 2 1 1 2 1 3 2 4 4 4 2 2 1 2 1 2 1 2 1 15 1 3 1 1 1 6 1 3 1 1 1 6 1 1 1 5 1 1 1 1 1 1 1 1 1 5 1 1 1 4 1 4 1 5 1 1 1 2 1 14 1 2 1 1 1 2 1 1 1 2 1 1 1 39 1 2 1 21 1 70 1 21 1 46 1 17 1 47 2 13 1 17 1 11 1 3 1 7 1 23 1 11 1 7 2 25 1 27 1 5 2 3 1 5 1 8 1 4 1 10 1 2 1 5 1 10 1 1 1 5 1 6 3 2 3 6 3 8 3 10 3 1 2 16 1 3 3 2 1 12 2 13 1 1 1 1 1 10 2 4 2 2 2 6 1 3 3 5 1 1 1 1 1 9 2 2 2 16 1 4 1 2 1 6 1 5 1 6 2 1 1 17 1 2 2 1 1 12 1 3 1 10 1 1 2 3 1 7 1 8 1 13 2 7 1 2 1 4 1 1 1 8 1 9 1 16 1 5 1 13 1 25 1 13 1 18 1 9999"/><path d="M112 1947.8h1448" stroke="#888418" stroke-dasharray="1 10 3 16 1 5 4 12 4 32 1 8 4 12 1 6 1 3 3 22 2 7 3 7 1 5 2 16 3 6 1 3 2 3 2 7 1 4 1 2 1 6 2 5 1 10 1 22 1 6 1 8 2 4 1 19 4 10 2 12 1 7 1 3 2 4 1 5 1 11 2 5 1 45 1 8 2 10 1 16 2 7 2 18 1 10 1 4 1 34 1 116 1 180 1 3 1 14 1 5 1 43 1 7 1 2 1 14 1 6 1 28 1 7 1 1 1 11 1 12 2 10 2 12 1 14 1 11 4 4 3 4 1 1 3 8 4 12 1 1 1 7 1 1 1 7 2 4 2 15 3 13 2 9 2 4 3 22 1 1 1 13 1 22 1 11 1 16 1 13 1 14 1 37 1 39 1 57 1 9999"/><path d="M170 1947.8h1413" stroke="#80475d" stroke-dasharray="2 121 2 100 2 125 1 34 1 13 1 1 1 1 1 7 1 5 2 34 1 11 2 40 1 13 1 3 1 9 1 2 1 8 1 2 2 64 1 8 1 2 1 11 1 13 1 27 1 7 1 3 1 7 1 23 1 10 1 5 1 2 1 4 1 11 1 6 1 5 1 20 1 7 2 7 1 6 1 15 1 1 1 9 1 6 1 5 1 1 1 4 1 37 1 9 1 9 1 18 1 6 1 69 1 47 2 21 1 37 1 8 1 13 1 28 1 2 1 33 1 1 1 8 1 1 1 22 1 19 1 36 1 37 1 4 1 4 2 12 1 4 1 7 1 11 1 8 1 9999"/><path d="M312 1947.8h1277" stroke="#894668" stroke-dasharray="1 199 1 22 1 11 1 29 1 31 1 92 1 10 1 6 1 5 1 3 1 2 1 68 1 43 1 16 1 42 1 56 1 6 1 24 1 31 1 5 1 3 1 12 1 8 1 13 1 16 1 7 1 5 1 5 1 165 1 105 1 19 1 4 1 10 1 5 1 14 1 26 1 36 1 3 1 19 1 27 1 4 1 2 1 11 1 2 1 5 1 3 1 9999"/><path d="M348 1947.8h1236" stroke="#7f3c66" stroke-dasharray="1 192 1 8 1 50 1 55 1 113 1 4 1 102 1 96 1 111 1 202 2 6 2 54 1 5 1 22 1 12 1 27 1 33 1 49 1 31 1 26 1 14 1 9999"/><path d="M401 1947.8h1187" stroke="#8d5062" stroke-dasharray="2 114 1 12 1 8 1 13 1 7 1 3 1 12 2 8 1 22 1 5 1 1 1 15 1 3 3 18 1 6 1 3 1 33 1 3 1 21 1 17 1 9 1 3 1 23 1 16 1 42 1 17 1 17 1 6 1 10 1 20 1 5 1 12 1 8 1 4 1 11 1 14 2 8 1 8 1 2 1 5 1 6 1 17 1 4 1 4 1 5 1 2 1 23 1 8 1 4 1 20 1 18 1 26 3 144 2 9 1 7 1 7 1 4 1 2 1 9 2 4 1 2 1 17 1 9 1 7 1 29 1 7 1 8 1 2 1 11 1 12 1 1 1 9 2 5 1 1 1 6 1 12 1 9 1 24 1 2 1 6 1 27 1 1 1 9999"/><path d="M417 1947.8h1160" stroke="#955b5f" stroke-dasharray="2 99 1 29 1 53 1 92 1 115 1 6 1 15 2 13 1 1 1 26 1 14 1 13 1 64 1 65 1 43 1 38 1 5 1 220 1 78 1 3 1 8 1 19 1 15 1 16 2 25 1 9 1 21 1 9 1 13 1 9999"/><path d="M476 1947.8h1106" stroke="#9a546b" stroke-dasharray="1 43 1 31 1 9 1 23 1 4 1 13 1 21 1 2 1 20 1 3 1 68 1 20 1 22 1 3 1 5 1 16 1 20 1 25 1 9 1 77 1 14 1 11 1 22 1 32 1 6 1 26 2 3 1 22 1 19 1 158 1 6 2 46 1 12 1 26 1 4 1 17 1 43 1 4 1 16 1 28 1 2 1 17 1 6 1 4 1 64 1 15 1 9999"/><path d="M508 1947.8h1029" stroke="#72395c" stroke-dasharray="1 12 1 4 2 12 1 2 1 71 1 54 1 6 1 68 1 38 1 12 1 21 1 1 1 93 1 41 2 42 2 51 1 13 1 10 1 33 1 214 1 39 1 6 1 14 1 50 1 29 1 5 1 25 1 31 1 9999"/><path d="M514 1947.8h972" stroke="#a26366" stroke-dasharray="1 233 1 83 1 12 1 11 1 53 1 17 1 38 1 56 1 3 1 82 1 307 1 64 1 9999"/><path d="M531 1947.8h828" stroke="#ac6e67" stroke-dasharray="1 124 1 279 1 230 2 136 1 34 1 17 1 9999"/><path d="M610 1947.8h955" stroke="#662d57" stroke-dasharray="1 280 1 3 1 95 1 379 1 124 1 67 1 9999"/><path d="M934 1947.8h625" stroke="#702e63" stroke-dasharray="1 38 1 20 1 89 1 265 1 58 1 77 1 70 1 9999"/></g>
<rect x="103" y="1960.6" width="1031" height="26.4" fill="#240c2a"/>
<rect x="1137" y="1960.6" width="455" height="26.4" fill="#240c2a"/>
<g stroke-width="26.4" fill="none"><path d="M107 1973.8h1003" stroke="#7e7224" stroke-dasharray="2 183 1 26 2 242 1 8 1 137 1 34 1 363 1 9999"/><path d="M119 1973.8h1025" stroke="#bbba1e" stroke-dasharray="4 1020 1 9999"/><path d="M126 1973.8h1387" stroke="#706424" stroke-dasharray="2 141 1 43 1 22 1 74 2 69 1 2 1 19 2 11 1 64 1 6 1 3 1 18 1 211 1 132 1 204 2 33 3 130 1 92 1 87 1 9999"/><path d="M148 1973.8h1355" stroke="#786c24" stroke-dasharray="4 218 2 97 2 332 1 238 1 44 1 187 1 96 1 10 1 118 1 9999"/><path d="M152 1973.8h1258" stroke="#665a24" stroke-dasharray="1 813 1 26 1 193 2 220 1 9999"/><path d="M153 1973.8h463" stroke="#40361e" stroke-dasharray="2 460 1 9999"/><path d="M180 1973.8h1121" stroke="#5e5224" stroke-dasharray="2 42 1 51 1 168 1 35 1 7 1 124 1 187 1 15 1 39 1 59 1 35 1 19 1 88 1 225 2 8 2 9999"/><path d="M215 1973.8h1290" stroke="#84772a" stroke-dasharray="2 65 3 15 1 43 2 33 2 2 1 81 1 93 1 78 1 298 1 177 1 55 1 30 2 31 1 43 1 224 1 9999"/><path d="M217 1973.8h1308" stroke="#8a7e2a" stroke-dasharray="2 41 1 335 1 10 1 58 1 198 1 32 1 92 1 101 1 110 2 15 1 16 1 6 2 39 1 75 1 148 1 12 1 9999"/><path d="M251 1973.8h1275" stroke="#483c1e" stroke-dasharray="1 246 1 697 1 77 1 250 1 9999"/><path d="M291 1973.8h1" stroke="#7e6c24"/><path d="M335 1973.8h1083" stroke="#544824" stroke-dasharray="1 1081 1 9999"/><path d="M378 1973.8h1" stroke="#c0c01e"/><path d="M497 1973.8h1068" stroke="#4e4224" stroke-dasharray="1 99 1 799 1 166 1 9999"/><path d="M1223 1973.8h2" stroke="#3c301e"/></g>
<rect x="103" y="1986.7" width="1031" height="26.4" fill="#591e63"/>
<rect x="1137" y="1986.7" width="455" height="26.4" fill="#591e63"/>
<g stroke-width="26.4" fill="none"><path d="M103 1999.9h1383" stroke="#a4a11b" stroke-dasharray="2 6 1 7 4 9 1 10 5 7 1 3 2 15 2 2 2 6 1 11 1 24 1 10 3 43 3 2 1 2 1 22 1 5 2 1 2 1 2 12 1 4 2 8 1 6 3 12 1 4 1 2 1 5 1 49 1 6 1 7 1 26 1 53 1 8 2 6 1 1 2 2 1 12 1 11 1 25 1 1 1 20 1 3 1 4 1 33 1 102 1 11 1 64 1 61 1 30 1 21 1 13 1 19 1 33 1 24 1 36 1 13 1 8 1 54 3 8 2 5 1 8 1 7 2 3 2 18 2 10 2 28 1 5 2 2 2 2 2 84 1 22 1 31 1 13 1 2 1 13 1 14 1 2 1 9999"/><path d="M105 1999.9h1377" stroke="#827e18" stroke-dasharray="1 17 3 8 3 21 1 26 2 21 1 65 4 2 2 9 1 1 2 15 1 35 3 6 1 10 1 11 1 20 2 26 1 18 1 1 3 8 2 3 1 2 2 7 1 16 2 6 4 14 1 18 1 24 2 11 1 26 1 108 1 129 1 47 1 25 1 45 1 21 1 4 1 16 1 15 1 39 1 18 1 46 1 8 3 3 1 1 6 4 2 16 1 11 2 8 1 21 2 16 1 5 2 14 2 1 1 10 2 4 1 19 2 44 1 1 1 16 1 16 1 2 1 4 1 12 1 25 1 54 1 9999"/><path d="M106 1999.9h1356" stroke="#beba1e" stroke-dasharray="1 5 3 1 1 11 1 13 1 5 5 3 1 30 1 32 2 7 1 39 1 3 1 18 1 14 3 2 1 18 1 5 2 19 1 6 1 13 2 4 1 39 1 31 1 3 1 3 1 7 2 12 2 21 1 2 1 4 1 14 1 39 1 20 1 73 1 72 1 27 1 47 1 2 1 22 1 10 1 111 1 7 1 12 1 61 1 27 1 8 1 4 1 29 1 19 1 12 1 3 1 6 2 8 3 14 1 8 1 32 1 31 1 6 1 6 1 1 1 3 1 25 1 37 1 29 1 44 1 5 1 11 1 17 1 9999"/><path d="M107 1999.9h1401" stroke="#5a3d38" stroke-dasharray="2 80 3 30 2 4 1 11 1 37 2 23 4 14 1 18 3 25 2 25 2 26 2 6 2 20 2 3 1 30 1 33 1 30 1 6 1 21 1 2 1 22 1 16 1 25 1 18 1 33 1 81 1 50 1 12 1 54 1 8 1 23 1 117 1 32 1 1 1 103 1 16 1 23 1 16 1 52 1 15 1 27 1 9 1 76 1 45 1 6 1 15 1 9999"/><path d="M109 1999.9h1479" stroke="#705637" stroke-dasharray="2 141 1 77 1 12 1 12 1 25 1 26 1 11 2 3 1 14 1 9 2 10 1 11 1 10 1 12 1 7 1 13 1 4 1 16 1 6 1 31 1 2 1 5 1 3 1 26 1 6 1 27 1 23 1 28 1 6 1 74 1 7 1 63 1 81 1 16 1 37 1 48 3 5 1 55 1 78 2 32 2 4 1 40 1 18 2 25 1 19 1 8 1 16 1 1 1 7 1 29 1 22 1 70 1 11 1 25 1 42 2 4 1 9999"/><path d="M115 1999.9h1469" stroke="#7d5c41" stroke-dasharray="1 111 1 20 4 4 2 131 1 3 2 8 2 14 1 9 2 8 1 2 1 2 1 10 1 9 1 4 1 28 1 15 1 41 1 11 1 18 1 10 1 40 1 9 1 18 1 49 1 10 1 80 1 39 1 12 1 13 1 54 1 23 1 13 1 19 1 6 1 8 1 2 1 1 1 4 1 22 1 24 1 11 1 3 1 10 1 10 1 24 1 2 1 38 1 12 1 36 1 3 1 5 2 3 1 10 1 11 1 1 2 4 1 10 1 22 2 1 1 6 1 4 1 9 2 18 1 17 1 7 1 5 1 9 2 3 3 6 1 2 1 1 2 7 1 1 2 26 1 17 1 13 1 7 1 7 1 19 1 5 1 8 1 5 1 11 1 12 1 17 1 4 1 9999"/><path d="M117 1999.9h1395" stroke="#6a6716" stroke-dasharray="2 14 1 65 1 13 1 87 1 65 1 39 1 120 1 58 1 28 1 17 1 435 1 34 1 68 1 14 1 48 1 10 2 34 1 72 1 18 1 20 1 10 1 13 1 80 1 6 1 9999"/><path d="M126 1999.9h1426" stroke="#949118" stroke-dasharray="2 1 3 5 5 11 2 2 1 24 3 7 1 2 1 36 1 27 1 4 2 3 1 15 1 1 2 27 2 17 1 12 1 3 1 16 2 1 3 10 1 18 2 1 1 1 1 2 2 5 1 7 1 6 2 46 2 6 2 2 3 31 1 38 1 23 1 9 1 18 1 1 1 1 1 10 1 36 1 29 1 77 1 8 1 20 1 4 1 72 1 71 1 2 2 15 1 14 3 27 1 21 1 11 1 50 1 10 1 17 1 1 1 1 1 22 4 16 2 34 2 18 4 56 1 1 1 18 1 6 1 205 1 11 1 1 1 9999"/><path d="M161 1999.9h1429" stroke="#4a1854" stroke-dasharray="2 5 5 5 2 16 3 5 1 4 4 2 2 2 1 21 4 1 2 47 3 2 1 23 1 27 1 58 2 24 2 46 1 23 1 2 1 12 1 9 1 1 1 37 1 1 1 1 1 1 1 17 1 7 2 9 1 24 2 2 2 5 1 7 2 1 2 16 3 3 1 1 1 2 3 3 1 1 1 3 1 1 1 5 3 8 1 7 1 3 1 4 1 6 1 2 1 2 1 3 2 3 3 6 3 1 2 1 1 1 2 1 2 2 1 4 1 2 1 3 1 2 5 5 2 8 2 4 2 8 1 7 1 6 1 1 1 2 1 2 1 3 1 9 1 2 2 1 1 1 2 5 1 2 2 5 1 5 1 8 1 3 1 3 1 2 1 1 2 19 2 2 2 3 1 6 1 1 1 5 1 24 1 3 1 2 1 13 1 1 1 3 5 4 1 1 1 4 1 2 1 8 1 5 1 3 1 2 1 6 1 19 3 9 4 8 1 3 1 3 1 82 3 42 2 11 1 7 1 33 1 2 1 7 1 3 1 3 1 6 1 2 1 2 1 1 1 8 1 2 1 16 3 8 1 6 1 11 1 7 1 2 1 5 1 26 1 1 1 2 1 3 1 1 1 7 1 7 2 3 1 8 2 2 1 10 1 1 1 4 1 4 1 10 1 4 1 2 1 9 1 8 1 5 1 1 2 3 1 2 1 2 1 1 1 5 1 7 2 9999"/><path d="M193 1999.9h1387" stroke="#967643" stroke-dasharray="2 6 3 20 1 8 3 35 2 61 1 15 2 7 2 40 2 13 1 52 2 8 2 70 1 5 1 35 1 7 1 26 1 2 1 35 1 9 1 15 1 50 1 43 1 9 1 46 1 67 1 5 1 22 1 16 1 8 1 11 1 9 2 1 1 46 1 4 1 1 1 32 1 45 1 30 1 49 2 20 2 38 2 8 1 34 1 52 1 45 1 20 1 36 1 24 1 24 1 57 1 9999"/><path d="M205 1999.9h1387" stroke="#644b35" stroke-dasharray="3 47 1 6 3 62 1 7 1 51 1 117 2 1 1 35 1 2 1 17 1 22 1 1 1 22 1 10 1 5 1 29 1 3 1 42 1 15 1 24 1 53 1 19 1 13 1 67 1 4 1 13 1 21 1 32 1 30 1 62 1 3 1 2 1 18 1 1 1 2 1 12 1 158 1 7 1 31 1 44 1 2 1 6 2 49 1 13 1 1 1 1 1 2 1 2 1 30 2 17 1 5 1 73 1 8 1 6 1 9999"/><path d="M217 1999.9h1370" stroke="#886a3e" stroke-dasharray="2 26 1 21 2 16 1 42 2 2 2 49 1 4 1 28 2 122 1 7 1 12 1 4 1 3 1 8 1 17 1 12 1 3 1 114 1 14 2 10 1 5 1 7 1 12 1 33 1 27 1 27 1 18 1 16 1 1 1 19 1 4 1 3 1 11 1 41 1 36 1 2 1 8 1 8 2 4 1 7 1 3 1 12 1 17 1 10 1 48 3 39 2 10 1 31 1 14 2 52 1 23 1 5 1 35 1 6 1 8 1 1 1 22 1 23 1 2 1 5 1 2 1 2 1 9 1 16 1 2 1 30 1 2 1 2 1 17 1 3 1 5 1 4 2 2 1 2 1 2 1 12 1 9999"/><path d="M226 1999.9h1340" stroke="#7a6234" stroke-dasharray="1 34 1 40 1 11 2 75 2 50 2 75 1 6 1 2 1 3 1 7 1 23 1 52 1 12 1 22 1 42 1 23 1 1 1 4 1 168 1 2 1 48 1 74 1 11 1 61 1 78 1 3 2 14 3 153 1 37 1 3 1 30 1 55 1 55 1 6 1 18 1 9999"/><path d="M253 1999.9h1319" stroke="#462f2f" stroke-dasharray="2 109 1 32 2 149 1 227 1 22 1 73 1 55 1 5 1 12 1 21 1 6 1 16 1 117 1 38 3 18 1 133 1 48 1 1 1 151 1 61 1 9999"/><path d="M258 1999.9h1259" stroke="#6e4c40" stroke-dasharray="2 51 1 103 1 17 2 37 1 25 1 18 1 42 1 44 2 7 1 2 1 21 1 34 1 22 1 1 1 93 1 15 1 65 1 15 1 30 1 50 1 9 1 2 1 23 1 22 1 8 1 20 1 10 1 12 1 30 1 14 1 25 3 40 2 22 1 26 1 64 1 18 1 27 1 31 1 89 1 9 1 18 1 9999"/></g>
<rect x="103" y="2012.8" width="1031" height="26.4" fill="#591e62"/>
<rect x="1137" y="2012.8" width="455" height="26.4" fill="#591e62"/>
<g stroke-width="26.4" fill="none"><path d="M103 2025.9h1485" stroke="#836e32" stroke-dasharray="2 135 1 50 1 3 1 32 2 77 1 225 1 50 1 11 1 119 1 73 1 73 1 37 1 13 1 21 1 34 1 15 1 12 1 113 1 56 1 7 1 30 1 13 1 3 1 15 1 47 1 13 1 69 1 32 1 8 1 43 1 22 1 9999"/><path d="M105 2025.9h1474" stroke="#8b6b41" stroke-dasharray="1 11 6 33 1 39 3 2 1 75 1 23 1 23 2 3 1 9 3 1 2 12 1 5 1 32 2 11 1 18 2 34 2 61 1 24 1 10 1 32 1 5 1 5 1 20 1 66 1 16 1 34 1 24 2 27 1 68 1 13 1 11 1 31 1 49 1 11 1 4 1 25 1 3 1 42 1 13 1 52 2 28 2 5 1 6 1 14 1 25 1 31 1 52 1 5 1 6 1 2 1 16 1 31 1 26 1 1 1 20 1 14 1 32 1 59 1 6 1 28 1 11 1 9999"/><path d="M107 2025.9h1479" stroke="#491853" stroke-dasharray="2 2 1 17 1 3 1 8 1 14 1 1 2 2 1 4 2 6 4 28 1 4 6 1 5 2 2 3 1 8 2 2 3 14 1 41 3 9 1 4 1 9 1 3 1 1 2 11 2 13 1 11 2 3 1 4 1 2 1 10 2 25 1 2 2 8 1 1 2 1 2 27 2 23 1 6 1 1 1 2 2 1 1 1 1 8 1 6 1 2 1 29 1 11 1 2 2 1 2 4 2 7 1 10 1 6 1 7 1 12 1 4 1 1 2 5 1 3 1 2 1 1 1 1 1 2 1 11 1 4 1 10 1 5 1 4 2 8 3 9 1 1 1 1 1 2 1 4 1 1 1 5 2 4 4 1 1 4 2 2 2 1 1 2 1 2 1 9 1 3 1 3 2 1 1 1 1 6 2 6 2 1 3 1 1 1 2 2 6 1 3 1 2 9 1 3 1 2 1 2 2 7 3 5 1 1 1 1 1 2 1 1 1 1 1 8 2 2 1 3 1 5 1 3 1 2 2 3 1 1 1 2 2 2 1 1 1 7 1 13 1 7 1 11 1 2 1 4 1 5 2 7 3 2 1 3 1 4 1 6 1 1 1 2 2 9 1 6 2 11 1 5 1 18 1 2 1 6 1 3 1 9 2 2 1 2 2 5 3 10 1 27 4 6 1 19 1 5 1 27 2 1 1 22 4 10 2 2 1 11 1 3 1 5 2 15 1 10 1 14 1 2 1 2 1 4 1 17 1 4 1 1 1 16 1 25 2 4 2 4 2 3 1 9 1 2 2 1 1 3 2 2 2 21 1 1 1 1 1 2 2 14 3 1 1 2 1 4 1 2 1 2 3 4 1 2 1 4 1 1 1 2 1 5 1 1 4 3 1 5 1 5 1 3 2 2 1 8 1 4 1 9999"/><path d="M109 2025.9h1353" stroke="#aaa51d" stroke-dasharray="2 28 2 2 3 59 3 31 1 33 1 16 1 11 1 8 1 5 2 13 2 49 1 78 1 9 1 30 2 18 1 8 1 22 1 24 1 5 1 6 1 8 1 25 1 66 1 85 1 62 1 87 1 12 1 15 1 44 1 40 1 12 1 25 1 83 1 11 2 9 2 22 2 9 1 16 2 27 1 18 2 24 1 11 1 5 1 4 1 1 1 19 1 16 1 10 1 57 1 6 1 3 1 9999"/><path d="M112 2025.9h1466" stroke="#72523e" stroke-dasharray="1 39 1 233 1 16 2 8 2 82 1 12 1 8 1 23 1 12 1 43 1 12 1 13 1 29 1 13 1 48 1 51 1 29 1 9 1 53 1 48 1 23 1 56 1 44 1 6 1 13 1 63 1 31 1 38 1 36 1 81 1 12 1 32 1 2 1 12 1 18 1 60 2 2 1 10 1 41 1 61 1 9999"/><path d="M113 2025.9h1467" stroke="#80623d" stroke-dasharray="2 57 4 12 1 4 2 79 2 22 2 34 1 1 1 30 1 25 1 14 1 11 1 4 1 7 2 22 1 19 2 2 1 48 1 4 1 14 1 7 1 13 1 49 1 11 1 5 1 3 1 6 1 16 1 4 1 47 1 29 1 46 1 10 1 158 1 12 1 47 2 27 1 4 1 7 1 25 1 11 2 22 1 5 1 66 1 24 2 2 1 25 2 32 2 44 1 47 1 41 1 13 1 9 1 32 1 15 1 29 1 3 1 40 1 9999"/><path d="M116 2025.9h1473" stroke="#a58346" stroke-dasharray="1 17 5 48 1 66 1 33 2 63 1 3 1 10 2 19 1 65 1 17 2 20 2 25 1 4 1 14 1 6 1 23 1 2 1 29 1 35 1 19 1 12 1 14 1 54 1 25 1 39 1 8 1 24 1 36 1 6 1 58 1 17 1 2 1 7 1 13 1 2 1 22 1 27 1 3 2 48 1 22 1 9 1 100 1 88 1 5 1 22 1 4 1 22 1 2 1 19 1 12 1 5 1 13 1 3 1 31 1 23 1 26 1 25 1 4 1 22 1 11 1 9999"/><path d="M123 2025.9h1464" stroke="#dad524" stroke-dasharray="3 6 1 52 2 5 1 2 1 3 1 80 2 5 1 26 2 23 1 6 2 18 1 3 2 13 1 31 2 39 1 28 2 74 1 44 1 14 2 39 1 12 1 45 1 45 1 8 1 203 1 2 1 19 1 25 1 4 1 30 1 4 1 51 1 18 1 7 3 31 2 99 1 10 2 6 1 57 1 34 1 6 1 1 1 12 1 73 1 8 1 54 1 24 1 2 1 9999"/><path d="M141 2025.9h1444" stroke="#9a7745" stroke-dasharray="1 88 2 20 1 3 2 24 3 64 1 9 2 20 1 12 1 94 1 3 2 25 1 10 1 2 1 11 1 10 1 21 1 21 1 17 1 16 1 13 1 56 1 10 1 66 1 5 1 87 1 4 1 8 1 22 1 2 1 9 1 10 1 10 1 4 1 16 1 19 1 59 1 2 2 1 1 8 1 6 1 16 1 10 1 10 1 2 1 5 1 17 1 2 5 60 1 29 2 2 2 20 2 48 1 17 2 32 1 28 1 9 1 3 1 2 1 5 1 46 1 14 1 8 1 1 2 20 1 9 1 3 1 26 1 26 1 1 1 9999"/><path d="M146 2025.9h1414" stroke="#90753b" stroke-dasharray="2 77 1 17 2 10 1 7 2 83 1 23 4 3 2 10 2 16 1 1 2 10 1 2 1 10 2 17 1 4 1 29 2 8 2 8 1 13 1 13 1 4 1 7 1 24 1 11 1 15 1 5 2 19 1 37 1 10 1 22 1 6 1 18 1 15 1 15 1 38 1 49 1 49 1 21 1 2 1 20 1 11 1 2 1 13 1 10 1 13 1 16 1 21 1 3 1 9 1 22 1 1 1 35 1 9 1 1 1 37 2 4 2 37 3 6 2 8 2 22 1 3 2 1 1 8 2 6 1 21 2 8 2 3 1 39 1 3 1 12 1 5 1 10 1 1 1 12 1 23 1 23 1 15 1 8 1 9 1 4 1 14 2 11 1 9 1 29 1 9999"/><path d="M148 2025.9h1253" stroke="#685034" stroke-dasharray="4 12 4 61 1 212 1 71 1 32 1 22 1 58 1 25 1 66 1 77 1 107 1 2 1 38 1 53 1 23 1 8 1 57 1 82 1 19 3 20 1 25 1 104 1 31 1 15 1 9999"/><path d="M153 2025.9h1349" stroke="#c2be1f" stroke-dasharray="2 27 3 17 2 57 1 3 2 2 2 7 2 27 3 45 1 32 1 10 2 4 2 8 1 5 2 28 2 6 2 3 1 17 1 7 1 14 2 31 1 15 1 14 1 17 1 6 1 12 1 6 1 1 1 1 1 2 1 54 1 21 1 143 1 22 1 71 1 11 1 58 1 17 1 5 1 31 1 1 1 24 1 6 1 2 1 14 1 12 2 26 1 17 3 1 2 3 1 2 2 15 2 8 2 11 1 8 1 31 1 7 1 5 1 1 1 18 1 7 1 27 1 5 1 23 2 9 1 51 1 3 1 23 1 24 1 15 1 9999"/><path d="M158 2025.9h1418" stroke="#775d38" stroke-dasharray="1 112 2 13 1 32 2 3 1 29 1 108 1 5 2 28 1 37 1 23 2 29 1 2 1 39 1 31 1 25 1 25 1 60 1 7 1 58 1 43 1 11 1 1 1 47 1 3 1 16 1 58 1 40 1 7 1 13 1 52 2 97 1 10 1 27 2 35 1 24 1 5 1 60 1 8 2 2 2 3 1 49 1 50 1 18 1 7 1 10 1 1 1 9999"/><path d="M276 2025.9h1316" stroke="#573f33" stroke-dasharray="1 45 2 37 1 512 1 37 1 41 1 17 1 108 1 219 2 15 1 28 1 35 1 90 1 12 1 8 1 94 1 9999"/><path d="M445 2025.9h1126" stroke="#8b8818" stroke-dasharray="1 99 1 19 1 60 1 52 1 107 1 107 1 114 1 11 1 70 1 19 1 78 1 9 2 9 1 61 1 74 1 95 1 123 1 9999"/></g>
<rect x="103" y="2038.8" width="1031" height="26.4" fill="#120c18"/>
<rect x="1137" y="2038.8" width="455" height="26.4" fill="#120c18"/>
<g stroke-width="26.4" fill="none"><path d="M133 2052h1" stroke="#666018"/><path d="M164 2052h4" stroke="#c6c01e"/><path d="M168 2052h973" stroke="#c0ba1e" stroke-dasharray="2 970 1 9999"/><path d="M170 2052h2" stroke="#cccc24"/><path d="M180 2052h2" stroke="#484218"/><path d="M243 2052h2" stroke="#7e721e"/><path d="M282 2052h3" stroke="#4e4818"/><path d="M295 2052h1014" stroke="#78721e" stroke-dasharray="1 278 1 733 1 9999"/><path d="M296 2052h1121" stroke="#847e1e" stroke-dasharray="2 66 1 20 1 69 1 960 1 9999"/><path d="M304 2052h3" stroke="#786c1e"/><path d="M384 2052h725" stroke="#7e781e" stroke-dasharray="1 94 2 627 1 9999"/><path d="M399 2052h223" stroke="#84781e" stroke-dasharray="2 94 2 124 1 9999"/><path d="M523 2052h1" stroke="#5a5418"/><path d="M1074 2052h1" stroke="#6c6618"/><path d="M1316 2052h187" stroke="#726c1e" stroke-dasharray="1 185 1 9999"/></g>
<rect x="103" y="2064.8" width="1031" height="26.4" fill="#120c18"/>
<rect x="1137" y="2064.8" width="455" height="26.4" fill="#120c18"/>
<g stroke-width="26.4" fill="none"><path d="M164 2078h1017" stroke="#786c1e" stroke-dasharray="4 1011 2 9999"/><path d="M168 2078h417" stroke="#847e1e" stroke-dasharray="2 352 1 17 1 43 1 9999"/><path d="M173 2078h1300" stroke="#726c1e" stroke-dasharray="3 119 3 225 1 65 1 760 1 121 1 9999"/><path d="M225 2078h846" stroke="#544818" stroke-dasharray="1 844 1 9999"/><path d="M251 2078h1160" stroke="#666018" stroke-dasharray="1 11 2 39 3 140 1 962 1 9999"/><path d="M258 2078h883" stroke="#5a5418" stroke-dasharray="2 183 2 695 1 9999"/><path d="M382 2078h592" stroke="#6c661e" stroke-dasharray="1 590 1 9999"/><path d="M477 2078h2" stroke="#6c6018"/><path d="M556 2078h823" stroke="#7e781e" stroke-dasharray="1 821 1 9999"/><path d="M942 2078h283" stroke="#544e18" stroke-dasharray="1 280 2 9999"/><path d="M986 2078h1" stroke="#665a18"/><path d="M1536 2078h1" stroke="#6c6618"/><path d="M1546 2078h1" stroke="#7e721e"/></g>
<rect x="103" y="2090.9" width="1031" height="26.4" fill="#120c18"/>
<rect x="1137" y="2090.9" width="455" height="26.4" fill="#120c18"/>
<g stroke-width="26.4" fill="none"><path d="M105 2104.1h1452" stroke="#84781e" stroke-dasharray="1 1450 1 9999"/><path d="M133 2104.1h1321" stroke="#726c1e" stroke-dasharray="1 1017 3 299 1 9999"/><path d="M215 2104.1h2" stroke="#302412"/><path d="M251 2104.1h844" stroke="#6c661e" stroke-dasharray="1 842 1 9999"/><path d="M262 2104.1h1063" stroke="#847e1e" stroke-dasharray="1 17 1 5 1 8 1 8 3 140 1 136 1 7 1 43 1 687 1 9999"/><path d="M263 2104.1h785" stroke="#6a6018" stroke-dasharray="2 148 2 632 1 9999"/><path d="M408 2104.1h1" stroke="#484218"/><path d="M427 2104.1h1" stroke="#78721e"/><path d="M443 2104.1h616" stroke="#7e781e" stroke-dasharray="2 613 1 9999"/><path d="M457 2104.1h1" stroke="#605418"/><path d="M458 2104.1h632" stroke="#605a18" stroke-dasharray="1 134 1 495 1 9999"/><path d="M671 2104.1h1" stroke="#483c18"/><path d="M1140 2104.1h1" stroke="#786c1e"/><path d="M1197 2104.1h1" stroke="#665a18"/><path d="M1432 2104.1h1" stroke="#7e721e"/></g>
<rect x="103" y="2116.9" width="1031" height="26.4" fill="#33133b"/>
<rect x="1137" y="2116.9" width="455" height="26.4" fill="#33133b"/>
<g stroke-width="26.4" fill="none"><path d="M103 2130.1h1334" stroke="#a8a41d" stroke-dasharray="2 1 3 3 1 20 1 19 2 2 1 34 1 33 1 13 1 4 3 28 1 77 1 21 2 42 1 28 2 59 1 201 1 125 1 357 1 19 1 19 1 40 1 19 2 79 1 15 1 41 1 9999"/><path d="M105 2130.1h1346" stroke="#807d18" stroke-dasharray="1 46 1 11 4 20 1 31 2 5 1 2 2 11 2 6 1 2 1 7 3 8 1 8 3 3 2 3 2 84 2 22 2 14 1 28 1 4 2 14 2 16 2 1 1 6 1 136 1 7 1 33 1 45 1 65 1 2 1 116 1 4 1 60 1 85 1 44 1 5 1 31 1 19 2 45 3 20 1 1 1 1 1 5 2 2 1 34 1 85 1 81 1 9999"/><path d="M109 2130.1h1475" stroke="#5d4b2c" stroke-dasharray="2 2 2 61 2 4 3 4 3 3 4 6 4 43 1 17 1 20 1 6 2 19 2 13 1 47 1 28 2 3 1 12 2 60 2 29 1 26 1 7 1 3 1 11 1 6 1 16 1 9 1 10 1 69 1 10 1 15 1 33 1 81 2 2 1 7 1 67 1 7 1 35 1 27 1 12 1 1 1 65 1 20 1 5 1 73 2 12 2 3 1 12 1 6 2 1 2 5 2 7 2 1 1 1 1 47 1 27 1 6 1 5 1 13 1 5 1 8 1 30 1 19 1 3 1 18 1 13 1 36 1 51 1 57 1 1 1 9999"/><path d="M111 2130.1h1424" stroke="#6b5d27" stroke-dasharray="1 22 3 63 1 57 2 54 2 15 1 33 1 4 2 14 2 7 2 10 1 7 1 26 1 60 2 15 1 27 1 14 1 1 1 1 2 9 1 49 1 8 1 60 1 8 1 26 1 28 1 17 1 22 1 6 1 92 1 9 1 10 1 23 1 22 1 8 1 38 1 9 1 20 1 22 1 41 1 9 1 40 2 3 1 5 1 2 1 35 2 36 2 12 2 2 1 97 1 11 1 38 1 26 1 50 2 32 1 9999"/><path d="M117 2130.1h1474" stroke="#564a24" stroke-dasharray="2 11 2 10 1 35 2 39 1 4 1 4 1 6 4 96 1 16 1 12 1 34 2 18 2 12 2 2 1 7 1 19 2 10 2 20 2 25 1 11 1 25 1 37 1 3 1 17 1 29 1 43 1 1 1 39 1 66 1 11 1 1 1 23 1 31 1 25 1 15 2 44 1 22 1 3 1 31 1 4 1 54 1 17 1 1 1 34 1 2 1 4 6 18 1 57 2 5 1 14 1 14 1 30 2 43 1 15 1 3 1 27 1 35 1 3 1 59 2 68 1 27 1 9999"/><path d="M123 2130.1h1469" stroke="#271130" stroke-dasharray="3 2 1 8 2 22 3 9 3 23 1 4 1 23 1 3 1 23 2 22 1 14 3 2 2 1 4 5 1 9 2 48 1 10 1 4 3 18 1 7 2 24 2 10 1 1 1 4 1 3 1 6 2 1 3 6 1 3 1 15 3 1 1 1 2 3 1 2 1 13 2 3 1 5 1 8 1 5 1 2 1 8 1 9 2 3 1 1 1 1 1 1 2 2 1 2 1 1 1 3 1 5 1 4 2 1 1 2 1 1 1 4 1 2 1 5 1 4 1 1 2 1 1 4 1 1 1 2 2 2 4 1 2 1 1 9 3 2 1 3 2 1 1 1 2 5 1 9 1 5 2 8 1 1 3 1 1 4 2 1 1 1 2 3 1 1 1 2 1 3 1 2 2 2 1 3 1 1 1 3 1 3 1 1 1 1 1 1 3 11 1 6 4 6 1 4 1 5 1 1 1 1 1 2 1 3 1 7 1 4 1 2 1 3 7 1 1 2 1 3 2 4 1 4 1 1 2 3 1 2 1 2 3 16 1 4 1 3 1 1 1 5 1 2 2 1 1 1 1 3 1 3 1 3 2 3 6 5 1 7 1 1 1 3 1 1 1 2 1 7 1 3 1 9 3 2 1 4 1 5 1 9 1 1 1 1 2 2 1 4 1 1 1 1 2 4 1 2 1 3 1 1 1 3 1 3 5 7 2 1 1 1 1 4 2 8 1 4 1 2 1 8 2 1 1 1 1 1 2 6 1 5 4 36 2 6 2 6 1 20 1 11 1 4 2 8 2 23 1 9 1 21 1 3 1 2 1 2 1 3 2 2 1 11 1 10 1 3 1 2 4 5 1 2 2 2 1 1 1 1 2 3 1 5 1 4 2 3 2 8 1 2 2 1 2 2 1 1 1 7 1 3 1 5 1 1 2 3 1 2 1 5 2 5 1 8 2 3 3 2 1 1 2 1 2 3 1 1 2 4 1 1 1 10 1 4 1 2 5 3 5 1 4 12 3 3 1 4 1 2 1 2 7 2 1 2 1 1 1 2 1 1 1 1 2 2 1 2 1 9999"/><path d="M132 2130.1h1354" stroke="#705e2f" stroke-dasharray="1 6 2 27 2 43 2 18 3 38 2 70 2 93 1 4 1 96 1 56 1 12 1 19 1 15 1 204 1 109 1 12 1 13 1 11 1 1 1 23 1 2 1 9 1 20 1 45 1 150 1 5 2 11 1 42 1 17 1 7 1 38 1 97 1 9999"/><path d="M141 2130.1h1447" stroke="#504127" stroke-dasharray="1 17 2 54 2 93 1 21 2 6 3 7 2 5 1 4 2 27 2 15 1 50 2 2 1 1 1 16 1 3 1 34 1 9 1 19 1 22 1 8 1 1 1 5 1 58 1 3 1 42 1 71 1 6 1 37 1 69 1 31 1 6 1 19 1 10 1 68 1 3 1 19 1 22 1 18 1 5 1 3 1 14 1 3 1 21 1 49 2 10 2 2 1 6 1 7 1 32 1 8 2 22 2 14 1 24 1 1 1 14 1 16 1 60 1 2 1 49 1 7 1 1 1 22 1 2 1 36 1 6 1 30 1 9999"/><path d="M143 2130.1h1369" stroke="#959118" stroke-dasharray="5 37 2 22 4 4 2 3 2 1 1 15 2 5 3 10 1 3 4 8 1 49 1 31 2 3 1 13 1 14 1 19 2 13 1 4 2 40 1 79 1 71 1 98 1 73 1 55 1 108 1 100 1 54 1 20 1 14 6 24 2 30 2 8 2 74 1 20 1 184 1 9999"/><path d="M148 2130.1h1423" stroke="#635229" stroke-dasharray="4 35 1 13 1 51 1 36 1 1 1 28 1 3 2 3 1 4 1 20 1 24 1 12 1 28 1 3 1 3 2 7 1 20 1 62 1 2 1 13 1 16 1 11 1 24 1 13 1 4 1 6 1 13 1 15 1 5 1 2 1 12 1 4 1 31 1 83 1 21 2 4 1 19 1 66 1 59 1 36 1 15 1 5 1 43 1 55 1 40 1 5 3 14 1 34 1 53 1 1 1 5 6 44 1 21 1 3 1 10 1 4 2 35 1 5 1 2 1 15 2 14 1 3 3 25 1 4 1 6 2 34 1 2 1 7 1 19 1 9999"/><path d="M155 2130.1h1246" stroke="#7b6a2d" stroke-dasharray="1 14 2 88 1 17 2 57 3 158 1 19 1 10 1 190 1 81 1 97 1 195 1 6 1 4 1 244 1 4 1 41 1 9999"/><path d="M180 2130.1h1376" stroke="#5c521d" stroke-dasharray="2 326 1 8 1 483 1 283 1 48 1 220 1 9999"/><path d="M307 2130.1h1235" stroke="#686716" stroke-dasharray="3 18 2 142 1 10 2 67 1 629 2 5 1 51 2 16 1 15 1 122 1 100 1 41 1 9999"/><path d="M313 2130.1h1148" stroke="#3d2e22" stroke-dasharray="1 85 2 94 2 90 1 446 1 66 1 96 3 100 2 127 1 29 1 9999"/><path d="M349 2130.1h1100" stroke="#463a24" stroke-dasharray="1 55 2 18 1 30 1 1 1 41 1 22 1 11 1 9 1 10 1 68 1 98 1 65 1 172 1 2 1 3 1 88 1 62 1 157 1 34 1 64 1 23 1 8 1 2 1 31 1 9999"/></g>
<rect x="103" y="2143" width="1031" height="26.4" fill="#35143f"/>
<rect x="1137" y="2143" width="455" height="26.4" fill="#35143f"/>
<g stroke-width="26.4" fill="none"><path d="M103 2156.2h1483" stroke="#6b5a2c" stroke-dasharray="2 11 1 75 1 35 1 1 2 22 1 31 1 9 2 5 4 15 2 6 1 24 1 22 1 18 4 2 2 22 1 20 1 4 2 2 1 32 1 6 1 3 2 13 1 12 1 4 1 16 1 59 1 7 1 11 1 26 1 14 1 1 1 114 1 43 1 15 1 4 1 45 1 3 1 4 1 24 1 60 1 7 1 3 1 22 1 11 1 13 1 1 1 2 1 7 1 3 1 6 1 22 1 5 1 14 1 17 1 48 1 2 1 45 2 17 3 18 1 1 1 27 1 5 1 39 1 21 1 50 1 2 1 34 1 4 1 11 1 2 1 1 1 17 1 21 1 4 1 12 1 12 1 11 1 1 2 8 1 9999"/><path d="M105 2156.2h1285" stroke="#bab71e" stroke-dasharray="1 22 1 1 2 14 2 9 1 132 1 36 1 11 1 13 1 630 1 120 1 15 1 2 1 12 3 29 1 40 3 21 1 60 2 6 1 39 2 22 1 21 1 9999"/><path d="M106 2156.2h1469" stroke="#63522b" stroke-dasharray="1 2 2 28 2 11 1 20 3 17 2 9 1 8 1 6 4 2 1 35 3 2 2 1 1 30 2 9 1 4 2 2 1 21 1 2 4 6 3 7 1 26 1 34 1 6 2 3 1 4 1 1 1 8 1 2 2 2 1 7 1 1 2 20 2 12 1 21 1 6 1 1 1 2 1 1 1 7 2 1 1 7 1 27 1 13 2 1 1 3 2 33 1 70 1 50 1 5 1 3 1 16 1 13 1 31 1 12 1 32 1 21 3 3 2 9 1 12 1 32 1 1 1 34 1 6 1 10 1 2 3 2 1 14 1 7 2 26 1 4 1 50 1 30 3 6 1 5 2 67 1 6 1 2 2 6 1 7 1 29 1 8 1 9 1 7 1 6 1 14 2 4 1 7 1 11 1 6 1 6 2 16 2 10 1 7 1 3 1 46 1 6 1 12 1 43 1 16 1 9999"/><path d="M107 2156.2h1406" stroke="#a9a61e" stroke-dasharray="2 10 4 14 2 2 1 1 3 12 1 92 2 81 1 48 1 21 2 62 2 4 1 34 1 52 1 8 1 16 1 122 1 165 1 92 1 25 1 3 1 143 6 14 2 5 1 5 1 44 2 38 2 55 1 5 1 27 1 157 1 9999"/><path d="M111 2156.2h1393" stroke="#9a9618" stroke-dasharray="2 13 2 4 1 9 1 10 2 4 2 7 2 15 2 61 3 2 1 159 2 50 1 15 1 3 1 88 1 7 1 10 1 32 1 277 1 14 1 75 1 26 1 88 1 90 2 15 2 4 1 13 2 2 2 2 1 23 2 2 1 54 1 4 1 33 1 56 1 9 1 44 1 21 1 9999"/><path d="M117 2156.2h1340" stroke="#514423" stroke-dasharray="2 42 2 42 3 7 2 10 1 28 2 150 1 156 1 25 1 63 1 66 1 48 1 6 1 196 1 29 1 20 1 74 1 53 2 88 2 8 2 55 1 23 1 34 1 8 1 75 1 9999"/><path d="M123 2156.2h1310" stroke="#8a8518" stroke-dasharray="3 7 1 153 3 26 1 14 1 12 2 22 2 16 1 28 1 168 1 124 1 354 1 21 1 10 1 43 2 30 1 52 1 77 1 127 1 9999"/><path d="M129 2156.2h1363" stroke="#735e30" stroke-dasharray="1 70 1 31 1 13 2 84 2 25 2 1 2 20 2 8 1 12 1 16 1 58 2 6 2 6 1 5 3 11 1 41 1 7 1 10 1 29 1 10 1 80 1 5 1 11 1 3 1 56 1 9 1 26 1 33 1 53 1 41 1 15 1 5 1 11 1 55 1 8 1 30 1 36 1 17 1 37 1 24 1 19 1 19 1 42 1 43 1 28 1 28 1 24 1 6 1 4 1 51 1 15 1 4 1 9999"/><path d="M134 2156.2h1453" stroke="#2b1233" stroke-dasharray="3 27 4 27 1 13 4 1 1 2 2 14 3 7 2 15 1 10 2 1 4 2 2 3 1 14 1 6 3 1 1 2 2 8 1 11 1 40 1 3 2 8 2 2 2 13 1 6 2 4 1 7 2 8 1 16 1 3 1 4 2 3 1 13 1 21 1 4 2 3 1 1 1 11 1 9 1 5 1 6 1 6 1 5 1 2 1 3 4 17 1 11 1 6 1 7 1 3 4 4 1 1 1 1 1 6 1 3 1 1 1 1 1 8 2 12 1 5 1 1 2 3 1 2 1 4 1 1 1 5 1 7 1 1 2 3 1 3 2 1 2 2 1 4 1 3 1 1 2 4 1 1 1 7 1 4 1 3 2 5 1 1 1 1 1 2 3 4 1 3 2 1 1 3 1 1 1 5 3 4 1 1 1 1 2 4 3 2 3 3 1 1 1 2 2 1 1 12 2 5 1 4 2 14 1 9 1 19 1 6 3 4 1 1 1 1 1 16 1 4 1 3 1 18 1 7 1 1 1 1 2 1 1 5 1 6 1 5 1 1 1 1 1 6 1 20 1 5 2 13 2 15 1 1 2 1 1 1 1 5 2 3 1 1 2 26 2 22 1 2 1 35 2 11 1 6 1 3 2 3 1 6 2 26 2 6 1 8 1 14 6 10 1 1 1 2 1 11 1 2 1 2 2 9 1 5 1 1 2 7 1 4 1 6 1 5 1 8 1 1 2 1 1 10 1 1 3 8 1 1 1 2 1 1 1 4 1 3 2 8 2 7 1 4 4 1 1 3 2 2 2 4 1 3 1 4 1 3 1 11 1 1 2 9 1 1 1 3 1 1 1 1 1 1 1 5 1 3 1 2 1 6 1 12 2 4 1 4 4 3 1 11 1 1 1 9999"/><path d="M148 2156.2h1444" stroke="#77672c" stroke-dasharray="4 30 3 165 2 15 1 4 1 43 1 2 1 1 2 43 1 22 1 22 1 9 1 2 1 74 2 70 1 6 1 15 1 9 1 17 1 23 1 25 1 61 1 11 1 61 1 42 1 16 1 11 1 3 1 24 1 6 1 36 1 63 1 60 2 17 3 48 4 15 1 72 1 17 1 2 1 30 1 6 1 9 1 37 1 1 1 13 1 42 1 83 1 9999"/><path d="M155 2156.2h1383" stroke="#6b5d23" stroke-dasharray="1 22 2 157 2 104 2 16 1 49 1 16 1 50 1 14 1 75 1 90 1 134 1 75 1 67 1 68 1 97 2 71 1 72 1 4 1 18 1 105 1 8 1 8 1 22 1 12 1 9999"/><path d="M156 2156.2h1019" stroke="#777418" stroke-dasharray="1 171 2 10 3 160 2 635 1 33 1 9999"/><path d="M180 2156.2h1404" stroke="#5b4b29" stroke-dasharray="2 6 1 13 2 21 1 69 1 65 1 8 2 7 2 20 2 34 3 6 1 8 1 31 2 70 1 44 1 102 1 2 1 87 1 5 1 78 1 54 1 10 1 89 1 18 1 8 1 4 1 2 1 3 1 10 1 31 1 74 1 33 2 2 1 50 1 44 1 8 1 9 2 11 1 20 1 7 1 14 1 29 1 11 1 10 1 44 1 32 1 44 1 9999"/><path d="M187 2156.2h1361" stroke="#816e2f" stroke-dasharray="1 36 1 44 1 8 2 11 1 18 1 118 2 2 2 58 2 40 1 10 1 13 1 55 1 1 1 23 1 28 1 102 1 13 1 65 1 75 1 16 1 20 1 25 1 3 1 37 1 34 1 4 1 74 3 13 2 16 2 22 1 11 1 105 1 44 1 9 1 33 1 3 1 53 1 72 1 9999"/><path d="M449 2156.2h779" stroke="#4e3b2a" stroke-dasharray="2 171 1 17 1 225 1 12 1 8 1 72 1 58 1 9 1 46 1 38 1 97 2 11 1 9999"/></g>
<rect x="103" y="2169" width="1031" height="26.4" fill="#180c1e"/>
<rect x="1137" y="2169" width="455" height="26.4" fill="#180c1e"/>
<g stroke-width="26.4" fill="none"><path d="M123 2182.2h1333" stroke="#756c1e" stroke-dasharray="3 52 2 72 1 43 2 64 2 20 1 28 2 42 1 35 2 214 1 177 1 96 1 3 1 18 1 447 1 9999"/><path d="M170 2182.2h1351" stroke="#78721e" stroke-dasharray="2 967 1 268 1 16 1 94 1 9999"/><path d="M225 2182.2h1" stroke="#d8d824"/><path d="M227 2182.2h1024" stroke="#6a601e" stroke-dasharray="1 219 1 21 2 132 1 182 1 154 1 182 1 32 1 40 3 48 2 9999"/><path d="M258 2182.2h1226" stroke="#847e24" stroke-dasharray="2 201 1 3 1 10 1 130 1 63 1 349 1 51 1 22 2 8 1 121 1 44 1 200 1 8 1 9999"/><path d="M281 2182.2h1076" stroke="#5a531e" stroke-dasharray="1 260 1 454 1 194 1 163 1 9999"/><path d="M307 2182.2h1260" stroke="#807824" stroke-dasharray="3 38 1 214 1 118 1 114 1 424 1 204 1 80 1 12 1 44 1 9999"/><path d="M312 2182.2h1219" stroke="#72661e" stroke-dasharray="1 12 2 60 1 53 1 405 1 117 1 549 1 14 1 9999"/><path d="M523 2182.2h650" stroke="#4b451b" stroke-dasharray="1 648 1 9999"/><path d="M540 2182.2h1" stroke="#605a1e"/><path d="M704 2182.2h726" stroke="#7e7224" stroke-dasharray="1 658 1 65 1 9999"/><path d="M773 2182.2h310" stroke="#54481e" stroke-dasharray="1 308 1 9999"/><path d="M809 2182.2h753" stroke="#6c661e" stroke-dasharray="1 104 1 109 1 448 1 87 1 9999"/><path d="M901 2182.2h1" stroke="#3c3618"/><path d="M1197 2182.2h42" stroke="#60541e" stroke-dasharray="1 40 1 9999"/></g>
<rect x="103" y="2195.1" width="1031" height="26.4" fill="#5e1e69"/>
<rect x="1137" y="2195.1" width="455" height="26.4" fill="#5e1e69"/>
<g stroke-width="26.4" fill="none"><path d="M103 2208.3h1451" stroke="#551d5f" stroke-dasharray="2 1 1 2 2 4 2 9 2 1 3 16 5 32 2 5 4 3 1 1 7 1 4 1 1 4 3 11 3 22 2 10 1 3 2 2 4 5 3 11 1 12 3 4 1 3 7 3 2 2 5 4 1 4 2 1 1 1 4 2 3 3 2 4 1 2 2 1 1 5 1 2 3 3 2 2 2 8 2 2 2 3 1 5 1 2 2 8 1 1 1 6 3 6 1 11 2 1 1 8 1 5 2 1 1 4 3 2 1 2 2 22 2 20 1 2 1 1 1 1 3 7 2 2 1 21 1 7 3 11 2 2 1 4 1 1 2 7 1 1 2 4 1 64 1 61 1 8 1 11 1 20 1 26 1 4 1 12 1 56 1 21 1 13 1 14 1 1 1 4 1 8 1 6 1 9 1 7 1 17 1 2 1 5 1 20 1 3 1 2 1 1 2 7 2 13 1 4 1 9 1 31 1 7 10 3 1 4 3 3 2 3 1 10 1 2 1 5 2 3 6 1 2 3 2 4 3 1 5 1 3 9 1 2 7 2 1 1 2 8 1 1 2 3 1 4 2 1 1 1 2 1 1 3 1 7 2 4 2 2 3 2 1 4 1 6 2 3 2 2 1 6 1 5 1 4 1 4 1 2 1 11 1 17 1 10 1 5 1 7 1 28 1 7 1 2 1 12 1 2 1 27 1 18 1 41 1 9999"/><path d="M137 2208.3h1451" stroke="#8d6a44" stroke-dasharray="2 22 2 17 2 45 1 20 3 25 1 8 1 51 2 56 2 129 1 21 1 2 1 10 1 5 1 9 1 11 2 5 1 32 1 24 1 8 1 5 2 8 1 16 1 4 1 2 1 57 1 70 1 9 1 5 1 40 1 6 1 4 1 3 1 31 1 8 1 5 1 8 1 4 1 1 1 5 1 1 1 7 1 32 1 2 1 5 3 3 1 7 1 27 1 5 1 13 1 1 1 7 1 12 1 3 1 4 1 6 1 43 1 11 2 76 2 10 1 37 1 23 2 12 1 9 1 10 1 9 1 14 1 8 1 2 1 6 1 2 1 7 1 3 1 3 1 5 1 2 1 4 1 3 1 6 1 6 1 14 1 7 1 18 1 2 1 7 1 7 1 3 1 8 1 21 1 6 1 8 1 7 1 9999"/><path d="M163 2208.3h1428" stroke="#bdba1e" stroke-dasharray="1 134 2 209 1 14 1 25 1 25 1 4 1 29 1 8 1 22 1 1 3 3 1 2 1 13 2 9 1 6 1 2 1 1 1 2 1 1 1 3 1 2 2 3 1 7 1 1 1 6 1 6 2 4 1 3 2 3 1 7 1 8 1 8 1 3 1 5 2 7 5 4 1 3 1 1 1 2 1 3 2 3 1 4 1 5 2 16 1 4 1 1 1 11 2 6 2 4 3 1 1 2 1 3 1 6 2 13 1 16 1 8 1 5 1 9 1 18 1 12 1 25 2 5 1 28 1 22 1 9 1 5 1 8 1 32 1 200 1 3 1 4 1 32 1 28 1 11 1 36 1 1 1 10 1 3 1 7 1 1 1 7 1 10 1 3 1 14 2 4 1 5 1 1 1 1 1 5 1 2 1 2 1 3 1 6 1 7 1 6 2 4 1 5 1 1 1 4 1 9999"/><path d="M168 2208.3h1409" stroke="#7d5943" stroke-dasharray="2 73 2 72 2 203 1 20 1 29 1 8 1 16 1 62 1 47 1 74 1 66 1 63 1 78 1 324 1 26 1 7 1 1 2 70 1 104 1 22 1 18 1 9999"/><path d="M182 2208.3h1355" stroke="#937243" stroke-dasharray="3 30 2 19 3 54 2 86 1 5 1 120 1 11 1 26 1 31 1 18 1 29 1 10 1 27 1 51 1 1 1 4 2 52 1 7 1 9 1 13 1 5 1 2 1 4 1 5 1 14 1 13 2 3 1 12 1 10 1 2 1 29 1 10 1 7 1 16 1 12 1 1 1 29 1 4 1 1 1 13 1 21 1 4 1 22 1 19 1 20 1 1 1 7 1 60 2 79 1 30 2 70 1 4 1 7 1 11 1 21 1 5 2 8 1 23 1 3 1 37 1 6 1 28 1 9999"/><path d="M188 2208.3h1395" stroke="#7b5e3b" stroke-dasharray="1 37 1 19 2 25 1 134 1 1 1 100 1 19 1 9 2 22 1 17 1 1 1 38 1 35 1 87 1 21 1 3 1 25 1 111 1 9 1 27 1 1 1 29 1 8 2 5 1 2 1 4 1 3 1 24 1 2 1 6 1 9 1 8 1 13 1 8 1 11 1 12 1 1 1 17 1 42 3 31 1 43 1 1 2 28 1 7 2 22 1 7 1 43 1 32 1 11 1 24 1 43 1 4 1 7 1 2 1 4 1 45 1 1 1 20 1 1 1 2 1 3 1 9999"/><path d="M224 2208.3h1307" stroke="#9a7746" stroke-dasharray="1 5 2 280 1 91 1 51 1 55 1 91 1 46 1 13 1 45 1 17 1 21 1 99 1 30 1 259 1 70 1 24 1 33 1 57 1 9999"/><path d="M225 2208.3h1362" stroke="#86693c" stroke-dasharray="1 2 2 47 1 8 1 20 3 220 1 4 1 8 1 26 1 36 1 8 1 75 1 4 1 21 1 50 1 19 1 10 1 13 1 5 1 12 1 42 1 27 1 2 2 66 1 3 1 12 1 4 1 43 1 81 1 139 1 29 2 10 1 14 1 6 1 30 1 14 1 14 1 60 1 26 1 18 1 8 1 9 1 7 1 33 1 1 1 20 1 4 1 9999"/><path d="M239 2208.3h1323" stroke="#74533f" stroke-dasharray="1 51 1 11 1 171 1 23 1 21 1 1 1 1 1 8 1 26 1 15 1 63 1 35 1 67 1 13 1 19 1 1 1 38 1 28 1 51 1 13 1 5 1 6 1 16 1 23 1 13 1 34 1 12 1 1 1 7 1 61 2 25 1 126 2 127 1 86 1 2 1 7 1 8 1 67 1 9999"/><path d="M241 2208.3h1348" stroke="#836243" stroke-dasharray="2 49 1 18 1 10 2 10 1 89 1 37 1 14 2 19 1 19 1 18 1 15 1 21 1 4 1 8 1 32 1 6 1 5 1 2 1 11 1 6 1 51 1 3 1 10 1 5 2 14 1 2 1 18 1 7 1 10 1 48 1 8 1 91 1 3 1 13 1 37 1 8 1 14 1 19 1 2 1 3 1 4 1 4 1 4 1 1 1 26 1 4 1 16 1 16 1 30 1 174 1 5 1 8 2 6 1 21 1 1 1 7 1 2 1 3 1 30 1 15 1 16 1 43 1 55 1 24 1 3 1 9999"/><path d="M265 2208.3h1283" stroke="#604538" stroke-dasharray="2 247 1 331 1 221 1 478 1 9999"/><path d="M352 2208.3h1238" stroke="#ada91e" stroke-dasharray="1 162 1 23 1 56 1 22 1 20 1 3 1 4 1 2 2 4 2 1 1 4 1 5 1 1 2 5 1 2 2 1 2 1 1 1 1 2 1 3 1 15 1 7 1 4 2 4 1 1 1 3 2 2 1 6 2 1 1 1 2 2 3 4 1 7 1 6 1 3 1 2 1 9 1 3 1 4 2 3 1 11 1 1 3 3 1 3 1 3 1 15 4 2 2 4 3 1 1 20 1 1 2 4 1 14 1 7 1 4 1 2 1 9 1 13 1 15 1 5 1 10 1 25 1 29 1 1 1 7 1 1 1 6 1 3 1 10 1 4 1 8 1 2 1 8 1 1 1 11 1 2 1 65 1 119 2 10 1 22 1 14 1 33 1 16 3 8 1 6 1 4 1 13 1 8 1 18 1 13 1 15 1 7 1 1 1 3 1 2 1 2 1 12 1 1 1 2 1 2 1 7 2 6 1 2 1 1 1 6 1 14 1 9999"/><path d="M390 2208.3h1159" stroke="#a17e48" stroke-dasharray="1 49 1 99 1 68 1 403 1 22 1 47 1 166 2 93 1 96 1 22 1 4 1 76 1 9999"/><path d="M588 2208.3h979" stroke="#9c9918" stroke-dasharray="1 59 1 33 2 17 1 9 1 2 1 2 1 17 1 1 1 1 1 10 1 2 1 4 1 13 1 33 1 16 1 15 1 14 1 17 1 7 1 3 1 1 2 32 1 3 1 1 1 11 1 5 1 2 1 5 1 6 1 39 1 2 1 23 1 79 1 181 2 17 1 7 1 56 1 11 1 54 1 27 1 1 1 37 1 1 1 10 1 4 2 38 1 9999"/><path d="M595 2208.3h997" stroke="#cfcb21" stroke-dasharray="1 67 1 1 1 12 1 27 1 58 2 30 1 42 1 33 1 2 1 17 1 31 1 8 1 70 1 4 1 106 1 297 1 62 1 54 1 8 1 23 2 10 1 10 1 9999"/></g>
<rect x="103" y="2221.2" width="1031" height="26.4" fill="#561d60"/>
<rect x="1137" y="2221.2" width="455" height="26.4" fill="#561d60"/>
<g stroke-width="26.4" fill="none"><path d="M103 2234.3h1454" stroke="#621e6c" stroke-dasharray="2 8 2 2 2 7 2 1 1 2 1 10 3 2 4 5 1 1 2 9 2 1 3 2 2 5 2 1 1 6 1 4 2 7 5 3 2 1 2 3 2 1 1 1 3 6 1 3 2 1 2 3 1 2 1 5 1 6 2 5 3 1 2 2 5 3 1 9 1 1 2 9 1 5 2 9 1 1 2 14 1 1 2 4 2 3 3 6 2 4 1 4 2 3 1 3 1 3 1 2 4 2 2 3 1 1 1 4 1 7 1 1 1 1 1 5 2 11 1 4 4 2 1 1 2 2 1 2 5 10 1 4 3 4 2 2 1 5 2 5 1 6 1 5 1 4 2 30 1 5 5 11 1 2 1 3 1 13 1 6 1 8 1 4 1 1 1 40 1 8 1 288 1 5 1 15 1 36 1 1 2 4 1 30 1 7 1 24 1 14 1 9 1 18 1 16 1 11 1 5 4 2 3 3 2 6 1 1 9 7 1 3 2 16 2 1 1 2 2 11 3 3 1 2 2 2 1 3 3 4 2 5 1 19 1 5 1 12 1 5 1 4 1 12 1 13 1 1 1 2 2 1 1 8 1 18 1 2 1 24 1 19 1 1 1 1 1 16 1 15 1 2 1 4 1 5 1 3 1 9 1 44 1 9999"/><path d="M109 2234.3h1478" stroke="#765441" stroke-dasharray="2 91 2 118 3 19 2 12 1 7 1 20 1 23 2 4 2 5 1 3 1 11 1 57 1 31 1 3 1 2 1 14 1 23 1 1 1 43 1 19 1 14 1 3 1 8 1 8 1 44 2 25 1 29 1 6 1 19 1 9 1 26 1 61 1 3 1 13 1 11 1 53 1 42 1 6 1 20 1 52 2 5 1 84 2 34 4 48 2 20 1 10 1 7 1 15 1 10 1 20 1 8 1 10 1 5 1 5 1 2 2 8 1 5 1 6 1 1 2 13 1 40 1 36 1 3 1 5 1 38 1 9999"/><path d="M115 2234.3h1475" stroke="#b3ae1e" stroke-dasharray="1 149 2 85 1 84 2 23 1 45 1 26 1 12 1 4 1 44 1 6 1 14 1 14 2 3 1 13 1 19 1 3 1 1 2 1 1 3 1 12 2 4 1 5 1 19 1 4 1 1 1 7 1 1 1 3 1 1 3 19 1 6 2 8 1 6 1 3 1 3 1 6 1 4 1 3 1 5 2 4 1 2 1 10 1 9 1 2 1 6 1 1 2 2 1 10 1 10 2 2 1 8 1 4 1 21 4 4 1 8 2 17 1 12 1 3 1 6 1 6 2 8 1 1 3 8 1 14 1 7 1 44 1 5 1 3 2 11 1 8 1 1 1 10 1 20 2 44 1 98 1 42 1 21 1 1 1 9 1 16 2 8 1 1 1 2 1 21 1 1 1 5 1 27 1 4 1 1 1 15 1 14 2 1 1 2 1 11 4 3 2 4 1 8 2 8 3 2 2 7 1 3 1 2 1 4 1 9999"/><path d="M163 2234.3h1416" stroke="#888418" stroke-dasharray="1 153 2 319 1 32 2 4 1 13 1 60 1 1 1 12 1 6 2 7 1 2 1 5 1 4 1 1 1 14 1 13 1 10 1 1 1 17 1 7 2 13 2 1 2 7 1 2 1 4 1 17 2 4 1 26 1 25 1 35 1 38 1 10 1 17 1 196 1 1 1 24 1 8 1 10 1 46 1 7 1 26 1 5 1 24 1 17 1 7 1 17 1 3 2 12 1 1 1 17 1 2 2 13 1 2 1 5 1 2 1 25 1 9999"/><path d="M172 2234.3h1419" stroke="#9f9b1a" stroke-dasharray="1 97 1 236 1 6 2 42 1 18 1 3 1 20 1 6 1 1 1 29 1 1 1 2 5 2 1 4 1 3 2 4 1 13 1 2 1 3 1 4 1 1 2 6 1 3 1 2 1 2 3 11 2 5 1 6 3 3 1 1 1 7 1 5 1 1 1 3 1 9 1 1 1 20 1 3 1 2 1 2 1 5 1 7 1 1 2 16 3 7 2 11 1 1 1 2 1 2 2 4 1 2 1 4 1 2 1 31 1 2 1 2 1 12 1 1 1 10 2 16 2 7 1 7 1 3 1 1 1 2 2 6 2 1 1 2 1 17 1 1 1 5 1 1 2 6 1 2 1 16 1 11 1 8 1 5 1 5 1 7 1 11 1 16 1 27 2 116 2 8 2 19 1 4 1 3 1 1 2 8 1 5 1 38 1 3 2 7 2 5 2 3 1 1 1 19 1 17 2 3 1 8 1 2 2 7 3 12 1 15 1 1 1 7 1 4 1 4 1 7 1 8 1 11 1 4 1 4 1 3 1 2 1 4 2 9 1 9999"/><path d="M176 2234.3h1383" stroke="#805d42" stroke-dasharray="2 70 3 7 2 33 2 100 2 24 2 33 1 20 2 6 1 26 1 7 3 9 1 7 1 24 1 5 1 3 1 10 1 17 1 9 2 23 1 20 1 3 1 21 1 6 1 11 1 1 1 14 1 3 1 4 1 2 1 33 1 2 1 6 2 31 1 14 1 6 1 82 1 5 1 11 2 13 1 5 1 5 1 7 2 11 1 12 1 12 1 4 1 22 1 40 2 11 1 1 2 29 1 3 1 11 1 22 1 10 2 9 1 25 3 35 1 2 2 57 1 7 1 7 1 6 1 4 1 20 1 9 1 1 1 4 1 1 1 17 1 11 1 9 1 12 1 6 1 14 2 17 1 26 1 9 1 5 1 11 1 2 1 15 1 11 1 9999"/><path d="M180 2234.3h1245" stroke="#a57f4c" stroke-dasharray="2 223 2 92 1 312 1 77 1 2 1 456 1 4 1 68 1 9999"/><path d="M224 2234.3h1350" stroke="#937342" stroke-dasharray="1 121 2 61 1 72 1 50 1 16 2 21 1 6 1 2 1 7 1 7 1 13 1 61 1 51 1 17 1 13 1 3 1 12 1 16 1 41 1 18 2 52 1 20 1 67 1 71 1 14 1 3 1 15 1 19 1 189 1 4 1 29 1 30 1 8 1 37 1 42 1 3 1 32 1 52 1 12 1 9999"/><path d="M253 2234.3h1324" stroke="#84683d" stroke-dasharray="1 38 1 79 1 4 1 23 2 73 1 140 1 7 1 3 2 13 1 11 1 41 1 18 1 43 1 38 1 21 1 13 1 6 1 60 1 18 1 20 1 6 2 1 1 3 1 79 1 3 1 4 2 18 1 6 1 6 1 85 2 1 1 82 1 3 2 6 1 27 2 26 1 1 1 22 1 6 1 3 1 39 1 30 1 65 2 24 2 29 1 18 1 4 2 9999"/><path d="M311 2234.3h1152" stroke="#765b3a" stroke-dasharray="1 53 1 107 2 52 1 3 1 9 1 1 1 62 1 1 1 86 1 127 1 10 1 9 1 7 1 9 1 35 1 6 1 39 1 22 1 7 1 7 1 8 1 7 2 27 1 2 1 6 1 10 1 28 1 8 1 22 1 12 1 6 1 11 7 80 2 76 1 27 1 18 1 65 1 39 1 9999"/><path d="M316 2234.3h1272" stroke="#9d7848" stroke-dasharray="1 244 1 137 1 104 1 71 1 14 1 158 1 15 1 51 2 193 1 31 1 26 1 22 1 25 1 102 1 25 1 36 1 9999"/><path d="M335 2234.3h1257" stroke="#8d6945" stroke-dasharray="1 3 1 27 1 15 1 7 2 98 2 32 1 13 1 7 1 8 1 5 1 25 1 7 1 4 1 14 1 16 1 3 1 7 1 9 1 46 1 7 1 12 1 16 1 5 1 48 2 1 1 21 1 17 1 3 1 10 1 12 1 2 1 40 1 17 1 7 1 13 1 12 1 2 1 6 1 31 1 25 1 27 3 6 1 3 1 2 1 6 1 4 1 11 1 13 1 27 1 43 2 35 1 43 1 30 2 16 1 6 1 19 1 11 1 5 1 20 1 43 1 4 1 12 1 11 1 4 1 20 1 14 1 8 1 23 1 12 1 5 1 6 1 5 1 4 1 15 2 7 1 9999"/><path d="M355 2234.3h1181" stroke="#6b4d3b" stroke-dasharray="1 153 1 3 1 12 1 22 1 7 1 6 1 14 1 139 1 1 1 8 1 29 1 4 1 24 1 59 1 14 1 35 1 70 1 91 1 33 1 11 1 26 2 15 1 35 2 27 2 40 2 21 1 98 1 4 1 3 1 56 1 40 1 2 1 41 1 9999"/><path d="M524 2234.3h1065" stroke="#c6c11f" stroke-dasharray="1 17 1 50 1 1 1 31 1 4 1 18 2 6 1 6 1 2 1 14 1 3 1 1 1 1 1 10 1 5 1 3 1 4 1 14 1 2 1 1 1 2 1 20 1 9 2 13 1 1 1 16 1 8 1 8 1 21 1 13 1 2 1 16 2 14 1 17 1 9 1 6 1 6 1 4 1 46 1 30 1 3 1 23 1 5 1 2 1 58 1 12 1 356 1 18 1 10 1 54 1 15 1 9999"/><path d="M544 2234.3h1042" stroke="#5e403a" stroke-dasharray="1 29 1 15 1 32 1 41 1 54 1 185 1 8 1 112 1 50 1 15 1 244 1 20 1 75 1 35 1 29 1 8 1 72 1 9999"/></g>
<rect x="103" y="2247.2" width="1031" height="26.4" fill="#8e8a18"/>
<rect x="1137" y="2247.2" width="455" height="26.4" fill="#8e8a18"/>
<g stroke-width="26.4" fill="none"><path d="M103 2260.4h197" stroke="#992ba5" stroke-dasharray="4 4 1 5 9 2 1 1 9 2 2 3 2 5 4 1 3 19 2 3 2 9 3 5 4 5 1 11 1 3 1 9 1 16 2 5 2 2 2 12 1 4 1 1 2 2 1 5 2 9999"/><path d="M107 2260.4h1177" stroke="#85258e" stroke-dasharray="2 55 8 6 2 7 2 10 2 1 2 4 1 5 10 2 3 1 6 4 1 2 2 1 9 3 2 1 2 2 2 2 8 5 4 1 1 2 2 3 3 21 2 9 1 17 1 8 1 6 1 5 2 7 3 75 1 8 1 88 1 13 1 56 1 4 1 523 2 27 1 4 1 26 1 9 2 55 1 9999"/><path d="M109 2260.4h152" stroke="#9f5e68" stroke-dasharray="2 1 3 11 2 11 2 2 3 2 5 71 1 35 1 9999"/><path d="M129 2260.4h1433" stroke="#895b51" stroke-dasharray="1 27 1 31 3 3 1 45 2 34 1 2 1 41 3 19 2 9 1 134 1 18 1 2 1 9 1 4 1 19 1 4 1 50 1 3 1 89 1 45 1 25 1 139 1 3 1 14 1 50 1 4 1 4 1 34 1 80 1 12 1 62 1 46 1 18 1 5 1 9 2 61 1 31 1 46 2 31 1 56 1 18 1 21 2 22 2 9999"/><path d="M161 2260.4h1348" stroke="#631f6e" stroke-dasharray="2 151 2 1 2 2 1 9 1 4 1 3 4 5 1 3 2 13 2 17 1 1 1 1 2 6 2 10 2 4 2 9 1 12 2 3 2 1 4 3 1 1 1 4 1 3 2 3 1 2 1 13 1 8 1 11 1 8 1 26 1 16 1 6 1 7 1 15 1 11 1 6 1 6 1 13 1 20 1 18 1 23 1 37 1 5 1 48 1 1 1 2 1 7 1 2 1 10 1 9 1 9 1 20 1 21 1 81 1 31 2 3 1 25 1 27 2 7 1 47 1 9 1 10 2 5 1 4 5 2 3 4 1 8 2 9 3 4 2 8 1 2 3 16 2 26 2 7 1 11 1 10 2 1 1 4 1 15 2 5 1 3 1 52 1 2 1 14 1 2 1 13 1 24 1 4 1 3 1 20 1 15 1 14 1 4 1 12 1 3 1 9999"/><path d="M163 2260.4h1421" stroke="#735141" stroke-dasharray="1 139 1 28 2 33 1 33 2 7 1 12 1 101 1 55 1 6 1 15 1 22 2 3 1 15 1 16 1 7 1 4 1 6 1 16 1 16 2 2 1 4 1 8 2 7 1 6 1 9 1 19 1 6 1 12 1 5 1 2 1 4 1 2 1 4 1 9 1 3 1 6 1 17 1 6 1 4 2 5 1 26 1 61 1 5 1 6 1 17 1 8 1 17 1 9 1 6 1 8 3 10 1 17 1 9 1 3 1 4 1 2 1 14 2 11 2 2 1 51 2 2 1 15 1 29 2 30 2 12 4 25 1 5 1 17 1 8 1 4 1 5 1 8 1 16 1 2 1 3 2 1 1 22 1 4 2 3 1 7 1 4 1 31 1 13 1 6 1 2 1 6 1 12 1 4 1 57 1 9999"/><path d="M172 2260.4h1418" stroke="#8a6547" stroke-dasharray="1 20 2 212 1 107 1 1 1 14 1 32 1 9 1 6 1 6 1 11 1 6 1 12 1 20 1 9 1 7 1 2 1 7 1 7 1 12 1 38 2 6 1 12 1 26 1 26 1 12 1 2 1 19 1 1 1 44 1 3 1 1 1 6 1 1 1 10 1 11 1 8 1 4 1 7 1 1 1 17 1 4 1 7 1 14 1 6 1 11 1 22 1 11 2 15 1 11 1 18 2 2 1 19 1 105 2 74 1 16 1 7 1 26 1 8 1 10 1 7 1 3 1 18 1 4 2 13 1 14 1 1 1 23 1 13 1 21 1 12 1 11 1 56 1 1 1 9999"/><path d="M173 2260.4h1391" stroke="#73247d" stroke-dasharray="5 23 1 53 1 37 2 5 3 1 7 2 1 11 5 26 1 2 2 1 2 1 1 7 4 1 1 3 1 2 2 1 1 1 1 3 1 2 2 4 4 6 4 2 2 4 1 1 1 3 6 6 3 2 1 4 3 5 1 2 1 4 3 7 10 6 2 3 5 11 1 12 1 1 1 6 1 4 1 15 2 3 1 2 1 6 1 8 2 2 1 22 1 7 2 84 1 10 1 6 1 69 1 193 2 30 1 4 1 8 3 3 1 3 1 16 1 21 1 4 1 53 1 2 1 10 1 2 1 1 4 2 2 5 6 9 2 3 1 3 1 4 5 8 2 5 1 1 2 8 3 1 2 2 2 6 2 8 2 6 1 5 1 5 1 1 1 15 2 4 2 38 1 15 1 7 1 39 1 21 1 12 1 30 1 50 1 38 1 9999"/><path d="M182 2260.4h1376" stroke="#7b4f4c" stroke-dasharray="3 24 4 99 1 53 1 10 1 6 1 10 2 12 1 19 2 60 2 6 1 18 1 9 1 5 1 1 1 8 1 3 1 4 1 1 1 16 1 3 1 2 1 11 1 7 1 15 2 11 2 26 1 24 1 6 1 17 1 1 1 58 1 31 1 9 1 3 1 77 1 5 1 17 1 6 1 38 1 5 1 2 1 3 1 14 1 2 1 4 1 2 1 11 1 23 1 32 1 1 1 1 1 18 1 8 1 60 2 6 1 47 2 4 1 13 2 14 4 12 2 43 1 6 1 13 1 10 1 74 1 8 1 3 1 19 1 13 1 3 1 3 1 30 1 46 2 9999"/><path d="M192 2260.4h1397" stroke="#684442" stroke-dasharray="1 85 2 55 1 1 3 6 2 73 2 16 1 25 1 31 1 16 1 8 1 15 2 7 1 19 1 2 1 7 1 103 1 3 1 17 1 6 1 1 1 9 1 35 1 15 1 7 1 3 1 34 1 41 1 4 1 23 1 5 1 4 1 46 1 11 1 5 1 20 1 16 1 2 1 5 1 4 1 2 1 2 1 17 1 31 1 3 1 5 1 1 1 37 1 40 1 36 1 24 2 3 1 24 2 6 2 13 1 1 1 6 2 14 1 1 1 5 1 16 1 4 1 12 1 11 1 5 1 2 1 20 1 2 1 12 1 9 1 3 1 96 1 25 1 14 1 10 1 14 1 9999"/><path d="M236 2260.4h1355" stroke="#9b6e51" stroke-dasharray="3 6 1 104 2 153 2 6 1 52 1 126 1 36 1 50 1 16 1 17 1 102 1 45 3 15 1 78 1 3 1 115 2 111 2 17 2 29 1 165 1 78 1 9999"/><path d="M334 2260.4h1234" stroke="#58363f" stroke-dasharray="1 23 1 65 1 116 1 11 1 44 1 26 1 40 1 36 1 53 1 100 1 63 1 173 1 19 1 25 1 64 2 65 1 35 1 24 1 13 1 22 1 87 1 3 1 38 1 46 1 16 1 9999"/><path d="M361 2260.4h1215" stroke="#7e5c43" stroke-dasharray="1 31 1 14 1 17 1 10 2 1 1 18 2 15 1 58 1 21 1 14 1 12 1 26 1 43 1 4 1 6 1 12 1 9 1 19 1 5 1 30 2 20 2 33 1 7 1 10 1 1 1 16 1 3 1 7 2 10 1 16 1 16 1 1 1 44 1 9 1 50 1 5 1 15 1 43 1 16 1 17 1 1 1 4 1 9 1 94 1 28 2 34 2 24 1 11 1 18 1 9 1 5 2 14 1 1 1 22 1 46 1 3 1 9 1 17 2 7 1 4 1 3 1 3 1 65 1 6 1 9999"/><path d="M473 2260.4h1119" stroke="#a9a51c" stroke-dasharray="2 2 2 14 2 13 1 11 1 55 1 14 1 4 2 11 1 12 2 11 1 4 1 2 2 2 1 1 1 4 1 3 2 10 1 1 1 3 1 11 1 10 1 1 1 8 1 2 1 7 1 12 1 6 1 2 1 6 1 3 1 16 2 3 1 8 1 34 1 11 1 17 1 2 1 8 1 11 1 2 1 7 1 1 1 7 2 1 1 6 1 25 1 1 2 4 1 3 1 1 2 2 1 26 1 27 2 3 1 16 1 1 1 47 1 16 1 3 1 14 2 4 2 9 1 175 1 12 1 9 1 3 1 21 1 7 1 10 1 5 1 9 1 12 1 8 1 2 1 2 1 14 1 6 1 9 1 15 1 12 1 4 2 13 1 12 1 18 1 3 1 2 1 3 3 3 1 4 1 4 1 10 1 1 1 2 1 5 1 1 1 2 1 5 1 9999"/><path d="M507 2260.4h1080" stroke="#736f17" stroke-dasharray="1 34 1 7 1 10 1 28 1 2 1 17 1 21 1 4 2 5 1 5 1 10 1 12 1 1 1 6 1 11 1 9 1 1 1 16 1 1 1 19 1 2 1 10 1 2 1 2 1 6 1 3 1 18 1 3 1 6 1 2 1 3 1 18 1 1 1 4 1 15 1 4 1 3 1 2 1 12 1 8 1 15 1 4 1 1 1 2 1 2 1 10 1 1 1 3 2 14 1 1 3 34 1 6 1 19 2 20 1 3 1 4 1 9 1 6 1 3 1 7 1 3 1 5 1 5 1 12 1 20 1 40 1 19 2 107 2 6 1 24 1 8 1 5 1 27 1 17 1 10 1 6 1 4 1 5 1 28 1 7 1 1 1 20 1 4 1 8 1 9 1 10 1 1 1 7 3 4 1 14 1 14 3 3 1 1 1 6 1 6 1 9999"/></g>
<rect x="103" y="2273.2" width="1031" height="26.4" fill="#3c1846"/>
<rect x="1137" y="2273.2" width="455" height="26.4" fill="#3c1846"/>
<g stroke-width="26.4" fill="none"><path d="M103 2286.4h1361" stroke="#b1ad1e" stroke-dasharray="2 6 1 5 2 4 5 2 2 2 3 15 1 3 1 13 2 23 1 26 2 16 1 10 1 2 1 27 3 19 3 20 1 16 2 12 1 29 1 14 4 6 2 12 1 7 2 11 1 15 1 2 2 12 2 39 1 32 1 77 1 328 1 170 1 23 1 15 1 8 2 9 2 31 1 24 2 110 1 99 1 9999"/><path d="M105 2286.4h1239" stroke="#dad424" stroke-dasharray="1 1 4 8 4 5 1 3 1 4 2 2 1 17 2 41 2 4 1 10 1 26 5 2 1 19 1 18 1 38 1 50 1 28 2 12 1 31 1 58 1 32 1 18 1 41 1 578 1 153 1 9999"/><path d="M106 2286.4h1290" stroke="#c6c11f" stroke-dasharray="1 6 4 12 1 12 6 5 3 1 2 37 3 1 2 13 2 13 2 9 2 2 1 6 1 17 3 18 1 1 2 5 1 6 3 3 1 39 1 11 1 15 1 3 1 33 1 11 2 9 1 29 1 2 1 7 2 6 2 2 2 3 3 7 1 48 1 6 1 7 1 9 1 27 1 5 1 224 1 159 1 19 1 138 1 9 1 2 3 3 1 16 3 16 2 2 1 25 1 1 2 2 1 22 2 19 2 59 1 36 1 9999"/><path d="M112 2286.4h1123" stroke="#979318" stroke-dasharray="1 20 1 222 1 21 3 88 2 49 1 588 1 55 2 18 2 47 1 9999"/><path d="M139 2286.4h1425" stroke="#75632d" stroke-dasharray="2 46 1 17 3 6 1 2 2 1 2 2 1 3 1 31 1 16 1 20 2 11 1 5 4 11 2 14 1 6 1 1 1 58 1 6 1 2 1 14 1 3 1 12 3 2 1 1 1 47 1 4 1 4 1 26 1 2 1 6 1 3 1 2 1 5 1 6 1 22 1 63 1 15 1 36 1 9 1 33 1 4 1 20 1 7 1 19 1 9 1 20 1 68 1 52 1 2 1 2 1 15 1 59 1 13 1 4 1 4 1 3 1 16 1 2 1 1 1 12 1 24 1 21 2 36 3 6 3 10 2 2 1 13 2 2 2 18 1 1 2 16 1 25 1 1 1 27 2 6 1 4 1 15 1 6 1 24 1 47 1 1 1 28 1 2 1 1 1 59 1 11 1 2 1 1 1 9999"/><path d="M148 2286.4h1440" stroke="#6b5c2a" stroke-dasharray="4 26 2 8 1 36 1 17 2 31 1 47 1 64 2 16 1 16 1 36 1 57 1 8 1 32 1 42 1 98 1 15 1 86 1 25 1 59 1 30 1 45 1 10 1 6 1 37 1 3 1 4 1 1 1 31 1 127 1 9 1 32 2 34 1 27 1 8 1 21 1 11 1 13 1 36 1 8 1 28 1 7 1 48 1 94 1 9999"/><path d="M161 2286.4h1431" stroke="#301239" stroke-dasharray="7 5 3 13 3 7 1 55 1 7 4 11 3 22 1 12 1 5 2 12 1 3 3 3 2 2 2 16 5 3 1 38 1 4 1 18 1 22 1 13 1 26 2 3 2 11 1 5 1 5 1 9 2 6 1 4 1 13 1 5 2 10 2 3 1 4 1 3 1 3 1 2 1 3 1 1 1 3 3 1 1 3 1 7 1 3 1 1 5 1 1 2 1 7 1 1 1 4 1 3 1 1 1 1 1 4 1 3 1 2 1 1 3 1 1 4 1 2 4 1 1 1 1 2 1 3 2 1 2 6 1 6 3 3 1 2 3 2 6 1 2 3 1 2 2 3 1 4 1 1 2 4 2 3 1 1 2 7 2 5 1 1 1 1 1 3 3 2 3 6 2 4 2 3 1 2 2 1 1 3 1 2 2 5 1 3 2 2 1 2 2 2 1 2 3 1 1 1 1 5 5 5 1 2 3 7 1 2 1 3 1 5 2 5 1 1 1 5 2 2 1 3 2 1 2 1 1 1 3 1 3 1 1 15 1 3 1 4 1 6 2 1 1 4 1 5 1 2 1 2 1 2 1 1 1 1 1 1 2 2 1 1 1 1 1 1 1 2 1 5 1 3 1 1 1 3 1 5 1 2 1 2 4 5 1 4 1 2 1 7 1 2 2 1 1 4 1 1 2 1 1 1 3 5 1 4 1 3 4 4 2 1 1 11 1 25 1 26 1 33 3 2 1 17 1 32 4 4 2 4 2 5 1 6 2 2 1 1 1 2 2 9 1 1 1 2 1 3 1 2 2 1 1 8 1 9 1 1 2 2 1 4 1 1 1 7 1 2 1 5 3 8 1 1 1 2 1 1 1 3 1 5 1 1 6 5 1 5 4 3 1 4 1 2 2 2 2 1 1 1 3 3 1 2 2 1 1 2 1 1 1 2 1 2 2 9 4 3 1 1 2 4 1 6 2 7 1 6 1 9 3 11 2 4 1 1 6 1 3 2 1 1 4 9999"/><path d="M176 2286.4h1396" stroke="#816e30" stroke-dasharray="2 7 2 6 2 14 4 14 1 4 4 20 2 9 2 19 2 12 1 7 1 10 1 39 1 4 1 10 1 16 1 15 1 6 2 27 2 7 1 10 1 4 1 7 2 6 2 16 2 7 1 11 1 7 1 12 1 4 1 12 1 6 1 5 1 7 1 12 1 26 1 22 1 57 1 14 1 103 1 77 1 11 1 46 1 2 1 16 1 2 1 1 1 20 1 9 1 12 1 2 1 1 2 20 1 31 1 1 1 1 1 18 1 3 1 9 1 11 1 8 2 20 1 2 1 20 1 8 2 8 3 18 1 2 1 4 2 10 2 16 1 4 1 1 2 22 1 9 1 30 1 30 1 11 2 4 1 10 1 2 1 16 2 9 1 60 1 12 1 26 1 3 1 13 1 14 2 9999"/><path d="M204 2286.4h1382" stroke="#62522a" stroke-dasharray="1 181 1 8 2 4 2 109 1 27 1 76 1 63 1 36 1 73 1 6 2 16 1 63 1 31 1 88 1 19 1 135 1 124 1 47 1 88 1 103 1 60 1 9999"/><path d="M226 2286.4h1287" stroke="#7b6e29" stroke-dasharray="1 31 2 27 1 103 2 93 1 28 1 25 1 40 1 12 1 34 1 107 1 118 1 9 1 41 1 24 1 23 1 6 1 30 1 51 1 8 1 24 1 56 1 82 1 36 1 11 2 84 1 7 1 125 1 4 1 15 1 9999"/><path d="M229 2286.4h1280" stroke="#866d38" stroke-dasharray="1 9 1 29 1 20 1 5 2 32 1 28 2 3 1 63 1 4 2 94 1 15 1 2 1 20 1 9 1 20 1 69 1 22 1 270 1 52 1 141 3 25 2 18 2 4 1 5 2 105 1 173 1 7 1 9999"/><path d="M261 2286.4h508" stroke="#56452a" stroke-dasharray="1 63 2 163 1 134 1 142 1 9999"/><path d="M286 2286.4h1265" stroke="#8e7a34" stroke-dasharray="1 25 1 41 1 7 2 9 3 17 1 5 2 88 1 17 1 77 1 10 1 10 2 5 1 19 1 128 1 7 1 48 1 98 1 8 1 32 1 6 1 20 1 135 1 43 1 90 5 53 1 59 1 4 1 115 1 50 1 9999"/><path d="M301 2286.4h1124" stroke="#988138" stroke-dasharray="1 261 1 67 1 60 1 5 1 332 1 122 1 124 1 144 1 9999"/><path d="M337 2286.4h1212" stroke="#745b35" stroke-dasharray="2 13 1 56 1 43 2 38 2 92 1 89 1 134 1 184 1 3 1 49 1 22 1 36 1 39 3 30 1 99 1 66 1 196 1 9999"/></g>
<rect x="103" y="2299.3" width="1031" height="26.4" fill="#551d5f"/>
<rect x="1137" y="2299.3" width="455" height="26.4" fill="#551d5f"/>
<g stroke-width="26.4" fill="none"><path d="M106 2312.5h1444" stroke="#462c32" stroke-dasharray="1 239 2 6 1 10 1 4 2 12 1 4 1 27 2 84 4 197 1 18 1 20 1 4 1 75 1 14 1 27 1 30 1 13 1 59 1 183 2 37 1 4 1 57 1 35 2 4 2 33 1 1 1 20 1 33 1 33 1 28 1 23 1 60 1 7 1 9999"/><path d="M107 2312.5h1478" stroke="#641f6f" stroke-dasharray="5 30 1 12 1 29 2 22 4 6 1 16 3 1 1 2 2 36 1 82 1 8 3 23 2 6 1 2 1 2 2 13 3 22 2 32 2 61 1 9 1 13 1 2 1 15 1 59 1 18 1 23 1 63 1 89 1 32 1 24 1 3 1 4 1 1 2 1 1 3 3 1 1 8 3 2 3 4 1 2 1 6 1 3 1 1 3 4 1 1 2 1 1 4 1 3 2 3 3 1 1 2 1 1 1 3 1 5 1 4 1 17 1 2 1 3 1 3 1 1 1 2 1 9 3 1 1 1 1 3 2 1 1 5 1 9 1 5 1 3 1 21 1 3 2 34 1 56 2 13 1 1 1 2 2 10 2 20 1 1 1 33 1 1 1 7 1 51 1 8 1 4 1 28 1 1 1 3 2 33 1 1 1 5 1 2 1 3 1 23 1 12 1 13 1 2 1 2 1 8 1 2 1 2 1 2 1 13 2 3 1 6 1 2 1 6 1 2 1 9999"/><path d="M115 2312.5h1461" stroke="#461850" stroke-dasharray="1 16 1 8 1 4 6 4 1 57 1 112 1 11 1 38 1 46 1 30 1 8 1 59 1 3 1 17 1 49 1 8 1 21 1 15 1 19 1 18 1 31 1 186 2 2 1 7 1 8 1 5 1 5 1 6 1 4 1 7 1 1 4 1 2 6 2 11 1 3 1 2 2 9 1 2 1 5 1 3 1 3 1 5 1 2 2 1 2 2 1 9 2 3 2 2 1 1 2 2 2 3 1 1 1 3 1 7 2 3 3 1 1 3 1 1 2 7 2 3 3 9 2 3 1 3 1 4 1 29 2 6 1 10 2 18 4 8 2 12 1 14 2 21 1 67 1 40 1 1 1 13 1 3 1 8 1 6 1 6 1 14 1 2 1 3 1 6 1 17 1 7 1 13 1 2 1 21 1 7 1 40 1 1 1 9 1 1 1 9999"/><path d="M116 2312.5h1441" stroke="#795e38" stroke-dasharray="1 40 1 1 2 61 2 15 1 15 1 15 2 61 1 8 1 14 1 9 2 13 1 10 1 14 1 13 1 27 2 11 1 11 1 53 1 18 1 6 1 15 1 28 1 6 1 1 1 22 1 27 2 7 1 27 1 37 1 3 1 36 1 3 1 38 1 54 1 20 1 21 1 19 1 10 1 224 1 137 1 16 1 10 1 2 1 5 1 8 1 2 1 10 1 1 1 11 1 5 1 12 2 3 1 17 1 19 2 27 1 13 1 23 1 2 1 14 1 19 1 2 1 9999"/><path d="M117 2312.5h1471" stroke="#5c3e3a" stroke-dasharray="2 18 2 37 2 37 2 7 1 55 1 11 1 31 1 27 1 80 2 50 2 12 1 11 1 20 1 7 1 7 1 47 1 3 1 23 3 29 2 7 1 3 1 1 1 12 1 6 1 1 2 30 1 20 1 6 1 17 1 32 1 33 1 28 1 6 1 4 1 15 1 274 1 10 1 11 2 38 1 4 1 18 2 6 1 39 1 11 2 26 1 17 1 4 1 7 1 2 1 1 1 12 1 13 1 3 1 19 1 12 1 21 1 20 1 49 1 5 1 40 1 1 1 9999"/><path d="M128 2312.5h1453" stroke="#7f5a46" stroke-dasharray="1 53 3 14 1 41 2 24 2 31 1 10 1 10 2 7 1 24 1 4 1 20 1 4 1 5 1 17 2 27 1 7 1 13 1 61 1 50 1 7 1 29 1 24 2 47 1 18 1 58 1 2 1 11 1 4 1 17 1 23 1 72 1 36 1 99 1 111 2 3 1 112 1 11 1 17 2 90 1 9 2 2 1 110 1 8 1 8 1 10 1 14 1 6 1 14 1 9999"/><path d="M129 2312.5h1440" stroke="#6b5039" stroke-dasharray="1 22 1 73 1 21 4 6 2 2 1 7 1 27 2 3 4 5 1 4 2 16 1 1 2 46 1 9 2 44 1 49 2 14 1 15 1 15 1 38 1 3 1 4 1 17 1 13 2 6 1 23 1 22 1 35 1 1 1 15 1 2 1 85 1 10 1 16 1 31 1 131 1 103 1 28 1 44 3 16 1 16 3 28 1 5 1 8 2 20 2 14 1 6 1 13 1 1 1 13 1 2 1 7 1 6 1 1 1 5 1 11 1 85 1 5 1 10 2 23 1 2 1 2 1 8 1 25 1 5 1 10 1 9999"/><path d="M134 2312.5h1446" stroke="#9d7949" stroke-dasharray="3 115 1 75 2 23 1 1 1 75 2 2 2 5 1 4 1 9 1 37 2 12 1 10 1 32 1 10 1 27 1 39 1 3 1 13 1 71 1 6 1 40 1 4 1 23 1 5 1 10 1 59 1 252 1 35 2 6 1 5 2 40 1 55 1 3 1 11 2 18 1 53 1 5 1 23 1 11 1 7 1 12 1 11 1 32 1 22 1 27 1 52 1 9999"/><path d="M153 2312.5h1439" stroke="#c4c01f" stroke-dasharray="2 9 4 2 2 1 3 4 2 19 4 48 1 9 2 4 1 4 2 10 4 1 1 22 2 46 2 15 2 35 1 2 1 52 1 16 1 10 1 7 1 6 1 5 1 9 1 4 1 8 1 21 1 2 1 36 1 9 1 30 1 24 1 4 1 2 1 6 1 8 1 4 1 4 1 3 1 2 1 11 2 28 1 5 1 1 1 13 1 5 1 5 1 3 1 11 1 29 1 2 1 2 2 3 3 2 2 4 1 1 1 4 2 13 1 1 1 5 1 270 3 7 1 8 1 76 2 46 1 16 1 3 1 21 1 153 1 90 1 9999"/><path d="M161 2312.5h1430" stroke="#a4a11b" stroke-dasharray="3 4 2 8 2 7 1 4 7 78 1 4 3 16 2 7 1 5 1 31 1 27 2 8 1 10 2 6 2 1 1 15 1 24 2 24 1 5 1 1 2 5 1 19 1 1 1 1 1 1 1 1 2 6 3 5 1 16 1 2 1 3 1 3 1 3 1 6 1 5 1 9 3 2 1 9 1 9 1 7 2 5 1 4 2 7 1 1 1 12 1 1 1 5 2 8 2 4 1 2 2 3 1 1 1 7 1 7 2 9 2 11 1 4 3 1 1 1 1 3 2 1 1 4 1 5 1 1 1 5 1 2 1 20 1 1 2 3 1 7 1 2 3 7 1 4 1 24 1 3 3 1 1 4 1 4 1 1 1 1 1 13 1 5 1 251 4 6 2 18 3 12 3 5 3 105 1 16 1 2 1 33 1 4 2 35 1 28 1 18 1 38 1 16 1 12 1 34 1 12 1 21 2 9999"/><path d="M172 2312.5h1417" stroke="#898518" stroke-dasharray="1 16 3 8 1 4 3 25 3 18 1 21 1 8 1 4 1 4 3 21 3 14 1 29 1 5 1 8 1 6 1 2 2 10 2 10 1 47 1 3 2 2 1 25 1 15 1 8 1 10 1 1 1 2 1 2 1 2 1 1 1 22 1 10 2 6 1 6 1 13 1 2 1 8 1 8 1 10 1 4 2 4 1 1 1 4 1 15 1 3 1 15 1 5 1 19 1 8 1 2 2 19 1 2 1 1 1 14 1 1 1 5 2 5 1 1 2 9 1 6 2 3 1 3 2 10 1 3 2 1 1 3 1 2 1 25 1 13 1 4 2 1 1 1 1 6 1 249 3 13 2 15 1 31 1 28 2 27 1 5 1 1 1 33 1 20 1 12 1 18 1 26 1 16 1 65 1 19 1 2 1 31 1 17 1 16 1 6 1 1 1 4 1 4 1 9999"/><path d="M188 2312.5h1383" stroke="#6e6c17" stroke-dasharray="1 72 1 45 3 15 2 5 2 15 1 7 1 43 2 34 2 7 1 8 1 96 1 33 1 11 2 55 1 12 1 11 1 32 1 3 1 6 1 33 1 7 2 39 1 15 1 7 2 21 1 7 2 27 1 5 1 410 1 23 1 23 1 21 1 56 1 35 1 76 1 21 1 9999"/><path d="M213 2312.5h1343" stroke="#8a6b3f" stroke-dasharray="1 6 2 7 3 28 1 4 2 6 1 39 1 36 2 38 1 30 2 4 1 11 1 21 1 7 2 8 2 12 2 3 1 2 2 52 1 1 1 3 1 3 1 5 1 12 2 17 1 11 1 15 1 5 1 11 1 13 1 25 1 26 1 18 1 15 2 20 1 14 1 9 1 2 1 20 1 23 1 14 1 10 1 12 2 34 1 215 2 56 1 14 4 17 2 2 1 12 1 4 1 7 2 20 1 5 2 19 1 4 1 15 1 9 2 8 3 3 1 32 1 31 1 3 1 12 1 1 1 2 1 1 1 6 1 6 1 3 1 4 1 2 1 8 1 2 1 8 1 10 1 12 1 4 1 12 1 10 1 3 1 4 1 9999"/><path d="M227 2312.5h1232" stroke="#574e1c" stroke-dasharray="1 102 1 36 1 98 1 15 1 59 2 32 1 165 1 43 1 354 1 180 1 135 1 9999"/><path d="M256 2312.5h1241" stroke="#714a47" stroke-dasharray="2 35 2 64 2 116 2 58 1 21 1 3 1 47 1 4 1 1 1 23 1 60 1 93 1 17 1 8 1 8 1 44 1 2 1 262 1 64 1 17 1 9 1 38 1 9 1 48 1 71 1 30 1 15 1 27 1 13 1 9999"/></g>
<rect x="103" y="2325.3" width="1031" height="26.4" fill="#3b1845"/>
<rect x="1137" y="2325.3" width="455" height="26.4" fill="#3b1845"/>
<g stroke-width="26.4" fill="none"><path d="M103 2338.5h1439" stroke="#735f31" stroke-dasharray="2 53 1 93 1 27 1 6 1 15 4 43 2 1 2 9 1 12 1 5 1 3 1 5 1 9 2 10 1 11 1 38 1 15 1 64 1 35 1 8 1 3 2 38 1 55 1 9 1 3 1 24 1 8 1 150 1 13 1 122 1 8 1 85 1 33 1 20 1 10 1 20 3 4 2 95 1 29 2 30 2 27 1 13 1 5 1 18 1 62 1 29 1 3 1 9999"/><path d="M105 2338.5h1416" stroke="#5f4b2f" stroke-dasharray="1 6 1 13 2 5 1 21 1 53 5 1 2 7 1 28 1 9 2 6 3 16 1 23 2 14 2 7 1 8 1 18 1 48 1 20 2 2 1 11 2 2 1 49 1 13 1 16 1 7 1 5 1 49 1 5 2 4 1 19 2 14 1 4 1 56 1 17 1 14 1 32 1 29 1 8 1 27 1 15 1 12 1 27 1 40 1 4 1 9 1 17 1 1 1 16 2 14 1 32 1 9 1 32 1 8 1 8 1 6 1 15 1 1 1 1 1 22 2 18 3 18 1 19 1 51 1 8 1 3 1 84 2 7 1 33 1 10 1 3 1 5 1 28 1 12 1 11 1 5 1 29 1 9999"/><path d="M106 2338.5h1446" stroke="#a8a41c" stroke-dasharray="1 12 4 20 3 46 1 2 1 52 4 33 1 15 1 32 1 136 1 15 2 14 4 12 1 62 1 90 1 164 1 4 1 88 1 138 1 14 1 52 1 2 1 6 2 3 1 14 1 11 1 16 3 30 2 148 1 6 1 96 1 65 1 9999"/><path d="M107 2338.5h1451" stroke="#52412a" stroke-dasharray="2 2 1 17 1 4 3 4 1 28 2 15 1 82 1 69 3 23 1 61 1 100 1 6 1 67 1 14 1 1 1 82 1 19 1 87 1 33 1 53 1 29 1 43 1 22 1 5 1 188 1 56 2 33 1 20 1 21 1 29 1 46 1 26 1 21 1 21 1 17 1 7 1 1 1 10 1 42 1 9999"/><path d="M116 2338.5h1475" stroke="#31123a" stroke-dasharray="1 22 2 5 2 4 3 4 11 2 1 5 4 3 2 33 2 5 1 5 6 1 1 2 2 9 4 2 3 14 3 11 1 4 2 12 1 2 1 41 1 2 1 13 1 5 1 6 1 3 1 5 2 2 2 4 2 3 1 8 1 11 2 7 1 6 4 4 1 6 1 1 1 4 2 5 1 14 2 5 3 8 1 1 1 14 1 1 1 3 2 3 1 7 1 4 1 6 1 19 1 1 2 5 1 28 1 1 1 7 1 6 1 6 1 3 1 1 1 1 1 6 1 1 2 1 1 1 5 1 1 1 1 2 1 1 1 2 1 1 1 3 7 1 1 4 1 4 1 1 1 3 1 11 2 1 1 3 1 1 1 3 1 2 2 1 2 1 3 6 3 9 1 2 3 3 2 2 1 1 1 2 1 1 2 7 6 1 1 3 2 1 2 2 1 3 1 4 1 5 2 2 2 2 3 2 1 3 2 1 1 4 1 2 1 1 1 8 1 12 4 3 3 4 1 6 1 1 1 3 1 2 2 7 1 1 1 2 1 2 1 14 2 2 1 1 2 1 1 4 1 1 2 1 1 1 1 13 1 3 1 1 2 1 1 4 1 4 1 6 2 1 1 2 1 1 1 1 1 4 1 1 3 1 2 4 2 2 1 1 1 2 1 2 1 3 1 5 2 3 1 8 2 1 1 3 2 8 2 4 1 6 1 10 2 11 3 5 1 26 3 5 3 3 2 15 3 2 2 30 2 1 1 12 1 3 2 6 1 13 2 4 1 5 1 1 2 5 1 6 2 13 1 2 3 5 1 3 2 2 1 8 1 8 1 6 1 1 1 13 2 3 1 2 1 21 1 1 2 1 1 11 2 1 1 2 1 5 1 2 2 5 1 1 1 2 1 2 1 1 1 8 1 4 2 1 1 4 1 14 1 8 1 1 1 5 1 7 1 2 2 6 1 4 1 3 1 6 1 1 1 4 2 2 2 11 1 2 2 7 1 2 4 3 1 3 2 1 3 1 2 9999"/><path d="M117 2338.5h1454" stroke="#807c18" stroke-dasharray="2 29 4 70 2 4 1 87 1 27 4 17 1 25 2 8 2 42 1 26 1 40 1 2 1 23 1 19 1 13 2 31 1 5 1 17 1 352 2 38 1 26 1 24 1 4 1 45 1 9 2 31 1 65 2 3 2 23 1 18 1 5 2 10 1 20 1 5 1 67 1 22 1 10 1 17 1 13 1 105 1 9999"/><path d="M130 2338.5h1383" stroke="#918c18" stroke-dasharray="2 24 1 36 2 6 1 2 4 66 2 36 1 9 2 11 1 13 1 9 3 11 3 3 2 3 1 1 1 46 2 16 2 3 1 32 1 11 2 7 1 7 1 15 1 19 1 1 1 2 1 18 1 48 1 183 1 4 1 39 1 47 1 8 1 4 1 47 1 90 1 2 1 32 1 8 1 6 1 11 1 11 1 40 1 39 2 7 2 13 1 6 2 27 1 5 1 6 2 17 1 27 1 26 3 4 1 10 1 28 1 36 1 2 1 32 1 4 1 8 1 15 2 9999"/><path d="M132 2338.5h1342" stroke="#403225" stroke-dasharray="1 235 2 91 1 23 1 49 1 34 1 35 1 374 1 41 1 19 1 14 1 84 1 329 1 9999"/><path d="M137 2338.5h1414" stroke="#4b3a29" stroke-dasharray="2 149 2 21 1 7 2 22 1 13 1 39 2 66 1 15 1 1 2 115 1 11 1 28 1 63 1 62 1 15 1 131 1 45 1 204 2 21 2 121 1 12 1 1 1 142 1 26 2 47 1 2 1 9999"/><path d="M142 2338.5h1450" stroke="#65522d" stroke-dasharray="1 14 1 38 3 68 2 26 1 2 2 24 3 1 2 26 1 37 1 12 1 3 2 45 1 4 1 9 2 15 1 4 2 20 1 25 1 17 1 6 1 2 1 15 1 5 2 8 1 6 1 5 1 6 1 5 2 2 1 4 1 10 1 20 1 5 1 16 1 4 1 12 1 35 1 33 1 6 3 13 1 46 1 10 1 6 2 30 1 17 1 21 1 9 1 1 1 44 1 2 1 20 1 2 1 5 1 15 1 7 1 3 1 18 1 11 1 10 1 42 1 13 1 34 2 6 1 31 2 20 2 26 1 33 1 13 1 8 1 2 1 2 1 4 1 26 1 10 2 4 1 10 1 8 1 6 1 19 1 8 1 15 1 61 1 24 2 6 1 18 1 9 1 9999"/><path d="M188 2338.5h1343" stroke="#6f6b1a" stroke-dasharray="1 11 1 25 1 2 1 35 2 668 1 205 1 85 1 130 1 111 1 59 1 9999"/><path d="M199 2338.5h1280" stroke="#6b582d" stroke-dasharray="1 81 1 10 1 9 1 4 3 17 1 9 2 23 2 6 2 9 1 6 1 20 1 14 1 95 1 27 1 15 1 23 2 1 1 36 1 17 1 33 1 16 1 63 1 23 1 1 1 31 2 14 1 29 1 32 1 22 1 27 1 13 1 3 2 2 1 21 1 10 1 3 1 24 1 5 1 42 1 1 1 6 1 5 1 12 1 4 1 6 1 22 4 55 2 20 1 21 1 46 2 2 2 38 1 9 1 2 1 21 1 5 1 10 1 8 1 15 1 1 1 10 1 31 1 16 1 9999"/><path d="M202 2338.5h1362" stroke="#594a28" stroke-dasharray="2 10 1 2 2 6 1 20 2 28 1 40 2 17 1 39 1 5 1 25 1 11 1 18 1 35 1 3 2 82 1 5 1 14 1 75 1 62 1 45 1 27 1 24 2 65 1 20 1 1 1 21 1 2 1 18 1 8 1 22 2 39 1 34 1 1 1 8 1 19 1 15 1 1 1 11 1 117 2 6 4 5 1 4 1 5 2 13 1 10 2 13 1 58 1 11 1 3 1 49 1 11 1 13 1 23 1 12 1 26 1 7 1 16 1 10 1 9999"/><path d="M219 2338.5h1183" stroke="#7b6830" stroke-dasharray="1 215 2 56 2 58 1 4 1 7 2 17 1 4 1 75 1 81 1 51 1 128 1 64 1 79 1 98 1 89 2 36 2 8 1 23 2 55 1 8 1 9999"/><path d="M413 2338.5h30" stroke="#8c743c" stroke-dasharray="2 27 1 9999"/></g>
<rect x="103" y="2351.4" width="1031" height="26.4" fill="#240c30"/>
<rect x="1137" y="2351.4" width="455" height="26.4" fill="#240c30"/>
<g stroke-width="26.4" fill="none"><path d="M107 2364.6h540" stroke="#5a4e24" stroke-dasharray="2 537 1 9999"/><path d="M170 2364.6h1267" stroke="#897d2a" stroke-dasharray="2 152 1 18 1 141 1 103 1 44 1 7 1 1 1 71 1 108 1 128 1 13 1 3 1 38 1 26 1 142 1 96 1 6 1 25 2 11 1 20 1 3 1 36 1 49 1 9999"/><path d="M280 2364.6h1063" stroke="#7f722a" stroke-dasharray="1 219 1 20 1 76 1 4 1 60 1 468 1 58 1 110 1 38 1 9999"/><path d="M296 2364.6h539" stroke="#625424" stroke-dasharray="2 507 1 28 1 9999"/><path d="M332 2364.6h2" stroke="#9c9618"/><path d="M417 2364.6h961" stroke="#6c6024" stroke-dasharray="2 26 1 92 1 36 1 36 1 5 1 51 1 53 1 3 1 17 1 73 1 256 1 18 1 280 1 9999"/><path d="M490 2364.6h1" stroke="#f6f02a"/><path d="M493 2364.6h263" stroke="#32261e" stroke-dasharray="2 260 1 9999"/><path d="M539 2364.6h1030" stroke="#776b24" stroke-dasharray="1 9 1 1 1 64 1 80 1 28 1 50 1 25 1 157 1 56 1 345 1 116 1 86 1 9999"/><path d="M571 2364.6h627" stroke="#d8d224" stroke-dasharray="1 625 1 9999"/><path d="M656 2364.6h558" stroke="#564824" stroke-dasharray="1 461 1 94 1 9999"/><path d="M658 2364.6h579" stroke="#665a24" stroke-dasharray="1 280 1 93 1 41 1 160 1 9999"/><path d="M812 2364.6h401" stroke="#4a3e24" stroke-dasharray="1 397 3 9999"/><path d="M962 2364.6h1" stroke="#7e6c2a"/><path d="M1315 2364.6h1" stroke="#3c301e"/></g>
<rect x="103" y="2377.4" width="1031" height="26.4" fill="#180c18"/>
<rect x="1137" y="2377.4" width="455" height="26.4" fill="#180c18"/>
<g stroke-width="26.4" fill="none"><path d="M105 2390.6h1416" stroke="#78721e" stroke-dasharray="1 472 1 9 1 931 1 9999"/><path d="M123 2390.6h1234" stroke="#66601e" stroke-dasharray="3 779 1 450 1 9999"/><path d="M180 2390.6h1361" stroke="#847e24" stroke-dasharray="2 146 2 2 2 21 1 182 1 69 1 1 1 350 1 316 1 33 1 2 1 8 1 14 1 200 1 9999"/><path d="M253 2390.6h1291" stroke="#7e721e" stroke-dasharray="1 364 1 464 1 304 1 154 1 9999"/><path d="M263 2390.6h2" stroke="#544e18"/><path d="M290 2390.6h1178" stroke="#6c661e" stroke-dasharray="1 1176 1 9999"/><path d="M384 2390.6h1182" stroke="#7e781e" stroke-dasharray="1 154 1 20 1 1004 1 9999"/><path d="M417 2390.6h2" stroke="#6c601e"/><path d="M427 2390.6h385" stroke="#726c1e" stroke-dasharray="1 62 1 320 1 9999"/><path d="M656 2390.6h1" stroke="#544818"/><path d="M876 2390.6h465" stroke="#84781e" stroke-dasharray="1 463 1 9999"/><path d="M991 2390.6h1" stroke="#786c1e"/><path d="M1031 2390.6h1" stroke="#605a18"/><path d="M1193 2390.6h2" stroke="#665a1e"/></g>
<rect x="103" y="2403.5" width="1031" height="26.4" fill="#180c18"/>
<rect x="1137" y="2403.5" width="455" height="26.4" fill="#180c18"/>
<g stroke-width="26.4" fill="none"><path d="M137 2416.7h1192" stroke="#847e24" stroke-dasharray="2 122 1 276 1 220 1 49 1 2 1 101 1 16 1 89 1 18 1 152 2 15 3 98 1 16 1 9999"/><path d="M319 2416.7h1006" stroke="#726c1e" stroke-dasharray="2 268 1 469 1 137 1 126 1 9999"/><path d="M332 2416.7h2" stroke="#423c18"/><path d="M343 2416.7h694" stroke="#78721e" stroke-dasharray="1 647 1 44 1 9999"/><path d="M355 2416.7h1" stroke="#7e781e"/><path d="M634 2416.7h627" stroke="#84781e" stroke-dasharray="1 302 1 19 1 302 1 9999"/><path d="M656 2416.7h763" stroke="#6c661e" stroke-dasharray="1 761 1 9999"/><path d="M661 2416.7h370" stroke="#66601e" stroke-dasharray="1 368 1 9999"/><path d="M1266 2416.7h128" stroke="#5a5418" stroke-dasharray="1 126 1 9999"/><path d="M1286 2416.7h102" stroke="#6c601e" stroke-dasharray="1 100 1 9999"/></g>
<rect x="103" y="2429.6" width="1031" height="26.4" fill="#2a1230"/>
<rect x="1137" y="2429.6" width="455" height="26.4" fill="#2a1230"/>
<g stroke-width="26.4" fill="none"><path d="M105 2442.7h1450" stroke="#907e30" stroke-dasharray="1 46 1 2 1 71 1 26 2 29 1 9 1 35 1 47 2 54 2 93 1 22 1 6 1 17 1 4 2 36 1 61 1 41 1 209 1 5 1 7 1 37 1 74 1 27 1 60 3 17 1 20 1 68 2 140 1 57 1 75 1 16 1 9999"/><path d="M106 2442.7h1458" stroke="#75672a" stroke-dasharray="1 12 4 49 1 23 3 165 1 2 1 5 3 7 1 2 1 32 1 8 3 2 2 12 1 17 1 6 1 8 1 1 2 2 2 72 1 3 2 1 1 11 1 22 1 21 1 50 1 8 1 26 1 143 1 16 1 6 1 21 1 3 1 11 1 94 1 22 1 22 1 103 2 17 2 30 2 13 2 16 1 17 1 27 2 16 1 1 1 28 1 20 1 14 1 22 1 29 1 13 1 30 1 22 1 7 1 54 2 9999"/><path d="M117 2442.7h1460" stroke="#7f712a" stroke-dasharray="2 80 1 5 3 14 2 1 1 60 1 128 1 5 2 43 3 41 1 39 1 28 1 25 1 1 1 61 1 56 1 42 1 50 1 54 1 55 1 33 1 31 1 86 1 16 1 56 1 50 1 68 1 146 1 12 1 28 1 47 1 17 1 42 1 9999"/><path d="M128 2442.7h1451" stroke="#4d3f24" stroke-dasharray="1 32 2 29 1 21 1 45 1 29 1 94 1 9 2 141 1 16 1 223 1 133 1 31 1 114 1 223 1 6 2 55 1 51 1 177 1 9999"/><path d="M134 2442.7h1427" stroke="#6a5c26" stroke-dasharray="3 11 4 1 2 1 1 6 1 87 1 9 1 8 1 29 1 42 1 14 1 28 2 8 2 11 1 48 2 10 1 28 1 13 1 42 1 5 1 73 1 51 1 61 1 16 1 43 1 12 1 62 1 73 1 91 1 102 1 4 1 15 1 25 2 17 2 11 1 14 2 28 1 73 1 1 1 64 1 20 1 26 1 49 1 30 1 8 1 9999"/><path d="M137 2442.7h1417" stroke="#574b24" stroke-dasharray="2 19 1 26 2 163 2 2 1 2 1 26 1 94 2 133 1 189 1 176 1 46 1 9 1 57 1 19 1 52 1 52 1 12 1 79 1 1 1 15 1 43 1 175 1 9999"/><path d="M159 2442.7h1095" stroke="#d5d223" stroke-dasharray="2 153 2 39 1 99 1 26 1 129 1 396 1 243 1 9999"/><path d="M168 2442.7h1416" stroke="#615224" stroke-dasharray="2 50 2 24 2 21 1 8 2 16 2 9 3 2 1 19 2 3 2 26 1 33 2 39 1 48 1 3 2 37 1 83 1 1 1 37 1 16 1 191 1 53 1 90 1 53 1 3 1 25 1 38 1 40 1 18 2 3 3 139 1 52 1 3 1 163 1 21 1 9999"/><path d="M173 2442.7h1283" stroke="#867a29" stroke-dasharray="3 37 1 60 2 25 1 2 3 17 1 80 2 62 2 27 1 20 1 19 1 83 1 130 1 150 1 76 1 8 1 41 1 42 1 4 1 9 1 13 1 78 1 28 1 120 1 11 1 17 1 90 1 9999"/><path d="M232 2442.7h1081" stroke="#a7a21c" stroke-dasharray="1 29 1 50 1 278 1 104 1 326 1 287 1 9999"/><path d="M353 2442.7h802" stroke="#b6b21e" stroke-dasharray="1 141 2 388 1 268 1 9999"/><path d="M409 2442.7h1116" stroke="#413424" stroke-dasharray="1 198 1 90 1 229 1 267 1 326 1 9999"/><path d="M457 2442.7h931" stroke="#e6e024" stroke-dasharray="1 176 1 710 1 41 1 9999"/><path d="M490 2442.7h906" stroke="#c6c021" stroke-dasharray="1 135 1 568 1 14 3 182 1 9999"/><path d="M1181 2442.7h103" stroke="#6c6918" stroke-dasharray="1 101 1 9999"/></g>
<rect x="103" y="2455.6" width="1031" height="26.4" fill="#301236"/>
<rect x="1137" y="2455.6" width="455" height="26.4" fill="#301236"/>
<g stroke-width="26.4" fill="none"><path d="M116 2468.8h1280" stroke="#62522a" stroke-dasharray="1 9 2 54 3 24 4 140 1 10 1 91 1 78 1 96 1 33 1 53 1 67 1 24 1 123 1 24 1 131 1 170 1 87 1 41 1 9999"/><path d="M119 2468.8h1459" stroke="#8f8230" stroke-dasharray="4 19 1 14 1 3 2 5 2 10 2 11 2 24 1 5 1 61 1 5 2 30 2 23 2 3 1 6 2 20 1 4 1 36 1 36 1 5 2 6 2 3 1 7 1 2 4 21 1 1 1 11 1 7 1 3 1 1 1 59 1 3 1 16 1 34 2 36 1 8 1 9 1 30 1 18 2 31 1 8 1 35 2 1 1 27 1 22 2 7 1 6 1 26 1 19 1 33 1 4 1 21 1 31 1 27 1 16 1 2 1 3 1 20 1 12 1 31 3 14 1 3 1 32 2 7 1 2 2 23 3 44 1 11 1 5 1 5 1 4 1 15 1 12 1 102 1 66 1 18 1 8 1 7 1 9999"/><path d="M132 2468.8h1436" stroke="#7d6d2a" stroke-dasharray="1 37 2 4 2 26 1 51 4 30 1 11 1 36 1 36 1 11 1 82 1 15 3 48 1 2 1 35 1 18 1 15 1 28 1 54 1 63 1 17 1 41 1 10 1 17 1 6 1 61 1 13 1 3 1 24 1 135 1 30 1 3 1 101 1 28 2 74 1 26 1 25 1 17 1 10 1 118 1 22 1 3 1 9999"/><path d="M158 2468.8h1411" stroke="#86762d" stroke-dasharray="1 129 2 2 1 20 3 1 2 76 2 4 2 42 1 5 2 20 2 25 1 36 1 35 1 4 1 15 1 9 1 52 1 13 1 34 1 34 1 21 1 42 1 73 1 4 1 22 1 90 1 78 1 12 1 9 1 20 1 16 1 34 1 22 1 37 2 34 2 7 1 25 1 4 1 12 1 48 1 6 1 3 1 31 1 7 1 16 1 2 1 13 1 57 1 51 1 9999"/><path d="M163 2468.8h1408" stroke="#6b5c2a" stroke-dasharray="1 82 2 4 1 20 1 3 1 29 3 26 1 130 2 76 1 12 1 4 1 24 1 14 1 3 1 10 1 215 1 8 1 39 1 2 1 24 1 8 1 52 1 141 1 35 3 100 1 19 1 3 1 5 1 129 1 11 1 46 1 27 1 1 1 19 1 46 1 9999"/><path d="M178 2468.8h1413" stroke="#75642a" stroke-dasharray="2 68 3 31 3 31 1 29 2 33 1 8 1 52 2 54 1 61 1 20 1 42 1 84 1 34 1 52 1 8 1 19 1 35 1 11 1 110 1 30 1 13 1 8 1 83 1 42 2 32 1 11 1 75 2 73 1 3 1 19 1 12 1 28 1 9 1 45 1 44 1 27 1 29 2 9999"/><path d="M187 2468.8h985" stroke="#ceca24" stroke-dasharray="1 41 1 236 1 128 1 388 1 157 1 19 1 2 2 4 1 9999"/><path d="M195 2468.8h1189" stroke="#524224" stroke-dasharray="1 250 1 92 1 91 1 3 1 1 1 54 1 371 1 145 3 170 1 9999"/><path d="M215 2468.8h1223" stroke="#c7c21e" stroke-dasharray="2 332 1 64 1 522 2 15 3 6 2 8 1 263 1 9999"/><path d="M280 2468.8h1228" stroke="#574926" stroke-dasharray="1 19 1 29 1 90 2 99 1 90 1 56 1 24 1 21 1 48 1 45 1 122 1 69 1 310 1 57 1 12 1 35 1 8 1 74 1 9999"/><path d="M465 2468.8h1023" stroke="#f1eb27" stroke-dasharray="1 110 1 519 1 44 1 179 1 165 1 9999"/><path d="M565 2468.8h987" stroke="#433324" stroke-dasharray="1 216 1 185 1 22 1 234 1 184 1 22 1 116 1 9999"/><path d="M567 2468.8h768" stroke="#dfdb24" stroke-dasharray="1 4 1 53 1 396 1 116 1 17 1 175 1 9999"/><path d="M640 2468.8h807" stroke="#b2ad1e" stroke-dasharray="1 223 1 280 6 6 1 1 3 7 1 2 1 87 1 185 1 9999"/><path d="M1144 2468.8h1" stroke="#9c9618"/></g>
</g>
</g>
<text x="1597.8" y="1477.6" font-size="23.7" textLength="110.7" lengthAdjust="spacingAndGlyphs">Clone size</text>
<text x="1597.8" y="1505.2" font-size="23.7">Group</text>
<text x="1597.8" y="1532.9" font-size="23.7">Patient</text>
<text x="1597.8" y="1560.5" font-size="23.7">Cluster</text>
<text x="1597.8" y="1588.1" font-size="23.7" textLength="163.6" lengthAdjust="spacingAndGlyphs">Mitochondria %</text>
<text x="1597.8" y="1615.8" font-size="23.7">Read count</text>
<text x="1597.8" y="1643.4" font-size="23.7"># of features</text>
<text x="1597.8" y="1671" font-size="23.7" textLength="270.2" lengthAdjust="spacingAndGlyphs">Frequency of TCR clones</text>
<text x="98.5" y="1695.4" font-size="23.4" font-style="italic" text-anchor="end">GZMA</text>
<text x="98.5" y="1721.5" font-size="23.4" font-style="italic" text-anchor="end">GZMH</text>
<text x="98.5" y="1747.5" font-size="23.4" font-style="italic" text-anchor="end">GZMB</text>
<text x="98.5" y="1773.6" font-size="23.4" font-style="italic" text-anchor="end">GNLY</text>
<text x="98.5" y="1799.6" font-size="23.4" font-style="italic" text-anchor="end">PRF1</text>
<text x="98.5" y="1825.7" font-size="23.4" font-style="italic" text-anchor="end">GZMK</text>
<text x="98.5" y="1851.7" font-size="23.4" font-style="italic" text-anchor="end">NKG7</text>
<text x="98.5" y="1877.8" font-size="23.4" font-style="italic" text-anchor="end">ZNF683</text>
<text x="98.5" y="1903.8" font-size="23.4" font-style="italic" text-anchor="end">CX3CR1</text>
<text x="98.5" y="1929.9" font-size="23.4" font-style="italic" text-anchor="end">CCL4</text>
<text x="98.5" y="1955.9" font-size="23.4" font-style="italic" text-anchor="end">CCL5</text>
<text x="98.5" y="1982" font-size="23.4" font-style="italic" text-anchor="end">IFNG</text>
<text x="98.5" y="2008" font-size="23.4" font-style="italic" text-anchor="end">KLRG1</text>
<text x="98.5" y="2034.1" font-size="23.4" font-style="italic" text-anchor="end">KLRB1</text>
<text x="98.5" y="2060.1" font-size="23.4" font-style="italic" text-anchor="end">KIR3DL1</text>
<text x="98.5" y="2086.2" font-size="23.4" font-style="italic" text-anchor="end">KIR3DL2</text>
<text x="98.5" y="2112.2" font-size="23.4" font-style="italic" text-anchor="end">KIR2DL3</text>
<text x="98.5" y="2138.3" font-size="23.4" font-style="italic" text-anchor="end">CD244</text>
<text x="98.5" y="2164.3" font-size="23.4" font-style="italic" text-anchor="end">TIGIT</text>
<text x="98.5" y="2190.4" font-size="23.4" font-style="italic" text-anchor="end">IKZF2</text>
<text x="98.5" y="2216.4" font-size="23.4" font-style="italic" text-anchor="end">CCR7</text>
<text x="98.5" y="2242.5" font-size="23.4" font-style="italic" text-anchor="end">SELL</text>
<text x="98.5" y="2268.5" font-size="23.4" font-style="italic" text-anchor="end">IL7R</text>
<text x="98.5" y="2294.6" font-size="23.4" font-style="italic" text-anchor="end">TBX21</text>
<text x="98.5" y="2320.6" font-size="23.4" font-style="italic" text-anchor="end">XBP1</text>
<text x="98.5" y="2346.7" font-size="23.4" font-style="italic" text-anchor="end">EOMES</text>
<text x="98.5" y="2372.7" font-size="23.4" font-style="italic" text-anchor="end">TRGV9</text>
<text x="98.5" y="2398.8" font-size="23.4" font-style="italic" text-anchor="end">TRDC</text>
<text x="98.5" y="2424.8" font-size="23.4" font-style="italic" text-anchor="end">TRDV1</text>
<text x="98.5" y="2450.9" font-size="23.4" font-style="italic" text-anchor="end">TRGC2</text>
<text x="98.5" y="2476.9" font-size="23.4" font-style="italic" text-anchor="end">TRGV10</text>
<defs><linearGradient id="gE" x1="0" y1="0" x2="0" y2="1"><stop offset="0" stop-color="#ffff40"/><stop offset="0.03" stop-color="#ffff40"/><stop offset="0.485" stop-color="#000000"/><stop offset="0.52" stop-color="#0a000c"/><stop offset="0.97" stop-color="#e040f8"/><stop offset="1" stop-color="#e040f8"/></linearGradient><linearGradient id="gM" x1="0" y1="0" x2="0" y2="1"><stop offset="0" stop-color="#ffff40"/><stop offset="0.035" stop-color="#ffff40"/><stop offset="0.965" stop-color="#000000"/><stop offset="1" stop-color="#000000"/></linearGradient><linearGradient id="gF" x1="0" y1="0" x2="0" y2="1"><stop offset="0" stop-color="#8e1b0b"/><stop offset="0.04" stop-color="#8e1b0b"/><stop offset="0.965" stop-color="#d3d3d3"/><stop offset="1" stop-color="#d3d3d3"/></linearGradient><linearGradient id="gT" x1="0" y1="0" x2="0" y2="1"><stop offset="0" stop-color="#00009c"/><stop offset="0.22" stop-color="#00009c"/><stop offset="0.365" stop-color="#5a3fb0"/><stop offset="0.68" stop-color="#a596c8"/><stop offset="0.99" stop-color="#d3d3d3"/><stop offset="1" stop-color="#d3d3d3"/></linearGradient><linearGradient id="gR" x1="0" y1="0" x2="0" y2="1"><stop offset="0" stop-color="#8e1505"/><stop offset="0.2" stop-color="#8e1505"/><stop offset="0.33" stop-color="#a8513b"/><stop offset="0.645" stop-color="#c69a8d"/><stop offset="0.95" stop-color="#d3d3d3"/><stop offset="1" stop-color="#d3d3d3"/></linearGradient></defs>
<text x="1602.6" y="1702.6" font-size="21.8" font-weight="bold" textLength="118.4" lengthAdjust="spacingAndGlyphs">Expression</text>
<rect x="1601" y="1728.1" width="18.8" height="95.7" fill="url(#gE)"/>
<path d="M1601 1731.2h3.8 M1616 1731.2h3.8" stroke="#fff" stroke-width="0.9" opacity=".85"/>
<text x="1633.6" y="1738.4" font-size="20">2</text>
<path d="M1601 1754.6h3.8 M1616 1754.6h3.8" stroke="#fff" stroke-width="0.9" opacity=".85"/>
<text x="1633.6" y="1761.8" font-size="20">1</text>
<path d="M1601 1775.4h3.8 M1616 1775.4h3.8" stroke="#fff" stroke-width="0.9" opacity=".85"/>
<text x="1633.6" y="1782.6" font-size="20">0</text>
<path d="M1601 1798h3.8 M1616 1798h3.8" stroke="#fff" stroke-width="0.9" opacity=".85"/>
<text x="1633.6" y="1805.2" font-size="20">-1</text>
<path d="M1601 1821h3.8 M1616 1821h3.8" stroke="#fff" stroke-width="0.9" opacity=".85"/>
<text x="1633.6" y="1828.2" font-size="20">-2</text>
<text x="1768.6" y="1702.6" font-size="21.8" font-weight="bold" textLength="65" lengthAdjust="spacingAndGlyphs">Group</text>
<rect x="1765.2" y="1716.2" width="26.7" height="28.4" fill="#0000fe"/>
<rect x="1765.2" y="1745" width="26.7" height="28" fill="#ee3b24"/>
<rect x="1793.4" y="1716.2" width="0.8" height="28.4" fill="#0000fe" opacity=".3"/>
<rect x="1793.4" y="1745" width="0.8" height="28" fill="#ee3b24" opacity=".3"/>
<text x="1801.9" y="1736" font-size="18" textLength="61" lengthAdjust="spacingAndGlyphs">Healthy</text>
<text x="1801.9" y="1768.1" font-size="18" textLength="91.5" lengthAdjust="spacingAndGlyphs">ACPA+ RA</text>
<text x="1801.9" y="1808.6" font-size="21.8" font-weight="bold" textLength="75" lengthAdjust="spacingAndGlyphs">Cluster</text>
<rect x="1804.2" y="1821.7" width="24.2" height="25.3" fill="#f39c3d"/>
<text x="1837" y="1840" font-size="18">Naïve</text>
<rect x="1804.2" y="1847.6" width="24.2" height="25.3" fill="#4a98e8"/>
<text x="1837" y="1867.2" font-size="18" font-style="italic">GZMB<tspan dy="-6.5" font-size="10.8">+</tspan><tspan dy="6.5"> GNLY</tspan><tspan dy="-6.5" font-size="10.8">+</tspan></text>
<rect x="1804.2" y="1873.5" width="24.2" height="25.3" fill="#7b50a8"/>
<text x="1837" y="1892.6" font-size="18" font-style="italic">GZMB<tspan dy="-6.5" font-size="10.8">+</tspan><tspan dy="6.5"> KIR</tspan><tspan dy="-6.5" font-size="10.8">+</tspan></text>
<rect x="1804.2" y="1899.4" width="24.2" height="25.3" fill="#f9e04f"/>
<text x="1837" y="1917" font-size="18" font-style="italic">TCRgd<tspan dy="-6.5" font-size="10.8">+</tspan></text>
<rect x="1804.2" y="1925.3" width="24.2" height="25.3" fill="#45992e"/>
<text x="1837" y="1943.2" font-size="18" font-style="italic">GZMK<tspan dy="-6.5" font-size="10.8">+</tspan></text>
<rect x="1804.2" y="1951.2" width="24.2" height="25.3" fill="#000000"/>
<text x="1837" y="1968.4" font-size="18">Memory</text>
<rect x="1804.2" y="1977.1" width="24.2" height="25.3" fill="#d8382f"/>
<text x="1837" y="1995.3" font-size="18" font-style="italic">CCR6<tspan dy="-6.5" font-size="10.8">+</tspan><tspan dy="6.5"> CD161</tspan><tspan dy="-6.5" font-size="10.8">+</tspan></text>
<text x="1601.9" y="1867.4" font-size="21.8" font-weight="bold" textLength="109.1" lengthAdjust="spacingAndGlyphs">Clone size</text>
<rect x="1601.8" y="1880.8" width="26.9" height="27.4" fill="#7a2208"/>
<text x="1638.8" y="1901.8" font-size="18" textLength="105.5" lengthAdjust="spacingAndGlyphs">Large (X&gt;20)</text>
<rect x="1601.8" y="1908.9" width="26.9" height="27.4" fill="#ee3b24"/>
<text x="1638.8" y="1930" font-size="18" textLength="148.2" lengthAdjust="spacingAndGlyphs">Medium (20&gt;X≧5)</text>
<rect x="1601.8" y="1937" width="26.9" height="27.4" fill="#f5b642"/>
<text x="1638.8" y="1958.2" font-size="18" textLength="119" lengthAdjust="spacingAndGlyphs">Small (5&gt;X≧2)</text>
<rect x="1601.8" y="1965.1" width="26.9" height="27.4" fill="#c5dfee"/>
<text x="1638.8" y="1986.4" font-size="18" textLength="126.5" lengthAdjust="spacingAndGlyphs">Singleton (X=1)</text>
<text x="1603.9" y="2034" font-size="21.8" font-weight="bold" textLength="71.8" lengthAdjust="spacingAndGlyphs">Patient</text>
<rect x="1604.6" y="2050.4" width="24.1" height="24" fill="#f0e89a"/>
<text x="1632.4" y="2069.7" font-size="17.2">RA1</text>
<rect x="1604.6" y="2075.2" width="24.1" height="24" fill="#cdc0de"/>
<text x="1632.4" y="2094.6" font-size="17.2">RA2</text>
<rect x="1604.6" y="2100.1" width="24.1" height="24" fill="#b2eda6"/>
<text x="1632.4" y="2119.4" font-size="17.2">RA3</text>
<rect x="1604.6" y="2125" width="24.1" height="24" fill="#f19cf2"/>
<text x="1632.4" y="2144.3" font-size="17.2">RA4</text>
<rect x="1604.6" y="2149.8" width="24.1" height="24" fill="#f6cb86"/>
<text x="1632.4" y="2169.1" font-size="17.2">RA5</text>
<rect x="1604.6" y="2174.7" width="24.1" height="24" fill="#f3afaf"/>
<text x="1632.4" y="2194" font-size="17.2">RA6</text>
<rect x="1604.6" y="2199.5" width="24.1" height="24" fill="#ee3d9c"/>
<text x="1632.4" y="2218.8" font-size="17.2">RA7</text>
<rect x="1604.6" y="2224.3" width="24.1" height="24" fill="#4d99ea"/>
<text x="1632.4" y="2243.7" font-size="17.2">RA8</text>
<rect x="1604.6" y="2249.2" width="24.1" height="24" fill="#df3d37"/>
<text x="1632.4" y="2268.5" font-size="17.2">RA9</text>
<rect x="1604.6" y="2274.1" width="24.1" height="24" fill="#b0457a"/>
<text x="1632.4" y="2293.4" font-size="17.2">RA10</text>
<rect x="1604.6" y="2298.9" width="24.1" height="24" fill="#3f9c2e"/>
<text x="1632.4" y="2318.2" font-size="17.2">RA11</text>
<rect x="1604.6" y="2323.8" width="24.1" height="24" fill="#bdbdbd"/>
<text x="1632.4" y="2343.1" font-size="17.2">RA12</text>
<rect x="1689.4" y="2052.2" width="24" height="23.9" fill="#f2993a"/>
<text x="1719" y="2069.8" font-size="17.2">HC1</text>
<rect x="1689.4" y="2077" width="24" height="23.9" fill="#7b4fa8"/>
<text x="1719" y="2094.6" font-size="17.2">HC2</text>
<rect x="1689.4" y="2101.8" width="24" height="23.9" fill="#9ecbee"/>
<text x="1719" y="2119.4" font-size="17.2">HC3</text>
<rect x="1689.4" y="2126.6" width="24" height="23.9" fill="#000000"/>
<text x="1719" y="2144.2" font-size="17.2">HC4</text>
<rect x="1689.4" y="2151.4" width="24" height="23.9" fill="#0000fe"/>
<text x="1719" y="2169" font-size="17.2">HC5</text>
<rect x="1689.4" y="2176.2" width="24" height="23.9" fill="#fadf55"/>
<text x="1719" y="2193.8" font-size="17.2">HC6</text>
<text x="1787" y="2030.4" font-size="21.8" font-weight="bold" textLength="162.3" lengthAdjust="spacingAndGlyphs">Mitochondria %</text>
<rect x="1788.6" y="2047" width="23.4" height="117.4" fill="url(#gM)"/>
<path d="M1788.6 2051.1h4.7 M1807.3 2051.1h4.7" stroke="#fff" stroke-width="0.9" opacity=".85"/>
<text x="1817.7" y="2057.4" font-size="17.6">10</text>
<path d="M1788.6 2109h4.7 M1807.3 2109h4.7" stroke="#fff" stroke-width="0.9" opacity=".85"/>
<text x="1817.7" y="2115.3" font-size="17.6">5</text>
<path d="M1788.6 2160.4h4.7 M1807.3 2160.4h4.7" stroke="#fff" stroke-width="0.9" opacity=".85"/>
<text x="1817.7" y="2166.7" font-size="17.6">0</text>
<text x="1785.2" y="2205.9" font-size="21.8" font-weight="bold" textLength="131" lengthAdjust="spacingAndGlyphs"># of features</text>
<rect x="1787.4" y="2220.5" width="24.6" height="124.9" fill="url(#gF)"/>
<path d="M1787.4 2225.5h4.9 M1807.1 2225.5h4.9" stroke="#fff" stroke-width="0.9" opacity=".85"/>
<text x="1821.6" y="2231.8" font-size="17.6">3000</text>
<path d="M1787.4 2264.3h4.9 M1807.1 2264.3h4.9" stroke="#fff" stroke-width="0.9" opacity=".85"/>
<text x="1821.6" y="2270.6" font-size="17.6">2000</text>
<path d="M1787.4 2302.6h4.9 M1807.1 2302.6h4.9" stroke="#fff" stroke-width="0.9" opacity=".85"/>
<text x="1821.6" y="2308.9" font-size="17.6">1000</text>
<path d="M1787.4 2341.3h4.9 M1807.1 2341.3h4.9" stroke="#fff" stroke-width="0.9" opacity=".85"/>
<text x="1821.6" y="2347.6" font-size="17.6">0</text>
<text x="1601.2" y="2388.7" font-size="21.8" font-weight="bold" textLength="155.5" lengthAdjust="spacingAndGlyphs">TCR frequency</text>
<rect x="1602.3" y="2405.2" width="25.6" height="131" fill="url(#gT)"/>
<path d="M1602.3 2410.9h5.1 M1622.8 2410.9h5.1" stroke="#fff" stroke-width="0.9" opacity=".85"/>
<text x="1634.7" y="2417.2" font-size="17.6">60</text>
<path d="M1602.3 2453h5.1 M1622.8 2453h5.1" stroke="#fff" stroke-width="0.9" opacity=".85"/>
<text x="1634.7" y="2459.3" font-size="17.6">40</text>
<path d="M1602.3 2494.5h5.1 M1622.8 2494.5h5.1" stroke="#fff" stroke-width="0.9" opacity=".85"/>
<text x="1634.7" y="2500.8" font-size="17.6">20</text>
<path d="M1602.3 2535h5.1 M1622.8 2535h5.1" stroke="#fff" stroke-width="0.9" opacity=".85"/>
<text x="1634.7" y="2541.3" font-size="17.6">0</text>
<text x="1783.6" y="2388.7" font-size="21.8" font-weight="bold" textLength="118.9" lengthAdjust="spacingAndGlyphs">Read count</text>
<rect x="1785.6" y="2409.3" width="25.1" height="131.7" fill="url(#gR)"/>
<path d="M1785.6 2413h5 M1805.7 2413h5" stroke="#fff" stroke-width="0.9" opacity=".85"/>
<text x="1816" y="2419.3" font-size="17.6">15000</text>
<path d="M1785.6 2453h5 M1805.7 2453h5" stroke="#fff" stroke-width="0.9" opacity=".85"/>
<text x="1816" y="2459.3" font-size="17.6">10000</text>
<path d="M1785.6 2494.5h5 M1805.7 2494.5h5" stroke="#fff" stroke-width="0.9" opacity=".85"/>
<text x="1816" y="2500.8" font-size="17.6">5000</text>
<path d="M1785.6 2534h5 M1805.7 2534h5" stroke="#fff" stroke-width="0.9" opacity=".85"/>
<text x="1816" y="2540.3" font-size="17.6">0</text>
</svg>
</body></html>
